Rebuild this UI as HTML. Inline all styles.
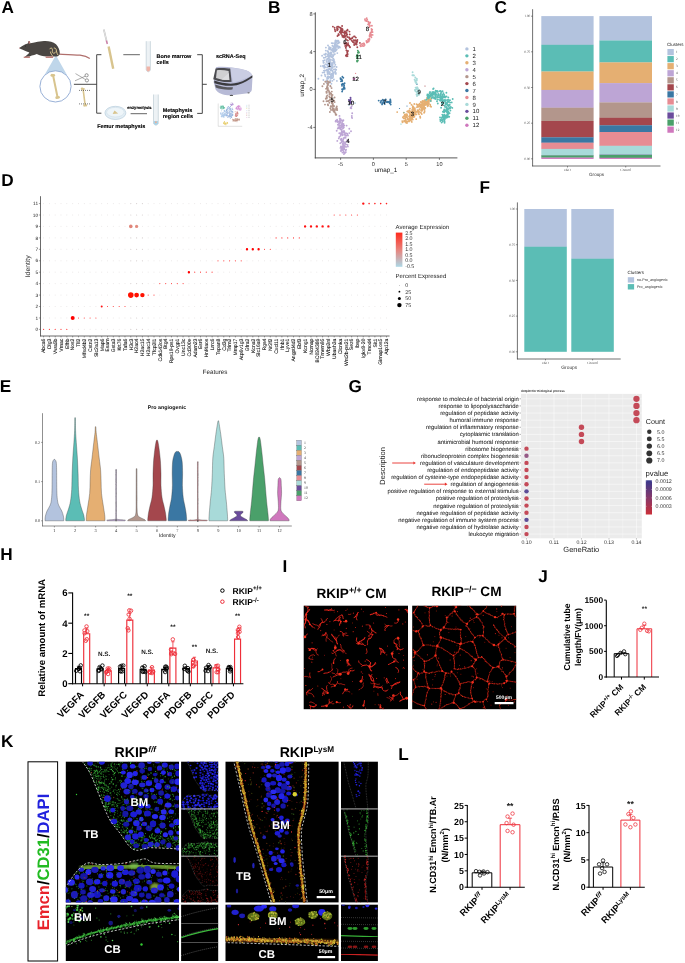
<!DOCTYPE html>
<html><head><meta charset="utf-8"><style>
html,body{margin:0;padding:0;background:#fff;}
svg{display:block;font-family:"Liberation Sans", sans-serif;will-change:transform;}
text{text-rendering:geometricPrecision;}
</style></head><body>
<svg width="685" height="963" viewBox="0 0 685 963">
<rect width="685" height="963" fill="#fff"/>
<text x="1.40" y="12.80" font-size="17.2" font-weight="bold">A</text>
<text x="268.00" y="12.80" font-size="17.2" font-weight="bold">B</text>
<text x="494.40" y="12.60" font-size="17.2" font-weight="bold">C</text>
<text x="1.30" y="186.10" font-size="17.2" font-weight="bold">D</text>
<text x="-0.30" y="391.70" font-size="17.2" font-weight="bold">E</text>
<text x="479.60" y="192.60" font-size="17.2" font-weight="bold">F</text>
<text x="348.40" y="392.20" font-size="17.2" font-weight="bold">G</text>
<text x="0.30" y="560.00" font-size="17.2" font-weight="bold">H</text>
<text x="282.40" y="572.00" font-size="17.2" font-weight="bold">I</text>
<text x="538.20" y="581.60" font-size="17.2" font-weight="bold">J</text>
<text x="0.90" y="747.20" font-size="17.2" font-weight="bold">K</text>
<text x="398.20" y="759.80" font-size="17.2" font-weight="bold">L</text>
<path d="M55.9,55.2 L44.5,75 L67,75 Z" fill="#BFD6EA" />
<circle cx="55.50" cy="86.40" r="15.60" fill="#fff" stroke="#7E9CCB" stroke-width="0.8" />
<line x1="53.00" y1="75.00" x2="57.60" y2="97.50" stroke="#D8C48E" stroke-width="2.0" stroke-linecap="round"/><circle cx="52.02" cy="75.20" r="1.50" fill="#D8C48E" /><circle cx="53.88" cy="75.32" r="1.20" fill="#D8C48E" /><circle cx="56.72" cy="97.68" r="1.40" fill="#D8C48E" /><circle cx="58.48" cy="97.32" r="1.40" fill="#D8C48E" />
<path d="M59.0,54.2 C66,54.4 74,54.5 80,55.2 C84,55.8 87.5,56.9 89.8,58.4" fill="none" stroke="#B06F6C" stroke-width="1.2" />
<path d="M19.3,48.1 C21.5,46.2 24.5,44.6 27.8,43.6 L28.4,41.2 L29.6,41.0 L30.3,43.2 C32.5,42.8 33.8,42.6 35.5,42.3 C38.5,41.6 41,41.1 44,41.0 C48.5,40.8 53,41.6 56,44.3 C58.4,46.6 59.8,50.2 59.8,53.2 C59.7,55.2 58.2,56.2 56.4,56.4 L53,56.6 L47,56.5 C43,56.1 39.5,55.2 36.8,53.9 C35,54.6 33.4,55.3 31.8,55.6 L29.6,56.6 L24.2,57.2 C26.5,55.6 28.2,54.2 29.4,52.6 C27.5,51.6 25.8,50.9 24.3,50.4 C22.3,49.8 20.4,49.1 19.3,48.1 Z" fill="#4A4643" />
<path d="M28.2,41.4 L29.7,41.0 L30.4,43.4 L28.9,44.0 Z" fill="#B77C78" />
<circle cx="19.50" cy="48.00" r="0.55" fill="#C98C8E" />
<path d="M23.6,56.8 L29.6,56.3 L30.0,57.9 L23.8,58.0 Z" fill="#C0827E" />
<path d="M45.4,56.4 L53.0,56.2 L53.2,57.9 L45.8,58.1 Z" fill="#C0827E" />
<circle cx="25.60" cy="46.00" r="0.45" fill="#111" />
<path d="M49.6,49.2 C50.5,47.6 52,47.6 52.4,49.2 C52.8,50.8 51.8,51.6 52.6,52.6 C53.6,53.8 55.0,53.2 55.8,51.6 M53.8,48.0 C55.4,47.8 56.6,49.2 56.4,51.0 C56.6,52.8 57.4,54.0 58.0,55.0 M50.4,51.6 C50.8,53.6 51.6,55.0 52.8,56.0" fill="none" stroke="#D8C48E" stroke-width="1.0" />
<circle cx="86.60" cy="75.30" r="1.60" fill="none" stroke="#555" stroke-width="0.6" />
<circle cx="86.90" cy="80.40" r="1.60" fill="none" stroke="#555" stroke-width="0.6" />
<line x1="85.20" y1="76.20" x2="75.00" y2="80.80" stroke="#777" stroke-width="0.6" />
<line x1="85.40" y1="79.50" x2="75.50" y2="73.60" stroke="#777" stroke-width="0.6" />
<line x1="73.90" y1="84.30" x2="96.70" y2="84.30" stroke="#333" stroke-width="0.9" />
<path d="M101.4,54.7 L96.7,54.7 L96.7,113.2 L101.4,113.2" fill="none" stroke="#333" stroke-width="0.9" />
<line x1="83.00" y1="88.50" x2="85.20" y2="105.50" stroke="#D8C48E" stroke-width="1.6" stroke-linecap="round"/><circle cx="82.01" cy="88.63" r="1.20" fill="#D8C48E" /><circle cx="83.89" cy="88.88" r="0.96" fill="#D8C48E" /><circle cx="84.31" cy="105.62" r="1.12" fill="#D8C48E" /><circle cx="86.09" cy="105.38" r="1.12" fill="#D8C48E" />
<line x1="79.00" y1="90.40" x2="90.00" y2="90.40" stroke="#222" stroke-width="0.6" stroke-dasharray="1,1"/>
<line x1="79.00" y1="103.90" x2="90.00" y2="103.90" stroke="#222" stroke-width="0.6" stroke-dasharray="1,1"/>
<line x1="103.80" y1="29.50" x2="107.20" y2="43.50" stroke="#bbb" stroke-width="1.6" />
<line x1="103.80" y1="29.50" x2="107.20" y2="43.50" stroke="#eee" stroke-width="0.8" />
<line x1="106.30" y1="40.50" x2="107.40" y2="44.00" stroke="#D07BA8" stroke-width="1.3" />
<line x1="108.60" y1="46.50" x2="113.20" y2="68.80" stroke="#D8C48E" stroke-width="2.4" />
<line x1="123.30" y1="54.70" x2="139.90" y2="54.70" stroke="#555" stroke-width="0.9" />
<path d="M146.2,41.2 L146.2,70 Q148.3,73.6 150.4,70 L150.4,41.2" fill="#EDF2F5" stroke="#B5C6CF" stroke-width="0.6" />
<path d="M146.5,66.5 L146.5,70 Q148.3,73.2 150.1,70 L150.1,66.5 Z" fill="#F0B4A8" />
<text x="156.60" y="58.30" font-size="5.45" font-weight="bold" stroke="#000" stroke-width="0.12">Bone marrow</text>
<text x="156.60" y="64.40" font-size="5.45" font-weight="bold" stroke="#000" stroke-width="0.12">cells</text>
<path d="M197.2,54.7 L202.3,54.7 L202.3,113.4 L197.2,113.4 M202.3,84.3 L206.8,84.3" fill="none" stroke="#333" stroke-width="0.9" />
<ellipse cx="115.4" cy="112.9" rx="10.5" ry="6.6" fill="#E3EEF5" stroke="#AFC6D6" stroke-width="0.6"/>
<ellipse cx="115.4" cy="112.2" rx="8.8" ry="4.8" fill="#EEF5F9" stroke="#C3D5E1" stroke-width="0.4"/>
<path d="M112.6,114 L114.5,110.6 L118.2,113.6 Z" fill="#D8C48E" />
<text x="127.30" y="109.10" font-size="4.1" font-weight="bold" stroke="#000" stroke-width="0.12">enzymolysis</text>
<line x1="130.60" y1="113.70" x2="147.00" y2="113.70" stroke="#555" stroke-width="0.9" />
<path d="M153.5,94.5 L153.5,123.5 Q155.9,127 158.3,123.5 L158.3,94.5" fill="#EDF2F5" stroke="#B5C6CF" stroke-width="0.6" />
<path d="M153.8,121 L153.8,123.5 Q155.9,126.5 158.0,123.5 L158.0,121 Z" fill="#A9D4EA" />
<circle cx="155.90" cy="122.30" r="1.00" fill="#E8B09A" />
<text x="162.70" y="111.70" font-size="5.45" font-weight="bold" stroke="#000" stroke-width="0.12">Metaphysis</text>
<text x="162.70" y="118.10" font-size="5.45" font-weight="bold" stroke="#000" stroke-width="0.12">region cells</text>
<text x="97.20" y="127.50" font-size="5.45" font-weight="bold" stroke="#000" stroke-width="0.12">Femur metaphysis</text>
<text x="215.90" y="58.10" font-size="5.45" font-weight="bold" stroke="#000" stroke-width="0.12">scRNA-Seq</text>
<path d="M216,67.2 C222,66.0 236,67.2 246,70.3 C251,72 252.6,75 252.4,79 L251.8,90 C251.4,92.5 249,93.2 246,93.4 L232,95.2 C224,95.6 218,93.2 215.6,89.4 L213.6,82 Z" fill="#B7BAD6" />
<path d="M230,67.6 C236,68.0 242,69.2 246.5,70.6 C250.5,72 252.2,74 252.3,75.6 C246,78.4 240,81.4 233,82.6 Z" fill="#CACDE3" />
<path d="M214.2,80.6 C222,83.2 231,84.8 238.5,82.6 C244,81 249,77.6 252.4,75.2 L252.4,77.4 C249,79.6 244.5,82.6 239,84.4 C231,87 222,85.6 214.4,83.2 Z" fill="#3A3A3E" />
<path d="M215.0,84.4 C222,86.6 228,87.6 233,87.2 L232.4,89.6 C226,90.4 220,89.2 215.8,87.6 Z" fill="#58585D" />
<path d="M215.6,68.4 C220,67.6 226,67.8 230.2,68.6 L231.6,81.8 C226,82.6 219,81.4 213.2,79.2 Z" fill="#4C4C50" />
<path d="M216.9,70.3 C220.5,69.9 225,70.2 228.6,71.0 L229.3,79.9 C225,80.4 220.4,79.6 216.0,78.0 Z" fill="#D0D0D2" />
<path d="M221.5,79.6 L228.9,73.0 L229.3,79.9 Z" fill="#DDDDE0" />
<ellipse cx="231.4" cy="95.4" rx="1.8" ry="0.7" fill="#555"/>
<ellipse cx="248.6" cy="92.8" rx="1.2" ry="0.6" fill="#666"/>
<line x1="218.20" y1="103.50" x2="218.20" y2="126.30" stroke="#999" stroke-width="0.3" />
<line x1="218.20" y1="126.30" x2="242.20" y2="126.30" stroke="#999" stroke-width="0.3" />
<path d="M222.1 108.0h0M222.2 107.0h0M221.1 107.2h0M224.3 107.9h0M224.3 107.7h0M223.3 107.6h0M220.5 108.1h0M223.5 108.0h0M220.8 106.1h0M221.2 106.9h0M223.2 107.3h0M223.5 106.6h0M223.2 107.9h0M221.8 108.9h0M223.4 108.6h0M221.6 106.6h0M222.0 107.3h0M223.7 107.7h0M221.9 106.3h0M221.8 108.7h0M221.2 107.7h0M223.2 106.0h0M222.7 108.8h0M220.2 107.1h0M222.4 106.4h0M223.5 107.3h0M220.6 108.2h0M223.7 108.4h0M224.7 107.8h0M222.8 106.0h0M223.6 106.7h0M221.9 106.1h0M221.1 106.8h0" stroke="#62BFA2" stroke-width="0.80" stroke-linecap="round" fill="none" />
<path d="M224.7 110.7h0M220.9 114.5h0M225.4 115.2h0M221.5 110.8h0M223.9 112.1h0M221.5 116.2h0M225.1 114.4h0M223.7 115.2h0M225.5 115.3h0M224.2 115.4h0M221.2 116.4h0M224.8 115.3h0M220.7 112.9h0M224.3 110.6h0M222.9 116.5h0M221.5 116.9h0M224.2 113.6h0M223.8 115.7h0M223.4 116.8h0M222.0 112.9h0M225.0 114.1h0M221.8 116.2h0M225.4 113.0h0M221.0 113.7h0M222.9 113.2h0M225.2 111.9h0M225.0 111.5h0M221.8 115.6h0M225.0 115.9h0M223.9 114.4h0M223.5 115.6h0M222.9 114.8h0M224.3 114.0h0M224.6 115.4h0M225.8 114.6h0M222.4 113.0h0M223.2 116.4h0M222.6 115.1h0M224.8 110.8h0M221.3 114.6h0M224.0 114.7h0M222.4 115.7h0M223.7 112.6h0M225.9 114.6h0M222.1 113.7h0M222.8 113.8h0M220.5 113.3h0M224.7 111.5h0M223.1 116.4h0M224.4 117.0h0M220.8 113.3h0M222.6 115.7h0M224.2 110.3h0M224.7 111.1h0M224.2 110.9h0M223.5 116.8h0M222.9 114.5h0M224.7 114.4h0M223.1 117.3h0M225.0 113.3h0" stroke="#A8C7EA" stroke-width="0.80" stroke-linecap="round" fill="none" />
<path d="M232.9 109.9h0M231.7 111.3h0M229.9 115.4h0M230.1 115.1h0M227.2 108.1h0M230.9 108.7h0M227.8 107.7h0M232.1 115.0h0M232.3 109.4h0M229.6 108.0h0M231.0 117.5h0M228.0 117.4h0M231.8 111.7h0M226.7 116.0h0M229.4 109.8h0M230.6 114.2h0M232.3 109.2h0M231.6 117.0h0M232.5 111.8h0M228.0 116.2h0M229.9 113.0h0M232.5 111.5h0M226.2 111.4h0M226.5 114.8h0M230.4 109.8h0M229.6 115.9h0M229.8 117.3h0M229.5 116.5h0M231.9 116.9h0M228.1 115.8h0M226.6 109.4h0M226.6 115.3h0M227.0 112.4h0M229.1 112.3h0M228.2 113.4h0M232.8 112.5h0M230.8 116.3h0M229.2 107.7h0M228.4 116.5h0M226.6 110.5h0M231.7 115.4h0M229.6 115.8h0M230.0 107.9h0M226.7 110.3h0M231.6 110.2h0M227.7 109.4h0M226.6 112.0h0M227.1 113.8h0M226.1 113.3h0M228.5 106.7h0M231.3 111.2h0M226.3 110.1h0M230.3 110.4h0M231.3 115.3h0M231.2 113.8h0M232.2 114.7h0M230.3 106.5h0M231.3 116.9h0M228.9 110.4h0M232.2 108.2h0M230.3 118.5h0M227.6 115.1h0M232.9 112.0h0M230.8 116.0h0M227.5 112.0h0M230.3 115.8h0M229.5 111.5h0M227.3 111.0h0M231.7 112.8h0M227.8 109.2h0M232.9 114.9h0M230.4 106.3h0M231.1 114.4h0M232.7 113.8h0M229.4 114.7h0M226.6 115.3h0M230.4 109.4h0M231.6 117.3h0M226.9 110.1h0M230.3 113.2h0M228.7 108.5h0M232.7 115.1h0M227.5 108.1h0M232.5 115.4h0M232.7 114.8h0M227.6 113.5h0M226.3 110.4h0M229.5 114.7h0M227.9 111.9h0M230.7 114.0h0M231.1 113.3h0M228.8 115.7h0M229.7 109.0h0M228.1 112.4h0M229.3 113.1h0M229.6 113.2h0M229.3 107.7h0M230.5 116.5h0M230.7 111.6h0M230.6 108.6h0M226.3 112.6h0M227.6 115.2h0M228.2 106.5h0M227.8 117.3h0" stroke="#90AEDC" stroke-width="0.80" stroke-linecap="round" fill="none" />
<path d="M231.2 102.9h0M230.7 104.5h0M232.2 104.2h0M233.0 104.5h0M231.6 104.6h0M233.0 104.7h0M232.6 103.2h0M231.4 104.7h0M231.3 104.9h0M232.3 104.8h0M231.5 105.4h0M232.9 103.8h0M231.7 105.4h0M231.2 104.8h0M232.7 104.0h0M230.3 104.2h0M232.0 104.9h0M232.5 104.0h0M232.6 104.5h0" stroke="#B79AD8" stroke-width="0.80" stroke-linecap="round" fill="none" />
<path d="M239.0 108.7h0M238.1 109.9h0M236.7 107.6h0M238.6 106.3h0M238.0 106.0h0M237.3 109.6h0M239.8 108.5h0M238.2 106.4h0M241.2 109.3h0M240.4 107.2h0M238.3 106.1h0M240.0 110.2h0M235.9 108.5h0M239.5 106.2h0M236.2 107.3h0M237.6 106.5h0M238.7 109.1h0M239.8 109.8h0M240.8 110.2h0M236.4 107.8h0M236.9 107.0h0M238.4 108.6h0M239.4 106.3h0M236.4 108.6h0M238.2 108.0h0M238.5 107.2h0M240.0 109.3h0M238.4 107.3h0M238.4 105.8h0M236.7 108.7h0M236.1 108.9h0M238.9 106.4h0M238.1 108.0h0M239.5 109.7h0M238.5 107.1h0M238.3 108.5h0M240.0 109.1h0M237.4 106.5h0M237.9 107.3h0M236.6 108.4h0M237.6 108.8h0M239.7 107.8h0M241.5 108.2h0M240.6 108.8h0M239.9 106.1h0M237.1 109.1h0" stroke="#D790D6" stroke-width="0.80" stroke-linecap="round" fill="none" />
<path d="M236.8 116.4h0M236.7 115.9h0M237.2 115.4h0M237.0 113.5h0M236.9 112.0h0M237.5 112.3h0M236.6 116.4h0M236.1 113.8h0M237.7 113.8h0M235.5 114.3h0M237.1 115.1h0M235.7 116.1h0M238.0 113.8h0M236.7 113.0h0M237.8 112.7h0M237.2 112.9h0M235.6 115.1h0M237.8 113.8h0M235.6 115.2h0M236.3 114.4h0M237.7 115.3h0M236.0 116.4h0M236.4 115.2h0M235.6 113.7h0M235.2 115.8h0M237.6 112.1h0M235.2 111.8h0" stroke="#D27A7A" stroke-width="0.80" stroke-linecap="round" fill="none" />
<path d="M238.8 119.5h0M235.8 119.6h0M235.7 118.8h0M236.1 118.6h0M235.8 120.4h0M237.3 119.7h0M233.7 120.2h0M235.0 121.5h0M238.0 119.9h0M234.8 119.2h0M233.6 119.6h0M236.8 120.6h0M237.0 121.7h0M234.1 120.0h0M239.3 119.0h0M234.6 120.2h0M236.4 120.5h0M235.3 120.5h0M236.1 120.9h0M232.6 119.3h0M236.0 118.8h0M233.5 120.7h0M234.3 120.7h0M237.9 120.4h0M237.4 119.9h0M232.8 120.0h0M237.2 119.4h0M235.7 120.9h0M233.8 120.7h0M239.5 119.5h0M236.4 119.8h0M239.3 120.3h0M238.2 119.2h0M236.0 120.0h0M233.0 121.1h0M237.7 118.5h0M238.0 119.8h0M237.2 120.4h0" stroke="#BF8F80" stroke-width="0.80" stroke-linecap="round" fill="none" />
<path d="M223.6 123.0h0M227.5 122.7h0M224.3 121.9h0M223.9 123.6h0M227.7 123.6h0M225.9 124.9h0M224.8 122.4h0M226.4 123.9h0M224.3 122.1h0M226.1 123.5h0M223.8 123.0h0M224.7 123.8h0M225.4 123.1h0M225.1 124.4h0M227.5 122.8h0M226.8 122.4h0M225.7 124.1h0M227.6 122.8h0M225.5 123.4h0M223.6 123.2h0M224.5 123.6h0M224.5 121.7h0M225.7 123.5h0M224.8 124.2h0" stroke="#E6CB66" stroke-width="0.80" stroke-linecap="round" fill="none" />
<circle cx="246.80" cy="105.20" r="0.40" fill="#9BC4E8" />
<line x1="247.80" y1="105.20" x2="250.00" y2="105.20" stroke="#bbb" stroke-width="0.4" />
<circle cx="246.80" cy="106.95" r="0.40" fill="#62BFA2" />
<line x1="247.80" y1="106.95" x2="250.00" y2="106.95" stroke="#bbb" stroke-width="0.4" />
<circle cx="246.80" cy="108.70" r="0.40" fill="#E6CB66" />
<line x1="247.80" y1="108.70" x2="250.00" y2="108.70" stroke="#bbb" stroke-width="0.4" />
<circle cx="246.80" cy="110.45" r="0.40" fill="#A8C7EA" />
<line x1="247.80" y1="110.45" x2="250.00" y2="110.45" stroke="#bbb" stroke-width="0.4" />
<circle cx="246.80" cy="112.20" r="0.40" fill="#B79AD8" />
<line x1="247.80" y1="112.20" x2="250.00" y2="112.20" stroke="#bbb" stroke-width="0.4" />
<circle cx="246.80" cy="113.95" r="0.40" fill="#D27A7A" />
<line x1="247.80" y1="113.95" x2="250.00" y2="113.95" stroke="#bbb" stroke-width="0.4" />
<circle cx="246.80" cy="115.70" r="0.40" fill="#BF8F80" />
<line x1="247.80" y1="115.70" x2="250.00" y2="115.70" stroke="#bbb" stroke-width="0.4" />
<circle cx="246.80" cy="117.45" r="0.40" fill="#D790D6" />
<line x1="247.80" y1="117.45" x2="250.00" y2="117.45" stroke="#bbb" stroke-width="0.4" />
<path d="M330.3 48.9h0M328.0 63.2h0M338.2 40.6h0M335.7 49.3h0M324.9 74.8h0M331.7 43.1h0M328.9 55.1h0M336.6 41.1h0M337.3 53.1h0M328.0 51.3h0M332.9 67.0h0M321.5 75.5h0M331.2 76.9h0M335.7 48.2h0M327.6 69.8h0M327.3 58.7h0M334.1 60.0h0M335.2 71.4h0M333.4 74.0h0M332.3 78.0h0M331.2 76.3h0M328.7 64.5h0M331.2 74.7h0M327.8 73.7h0M332.4 45.8h0M336.6 42.3h0M325.4 76.3h0M323.4 80.0h0M334.9 54.1h0M337.7 43.5h0M329.8 65.6h0M326.7 82.8h0M327.5 78.9h0M326.0 56.7h0M322.1 55.8h0M323.8 62.8h0M330.5 56.3h0M328.7 60.6h0M329.2 56.0h0M328.1 63.7h0M323.2 66.6h0M329.2 48.8h0M339.4 42.5h0M330.0 81.8h0M327.4 67.3h0M328.6 55.3h0M328.0 55.4h0M335.3 41.0h0M332.3 57.5h0M333.8 52.1h0M332.2 70.4h0M332.6 50.3h0M331.2 77.5h0M332.5 63.3h0M335.2 51.2h0M335.2 43.6h0M333.0 51.6h0M330.5 62.4h0M334.0 49.0h0M330.5 53.2h0M323.2 60.8h0M339.5 46.6h0M333.1 75.7h0M331.5 78.2h0M332.5 65.2h0M328.4 64.2h0M336.0 50.5h0M332.1 50.6h0M327.6 70.7h0M333.0 74.3h0M337.7 40.7h0M329.7 48.8h0M334.3 54.5h0M330.7 59.7h0M330.2 55.6h0M329.2 47.1h0M335.3 42.1h0M329.8 72.4h0M330.0 64.4h0M331.7 54.2h0M323.8 57.7h0M338.6 41.3h0M339.9 47.6h0M333.1 76.9h0M330.2 55.1h0M325.9 64.1h0M333.0 48.8h0M328.3 58.4h0M336.8 45.3h0M329.9 60.4h0M326.8 69.9h0M325.1 54.7h0M328.5 52.9h0M328.7 48.9h0M334.8 44.3h0M332.6 74.8h0M330.5 74.5h0M334.4 63.1h0M334.7 62.1h0M328.7 61.8h0M335.4 44.5h0M334.7 45.4h0M338.8 46.4h0M338.2 48.0h0M336.8 42.8h0M334.0 72.8h0M335.8 73.9h0M328.9 58.6h0M330.8 69.8h0M325.8 50.6h0M333.5 51.5h0M329.2 60.7h0M327.9 56.3h0M333.4 58.6h0M327.2 81.6h0M332.9 43.2h0M324.7 66.7h0M331.0 64.6h0M335.7 40.4h0M323.5 62.8h0M333.5 49.1h0M327.9 66.3h0M332.5 67.0h0M322.6 72.6h0M328.7 66.3h0M336.1 42.0h0M332.7 48.6h0M336.9 80.9h0M326.1 56.6h0M331.6 70.1h0M328.1 51.9h0M329.0 47.1h0M329.9 61.2h0M324.8 60.1h0M329.9 77.0h0M334.0 54.2h0M331.8 73.6h0M328.5 78.4h0M330.9 70.5h0M328.9 77.1h0M328.8 62.9h0M327.6 54.6h0M328.0 45.4h0M328.3 54.9h0M331.3 49.8h0M331.0 75.5h0M327.0 81.6h0M327.8 76.5h0M330.3 63.4h0M335.2 69.2h0M332.7 64.5h0M329.6 49.2h0M331.5 68.0h0M332.8 73.1h0M335.9 73.0h0M333.1 48.8h0M323.5 62.0h0M328.7 60.3h0M335.8 40.7h0M328.9 58.0h0M328.1 54.3h0M335.9 42.4h0M327.4 74.1h0M324.2 54.4h0M331.4 52.6h0M333.2 51.6h0M329.2 69.2h0M330.3 49.6h0M329.6 68.4h0M333.5 47.0h0M326.8 60.0h0M332.6 49.4h0M336.6 67.0h0M325.8 53.6h0M335.3 64.7h0M333.7 49.3h0M329.0 63.9h0M327.1 67.4h0M326.8 61.6h0M333.7 62.2h0M324.3 67.9h0M330.9 78.5h0M328.7 71.4h0M330.6 55.4h0M332.3 60.1h0M329.2 73.9h0M323.8 70.6h0M329.1 65.4h0M336.2 69.8h0M329.9 53.2h0M336.2 45.0h0M334.9 50.5h0M325.2 67.3h0M327.7 70.5h0M327.4 72.2h0M329.4 74.0h0M325.9 53.8h0M334.7 49.0h0M332.2 75.2h0M333.9 49.3h0M330.3 56.6h0M336.5 46.8h0M338.3 43.3h0M329.5 55.0h0M329.3 56.4h0M330.2 80.5h0M332.2 63.3h0M331.4 54.4h0M328.3 76.5h0M332.4 57.2h0M332.0 54.8h0M328.1 66.8h0M334.6 66.6h0M338.5 41.2h0M334.7 47.2h0M331.4 64.8h0M326.5 80.4h0M330.7 77.2h0M325.9 47.6h0M335.0 47.4h0M334.0 46.1h0M331.5 66.4h0M328.7 62.5h0M332.5 60.4h0M330.6 62.3h0M329.2 61.4h0M324.4 65.3h0M328.0 55.3h0M333.8 69.4h0M328.7 69.2h0M334.8 46.4h0M332.2 73.4h0M329.6 74.0h0M333.2 56.0h0M332.3 80.9h0M337.8 46.2h0M334.1 50.1h0M328.7 65.7h0M334.6 48.9h0M322.9 66.0h0M330.3 59.4h0M334.1 48.5h0M330.3 74.1h0M331.4 83.7h0M334.8 44.3h0M326.0 70.5h0M332.0 68.3h0M327.2 64.9h0M324.5 70.5h0M330.7 47.7h0M332.7 71.2h0M333.7 61.3h0M324.3 72.5h0M329.9 68.1h0M329.2 82.2h0M336.2 45.0h0M329.2 72.7h0M327.0 77.9h0M320.8 66.1h0M333.1 75.9h0M318.4 78.8h0M328.3 83.9h0M336.8 49.6h0M327.6 51.2h0M337.0 41.2h0M326.5 61.9h0M329.0 72.1h0M330.6 52.5h0M334.7 43.1h0M333.9 79.5h0M331.7 57.0h0M325.1 57.6h0" stroke="#B3C3DE" stroke-width="1.90" stroke-linecap="round" fill="none" />
<path d="M344.8 31.4h0M349.5 31.6h0M342.5 36.7h0M337.6 28.7h0M347.7 37.0h0M340.6 27.8h0M357.4 40.0h0M336.9 27.9h0M344.6 35.1h0M349.4 37.7h0M342.0 28.7h0M344.0 32.1h0M346.5 32.7h0M352.9 42.0h0M352.5 37.4h0M351.8 40.7h0M342.7 30.2h0M356.4 41.3h0M354.0 36.4h0M345.8 39.0h0M341.0 33.0h0M355.6 43.5h0M338.8 34.3h0M347.0 34.3h0M340.0 32.0h0M355.9 37.6h0M352.2 38.2h0M345.2 36.6h0M351.7 38.6h0M347.9 40.6h0M357.2 41.7h0M341.4 29.6h0M345.1 31.5h0M347.5 29.7h0M341.0 33.7h0M338.8 35.1h0M337.8 29.6h0M334.6 27.8h0M351.0 38.7h0M335.3 31.2h0M337.2 30.3h0M340.9 31.3h0M342.3 30.6h0M357.3 47.2h0M349.3 37.5h0M337.2 26.8h0M342.1 26.0h0M339.2 27.3h0M346.1 35.2h0M356.6 44.5h0M340.5 30.9h0M356.1 43.1h0M359.9 42.9h0M337.5 36.0h0M345.5 33.0h0M334.9 29.7h0M350.1 39.4h0M344.0 37.4h0M354.2 43.9h0M356.1 42.1h0M356.7 42.7h0M341.8 32.3h0M354.2 45.1h0M342.5 29.3h0M355.8 40.5h0M347.1 34.7h0M345.8 36.8h0M347.1 40.1h0M342.8 35.6h0M354.7 36.5h0M354.8 40.4h0M356.4 44.3h0M346.2 33.0h0M348.1 44.6h0M342.1 35.2h0M356.5 41.8h0M344.5 33.8h0M347.6 30.4h0M338.4 26.6h0M356.0 44.4h0M349.7 34.4h0M353.7 40.1h0M339.7 32.0h0M340.7 28.9h0M349.4 38.5h0M342.7 32.4h0M337.1 29.8h0M332.9 26.6h0M346.8 30.8h0M355.3 40.2h0M353.9 42.2h0M338.4 34.3h0M343.8 36.3h0" stroke="#A4474D" stroke-width="1.90" stroke-linecap="round" fill="none" />
<path d="M348.0 51.0h0M350.0 47.3h0M346.6 46.1h0M346.4 50.3h0M347.2 52.0h0M346.9 56.3h0M347.9 44.6h0M348.1 43.1h0M349.7 46.8h0M345.8 47.8h0M347.5 56.1h0M346.1 43.0h0M345.9 55.8h0M346.6 45.0h0M346.5 54.6h0M346.5 55.8h0M345.9 48.0h0M344.5 43.5h0M347.8 44.3h0M347.2 54.2h0M345.0 43.4h0M347.5 44.1h0M347.8 54.1h0M346.7 56.1h0M348.5 45.2h0M349.1 45.7h0M345.0 43.7h0M346.7 45.8h0M347.3 52.8h0M345.2 45.9h0M346.7 44.7h0" stroke="#A4474D" stroke-width="1.90" stroke-linecap="round" fill="none" />
<path d="M369.2 38.9h0M366.7 41.8h0M369.6 36.2h0M366.7 18.2h0M370.4 32.9h0M363.4 43.5h0M366.8 42.5h0M360.2 45.5h0M367.7 41.7h0M371.4 37.2h0M364.0 43.5h0M363.8 44.0h0M370.8 35.8h0M367.2 19.7h0M371.9 25.8h0M372.6 34.9h0M367.7 41.2h0M369.4 38.5h0M370.5 32.6h0M368.1 39.5h0M366.7 21.0h0M368.8 41.4h0M368.1 24.4h0M368.4 21.6h0M368.7 23.8h0M365.2 20.6h0M363.7 43.6h0M366.4 21.0h0M363.8 46.0h0M370.4 33.2h0M362.1 45.9h0M371.2 34.7h0M361.3 44.1h0M364.6 44.9h0M367.8 42.1h0M360.7 46.3h0M368.4 22.0h0M369.6 35.4h0M366.4 40.9h0M371.7 30.5h0M369.9 34.6h0M366.7 20.8h0M369.4 23.0h0M362.7 43.8h0M372.2 29.8h0M368.4 40.7h0M370.2 22.4h0M371.1 32.6h0M370.1 34.0h0M369.6 23.7h0M364.2 44.0h0M367.1 19.7h0M372.6 32.1h0M369.9 25.8h0M369.9 25.9h0M365.0 19.2h0M362.5 45.9h0M371.5 28.9h0M369.5 39.8h0M371.6 31.2h0M369.2 25.0h0M369.3 27.0h0" stroke="#E78C93" stroke-width="1.90" stroke-linecap="round" fill="none" />
<path d="M357.3 57.5h0M357.9 52.7h0M357.3 58.4h0M356.7 56.4h0M356.9 57.0h0M358.4 51.7h0M359.0 52.5h0M357.0 57.8h0M357.1 61.5h0M357.3 61.5h0M357.6 58.1h0M358.5 55.8h0M357.8 50.6h0M357.9 60.4h0M357.1 54.9h0M358.5 55.6h0M358.3 52.7h0M356.9 60.9h0" stroke="#4AA06A" stroke-width="1.90" stroke-linecap="round" fill="none" />
<path d="M354.0 79.0h0M354.5 78.8h0M353.5 79.0h0" stroke="#CF78BD" stroke-width="1.90" stroke-linecap="round" fill="none" />
<path d="M342.4 76.7h0M342.1 91.5h0M342.0 85.7h0M344.1 85.7h0M343.2 89.0h0M341.0 81.3h0M344.4 87.5h0M341.6 79.5h0M340.6 79.0h0M342.2 80.3h0M340.9 78.8h0M342.6 89.8h0M344.6 83.3h0M342.1 89.2h0M342.2 81.1h0M340.5 78.1h0M344.7 88.7h0M341.8 84.5h0M343.1 84.0h0M342.6 83.8h0M343.3 77.8h0M343.8 87.3h0M343.7 88.1h0M344.0 85.1h0" stroke="#3A77A3" stroke-width="1.90" stroke-linecap="round" fill="none" />
<path d="M390.6 100.9h0M382.2 103.5h0M384.0 102.6h0M390.2 102.1h0M389.9 103.1h0M390.6 102.5h0M389.8 102.7h0M390.7 104.6h0M383.3 102.0h0M384.5 100.6h0M384.7 104.0h0M390.3 99.5h0M380.8 101.9h0M384.6 100.4h0M389.5 101.6h0M388.0 102.2h0M382.1 104.4h0M383.3 100.4h0M389.8 103.3h0M383.1 102.9h0M386.6 102.0h0M389.4 101.7h0M384.5 102.2h0M380.6 102.5h0M383.9 102.1h0M385.7 99.4h0M387.8 101.7h0M382.8 99.7h0M381.2 100.7h0M383.2 102.1h0M378.7 100.6h0" stroke="#3A77A3" stroke-width="1.90" stroke-linecap="round" fill="none" />
<path d="M326.8 98.6h0M334.5 111.2h0M328.2 84.0h0M332.7 108.3h0M332.5 95.0h0M334.3 109.9h0M331.9 96.3h0M329.1 91.8h0M333.7 111.5h0M334.7 102.1h0M330.3 85.9h0M327.8 90.0h0M327.7 87.6h0M331.3 97.5h0M331.6 101.1h0M332.3 106.1h0M322.4 86.3h0M326.9 87.8h0M330.9 109.9h0M333.9 106.4h0M334.0 106.0h0M330.2 92.9h0M326.9 97.7h0M330.7 106.3h0M332.8 104.5h0M329.9 82.2h0M325.0 104.6h0M329.3 96.6h0M326.8 91.5h0M333.4 110.8h0M328.4 101.0h0M326.6 97.3h0M334.6 112.3h0M328.7 90.4h0M325.8 98.7h0M327.7 89.0h0M329.9 99.9h0M329.3 91.9h0M327.4 95.5h0M332.6 99.6h0M325.3 81.7h0M327.5 81.1h0M326.1 88.8h0M331.5 95.4h0M331.2 93.8h0M326.5 92.8h0M328.0 81.5h0M328.8 82.2h0M327.1 86.1h0M327.2 81.8h0M335.7 114.8h0M330.6 86.4h0M331.8 102.7h0M336.8 106.4h0M336.4 107.4h0M332.6 101.4h0M329.3 92.4h0M336.0 109.7h0M331.8 91.6h0M331.9 103.3h0M326.4 91.7h0M334.2 100.6h0M333.7 110.1h0M329.6 93.5h0M326.7 96.1h0M327.9 88.7h0M329.4 102.8h0M323.5 101.3h0M330.3 108.2h0M335.6 113.4h0M337.0 108.4h0M329.8 97.6h0M327.9 85.4h0M331.9 109.9h0M333.0 109.3h0M326.5 101.3h0M328.1 105.3h0M333.8 108.7h0M327.3 83.8h0M332.0 106.7h0M327.3 101.1h0M326.8 92.8h0M336.3 114.7h0M333.2 110.4h0M337.2 110.0h0M328.8 100.8h0M332.9 104.0h0M331.6 88.1h0M329.5 94.5h0M332.4 102.9h0M332.5 105.4h0M336.1 108.4h0M331.9 98.4h0M332.6 109.1h0M329.9 112.0h0M334.6 97.5h0M327.2 86.5h0M323.9 83.9h0M327.8 104.4h0" stroke="#B3968C" stroke-width="1.90" stroke-linecap="round" fill="none" />
<path d="M350.1 101.5h0M348.9 100.0h0M351.4 102.8h0M350.6 98.0h0M350.5 97.6h0M349.7 103.2h0M351.2 103.0h0M350.6 99.7h0M350.3 101.0h0" stroke="#6A4C9C" stroke-width="1.90" stroke-linecap="round" fill="none" />
<path d="M352.1 118.1h0M350.6 108.0h0M352.2 113.3h0M351.8 115.9h0M351.6 106.3h0M351.9 117.6h0M351.3 108.3h0M351.5 106.5h0" stroke="#BDA5D5" stroke-width="1.90" stroke-linecap="round" fill="none" />
<path d="M346.0 144.4h0M343.2 144.9h0M344.4 132.8h0M340.5 127.1h0M341.2 149.7h0M344.8 153.2h0M343.6 151.5h0M348.4 142.0h0M341.8 131.2h0M337.8 128.5h0M340.1 121.6h0M343.9 154.1h0M347.6 145.0h0M342.8 147.4h0M342.0 120.5h0M340.8 120.4h0M339.4 121.6h0M340.0 119.5h0M347.7 134.9h0M342.6 143.9h0M339.1 123.4h0M342.7 146.8h0M342.6 135.3h0M341.3 125.2h0M347.2 140.3h0M340.5 147.9h0M343.9 131.2h0M337.9 124.7h0M339.7 128.2h0M345.1 143.6h0M339.3 136.9h0M340.5 122.7h0M341.7 127.0h0M339.3 133.2h0M340.8 150.9h0M341.4 124.7h0M345.2 142.5h0M342.6 150.0h0M345.2 135.2h0M343.1 141.2h0M342.5 125.5h0M342.9 132.4h0M342.2 141.9h0M347.9 146.6h0M343.8 125.6h0M341.4 133.8h0M344.1 148.5h0M340.1 118.8h0M341.3 125.1h0M338.4 127.1h0M338.5 124.2h0M341.6 142.1h0M339.7 125.5h0M338.8 138.4h0M339.7 118.4h0M338.9 125.0h0M340.7 119.3h0M339.3 121.0h0M342.4 152.6h0M345.6 150.3h0M340.6 122.7h0M342.3 123.8h0M340.5 129.4h0M337.3 140.9h0M336.7 130.7h0M344.3 131.3h0M346.6 125.6h0M342.1 132.1h0M342.1 148.5h0M341.7 129.4h0M337.4 122.0h0M340.6 135.8h0M343.4 120.2h0M343.9 144.3h0M343.0 128.4h0M343.2 145.8h0M344.5 152.6h0M344.3 149.1h0M340.7 119.8h0M339.5 115.9h0M335.6 121.5h0M340.8 134.4h0M349.3 133.1h0M343.8 145.6h0M341.2 139.8h0M343.3 139.3h0M343.3 149.8h0M341.1 151.0h0M344.1 131.9h0M343.5 152.4h0M343.8 127.5h0M344.5 134.5h0M341.2 138.8h0M340.6 127.9h0M346.1 149.7h0M342.5 146.2h0M344.2 152.4h0M335.8 120.7h0M341.0 132.9h0M342.3 121.7h0M338.6 121.6h0M346.1 135.8h0M338.9 124.4h0M339.4 122.5h0M343.0 139.9h0M344.2 125.5h0M342.7 126.6h0M343.5 123.9h0M351.0 131.2h0M344.6 146.7h0M343.5 138.2h0M341.6 130.0h0M340.7 139.8h0M343.8 138.3h0M342.0 147.3h0M343.8 148.9h0M337.2 120.4h0M346.0 133.2h0M342.2 123.5h0M343.7 125.4h0M339.5 122.3h0M349.3 128.8h0M345.5 142.1h0M338.7 128.0h0M337.1 119.8h0M345.6 137.8h0M343.6 142.0h0M347.7 140.9h0M344.6 137.4h0M343.4 147.6h0M339.3 127.5h0M341.7 132.0h0M342.5 134.5h0M340.9 146.4h0M345.9 152.1h0M347.2 133.8h0M344.7 145.9h0M341.3 150.4h0M348.0 135.6h0M343.3 132.1h0M340.3 143.2h0M343.1 143.9h0M346.1 146.9h0M342.7 121.2h0M343.6 131.3h0M342.9 132.6h0M341.8 148.9h0M341.8 141.2h0" stroke="#BDA5D5" stroke-width="1.90" stroke-linecap="round" fill="none" />
<path d="M410.0 115.2h0M410.5 114.3h0M407.1 117.6h0M412.6 108.0h0M411.4 114.4h0M424.0 107.4h0M411.0 111.7h0M416.4 114.4h0M424.6 109.9h0M427.6 103.8h0M428.2 102.6h0M425.1 105.1h0M422.2 110.1h0M414.8 111.3h0M419.4 106.0h0M406.2 121.2h0M428.8 98.1h0M424.4 108.4h0M431.1 98.0h0M423.5 101.2h0M426.4 103.4h0M413.8 114.9h0M418.2 111.7h0M404.2 121.4h0M419.6 109.1h0M416.2 119.1h0M416.6 104.2h0M405.3 120.6h0M415.5 111.5h0M410.6 117.3h0M420.5 107.4h0M409.5 112.6h0M421.0 105.8h0M422.4 110.0h0M427.1 102.6h0M406.0 114.8h0M418.6 106.8h0M397.2 112.1h0M403.8 112.8h0M418.8 110.1h0M427.2 104.4h0M413.4 107.0h0M413.0 110.3h0M413.3 116.8h0M423.6 106.7h0M412.8 119.6h0M404.7 115.0h0M414.4 111.2h0M414.8 108.1h0M412.9 115.5h0M413.0 110.4h0M414.4 116.8h0M431.1 106.8h0M418.5 113.5h0M411.8 121.9h0M429.2 99.8h0M418.5 104.6h0M423.8 108.9h0M427.6 102.3h0M406.1 114.3h0M425.0 100.8h0M402.9 117.2h0M428.1 102.3h0M417.6 110.9h0M407.0 123.0h0M410.0 108.6h0M427.7 106.2h0M422.5 100.9h0M420.8 102.0h0M419.3 111.9h0M426.2 104.7h0M424.3 100.6h0M414.1 111.7h0M410.4 120.0h0M420.9 112.7h0M405.7 119.4h0M420.3 117.8h0M414.2 110.6h0M413.0 112.2h0M410.0 103.0h0M424.4 108.3h0M428.9 101.1h0M406.2 122.8h0M409.7 115.7h0M420.4 105.7h0M414.9 109.0h0M411.5 104.8h0M412.3 118.6h0M412.1 109.9h0M404.9 116.5h0M405.0 117.8h0M414.3 104.0h0M428.6 103.8h0M428.4 102.9h0M407.8 119.3h0M420.1 116.4h0M427.4 98.3h0M417.2 111.7h0M412.9 117.3h0M409.1 121.4h0M426.0 102.6h0M409.2 110.5h0M407.0 114.5h0M424.9 104.8h0M415.2 111.6h0M421.1 110.5h0M422.0 110.8h0M414.5 112.8h0M424.4 108.3h0M420.0 104.4h0M417.6 105.2h0M407.2 111.4h0M417.5 110.1h0M413.7 108.4h0M407.2 115.8h0M412.4 112.0h0M427.0 104.2h0M424.4 103.7h0M405.8 119.4h0M409.6 117.5h0M409.7 118.9h0M412.8 106.2h0M425.3 104.9h0M421.8 104.1h0M408.4 112.4h0M411.7 112.9h0M428.8 101.9h0M404.8 114.7h0M405.7 117.0h0M411.3 116.9h0M421.8 102.4h0M430.2 104.8h0M425.3 102.1h0M405.1 118.4h0M407.9 111.6h0M411.6 119.0h0M419.7 103.8h0M426.5 101.4h0M421.3 104.5h0M404.2 120.7h0M421.6 109.5h0M403.6 118.3h0M423.7 105.5h0M430.3 106.2h0M428.9 103.2h0M411.0 115.5h0M428.7 100.6h0M421.9 107.8h0M413.3 109.8h0M412.7 107.8h0M411.7 113.7h0M415.0 110.3h0M410.8 118.0h0M422.6 102.7h0M428.0 101.4h0M406.7 115.8h0M421.3 110.8h0M421.9 108.6h0M424.6 111.8h0M421.9 106.7h0M415.8 112.5h0M428.0 103.2h0M424.9 102.3h0M426.8 101.6h0M407.8 111.2h0M409.0 120.0h0M406.3 117.2h0M403.9 116.1h0M402.2 121.1h0M414.6 109.6h0M427.9 99.7h0M404.2 121.3h0M415.7 114.5h0M412.7 116.9h0M419.0 114.2h0M426.9 98.1h0M405.3 117.3h0M424.4 102.9h0M424.1 106.8h0M425.3 103.0h0M407.7 121.4h0M418.3 110.5h0M428.1 105.5h0M430.8 99.4h0M413.3 111.3h0M422.4 103.5h0M405.9 122.1h0M423.2 103.8h0M407.9 119.3h0M411.5 112.2h0M410.0 111.3h0M424.6 100.2h0M411.4 114.8h0M430.7 101.0h0M421.8 114.1h0M417.5 110.1h0M414.7 109.2h0M406.3 115.3h0M405.6 122.0h0M421.3 107.6h0M411.3 121.0h0M411.6 115.9h0M411.4 117.6h0M417.5 106.2h0M424.1 112.7h0M409.8 117.8h0M417.0 107.3h0M414.1 116.0h0M423.2 108.6h0M422.4 105.1h0M428.1 99.2h0M414.9 113.8h0M425.3 108.0h0M409.2 118.8h0M409.0 116.5h0M412.9 114.4h0M414.0 108.9h0M428.1 100.6h0M424.0 108.9h0M423.1 107.0h0M409.9 114.0h0M413.1 112.5h0M402.5 122.2h0" stroke="#E5AF72" stroke-width="1.90" stroke-linecap="round" fill="none" />
<path d="M429.4 96.8h0M447.8 115.5h0M429.5 96.3h0M429.5 93.3h0M446.1 111.6h0M439.9 97.5h0M427.3 95.5h0M439.4 91.1h0M448.5 99.9h0M442.5 98.5h0M444.3 119.9h0M443.2 117.0h0M439.9 95.1h0M447.6 117.2h0M435.8 92.1h0M446.8 109.7h0M446.6 104.0h0M429.1 97.9h0M440.4 121.0h0M447.5 113.2h0M443.3 115.9h0M449.6 113.2h0M442.2 101.1h0M435.9 96.4h0M433.6 88.5h0M444.7 105.7h0M443.0 102.3h0M442.7 120.0h0M450.1 108.5h0M448.1 102.1h0M430.5 94.6h0M435.1 98.8h0M442.3 99.7h0M446.5 102.9h0M445.8 100.3h0M449.3 107.7h0M442.7 121.6h0M440.3 119.8h0M437.0 101.2h0M448.8 106.6h0M446.0 104.2h0M444.1 118.6h0M443.7 100.5h0M448.2 113.4h0M436.1 95.2h0M442.9 97.5h0M443.8 117.6h0M452.3 107.9h0M446.8 103.7h0M445.1 97.6h0M434.9 97.7h0M442.6 97.4h0M429.5 96.0h0M431.8 98.3h0M445.6 116.2h0M442.1 119.8h0M444.6 122.7h0M431.2 95.8h0M443.0 103.7h0M432.2 92.2h0M441.7 118.0h0M435.3 93.0h0M432.3 97.2h0M437.1 97.3h0M440.1 97.4h0M447.2 109.1h0M449.7 104.8h0M443.0 96.6h0M447.3 114.6h0M445.4 103.2h0M445.8 110.5h0M440.6 90.9h0M441.7 97.2h0M447.1 112.6h0M445.0 115.9h0M442.9 111.7h0M447.7 111.5h0M444.1 95.0h0M448.3 111.7h0M431.9 93.4h0M450.0 100.3h0M444.8 116.4h0M441.6 122.6h0M440.1 100.4h0M447.5 100.0h0M433.7 94.1h0M446.3 117.7h0M444.0 110.5h0M445.5 115.7h0M444.3 111.4h0M438.0 95.2h0M442.7 120.1h0M436.2 96.9h0M444.8 119.3h0M443.9 97.0h0M430.0 96.7h0M437.4 97.4h0M429.0 95.5h0M444.6 117.0h0M447.3 103.1h0M432.8 96.9h0M430.5 95.4h0M430.3 95.2h0M445.2 118.1h0M447.8 110.0h0M445.6 96.7h0M443.6 100.3h0M446.3 109.5h0M448.8 101.6h0M451.7 102.4h0M446.5 96.5h0M435.9 99.0h0M440.5 100.8h0M430.7 100.9h0M438.2 95.3h0M437.9 96.2h0M444.6 118.8h0M437.7 91.9h0M446.5 103.0h0M446.7 107.0h0M441.0 99.6h0M441.4 97.4h0M442.3 101.1h0M444.6 121.2h0M447.7 109.3h0M446.5 116.1h0M432.6 92.3h0M427.6 97.1h0M448.5 105.8h0M447.5 112.2h0M442.1 96.1h0M436.2 91.3h0M440.3 99.3h0M447.9 102.2h0M444.8 100.0h0M446.9 110.0h0M444.2 114.7h0M447.8 112.3h0M444.2 109.5h0M441.8 97.4h0M447.1 108.1h0M430.2 93.1h0M448.2 113.9h0M440.7 93.8h0M447.1 114.8h0M444.6 96.4h0M435.0 95.0h0M440.8 96.3h0M442.3 94.8h0M443.5 111.8h0M443.9 118.7h0M441.2 98.3h0M435.3 95.3h0M450.1 102.6h0M438.7 97.1h0M448.3 97.5h0M449.7 105.1h0M441.1 107.7h0M434.0 98.3h0M440.1 96.4h0M442.8 101.6h0M441.6 98.8h0M446.1 104.3h0M444.9 117.7h0M446.9 103.5h0M447.1 102.2h0M444.7 100.2h0M446.9 110.0h0M448.8 112.4h0M430.0 92.0h0M441.1 99.4h0M437.8 103.5h0M438.3 94.0h0M445.4 110.6h0M446.5 102.9h0M445.6 104.5h0M445.1 106.9h0M435.8 94.3h0M440.0 117.5h0M437.9 99.4h0M443.6 116.7h0M442.7 103.7h0M443.5 118.2h0M442.1 117.3h0M447.9 101.7h0M433.7 93.7h0M443.9 97.0h0M448.7 108.7h0M433.0 94.8h0M437.2 91.0h0M452.7 99.0h0M441.1 92.0h0M435.8 93.9h0M450.8 106.9h0M446.4 107.8h0M431.1 95.7h0M450.4 110.6h0M446.4 92.8h0M428.1 94.6h0M428.1 95.7h0M434.0 97.3h0M448.1 104.9h0M426.2 99.8h0M435.7 90.7h0M445.6 115.6h0M443.4 93.1h0M449.2 116.8h0M444.1 94.8h0M441.5 97.1h0M445.1 117.3h0M447.3 105.1h0M433.1 89.0h0M445.6 115.4h0M439.8 100.1h0M442.9 116.1h0M445.0 101.8h0M443.8 119.5h0M447.9 110.1h0M430.3 95.0h0M441.8 120.0h0M432.2 94.4h0M432.8 95.3h0M436.3 94.2h0M433.9 92.0h0M446.5 111.2h0M428.0 98.5h0M438.5 94.7h0M430.1 95.5h0M427.4 94.4h0M442.6 91.2h0M441.8 103.8h0M444.1 112.2h0M441.1 93.1h0M445.2 116.9h0M442.3 114.6h0" stroke="#5BBDB5" stroke-width="1.90" stroke-linecap="round" fill="none" />
<path d="M417.4 89.1h0M416.8 92.2h0M415.3 77.5h0M415.3 81.7h0M416.5 94.5h0M412.6 72.3h0M416.5 92.1h0M416.8 83.5h0M418.4 91.0h0M416.2 83.2h0M419.0 94.8h0M419.0 90.3h0M417.1 87.2h0M417.8 91.0h0M416.3 83.5h0M417.5 93.6h0M417.0 79.0h0M418.6 92.0h0M416.8 80.5h0M415.3 81.5h0M417.9 88.9h0M417.3 92.6h0M417.8 91.5h0M417.0 96.0h0M418.1 90.1h0M419.0 93.1h0M416.2 82.6h0M413.2 75.3h0M417.9 88.1h0M416.0 89.5h0M415.4 91.0h0M414.0 75.5h0M415.3 80.5h0M415.6 87.6h0M417.1 92.0h0M418.9 93.1h0M416.7 88.4h0M417.8 94.9h0M417.1 91.8h0M417.8 94.4h0M412.4 75.3h0M419.6 91.3h0M414.9 89.9h0M414.6 79.7h0M415.7 81.2h0M416.6 78.8h0" stroke="#A8DAD9" stroke-width="1.90" stroke-linecap="round" fill="none" />
<circle cx="355.60" cy="73.40" r="0.60" fill="#E78C93" />
<circle cx="349.00" cy="105.00" r="0.60" fill="#3A77A3" />
<circle cx="355.00" cy="103.00" r="0.60" fill="#3A77A3" />
<circle cx="399.50" cy="108.50" r="0.60" fill="#3A77A3" />
<circle cx="407.00" cy="106.00" r="0.60" fill="#3A77A3" />
<circle cx="425.00" cy="86.00" r="0.60" fill="#A4474D" />
<circle cx="417.00" cy="84.50" r="0.60" fill="#3A77A3" />
<circle cx="404.00" cy="112.50" r="0.60" fill="#5BBDB5" />
<circle cx="401.00" cy="124.00" r="0.60" fill="#5BBDB5" />
<text x="329.50" y="66.70" font-size="6.0" text-anchor="middle" fill="#111" stroke="#111" stroke-width="0.15">1</text>
<text x="345.00" y="43.60" font-size="6.0" text-anchor="middle" fill="#111" stroke="#111" stroke-width="0.15">6</text>
<text x="367.40" y="30.70" font-size="6.0" text-anchor="middle" fill="#111" stroke="#111" stroke-width="0.15">8</text>
<text x="358.80" y="58.70" font-size="6.0" text-anchor="middle" fill="#111" stroke="#111" stroke-width="0.15">11</text>
<text x="355.60" y="81.40" font-size="6.0" text-anchor="middle" fill="#111" stroke="#111" stroke-width="0.15">12</text>
<text x="332.10" y="102.20" font-size="6.0" text-anchor="middle" fill="#111" stroke="#111" stroke-width="0.15">5</text>
<text x="350.80" y="105.20" font-size="6.0" text-anchor="middle" fill="#111" stroke="#111" stroke-width="0.15">10</text>
<text x="347.90" y="142.90" font-size="6.0" text-anchor="middle" fill="#111" stroke="#111" stroke-width="0.15">4</text>
<text x="385.00" y="103.70" font-size="6.0" text-anchor="middle" fill="#111" stroke="#111" stroke-width="0.15">7</text>
<text x="412.40" y="116.00" font-size="6.0" text-anchor="middle" fill="#111" stroke="#111" stroke-width="0.15">3</text>
<text x="442.50" y="106.20" font-size="6.0" text-anchor="middle" fill="#111" stroke="#111" stroke-width="0.15">2</text>
<text x="419.10" y="94.10" font-size="6.0" text-anchor="middle" fill="#111" stroke="#111" stroke-width="0.15">9</text>
<line x1="315.30" y1="12.30" x2="315.30" y2="158.40" stroke="#444" stroke-width="0.9" />
<line x1="314.80" y1="157.90" x2="457.40" y2="157.90" stroke="#444" stroke-width="0.9" />
<line x1="313.30" y1="13.90" x2="315.30" y2="13.90" stroke="#444" stroke-width="0.7" />
<text x="312.50" y="15.90" font-size="5.6" text-anchor="end" fill="#333">8</text>
<line x1="313.30" y1="51.60" x2="315.30" y2="51.60" stroke="#444" stroke-width="0.7" />
<text x="312.50" y="53.60" font-size="5.6" text-anchor="end" fill="#333">4</text>
<line x1="313.30" y1="89.40" x2="315.30" y2="89.40" stroke="#444" stroke-width="0.7" />
<text x="312.50" y="91.40" font-size="5.6" text-anchor="end" fill="#333">0</text>
<line x1="313.30" y1="127.40" x2="315.30" y2="127.40" stroke="#444" stroke-width="0.7" />
<text x="312.50" y="129.40" font-size="5.6" text-anchor="end" fill="#333">-4</text>
<line x1="340.60" y1="157.90" x2="340.60" y2="159.90" stroke="#444" stroke-width="0.7" />
<text x="340.60" y="165.50" font-size="5.6" text-anchor="middle" fill="#333">-5</text>
<line x1="373.40" y1="157.90" x2="373.40" y2="159.90" stroke="#444" stroke-width="0.7" />
<text x="373.40" y="165.50" font-size="5.6" text-anchor="middle" fill="#333">0</text>
<line x1="406.20" y1="157.90" x2="406.20" y2="159.90" stroke="#444" stroke-width="0.7" />
<text x="406.20" y="165.50" font-size="5.6" text-anchor="middle" fill="#333">5</text>
<line x1="439.40" y1="157.90" x2="439.40" y2="159.90" stroke="#444" stroke-width="0.7" />
<text x="439.40" y="165.50" font-size="5.6" text-anchor="middle" fill="#333">10</text>
<text x="386.00" y="172.40" font-size="6.3" text-anchor="middle" fill="#111">umap_1</text>
<text x="304.50" y="85.40" font-size="6.3" text-anchor="middle" fill="#111" transform="rotate(-90 304.50 85.40)">umap_2</text>
<circle cx="466.90" cy="48.90" r="1.70" fill="#B3C3DE" />
<text x="472.60" y="51.00" font-size="6.0" fill="#1a1a1a">1</text>
<circle cx="466.90" cy="55.84" r="1.70" fill="#5BBDB5" />
<text x="472.60" y="57.94" font-size="6.0" fill="#1a1a1a">2</text>
<circle cx="466.90" cy="62.78" r="1.70" fill="#E5AF72" />
<text x="472.60" y="64.88" font-size="6.0" fill="#1a1a1a">3</text>
<circle cx="466.90" cy="69.72" r="1.70" fill="#BDA5D5" />
<text x="472.60" y="71.82" font-size="6.0" fill="#1a1a1a">4</text>
<circle cx="466.90" cy="76.66" r="1.70" fill="#B3968C" />
<text x="472.60" y="78.76" font-size="6.0" fill="#1a1a1a">5</text>
<circle cx="466.90" cy="83.60" r="1.70" fill="#A4474D" />
<text x="472.60" y="85.70" font-size="6.0" fill="#1a1a1a">6</text>
<circle cx="466.90" cy="90.54" r="1.70" fill="#3A77A3" />
<text x="472.60" y="92.64" font-size="6.0" fill="#1a1a1a">7</text>
<circle cx="466.90" cy="97.48" r="1.70" fill="#E78C93" />
<text x="472.60" y="99.58" font-size="6.0" fill="#1a1a1a">8</text>
<circle cx="466.90" cy="104.42" r="1.70" fill="#A8DAD9" />
<text x="472.60" y="106.52" font-size="6.0" fill="#1a1a1a">9</text>
<circle cx="466.90" cy="111.36" r="1.70" fill="#6A4C9C" />
<text x="472.60" y="113.46" font-size="6.0" fill="#1a1a1a">10</text>
<circle cx="466.90" cy="118.30" r="1.70" fill="#4AA06A" />
<text x="472.60" y="120.40" font-size="6.0" fill="#1a1a1a">11</text>
<circle cx="466.90" cy="125.24" r="1.70" fill="#CF78BD" />
<text x="472.60" y="127.34" font-size="6.0" fill="#1a1a1a">12</text>
<rect x="541.30" y="16.10" width="52.30" height="28.85" fill="#B3C3DE" />
<rect x="541.30" y="44.80" width="52.30" height="26.85" fill="#5BBDB5" />
<rect x="541.30" y="71.50" width="52.30" height="18.55" fill="#E5AF72" />
<rect x="541.30" y="89.90" width="52.30" height="17.95" fill="#BDA5D5" />
<rect x="541.30" y="107.70" width="52.30" height="13.45" fill="#B3968C" />
<rect x="541.30" y="121.00" width="52.30" height="16.45" fill="#A4474D" />
<rect x="541.30" y="137.30" width="52.30" height="5.55" fill="#3A77A3" />
<rect x="541.30" y="142.70" width="52.30" height="6.35" fill="#E78C93" />
<rect x="541.30" y="148.90" width="52.30" height="6.45" fill="#A8DAD9" />
<rect x="541.30" y="155.20" width="52.30" height="0.35" fill="#6A4C9C" />
<rect x="541.30" y="155.40" width="52.30" height="2.35" fill="#4AA06A" />
<rect x="541.30" y="157.60" width="52.30" height="1.35" fill="#CF78BD" />
<rect x="599.40" y="16.10" width="52.60" height="24.55" fill="#B3C3DE" />
<rect x="599.40" y="40.50" width="52.60" height="22.05" fill="#5BBDB5" />
<rect x="599.40" y="62.40" width="52.60" height="20.85" fill="#E5AF72" />
<rect x="599.40" y="83.10" width="52.60" height="19.45" fill="#BDA5D5" />
<rect x="599.40" y="102.40" width="52.60" height="15.55" fill="#B3968C" />
<rect x="599.40" y="117.80" width="52.60" height="7.65" fill="#A4474D" />
<rect x="599.40" y="125.30" width="52.60" height="6.85" fill="#3A77A3" />
<rect x="599.40" y="132.00" width="52.60" height="13.95" fill="#E78C93" />
<rect x="599.40" y="145.80" width="52.60" height="9.05" fill="#A8DAD9" />
<rect x="599.40" y="154.70" width="52.60" height="0.35" fill="#6A4C9C" />
<rect x="599.40" y="154.90" width="52.60" height="3.05" fill="#4AA06A" />
<rect x="599.40" y="157.80" width="52.60" height="1.15" fill="#CF78BD" />
<line x1="532.60" y1="9.20" x2="532.60" y2="166.30" stroke="#333" stroke-width="0.7" />
<line x1="532.20" y1="166.00" x2="660.50" y2="166.00" stroke="#333" stroke-width="0.7" />
<line x1="531.00" y1="16.20" x2="532.60" y2="16.20" stroke="#333" stroke-width="0.5" />
<text x="530.30" y="17.30" font-size="3.4" text-anchor="end" fill="#444" font-family="Liberation Serif">1.00</text>
<line x1="531.00" y1="51.80" x2="532.60" y2="51.80" stroke="#333" stroke-width="0.5" />
<text x="530.30" y="52.90" font-size="3.4" text-anchor="end" fill="#444" font-family="Liberation Serif">0.75</text>
<line x1="531.00" y1="87.50" x2="532.60" y2="87.50" stroke="#333" stroke-width="0.5" />
<text x="530.30" y="88.60" font-size="3.4" text-anchor="end" fill="#444" font-family="Liberation Serif">0.50</text>
<line x1="531.00" y1="123.20" x2="532.60" y2="123.20" stroke="#333" stroke-width="0.5" />
<text x="530.30" y="124.30" font-size="3.4" text-anchor="end" fill="#444" font-family="Liberation Serif">0.25</text>
<line x1="531.00" y1="158.80" x2="532.60" y2="158.80" stroke="#333" stroke-width="0.5" />
<text x="530.30" y="159.90" font-size="3.4" text-anchor="end" fill="#444" font-family="Liberation Serif">0.00</text>
<line x1="567.50" y1="166.00" x2="567.50" y2="167.50" stroke="#333" stroke-width="0.5" />
<text x="567.50" y="171.00" font-size="3.5" text-anchor="middle" fill="#444" font-family="Liberation Serif">cKO</text>
<line x1="625.70" y1="166.00" x2="625.70" y2="167.50" stroke="#333" stroke-width="0.5" />
<text x="625.70" y="171.00" font-size="3.5" text-anchor="middle" fill="#444" font-family="Liberation Serif">Control</text>
<text x="596.60" y="175.80" font-size="4.6" text-anchor="middle" fill="#333">Groups</text>
<text x="667.00" y="46.20" font-size="4.5" fill="#222">Clusters</text>
<rect x="667.40" y="49.00" width="6.40" height="6.20" fill="#B3C3DE" />
<text x="676.00" y="53.20" font-size="3.3" fill="#333" font-family="Liberation Serif">1</text>
<rect x="667.40" y="56.05" width="6.40" height="6.20" fill="#5BBDB5" />
<text x="676.00" y="60.25" font-size="3.3" fill="#333" font-family="Liberation Serif">2</text>
<rect x="667.40" y="63.10" width="6.40" height="6.20" fill="#E5AF72" />
<text x="676.00" y="67.30" font-size="3.3" fill="#333" font-family="Liberation Serif">3</text>
<rect x="667.40" y="70.15" width="6.40" height="6.20" fill="#BDA5D5" />
<text x="676.00" y="74.35" font-size="3.3" fill="#333" font-family="Liberation Serif">4</text>
<rect x="667.40" y="77.20" width="6.40" height="6.20" fill="#B3968C" />
<text x="676.00" y="81.40" font-size="3.3" fill="#333" font-family="Liberation Serif">5</text>
<rect x="667.40" y="84.25" width="6.40" height="6.20" fill="#A4474D" />
<text x="676.00" y="88.45" font-size="3.3" fill="#333" font-family="Liberation Serif">6</text>
<rect x="667.40" y="91.30" width="6.40" height="6.20" fill="#3A77A3" />
<text x="676.00" y="95.50" font-size="3.3" fill="#333" font-family="Liberation Serif">7</text>
<rect x="667.40" y="98.35" width="6.40" height="6.20" fill="#E78C93" />
<text x="676.00" y="102.55" font-size="3.3" fill="#333" font-family="Liberation Serif">8</text>
<rect x="667.40" y="105.40" width="6.40" height="6.20" fill="#A8DAD9" />
<text x="676.00" y="109.60" font-size="3.3" fill="#333" font-family="Liberation Serif">9</text>
<rect x="667.40" y="112.45" width="6.40" height="6.20" fill="#6A4C9C" />
<text x="676.00" y="116.65" font-size="3.3" fill="#333" font-family="Liberation Serif">10</text>
<rect x="667.40" y="119.50" width="6.40" height="6.20" fill="#4AA06A" />
<text x="676.00" y="123.70" font-size="3.3" fill="#333" font-family="Liberation Serif">11</text>
<rect x="667.40" y="126.55" width="6.40" height="6.20" fill="#CF78BD" />
<text x="676.00" y="130.75" font-size="3.3" fill="#333" font-family="Liberation Serif">12</text>
<path d="M43.6 329.4h0M49.4 329.4h0M55.2 329.4h0M61.0 329.4h0M66.8 329.4h0M78.5 318.0h0M84.3 318.0h0M90.1 318.0h0M95.9 318.0h0M107.5 306.5h0M113.3 306.5h0M119.2 306.5h0M125.0 306.5h0M148.2 295.1h0M154.0 295.1h0M159.8 283.6h0M165.7 283.6h0M171.5 283.6h0M177.3 283.6h0M183.1 283.6h0M194.7 272.2h0M200.5 272.2h0M206.3 272.2h0M212.1 272.2h0M218.0 260.8h0M223.8 260.8h0M229.6 260.8h0M235.4 260.8h0M241.2 260.8h0M264.5 249.3h0M270.3 249.3h0" stroke="#F44" stroke-width="1.20" stroke-linecap="round" fill="none" /><path d="M72.7 329.4h0M78.5 329.4h0M84.3 329.4h0M90.1 329.4h0M95.9 329.4h0M101.7 329.4h0M107.5 329.4h0M113.3 329.4h0M119.2 329.4h0M125.0 329.4h0M148.2 329.4h0M154.0 329.4h0M159.8 329.4h0M165.7 329.4h0M171.5 329.4h0M177.3 329.4h0M183.1 329.4h0M188.9 329.4h0M194.7 329.4h0M200.5 329.4h0M206.3 329.4h0M212.1 329.4h0M218.0 329.4h0M223.8 329.4h0M229.6 329.4h0M235.4 329.4h0M241.2 329.4h0M247.0 329.4h0M252.8 329.4h0M258.6 329.4h0M264.5 329.4h0M270.3 329.4h0M276.1 329.4h0M281.9 329.4h0M287.7 329.4h0M293.5 329.4h0M299.3 329.4h0M305.1 329.4h0M311.0 329.4h0M316.8 329.4h0M322.6 329.4h0M328.4 329.4h0M334.2 329.4h0M340.0 329.4h0M345.8 329.4h0M351.6 329.4h0M357.4 329.4h0M363.3 329.4h0M369.1 329.4h0M374.9 329.4h0M380.7 329.4h0M386.5 329.4h0M43.6 318.0h0M49.4 318.0h0M55.2 318.0h0M61.0 318.0h0M66.8 318.0h0M101.7 318.0h0M107.5 318.0h0M113.3 318.0h0M119.2 318.0h0M125.0 318.0h0M148.2 318.0h0M154.0 318.0h0M159.8 318.0h0M165.7 318.0h0M171.5 318.0h0M177.3 318.0h0M183.1 318.0h0M188.9 318.0h0M194.7 318.0h0M200.5 318.0h0M206.3 318.0h0M212.1 318.0h0M218.0 318.0h0M223.8 318.0h0M229.6 318.0h0M235.4 318.0h0M241.2 318.0h0M247.0 318.0h0M252.8 318.0h0M258.6 318.0h0M264.5 318.0h0M270.3 318.0h0M276.1 318.0h0M281.9 318.0h0M287.7 318.0h0M293.5 318.0h0M299.3 318.0h0M305.1 318.0h0M311.0 318.0h0M316.8 318.0h0M322.6 318.0h0M328.4 318.0h0M334.2 318.0h0M340.0 318.0h0M345.8 318.0h0M351.6 318.0h0M357.4 318.0h0M363.3 318.0h0M369.1 318.0h0M374.9 318.0h0M380.7 318.0h0M386.5 318.0h0M43.6 306.5h0M49.4 306.5h0M55.2 306.5h0M61.0 306.5h0M66.8 306.5h0M72.7 306.5h0M78.5 306.5h0M84.3 306.5h0M90.1 306.5h0M95.9 306.5h0M148.2 306.5h0M154.0 306.5h0M159.8 306.5h0M165.7 306.5h0M171.5 306.5h0M177.3 306.5h0M183.1 306.5h0M188.9 306.5h0M194.7 306.5h0M200.5 306.5h0M206.3 306.5h0M212.1 306.5h0M218.0 306.5h0M223.8 306.5h0M229.6 306.5h0M235.4 306.5h0M241.2 306.5h0M247.0 306.5h0M252.8 306.5h0M258.6 306.5h0M264.5 306.5h0M270.3 306.5h0M276.1 306.5h0M281.9 306.5h0M287.7 306.5h0M293.5 306.5h0M299.3 306.5h0M305.1 306.5h0M311.0 306.5h0M316.8 306.5h0M322.6 306.5h0M328.4 306.5h0M334.2 306.5h0M340.0 306.5h0M345.8 306.5h0M351.6 306.5h0M357.4 306.5h0M363.3 306.5h0M369.1 306.5h0M374.9 306.5h0M380.7 306.5h0M386.5 306.5h0M43.6 295.1h0M49.4 295.1h0M55.2 295.1h0M61.0 295.1h0M66.8 295.1h0M72.7 295.1h0M78.5 295.1h0M84.3 295.1h0M90.1 295.1h0M95.9 295.1h0M101.7 295.1h0M107.5 295.1h0M113.3 295.1h0M119.2 295.1h0M125.0 295.1h0M159.8 295.1h0M165.7 295.1h0M171.5 295.1h0M177.3 295.1h0M183.1 295.1h0M188.9 295.1h0M194.7 295.1h0M200.5 295.1h0M206.3 295.1h0M212.1 295.1h0M218.0 295.1h0M223.8 295.1h0M229.6 295.1h0M235.4 295.1h0M241.2 295.1h0M247.0 295.1h0M252.8 295.1h0M258.6 295.1h0M264.5 295.1h0M270.3 295.1h0M276.1 295.1h0M281.9 295.1h0M287.7 295.1h0M293.5 295.1h0M299.3 295.1h0M305.1 295.1h0M311.0 295.1h0M316.8 295.1h0M322.6 295.1h0M328.4 295.1h0M334.2 295.1h0M340.0 295.1h0M345.8 295.1h0M351.6 295.1h0M357.4 295.1h0M363.3 295.1h0M369.1 295.1h0M374.9 295.1h0M380.7 295.1h0M386.5 295.1h0M43.6 283.6h0M49.4 283.6h0M55.2 283.6h0M61.0 283.6h0M66.8 283.6h0M72.7 283.6h0M78.5 283.6h0M84.3 283.6h0M90.1 283.6h0M95.9 283.6h0M101.7 283.6h0M107.5 283.6h0M113.3 283.6h0M119.2 283.6h0M125.0 283.6h0M148.2 283.6h0M154.0 283.6h0M188.9 283.6h0M194.7 283.6h0M200.5 283.6h0M206.3 283.6h0M212.1 283.6h0M218.0 283.6h0M223.8 283.6h0M229.6 283.6h0M235.4 283.6h0M241.2 283.6h0M247.0 283.6h0M252.8 283.6h0M258.6 283.6h0M264.5 283.6h0M270.3 283.6h0M276.1 283.6h0M281.9 283.6h0M287.7 283.6h0M293.5 283.6h0M299.3 283.6h0M305.1 283.6h0M311.0 283.6h0M316.8 283.6h0M322.6 283.6h0M328.4 283.6h0M334.2 283.6h0M340.0 283.6h0M345.8 283.6h0M351.6 283.6h0M357.4 283.6h0M363.3 283.6h0M369.1 283.6h0M374.9 283.6h0M380.7 283.6h0M386.5 283.6h0M43.6 272.2h0M49.4 272.2h0M55.2 272.2h0M61.0 272.2h0M66.8 272.2h0M72.7 272.2h0M78.5 272.2h0M84.3 272.2h0M90.1 272.2h0M95.9 272.2h0M101.7 272.2h0M107.5 272.2h0M113.3 272.2h0M119.2 272.2h0M125.0 272.2h0M130.8 272.2h0M136.6 272.2h0M142.4 272.2h0M148.2 272.2h0M154.0 272.2h0M159.8 272.2h0M165.7 272.2h0M171.5 272.2h0M177.3 272.2h0M183.1 272.2h0M218.0 272.2h0M223.8 272.2h0M229.6 272.2h0M235.4 272.2h0M241.2 272.2h0M247.0 272.2h0M252.8 272.2h0M258.6 272.2h0M264.5 272.2h0M270.3 272.2h0M276.1 272.2h0M281.9 272.2h0M287.7 272.2h0M293.5 272.2h0M299.3 272.2h0M305.1 272.2h0M311.0 272.2h0M316.8 272.2h0M322.6 272.2h0M328.4 272.2h0M334.2 272.2h0M340.0 272.2h0M345.8 272.2h0M351.6 272.2h0M357.4 272.2h0M363.3 272.2h0M369.1 272.2h0M374.9 272.2h0M380.7 272.2h0M386.5 272.2h0M43.6 260.8h0M49.4 260.8h0M55.2 260.8h0M61.0 260.8h0M66.8 260.8h0M72.7 260.8h0M78.5 260.8h0M84.3 260.8h0M90.1 260.8h0M95.9 260.8h0M101.7 260.8h0M107.5 260.8h0M113.3 260.8h0M119.2 260.8h0M125.0 260.8h0M148.2 260.8h0M154.0 260.8h0M159.8 260.8h0M165.7 260.8h0M171.5 260.8h0M177.3 260.8h0M183.1 260.8h0M188.9 260.8h0M194.7 260.8h0M200.5 260.8h0M206.3 260.8h0M212.1 260.8h0M247.0 260.8h0M252.8 260.8h0M258.6 260.8h0M264.5 260.8h0M270.3 260.8h0M276.1 260.8h0M281.9 260.8h0M287.7 260.8h0M293.5 260.8h0M299.3 260.8h0M305.1 260.8h0M311.0 260.8h0M316.8 260.8h0M322.6 260.8h0M328.4 260.8h0M334.2 260.8h0M340.0 260.8h0M345.8 260.8h0M351.6 260.8h0M357.4 260.8h0M363.3 260.8h0M369.1 260.8h0M374.9 260.8h0M380.7 260.8h0M386.5 260.8h0M43.6 249.3h0M49.4 249.3h0M55.2 249.3h0M61.0 249.3h0M66.8 249.3h0M72.7 249.3h0M78.5 249.3h0M84.3 249.3h0M90.1 249.3h0M95.9 249.3h0M101.7 249.3h0M107.5 249.3h0M113.3 249.3h0M119.2 249.3h0M125.0 249.3h0M148.2 249.3h0M154.0 249.3h0M159.8 249.3h0M165.7 249.3h0M171.5 249.3h0M177.3 249.3h0M183.1 249.3h0M188.9 249.3h0M194.7 249.3h0M200.5 249.3h0M206.3 249.3h0M212.1 249.3h0M218.0 249.3h0M223.8 249.3h0M229.6 249.3h0M235.4 249.3h0M241.2 249.3h0M276.1 249.3h0M281.9 249.3h0M287.7 249.3h0M293.5 249.3h0M299.3 249.3h0M305.1 249.3h0M311.0 249.3h0M316.8 249.3h0M322.6 249.3h0M328.4 249.3h0M334.2 249.3h0M340.0 249.3h0M345.8 249.3h0M351.6 249.3h0M357.4 249.3h0M363.3 249.3h0M369.1 249.3h0M374.9 249.3h0M380.7 249.3h0M386.5 249.3h0M43.6 237.9h0M49.4 237.9h0M55.2 237.9h0M61.0 237.9h0M66.8 237.9h0M72.7 237.9h0M78.5 237.9h0M84.3 237.9h0M90.1 237.9h0M95.9 237.9h0M101.7 237.9h0M107.5 237.9h0M113.3 237.9h0M119.2 237.9h0M125.0 237.9h0M148.2 237.9h0M154.0 237.9h0M159.8 237.9h0M165.7 237.9h0M171.5 237.9h0M177.3 237.9h0M183.1 237.9h0M188.9 237.9h0M194.7 237.9h0M200.5 237.9h0M206.3 237.9h0M212.1 237.9h0M218.0 237.9h0M223.8 237.9h0M229.6 237.9h0M235.4 237.9h0M241.2 237.9h0M247.0 237.9h0M252.8 237.9h0M258.6 237.9h0M264.5 237.9h0M270.3 237.9h0M305.1 237.9h0M311.0 237.9h0M316.8 237.9h0M322.6 237.9h0M328.4 237.9h0M334.2 237.9h0M340.0 237.9h0M345.8 237.9h0M351.6 237.9h0M357.4 237.9h0M363.3 237.9h0M369.1 237.9h0M374.9 237.9h0M380.7 237.9h0M386.5 237.9h0M43.6 226.4h0M49.4 226.4h0M55.2 226.4h0M61.0 226.4h0M66.8 226.4h0M72.7 226.4h0M78.5 226.4h0M84.3 226.4h0M90.1 226.4h0M95.9 226.4h0M101.7 226.4h0M107.5 226.4h0M113.3 226.4h0M119.2 226.4h0M125.0 226.4h0M142.4 226.4h0M148.2 226.4h0M154.0 226.4h0M159.8 226.4h0M165.7 226.4h0M171.5 226.4h0M177.3 226.4h0M183.1 226.4h0M188.9 226.4h0M194.7 226.4h0M200.5 226.4h0M206.3 226.4h0M212.1 226.4h0M218.0 226.4h0M223.8 226.4h0M229.6 226.4h0M235.4 226.4h0M241.2 226.4h0M247.0 226.4h0M252.8 226.4h0M258.6 226.4h0M264.5 226.4h0M270.3 226.4h0M276.1 226.4h0M281.9 226.4h0M287.7 226.4h0M293.5 226.4h0M299.3 226.4h0M334.2 226.4h0M340.0 226.4h0M345.8 226.4h0M351.6 226.4h0M357.4 226.4h0M363.3 226.4h0M369.1 226.4h0M374.9 226.4h0M380.7 226.4h0M386.5 226.4h0M43.6 215.0h0M49.4 215.0h0M55.2 215.0h0M61.0 215.0h0M66.8 215.0h0M72.7 215.0h0M78.5 215.0h0M84.3 215.0h0M90.1 215.0h0M95.9 215.0h0M101.7 215.0h0M107.5 215.0h0M113.3 215.0h0M119.2 215.0h0M125.0 215.0h0M148.2 215.0h0M154.0 215.0h0M159.8 215.0h0M165.7 215.0h0M171.5 215.0h0M177.3 215.0h0M183.1 215.0h0M188.9 215.0h0M194.7 215.0h0M200.5 215.0h0M206.3 215.0h0M212.1 215.0h0M218.0 215.0h0M223.8 215.0h0M229.6 215.0h0M235.4 215.0h0M241.2 215.0h0M247.0 215.0h0M252.8 215.0h0M258.6 215.0h0M264.5 215.0h0M270.3 215.0h0M276.1 215.0h0M281.9 215.0h0M287.7 215.0h0M293.5 215.0h0M299.3 215.0h0M305.1 215.0h0M311.0 215.0h0M316.8 215.0h0M322.6 215.0h0M328.4 215.0h0M363.3 215.0h0M369.1 215.0h0M374.9 215.0h0M380.7 215.0h0M386.5 215.0h0M43.6 203.6h0M49.4 203.6h0M55.2 203.6h0M61.0 203.6h0M66.8 203.6h0M72.7 203.6h0M78.5 203.6h0M84.3 203.6h0M90.1 203.6h0M95.9 203.6h0M101.7 203.6h0M107.5 203.6h0M113.3 203.6h0M119.2 203.6h0M125.0 203.6h0M148.2 203.6h0M154.0 203.6h0M159.8 203.6h0M165.7 203.6h0M171.5 203.6h0M177.3 203.6h0M183.1 203.6h0M188.9 203.6h0M194.7 203.6h0M200.5 203.6h0M206.3 203.6h0M212.1 203.6h0M218.0 203.6h0M223.8 203.6h0M229.6 203.6h0M235.4 203.6h0M241.2 203.6h0M247.0 203.6h0M252.8 203.6h0M258.6 203.6h0M264.5 203.6h0M270.3 203.6h0M276.1 203.6h0M281.9 203.6h0M287.7 203.6h0M293.5 203.6h0M299.3 203.6h0M305.1 203.6h0M311.0 203.6h0M316.8 203.6h0M322.6 203.6h0M328.4 203.6h0M334.2 203.6h0M340.0 203.6h0M345.8 203.6h0M351.6 203.6h0M357.4 203.6h0" stroke="#e2dede" stroke-width="0.80" stroke-linecap="round" fill="none" /><path d="M130.8 329.4h0M136.6 329.4h0M142.4 329.4h0M130.8 318.0h0M136.6 318.0h0M142.4 318.0h0M130.8 306.5h0M136.6 306.5h0M142.4 306.5h0M130.8 283.6h0M136.6 283.6h0M142.4 283.6h0M130.8 260.8h0M136.6 260.8h0M142.4 260.8h0M130.8 249.3h0M136.6 249.3h0M142.4 249.3h0M130.8 237.9h0M136.6 237.9h0M142.4 237.9h0M130.8 215.0h0M136.6 215.0h0M142.4 215.0h0M130.8 203.6h0M136.6 203.6h0M142.4 203.6h0" stroke="#d6cfcf" stroke-width="1.20" stroke-linecap="round" fill="none" /><path d="M72.7 318.0h0" stroke="#F00" stroke-width="4.00" stroke-linecap="round" fill="none" /><path d="M101.7 306.5h0" stroke="#F11" stroke-width="2.00" stroke-linecap="round" fill="none" /><path d="M130.8 295.1h0" stroke="#F10" stroke-width="5.60" stroke-linecap="round" fill="none" /><path d="M136.6 295.1h0" stroke="#F10" stroke-width="4.80" stroke-linecap="round" fill="none" /><path d="M142.4 295.1h0" stroke="#F10" stroke-width="4.40" stroke-linecap="round" fill="none" /><path d="M188.9 272.2h0M247.0 249.3h0M252.8 249.3h0M258.6 249.3h0" stroke="#F00" stroke-width="2.40" stroke-linecap="round" fill="none" /><path d="M276.1 237.9h0M281.9 237.9h0M287.7 237.9h0M293.5 237.9h0M299.3 237.9h0M334.2 215.0h0M340.0 215.0h0M345.8 215.0h0M351.6 215.0h0M357.4 215.0h0" stroke="#F33" stroke-width="1.20" stroke-linecap="round" fill="none" /><path d="M130.8 226.4h0" stroke="#E0857A" stroke-width="3.60" stroke-linecap="round" fill="none" /><path d="M136.6 226.4h0" stroke="#E28E80" stroke-width="3.20" stroke-linecap="round" fill="none" /><path d="M305.1 226.4h0M311.0 226.4h0M316.8 226.4h0M322.6 226.4h0M328.4 226.4h0M363.3 203.6h0" stroke="#F11" stroke-width="2.40" stroke-linecap="round" fill="none" /><path d="M369.1 203.6h0M374.9 203.6h0M380.7 203.6h0M386.5 203.6h0" stroke="#F22" stroke-width="1.60" stroke-linecap="round" fill="none" />
<line x1="40.50" y1="196.20" x2="40.50" y2="336.40" stroke="#444" stroke-width="0.8" />
<line x1="40.10" y1="336.00" x2="389.60" y2="336.00" stroke="#444" stroke-width="0.8" />
<line x1="38.90" y1="329.40" x2="40.50" y2="329.40" stroke="#444" stroke-width="0.5" />
<text x="38.10" y="331.10" font-size="4.8" text-anchor="end" fill="#222">0</text>
<line x1="38.90" y1="317.96" x2="40.50" y2="317.96" stroke="#444" stroke-width="0.5" />
<text x="38.10" y="319.66" font-size="4.8" text-anchor="end" fill="#222">1</text>
<line x1="38.90" y1="306.52" x2="40.50" y2="306.52" stroke="#444" stroke-width="0.5" />
<text x="38.10" y="308.22" font-size="4.8" text-anchor="end" fill="#222">2</text>
<line x1="38.90" y1="295.08" x2="40.50" y2="295.08" stroke="#444" stroke-width="0.5" />
<text x="38.10" y="296.78" font-size="4.8" text-anchor="end" fill="#222">3</text>
<line x1="38.90" y1="283.64" x2="40.50" y2="283.64" stroke="#444" stroke-width="0.5" />
<text x="38.10" y="285.34" font-size="4.8" text-anchor="end" fill="#222">4</text>
<line x1="38.90" y1="272.20" x2="40.50" y2="272.20" stroke="#444" stroke-width="0.5" />
<text x="38.10" y="273.90" font-size="4.8" text-anchor="end" fill="#222">5</text>
<line x1="38.90" y1="260.76" x2="40.50" y2="260.76" stroke="#444" stroke-width="0.5" />
<text x="38.10" y="262.46" font-size="4.8" text-anchor="end" fill="#222">6</text>
<line x1="38.90" y1="249.32" x2="40.50" y2="249.32" stroke="#444" stroke-width="0.5" />
<text x="38.10" y="251.02" font-size="4.8" text-anchor="end" fill="#222">7</text>
<line x1="38.90" y1="237.88" x2="40.50" y2="237.88" stroke="#444" stroke-width="0.5" />
<text x="38.10" y="239.58" font-size="4.8" text-anchor="end" fill="#222">8</text>
<line x1="38.90" y1="226.44" x2="40.50" y2="226.44" stroke="#444" stroke-width="0.5" />
<text x="38.10" y="228.14" font-size="4.8" text-anchor="end" fill="#222">9</text>
<line x1="38.90" y1="215.00" x2="40.50" y2="215.00" stroke="#444" stroke-width="0.5" />
<text x="38.10" y="216.70" font-size="4.8" text-anchor="end" fill="#222">10</text>
<line x1="38.90" y1="203.56" x2="40.50" y2="203.56" stroke="#444" stroke-width="0.5" />
<text x="38.10" y="205.26" font-size="4.8" text-anchor="end" fill="#222">11</text>
<line x1="43.60" y1="336.00" x2="43.60" y2="337.40" stroke="#444" stroke-width="0.5" />
<text x="45.40" y="338.60" font-size="5.1" text-anchor="end" fill="#111" transform="rotate(-90 45.40 338.60)" stroke="#111" stroke-width="0.08">Abca6</text>
<line x1="49.41" y1="336.00" x2="49.41" y2="337.40" stroke="#444" stroke-width="0.5" />
<text x="51.21" y="338.60" font-size="5.1" text-anchor="end" fill="#111" transform="rotate(-90 51.21 338.60)" stroke="#111" stroke-width="0.08">Dlg3</text>
<line x1="55.22" y1="336.00" x2="55.22" y2="337.40" stroke="#444" stroke-width="0.5" />
<text x="57.02" y="338.60" font-size="5.1" text-anchor="end" fill="#111" transform="rotate(-90 57.02 338.60)" stroke="#111" stroke-width="0.08">Vwa5b</text>
<line x1="61.04" y1="336.00" x2="61.04" y2="337.40" stroke="#444" stroke-width="0.5" />
<text x="62.84" y="338.60" font-size="5.1" text-anchor="end" fill="#111" transform="rotate(-90 62.84 338.60)" stroke="#111" stroke-width="0.08">Vmac</text>
<line x1="66.85" y1="336.00" x2="66.85" y2="337.40" stroke="#444" stroke-width="0.5" />
<text x="68.65" y="338.60" font-size="5.1" text-anchor="end" fill="#111" transform="rotate(-90 68.65 338.60)" stroke="#111" stroke-width="0.08">Efhb</text>
<line x1="72.66" y1="336.00" x2="72.66" y2="337.40" stroke="#444" stroke-width="0.5" />
<text x="74.46" y="338.60" font-size="5.1" text-anchor="end" fill="#111" transform="rotate(-90 74.46 338.60)" stroke="#111" stroke-width="0.08">Nos2</text>
<line x1="78.47" y1="336.00" x2="78.47" y2="337.40" stroke="#444" stroke-width="0.5" />
<text x="80.27" y="338.60" font-size="5.1" text-anchor="end" fill="#111" transform="rotate(-90 80.27 338.60)" stroke="#111" stroke-width="0.08">Tll2</text>
<line x1="84.28" y1="336.00" x2="84.28" y2="337.40" stroke="#444" stroke-width="0.5" />
<text x="86.08" y="338.60" font-size="5.1" text-anchor="end" fill="#111" transform="rotate(-90 86.08 338.60)" stroke="#111" stroke-width="0.08">Mfsd4b2</text>
<line x1="90.10" y1="336.00" x2="90.10" y2="337.40" stroke="#444" stroke-width="0.5" />
<text x="91.90" y="338.60" font-size="5.1" text-anchor="end" fill="#111" transform="rotate(-90 91.90 338.60)" stroke="#111" stroke-width="0.08">Cstn2</text>
<line x1="95.91" y1="336.00" x2="95.91" y2="337.40" stroke="#444" stroke-width="0.5" />
<text x="97.71" y="338.60" font-size="5.1" text-anchor="end" fill="#111" transform="rotate(-90 97.71 338.60)" stroke="#111" stroke-width="0.08">Slc2a13</text>
<line x1="101.72" y1="336.00" x2="101.72" y2="337.40" stroke="#444" stroke-width="0.5" />
<text x="103.52" y="338.60" font-size="5.1" text-anchor="end" fill="#111" transform="rotate(-90 103.52 338.60)" stroke="#111" stroke-width="0.08">Map6</text>
<line x1="107.53" y1="336.00" x2="107.53" y2="337.40" stroke="#444" stroke-width="0.5" />
<text x="109.33" y="338.60" font-size="5.1" text-anchor="end" fill="#111" transform="rotate(-90 109.33 338.60)" stroke="#111" stroke-width="0.08">Esam</text>
<line x1="113.34" y1="336.00" x2="113.34" y2="337.40" stroke="#444" stroke-width="0.5" />
<text x="115.14" y="338.60" font-size="5.1" text-anchor="end" fill="#111" transform="rotate(-90 115.14 338.60)" stroke="#111" stroke-width="0.08">Gsta3</text>
<line x1="119.16" y1="336.00" x2="119.16" y2="337.40" stroke="#444" stroke-width="0.5" />
<text x="120.96" y="338.60" font-size="5.1" text-anchor="end" fill="#111" transform="rotate(-90 120.96 338.60)" stroke="#111" stroke-width="0.08">Krt76</text>
<line x1="124.97" y1="336.00" x2="124.97" y2="337.40" stroke="#444" stroke-width="0.5" />
<text x="126.77" y="338.60" font-size="5.1" text-anchor="end" fill="#111" transform="rotate(-90 126.77 338.60)" stroke="#111" stroke-width="0.08">Tafa6</text>
<line x1="130.78" y1="336.00" x2="130.78" y2="337.40" stroke="#444" stroke-width="0.5" />
<text x="132.58" y="338.60" font-size="5.1" text-anchor="end" fill="#111" transform="rotate(-90 132.58 338.60)" stroke="#111" stroke-width="0.08">H3c3</text>
<line x1="136.59" y1="336.00" x2="136.59" y2="337.40" stroke="#444" stroke-width="0.5" />
<text x="138.39" y="338.60" font-size="5.1" text-anchor="end" fill="#111" transform="rotate(-90 138.39 338.60)" stroke="#111" stroke-width="0.08">H2ac4</text>
<line x1="142.40" y1="336.00" x2="142.40" y2="337.40" stroke="#444" stroke-width="0.5" />
<text x="144.20" y="338.60" font-size="5.1" text-anchor="end" fill="#111" transform="rotate(-90 144.20 338.60)" stroke="#111" stroke-width="0.08">H2ac15</text>
<line x1="148.22" y1="336.00" x2="148.22" y2="337.40" stroke="#444" stroke-width="0.5" />
<text x="150.02" y="338.60" font-size="5.1" text-anchor="end" fill="#111" transform="rotate(-90 150.02 338.60)" stroke="#111" stroke-width="0.08">H2ac14</text>
<line x1="154.03" y1="336.00" x2="154.03" y2="337.40" stroke="#444" stroke-width="0.5" />
<text x="155.83" y="338.60" font-size="5.1" text-anchor="end" fill="#111" transform="rotate(-90 155.83 338.60)" stroke="#111" stroke-width="0.08">Tfcp2l1</text>
<line x1="159.84" y1="336.00" x2="159.84" y2="337.40" stroke="#444" stroke-width="0.5" />
<text x="161.64" y="338.60" font-size="5.1" text-anchor="end" fill="#111" transform="rotate(-90 161.64 338.60)" stroke="#111" stroke-width="0.08">Cdk142os</text>
<line x1="165.65" y1="336.00" x2="165.65" y2="337.40" stroke="#444" stroke-width="0.5" />
<text x="167.45" y="338.60" font-size="5.1" text-anchor="end" fill="#111" transform="rotate(-90 167.45 338.60)" stroke="#111" stroke-width="0.08">Btg4</text>
<line x1="171.46" y1="336.00" x2="171.46" y2="337.40" stroke="#444" stroke-width="0.5" />
<text x="173.26" y="338.60" font-size="5.1" text-anchor="end" fill="#111" transform="rotate(-90 173.26 338.60)" stroke="#111" stroke-width="0.08">Rps19-ps1</text>
<line x1="177.28" y1="336.00" x2="177.28" y2="337.40" stroke="#444" stroke-width="0.5" />
<text x="179.08" y="338.60" font-size="5.1" text-anchor="end" fill="#111" transform="rotate(-90 179.08 338.60)" stroke="#111" stroke-width="0.08">Ovgp1</text>
<line x1="183.09" y1="336.00" x2="183.09" y2="337.40" stroke="#444" stroke-width="0.5" />
<text x="184.89" y="338.60" font-size="5.1" text-anchor="end" fill="#111" transform="rotate(-90 184.89 338.60)" stroke="#111" stroke-width="0.08">Unc13c</text>
<line x1="188.90" y1="336.00" x2="188.90" y2="337.40" stroke="#444" stroke-width="0.5" />
<text x="190.70" y="338.60" font-size="5.1" text-anchor="end" fill="#111" transform="rotate(-90 190.70 338.60)" stroke="#111" stroke-width="0.08">Cd300e</text>
<line x1="194.71" y1="336.00" x2="194.71" y2="337.40" stroke="#444" stroke-width="0.5" />
<text x="196.51" y="338.60" font-size="5.1" text-anchor="end" fill="#111" transform="rotate(-90 196.51 338.60)" stroke="#111" stroke-width="0.08">Adam23</text>
<line x1="200.52" y1="336.00" x2="200.52" y2="337.40" stroke="#444" stroke-width="0.5" />
<text x="202.32" y="338.60" font-size="5.1" text-anchor="end" fill="#111" transform="rotate(-90 202.32 338.60)" stroke="#111" stroke-width="0.08">Esr6</text>
<line x1="206.34" y1="336.00" x2="206.34" y2="337.40" stroke="#444" stroke-width="0.5" />
<text x="208.14" y="338.60" font-size="5.1" text-anchor="end" fill="#111" transform="rotate(-90 208.14 338.60)" stroke="#111" stroke-width="0.08">Hnf4aos</text>
<line x1="212.15" y1="336.00" x2="212.15" y2="337.40" stroke="#444" stroke-width="0.5" />
<text x="213.95" y="338.60" font-size="5.1" text-anchor="end" fill="#111" transform="rotate(-90 213.95 338.60)" stroke="#111" stroke-width="0.08">Lrrc6</text>
<line x1="217.96" y1="336.00" x2="217.96" y2="337.40" stroke="#444" stroke-width="0.5" />
<text x="219.76" y="338.60" font-size="5.1" text-anchor="end" fill="#111" transform="rotate(-90 219.76 338.60)" stroke="#111" stroke-width="0.08">Tspan8</text>
<line x1="223.77" y1="336.00" x2="223.77" y2="337.40" stroke="#444" stroke-width="0.5" />
<text x="225.57" y="338.60" font-size="5.1" text-anchor="end" fill="#111" transform="rotate(-90 225.57 338.60)" stroke="#111" stroke-width="0.08">Cd3g</text>
<line x1="229.58" y1="336.00" x2="229.58" y2="337.40" stroke="#444" stroke-width="0.5" />
<text x="231.38" y="338.60" font-size="5.1" text-anchor="end" fill="#111" transform="rotate(-90 231.38 338.60)" stroke="#111" stroke-width="0.08">Trim2</text>
<line x1="235.40" y1="336.00" x2="235.40" y2="337.40" stroke="#444" stroke-width="0.5" />
<text x="237.20" y="338.60" font-size="5.1" text-anchor="end" fill="#111" transform="rotate(-90 237.20 338.60)" stroke="#111" stroke-width="0.08">Mmp17</text>
<line x1="241.21" y1="336.00" x2="241.21" y2="337.40" stroke="#444" stroke-width="0.5" />
<text x="243.01" y="338.60" font-size="5.1" text-anchor="end" fill="#111" transform="rotate(-90 243.01 338.60)" stroke="#111" stroke-width="0.08">Atp6v1g3</text>
<line x1="247.02" y1="336.00" x2="247.02" y2="337.40" stroke="#444" stroke-width="0.5" />
<text x="248.82" y="338.60" font-size="5.1" text-anchor="end" fill="#111" transform="rotate(-90 248.82 338.60)" stroke="#111" stroke-width="0.08">Gfra2</text>
<line x1="252.83" y1="336.00" x2="252.83" y2="337.40" stroke="#444" stroke-width="0.5" />
<text x="254.63" y="338.60" font-size="5.1" text-anchor="end" fill="#111" transform="rotate(-90 254.63 338.60)" stroke="#111" stroke-width="0.08">Kcna2</text>
<line x1="258.64" y1="336.00" x2="258.64" y2="337.40" stroke="#444" stroke-width="0.5" />
<text x="260.44" y="338.60" font-size="5.1" text-anchor="end" fill="#111" transform="rotate(-90 260.44 338.60)" stroke="#111" stroke-width="0.08">Slc16a9</text>
<line x1="264.46" y1="336.00" x2="264.46" y2="337.40" stroke="#444" stroke-width="0.5" />
<text x="266.26" y="338.60" font-size="5.1" text-anchor="end" fill="#111" transform="rotate(-90 266.26 338.60)" stroke="#111" stroke-width="0.08">Rgs4</text>
<line x1="270.27" y1="336.00" x2="270.27" y2="337.40" stroke="#444" stroke-width="0.5" />
<text x="272.07" y="338.60" font-size="5.1" text-anchor="end" fill="#111" transform="rotate(-90 272.07 338.60)" stroke="#111" stroke-width="0.08">Nr2f2</text>
<line x1="276.08" y1="336.00" x2="276.08" y2="337.40" stroke="#444" stroke-width="0.5" />
<text x="277.88" y="338.60" font-size="5.1" text-anchor="end" fill="#111" transform="rotate(-90 277.88 338.60)" stroke="#111" stroke-width="0.08">Cxcl11</text>
<line x1="281.89" y1="336.00" x2="281.89" y2="337.40" stroke="#444" stroke-width="0.5" />
<text x="283.69" y="338.60" font-size="5.1" text-anchor="end" fill="#111" transform="rotate(-90 283.69 338.60)" stroke="#111" stroke-width="0.08">Ifnb1</text>
<line x1="287.70" y1="336.00" x2="287.70" y2="337.40" stroke="#444" stroke-width="0.5" />
<text x="289.50" y="338.60" font-size="5.1" text-anchor="end" fill="#111" transform="rotate(-90 289.50 338.60)" stroke="#111" stroke-width="0.08">Lyve1</text>
<line x1="293.52" y1="336.00" x2="293.52" y2="337.40" stroke="#444" stroke-width="0.5" />
<text x="295.32" y="338.60" font-size="5.1" text-anchor="end" fill="#111" transform="rotate(-90 295.32 338.60)" stroke="#111" stroke-width="0.08">Angptl4d2</text>
<line x1="299.33" y1="336.00" x2="299.33" y2="337.40" stroke="#444" stroke-width="0.5" />
<text x="301.13" y="338.60" font-size="5.1" text-anchor="end" fill="#111" transform="rotate(-90 301.13 338.60)" stroke="#111" stroke-width="0.08">Ebf3</text>
<line x1="305.14" y1="336.00" x2="305.14" y2="337.40" stroke="#444" stroke-width="0.5" />
<text x="306.94" y="338.60" font-size="5.1" text-anchor="end" fill="#111" transform="rotate(-90 306.94 338.60)" stroke="#111" stroke-width="0.08">Kcng1</text>
<line x1="310.95" y1="336.00" x2="310.95" y2="337.40" stroke="#444" stroke-width="0.5" />
<text x="312.75" y="338.60" font-size="5.1" text-anchor="end" fill="#111" transform="rotate(-90 312.75 338.60)" stroke="#111" stroke-width="0.08">Ncmap</text>
<line x1="316.76" y1="336.00" x2="316.76" y2="337.40" stroke="#444" stroke-width="0.5" />
<text x="318.56" y="338.60" font-size="5.1" text-anchor="end" fill="#111" transform="rotate(-90 318.56 338.60)" stroke="#111" stroke-width="0.08">BC024386</text>
<line x1="322.58" y1="336.00" x2="322.58" y2="337.40" stroke="#444" stroke-width="0.5" />
<text x="324.38" y="338.60" font-size="5.1" text-anchor="end" fill="#111" transform="rotate(-90 324.38 338.60)" stroke="#111" stroke-width="0.08">Tmem95</text>
<line x1="328.39" y1="336.00" x2="328.39" y2="337.40" stroke="#444" stroke-width="0.5" />
<text x="330.19" y="338.60" font-size="5.1" text-anchor="end" fill="#111" transform="rotate(-90 330.19 338.60)" stroke="#111" stroke-width="0.08">Wbp2nl</text>
<line x1="334.20" y1="336.00" x2="334.20" y2="337.40" stroke="#444" stroke-width="0.5" />
<text x="336.00" y="338.60" font-size="5.1" text-anchor="end" fill="#111" transform="rotate(-90 336.00 338.60)" stroke="#111" stroke-width="0.08">Ubash3a</text>
<line x1="340.01" y1="336.00" x2="340.01" y2="337.40" stroke="#444" stroke-width="0.5" />
<text x="341.81" y="338.60" font-size="5.1" text-anchor="end" fill="#111" transform="rotate(-90 341.81 338.60)" stroke="#111" stroke-width="0.08">Clcnka</text>
<line x1="345.82" y1="336.00" x2="345.82" y2="337.40" stroke="#444" stroke-width="0.5" />
<text x="347.62" y="338.60" font-size="5.1" text-anchor="end" fill="#111" transform="rotate(-90 347.62 338.60)" stroke="#111" stroke-width="0.08">Wnt2b-ps21</text>
<line x1="351.64" y1="336.00" x2="351.64" y2="337.40" stroke="#444" stroke-width="0.5" />
<text x="353.44" y="338.60" font-size="5.1" text-anchor="end" fill="#111" transform="rotate(-90 353.44 338.60)" stroke="#111" stroke-width="0.08">Sez6</text>
<line x1="357.45" y1="336.00" x2="357.45" y2="337.40" stroke="#444" stroke-width="0.5" />
<text x="359.25" y="338.60" font-size="5.1" text-anchor="end" fill="#111" transform="rotate(-90 359.25 338.60)" stroke="#111" stroke-width="0.08">Ibsp</text>
<line x1="363.26" y1="336.00" x2="363.26" y2="337.40" stroke="#444" stroke-width="0.5" />
<text x="365.06" y="338.60" font-size="5.1" text-anchor="end" fill="#111" transform="rotate(-90 365.06 338.60)" stroke="#111" stroke-width="0.08">Igkv8-20</text>
<line x1="369.07" y1="336.00" x2="369.07" y2="337.40" stroke="#444" stroke-width="0.5" />
<text x="370.87" y="338.60" font-size="5.1" text-anchor="end" fill="#111" transform="rotate(-90 370.87 338.60)" stroke="#111" stroke-width="0.08">Tmod4</text>
<line x1="374.88" y1="336.00" x2="374.88" y2="337.40" stroke="#444" stroke-width="0.5" />
<text x="376.68" y="338.60" font-size="5.1" text-anchor="end" fill="#111" transform="rotate(-90 376.68 338.60)" stroke="#111" stroke-width="0.08">Sit1</text>
<line x1="380.70" y1="336.00" x2="380.70" y2="337.40" stroke="#444" stroke-width="0.5" />
<text x="382.50" y="338.60" font-size="5.1" text-anchor="end" fill="#111" transform="rotate(-90 382.50 338.60)" stroke="#111" stroke-width="0.08">Gimap1os5</text>
<line x1="386.51" y1="336.00" x2="386.51" y2="337.40" stroke="#444" stroke-width="0.5" />
<text x="388.31" y="338.60" font-size="5.1" text-anchor="end" fill="#111" transform="rotate(-90 388.31 338.60)" stroke="#111" stroke-width="0.08">Atp12a</text>
<text x="215.00" y="374.20" font-size="6.3" text-anchor="middle" fill="#222">Features</text>
<text x="29.70" y="266.30" font-size="6.8" text-anchor="middle" fill="#222" transform="rotate(-90 29.70 266.30)">Identity</text>
<text x="395.60" y="229.40" font-size="6.0" fill="#222">Average Expression</text>
<defs><linearGradient id="gD" x1="0" y1="0" x2="0" y2="1"><stop offset="0" stop-color="#FF2A1C"/><stop offset="0.5" stop-color="#E8837C"/><stop offset="1" stop-color="#ADD8E6"/></linearGradient></defs>
<rect x="395.80" y="232.60" width="6.60" height="34.20" fill="url(#gD)" />
<text x="405.20" y="234.90" font-size="5.3" fill="#333">2.5</text>
<text x="405.20" y="240.40" font-size="5.3" fill="#333">2.0</text>
<text x="405.20" y="245.90" font-size="5.3" fill="#333">1.5</text>
<text x="405.20" y="251.40" font-size="5.3" fill="#333">1.0</text>
<text x="405.20" y="256.90" font-size="5.3" fill="#333">0.5</text>
<text x="405.20" y="262.40" font-size="5.3" fill="#333">0.0</text>
<text x="405.20" y="267.90" font-size="5.3" fill="#333">-0.5</text>
<text x="395.60" y="277.60" font-size="6.0" fill="#222">Percent Expressed</text>
<circle cx="399.40" cy="285.30" r="0.30" fill="#000" />
<text x="405.20" y="287.20" font-size="5.3" fill="#333">0</text>
<circle cx="399.40" cy="291.70" r="0.90" fill="#000" />
<text x="405.20" y="293.60" font-size="5.3" fill="#333">25</text>
<circle cx="399.40" cy="298.40" r="1.50" fill="#000" />
<text x="405.20" y="300.30" font-size="5.3" fill="#333">50</text>
<circle cx="399.40" cy="305.10" r="2.20" fill="#000" />
<text x="405.20" y="307.00" font-size="5.3" fill="#333">75</text>
<path d="M63.70,520.80 C63.71,520.54 63.80,520.02 63.75,519.23 C63.70,518.45 63.73,517.47 63.40,516.10 C63.07,514.72 62.53,512.70 61.80,511.00 C61.07,509.30 59.70,507.54 59.00,505.90 C58.30,504.27 57.95,503.29 57.60,501.20 C57.25,499.11 57.05,496.63 56.90,493.36 C56.75,490.09 56.75,485.52 56.70,481.60 C56.65,477.68 56.68,473.11 56.60,469.84 C56.52,466.57 56.53,463.76 56.20,462.00 C55.87,460.24 54.87,459.71 54.60,459.26 L54.20,459.26 C53.93,459.71 52.93,460.24 52.60,462.00 C52.27,463.76 52.28,466.57 52.20,469.84 C52.12,473.11 52.15,477.68 52.10,481.60 C52.05,485.52 52.05,490.09 51.90,493.36 C51.75,496.63 51.55,499.11 51.20,501.20 C50.85,503.29 50.50,504.27 49.80,505.90 C49.10,507.54 47.73,509.30 47.00,511.00 C46.27,512.70 45.73,514.72 45.40,516.10 C45.07,517.47 45.10,518.45 45.05,519.23 C45.00,520.02 45.09,520.54 45.10,520.80 Z" fill="#B3C3DE" stroke="#333" stroke-width="0.35" />
<path d="M84.40,520.80 C84.41,520.54 84.57,520.21 84.45,519.23 C84.33,518.25 84.16,516.62 83.70,514.92 C83.24,513.22 82.37,511.33 81.70,509.04 C81.03,506.75 80.23,504.47 79.70,501.20 C79.17,497.93 78.77,494.01 78.50,489.44 C78.23,484.87 78.28,478.99 78.10,473.76 C77.92,468.53 77.70,463.31 77.40,458.08 C77.10,452.85 76.60,446.97 76.30,442.40 C76.00,437.83 75.75,434.76 75.60,430.64 C75.45,426.52 75.43,419.86 75.40,417.70 L74.80,417.70 C74.77,419.86 74.75,426.52 74.60,430.64 C74.45,434.76 74.20,437.83 73.90,442.40 C73.60,446.97 73.10,452.85 72.80,458.08 C72.50,463.31 72.28,468.53 72.10,473.76 C71.92,478.99 71.97,484.87 71.70,489.44 C71.43,494.01 71.03,497.93 70.50,501.20 C69.97,504.47 69.17,506.75 68.50,509.04 C67.83,511.33 66.96,513.22 66.50,514.92 C66.04,516.62 65.87,518.25 65.75,519.23 C65.63,520.21 65.79,520.54 65.80,520.80 Z" fill="#5BBDB5" stroke="#333" stroke-width="0.35" />
<path d="M104.90,520.80 C104.91,520.54 104.98,520.21 104.95,519.23 C104.92,518.25 104.99,517.27 104.70,514.92 C104.41,512.57 103.73,508.71 103.20,505.12 C102.67,501.53 101.85,497.28 101.50,493.36 C101.15,489.44 101.25,485.52 101.10,481.60 C100.95,477.68 100.92,473.76 100.60,469.84 C100.28,465.92 99.73,462.65 99.20,458.08 C98.67,453.51 97.90,446.65 97.40,442.40 C96.90,438.15 96.45,435.21 96.20,432.60 C95.95,429.99 95.95,427.70 95.90,426.72 L95.30,426.72 C95.25,427.70 95.25,429.99 95.00,432.60 C94.75,435.21 94.30,438.15 93.80,442.40 C93.30,446.65 92.53,453.51 92.00,458.08 C91.47,462.65 90.92,465.92 90.60,469.84 C90.28,473.76 90.25,477.68 90.10,481.60 C89.95,485.52 90.05,489.44 89.70,493.36 C89.35,497.28 88.53,501.53 88.00,505.12 C87.47,508.71 86.79,512.57 86.50,514.92 C86.21,517.27 86.28,518.25 86.25,519.23 C86.22,520.21 86.29,520.54 86.30,520.80 Z" fill="#E5AF72" stroke="#333" stroke-width="0.35" />
<path d="M124.90,520.80 C124.90,520.67 126.20,520.28 124.90,520.02 C123.60,519.75 118.51,519.75 117.10,519.23 C115.69,518.71 116.56,525.18 116.45,516.88 C116.34,508.58 116.45,477.35 116.45,469.45 L115.75,469.45 C115.75,477.35 115.86,508.58 115.75,516.88 C115.64,525.18 116.51,518.71 115.10,519.23 C113.69,519.75 108.60,519.75 107.30,520.02 C106.00,520.28 107.30,520.67 107.30,520.80 Z" fill="#BDA5D5" stroke="#333" stroke-width="0.35" />
<path d="M145.60,520.80 C145.43,520.60 145.43,520.15 144.60,519.62 C143.77,519.10 141.73,518.38 140.60,517.66 C139.47,516.95 138.38,516.75 137.80,515.31 C137.22,513.87 137.22,512.05 137.10,509.04 C136.97,506.03 137.07,504.01 137.05,497.28 C137.02,490.55 136.97,473.43 136.95,468.66 L136.25,468.66 C136.23,473.43 136.18,490.55 136.15,497.28 C136.12,504.01 136.22,506.03 136.10,509.04 C135.97,512.05 135.98,513.87 135.40,515.31 C134.82,516.75 133.73,516.95 132.60,517.66 C131.47,518.38 129.43,519.10 128.60,519.62 C127.77,520.15 127.77,520.60 127.60,520.80 Z" fill="#B3968C" stroke="#333" stroke-width="0.35" />
<path d="M166.20,520.80 C166.21,520.54 166.37,520.54 166.25,519.23 C166.13,517.93 165.91,515.31 165.50,512.96 C165.09,510.61 164.38,507.73 163.80,505.12 C163.22,502.51 162.47,500.55 162.00,497.28 C161.53,494.01 161.17,489.44 161.00,485.52 C160.83,481.60 161.08,477.68 161.00,473.76 C160.92,469.84 160.78,465.92 160.50,462.00 C160.22,458.08 159.70,453.51 159.30,450.24 C158.90,446.97 158.43,444.10 158.10,442.40 C157.77,440.70 157.43,440.44 157.30,440.05 L156.70,440.05 C156.57,440.44 156.23,440.70 155.90,442.40 C155.57,444.10 155.10,446.97 154.70,450.24 C154.30,453.51 153.78,458.08 153.50,462.00 C153.22,465.92 153.08,469.84 153.00,473.76 C152.92,477.68 153.17,481.60 153.00,485.52 C152.83,489.44 152.47,494.01 152.00,497.28 C151.53,500.55 150.78,502.51 150.20,505.12 C149.62,507.73 148.91,510.61 148.50,512.96 C148.09,515.31 147.87,517.93 147.75,519.23 C147.63,520.54 147.79,520.54 147.80,520.80 Z" fill="#A4474D" stroke="#333" stroke-width="0.35" />
<path d="M186.60,520.80 C186.61,520.54 186.73,520.54 186.65,519.23 C186.57,517.93 186.42,515.31 186.10,512.96 C185.78,510.61 185.18,507.73 184.70,505.12 C184.22,502.51 183.58,500.55 183.20,497.28 C182.82,494.01 182.50,489.44 182.40,485.52 C182.30,481.60 182.63,477.68 182.60,473.76 C182.57,469.84 182.52,465.14 182.20,462.00 C181.88,458.86 181.23,456.64 180.70,454.94 C180.17,453.25 179.52,452.40 179.00,451.81 C178.48,451.22 177.83,451.48 177.60,451.42 L177.20,451.42 C176.97,451.48 176.32,451.22 175.80,451.81 C175.28,452.40 174.63,453.25 174.10,454.94 C173.57,456.64 172.92,458.86 172.60,462.00 C172.28,465.14 172.23,469.84 172.20,473.76 C172.17,477.68 172.50,481.60 172.40,485.52 C172.30,489.44 171.98,494.01 171.60,497.28 C171.22,500.55 170.58,502.51 170.10,505.12 C169.62,507.73 169.03,510.61 168.70,512.96 C168.38,515.31 168.23,517.93 168.15,519.23 C168.07,520.54 168.19,520.54 168.20,520.80 Z" fill="#3A77A3" stroke="#333" stroke-width="0.35" />
<path d="M206.80,520.80 C206.80,520.70 208.13,520.41 206.80,520.21 C205.47,520.02 200.24,520.18 198.80,519.62 C197.36,519.07 198.26,526.52 198.15,516.88 C198.04,507.24 198.15,470.98 198.15,461.80 L197.45,461.80 C197.45,470.98 197.56,507.24 197.45,516.88 C197.34,526.52 198.24,519.07 196.80,519.62 C195.36,520.18 190.13,520.02 188.80,520.21 C187.47,520.41 188.80,520.70 188.80,520.80 Z" fill="#E78C93" stroke="#333" stroke-width="0.35" />
<path d="M227.60,520.80 C227.61,520.54 227.70,520.54 227.65,519.23 C227.60,517.93 227.53,515.97 227.30,512.96 C227.08,509.95 226.67,505.12 226.30,501.20 C225.93,497.28 225.43,494.01 225.10,489.44 C224.77,484.87 224.52,478.99 224.30,473.76 C224.08,468.53 224.13,462.65 223.80,458.08 C223.47,453.51 222.80,450.24 222.30,446.32 C221.80,442.40 221.30,438.15 220.80,434.56 C220.30,430.97 219.67,427.05 219.30,424.76 C218.93,422.47 218.72,421.49 218.60,420.84 L218.00,420.84 C217.88,421.49 217.67,422.47 217.30,424.76 C216.93,427.05 216.30,430.97 215.80,434.56 C215.30,438.15 214.80,442.40 214.30,446.32 C213.80,450.24 213.13,453.51 212.80,458.08 C212.47,462.65 212.52,468.53 212.30,473.76 C212.08,478.99 211.83,484.87 211.50,489.44 C211.17,494.01 210.67,497.28 210.30,501.20 C209.93,505.12 209.53,509.95 209.30,512.96 C209.08,515.97 209.00,517.93 208.95,519.23 C208.90,520.54 208.99,520.54 209.00,520.80 Z" fill="#A8DAD9" stroke="#333" stroke-width="0.35" />
<path d="M247.70,520.80 C247.53,520.60 247.45,520.15 246.70,519.62 C245.95,519.10 244.20,518.25 243.20,517.66 C242.20,517.08 241.12,516.62 240.70,516.10 C240.28,515.57 240.40,515.05 240.70,514.53 C241.00,514.01 242.13,513.48 242.50,512.96 C242.87,512.44 243.45,511.69 242.90,511.39 C242.35,511.10 239.82,511.23 239.20,511.20 L238.20,511.20 C237.58,511.23 235.05,511.10 234.50,511.39 C233.95,511.69 234.53,512.44 234.90,512.96 C235.27,513.48 236.40,514.01 236.70,514.53 C237.00,515.05 237.12,515.57 236.70,516.10 C236.28,516.62 235.20,517.08 234.20,517.66 C233.20,518.25 231.45,519.10 230.70,519.62 C229.95,520.15 229.87,520.60 229.70,520.80 Z" fill="#6A4C9C" stroke="#333" stroke-width="0.35" />
<path d="M268.40,520.80 C268.41,520.54 268.53,520.54 268.45,519.23 C268.37,517.93 268.21,515.97 267.90,512.96 C267.59,509.95 266.98,505.12 266.60,501.20 C266.22,497.28 265.93,493.36 265.60,489.44 C265.27,485.52 264.98,481.60 264.60,477.68 C264.22,473.76 263.72,469.84 263.30,465.92 C262.88,462.00 262.53,458.08 262.10,454.16 C261.67,450.24 261.05,445.01 260.70,442.40 C260.35,439.79 260.22,439.36 260.00,438.48 C259.78,437.60 259.50,437.34 259.40,437.11 L258.80,437.11 C258.70,437.34 258.42,437.60 258.20,438.48 C257.98,439.36 257.85,439.79 257.50,442.40 C257.15,445.01 256.53,450.24 256.10,454.16 C255.67,458.08 255.32,462.00 254.90,465.92 C254.48,469.84 253.98,473.76 253.60,477.68 C253.22,481.60 252.93,485.52 252.60,489.44 C252.27,493.36 251.98,497.28 251.60,501.20 C251.22,505.12 250.61,509.95 250.30,512.96 C249.99,515.97 249.83,517.93 249.75,519.23 C249.67,520.54 249.79,520.54 249.80,520.80 Z" fill="#4AA06A" stroke="#333" stroke-width="0.35" />
<path d="M289.10,520.80 C289.08,520.60 289.25,520.15 289.00,519.62 C288.75,519.10 288.33,518.45 287.60,517.66 C286.87,516.88 285.53,515.83 284.60,514.92 C283.67,514.01 282.63,513.16 282.00,512.18 C281.37,511.20 280.97,510.87 280.80,509.04 C280.63,507.21 280.87,503.81 281.00,501.20 C281.13,498.59 281.55,495.97 281.60,493.36 C281.65,490.75 281.40,487.81 281.30,485.52 C281.20,483.23 281.23,480.95 281.00,479.64 C280.77,478.33 280.08,478.01 279.90,477.68 L279.30,477.68 C279.12,478.01 278.43,478.33 278.20,479.64 C277.97,480.95 278.00,483.23 277.90,485.52 C277.80,487.81 277.55,490.75 277.60,493.36 C277.65,495.97 278.07,498.59 278.20,501.20 C278.33,503.81 278.57,507.21 278.40,509.04 C278.23,510.87 277.83,511.20 277.20,512.18 C276.57,513.16 275.53,514.01 274.60,514.92 C273.67,515.83 272.33,516.88 271.60,517.66 C270.87,518.45 270.45,519.10 270.20,519.62 C269.95,520.15 270.12,520.60 270.10,520.80 Z" fill="#CF78BD" stroke="#333" stroke-width="0.35" />
<circle cx="116.25" cy="488.81" r="0.30" fill="#888" />
<circle cx="116.37" cy="479.97" r="0.30" fill="#888" />
<circle cx="116.35" cy="482.80" r="0.30" fill="#888" />
<circle cx="116.08" cy="519.31" r="0.30" fill="#888" />
<circle cx="116.19" cy="472.36" r="0.30" fill="#888" />
<circle cx="115.87" cy="474.54" r="0.30" fill="#888" />
<circle cx="115.95" cy="496.71" r="0.30" fill="#888" />
<circle cx="116.14" cy="492.88" r="0.30" fill="#888" />
<circle cx="115.93" cy="520.13" r="0.30" fill="#888" />
<circle cx="116.35" cy="506.45" r="0.30" fill="#888" />
<circle cx="115.90" cy="481.48" r="0.30" fill="#888" />
<circle cx="115.88" cy="479.86" r="0.30" fill="#888" />
<circle cx="115.88" cy="489.09" r="0.30" fill="#888" />
<circle cx="116.32" cy="520.71" r="0.30" fill="#888" />
<circle cx="115.93" cy="510.04" r="0.30" fill="#888" />
<circle cx="116.32" cy="470.35" r="0.30" fill="#888" />
<circle cx="116.38" cy="505.94" r="0.30" fill="#888" />
<circle cx="116.21" cy="493.11" r="0.30" fill="#888" />
<circle cx="116.36" cy="510.28" r="0.30" fill="#888" />
<circle cx="116.38" cy="485.33" r="0.30" fill="#888" />
<circle cx="115.98" cy="474.90" r="0.30" fill="#888" />
<circle cx="115.90" cy="502.25" r="0.30" fill="#888" />
<circle cx="115.84" cy="513.32" r="0.30" fill="#888" />
<circle cx="116.16" cy="505.32" r="0.30" fill="#888" />
<circle cx="116.21" cy="520.63" r="0.30" fill="#888" />
<circle cx="115.99" cy="503.45" r="0.30" fill="#888" />
<circle cx="116.09" cy="478.77" r="0.30" fill="#888" />
<circle cx="116.09" cy="504.58" r="0.30" fill="#888" />
<circle cx="115.83" cy="484.61" r="0.30" fill="#888" />
<circle cx="115.81" cy="470.73" r="0.30" fill="#888" />
<circle cx="116.31" cy="482.30" r="0.30" fill="#888" />
<circle cx="116.27" cy="519.87" r="0.30" fill="#888" />
<circle cx="116.15" cy="502.00" r="0.30" fill="#888" />
<circle cx="115.83" cy="520.33" r="0.30" fill="#888" />
<circle cx="116.37" cy="511.51" r="0.30" fill="#888" />
<circle cx="116.25" cy="510.71" r="0.30" fill="#888" />
<circle cx="116.37" cy="473.06" r="0.30" fill="#888" />
<circle cx="116.01" cy="503.12" r="0.30" fill="#888" />
<circle cx="116.27" cy="493.86" r="0.30" fill="#888" />
<circle cx="116.25" cy="515.25" r="0.30" fill="#888" />
<circle cx="198.02" cy="473.77" r="0.30" fill="#888" />
<circle cx="198.07" cy="518.64" r="0.30" fill="#888" />
<circle cx="197.70" cy="515.42" r="0.30" fill="#888" />
<circle cx="198.05" cy="484.76" r="0.30" fill="#888" />
<circle cx="198.05" cy="500.74" r="0.30" fill="#888" />
<circle cx="197.69" cy="488.64" r="0.30" fill="#888" />
<circle cx="197.61" cy="502.11" r="0.30" fill="#888" />
<circle cx="197.59" cy="516.19" r="0.30" fill="#888" />
<circle cx="198.10" cy="480.14" r="0.30" fill="#888" />
<circle cx="197.53" cy="511.27" r="0.30" fill="#888" />
<circle cx="197.82" cy="462.59" r="0.30" fill="#888" />
<circle cx="197.64" cy="496.85" r="0.30" fill="#888" />
<circle cx="198.00" cy="485.76" r="0.30" fill="#888" />
<circle cx="197.75" cy="493.92" r="0.30" fill="#888" />
<circle cx="198.05" cy="517.51" r="0.30" fill="#888" />
<circle cx="197.80" cy="518.87" r="0.30" fill="#888" />
<circle cx="197.58" cy="471.34" r="0.30" fill="#888" />
<circle cx="198.07" cy="477.63" r="0.30" fill="#888" />
<circle cx="197.97" cy="483.61" r="0.30" fill="#888" />
<circle cx="197.76" cy="514.51" r="0.30" fill="#888" />
<circle cx="198.01" cy="512.00" r="0.30" fill="#888" />
<circle cx="197.77" cy="503.41" r="0.30" fill="#888" />
<circle cx="198.01" cy="461.85" r="0.30" fill="#888" />
<circle cx="197.77" cy="463.22" r="0.30" fill="#888" />
<circle cx="197.94" cy="492.00" r="0.30" fill="#888" />
<circle cx="197.67" cy="492.54" r="0.30" fill="#888" />
<circle cx="197.59" cy="496.98" r="0.30" fill="#888" />
<circle cx="198.09" cy="498.56" r="0.30" fill="#888" />
<circle cx="197.88" cy="464.17" r="0.30" fill="#888" />
<circle cx="197.70" cy="491.34" r="0.30" fill="#888" />
<circle cx="197.66" cy="515.54" r="0.30" fill="#888" />
<circle cx="198.02" cy="474.66" r="0.30" fill="#888" />
<circle cx="197.97" cy="499.48" r="0.30" fill="#888" />
<circle cx="197.92" cy="475.08" r="0.30" fill="#888" />
<circle cx="197.96" cy="481.63" r="0.30" fill="#888" />
<circle cx="197.92" cy="499.36" r="0.30" fill="#888" />
<circle cx="197.79" cy="504.23" r="0.30" fill="#888" />
<circle cx="197.91" cy="475.39" r="0.30" fill="#888" />
<circle cx="198.07" cy="503.46" r="0.30" fill="#888" />
<circle cx="197.85" cy="482.47" r="0.30" fill="#888" />
<line x1="42.50" y1="413.20" x2="42.50" y2="526.30" stroke="#444" stroke-width="0.6" />
<line x1="42.20" y1="526.00" x2="291.80" y2="526.00" stroke="#444" stroke-width="0.6" />
<line x1="41.10" y1="442.40" x2="42.50" y2="442.40" stroke="#444" stroke-width="0.5" />
<text x="40.20" y="443.80" font-size="4.2" text-anchor="end" fill="#333" font-family="Liberation Serif">0.2</text>
<line x1="41.10" y1="481.60" x2="42.50" y2="481.60" stroke="#444" stroke-width="0.5" />
<text x="40.20" y="483.00" font-size="4.2" text-anchor="end" fill="#333" font-family="Liberation Serif">0.1</text>
<line x1="41.10" y1="520.80" x2="42.50" y2="520.80" stroke="#444" stroke-width="0.5" />
<text x="40.20" y="522.20" font-size="4.2" text-anchor="end" fill="#333" font-family="Liberation Serif">0.0</text>
<line x1="54.40" y1="526.00" x2="54.40" y2="527.40" stroke="#444" stroke-width="0.5" />
<text x="54.40" y="531.60" font-size="4.4" text-anchor="middle" fill="#333" font-family="Liberation Serif">1</text>
<line x1="75.10" y1="526.00" x2="75.10" y2="527.40" stroke="#444" stroke-width="0.5" />
<text x="75.10" y="531.60" font-size="4.4" text-anchor="middle" fill="#333" font-family="Liberation Serif">2</text>
<line x1="95.60" y1="526.00" x2="95.60" y2="527.40" stroke="#444" stroke-width="0.5" />
<text x="95.60" y="531.60" font-size="4.4" text-anchor="middle" fill="#333" font-family="Liberation Serif">3</text>
<line x1="116.10" y1="526.00" x2="116.10" y2="527.40" stroke="#444" stroke-width="0.5" />
<text x="116.10" y="531.60" font-size="4.4" text-anchor="middle" fill="#333" font-family="Liberation Serif">4</text>
<line x1="136.60" y1="526.00" x2="136.60" y2="527.40" stroke="#444" stroke-width="0.5" />
<text x="136.60" y="531.60" font-size="4.4" text-anchor="middle" fill="#333" font-family="Liberation Serif">5</text>
<line x1="157.00" y1="526.00" x2="157.00" y2="527.40" stroke="#444" stroke-width="0.5" />
<text x="157.00" y="531.60" font-size="4.4" text-anchor="middle" fill="#333" font-family="Liberation Serif">6</text>
<line x1="177.40" y1="526.00" x2="177.40" y2="527.40" stroke="#444" stroke-width="0.5" />
<text x="177.40" y="531.60" font-size="4.4" text-anchor="middle" fill="#333" font-family="Liberation Serif">7</text>
<line x1="197.80" y1="526.00" x2="197.80" y2="527.40" stroke="#444" stroke-width="0.5" />
<text x="197.80" y="531.60" font-size="4.4" text-anchor="middle" fill="#333" font-family="Liberation Serif">8</text>
<line x1="218.30" y1="526.00" x2="218.30" y2="527.40" stroke="#444" stroke-width="0.5" />
<text x="218.30" y="531.60" font-size="4.4" text-anchor="middle" fill="#333" font-family="Liberation Serif">9</text>
<line x1="238.70" y1="526.00" x2="238.70" y2="527.40" stroke="#444" stroke-width="0.5" />
<text x="238.70" y="531.60" font-size="4.4" text-anchor="middle" fill="#333" font-family="Liberation Serif">10</text>
<line x1="259.10" y1="526.00" x2="259.10" y2="527.40" stroke="#444" stroke-width="0.5" />
<text x="259.10" y="531.60" font-size="4.4" text-anchor="middle" fill="#333" font-family="Liberation Serif">11</text>
<line x1="279.60" y1="526.00" x2="279.60" y2="527.40" stroke="#444" stroke-width="0.5" />
<text x="279.60" y="531.60" font-size="4.4" text-anchor="middle" fill="#333" font-family="Liberation Serif">12</text>
<text x="167.20" y="537.00" font-size="5.2" text-anchor="middle" fill="#222">Identity</text>
<text x="147.70" y="409.30" font-size="5.35" font-weight="bold" fill="#111">Pro angiogenic</text>
<rect x="296.70" y="440.20" width="4.80" height="5.05" fill="#B3C3DE" stroke="#555" stroke-width="0.25" />
<text x="304.00" y="443.90" font-size="3.8" fill="#333" font-family="Liberation Serif">1</text>
<rect x="296.70" y="445.25" width="4.80" height="5.05" fill="#5BBDB5" stroke="#555" stroke-width="0.25" />
<text x="304.00" y="448.95" font-size="3.8" fill="#333" font-family="Liberation Serif">2</text>
<rect x="296.70" y="450.30" width="4.80" height="5.05" fill="#E5AF72" stroke="#555" stroke-width="0.25" />
<text x="304.00" y="454.00" font-size="3.8" fill="#333" font-family="Liberation Serif">3</text>
<rect x="296.70" y="455.35" width="4.80" height="5.05" fill="#BDA5D5" stroke="#555" stroke-width="0.25" />
<text x="304.00" y="459.05" font-size="3.8" fill="#333" font-family="Liberation Serif">4</text>
<rect x="296.70" y="460.40" width="4.80" height="5.05" fill="#B3968C" stroke="#555" stroke-width="0.25" />
<text x="304.00" y="464.10" font-size="3.8" fill="#333" font-family="Liberation Serif">5</text>
<rect x="296.70" y="465.45" width="4.80" height="5.05" fill="#A4474D" stroke="#555" stroke-width="0.25" />
<text x="304.00" y="469.15" font-size="3.8" fill="#333" font-family="Liberation Serif">6</text>
<rect x="296.70" y="470.50" width="4.80" height="5.05" fill="#3A77A3" stroke="#555" stroke-width="0.25" />
<text x="304.00" y="474.20" font-size="3.8" fill="#333" font-family="Liberation Serif">7</text>
<rect x="296.70" y="475.55" width="4.80" height="5.05" fill="#E78C93" stroke="#555" stroke-width="0.25" />
<text x="304.00" y="479.25" font-size="3.8" fill="#333" font-family="Liberation Serif">8</text>
<rect x="296.70" y="480.60" width="4.80" height="5.05" fill="#A8DAD9" stroke="#555" stroke-width="0.25" />
<text x="304.00" y="484.30" font-size="3.8" fill="#333" font-family="Liberation Serif">9</text>
<rect x="296.70" y="485.65" width="4.80" height="5.05" fill="#6A4C9C" stroke="#555" stroke-width="0.25" />
<text x="304.00" y="489.35" font-size="3.8" fill="#333" font-family="Liberation Serif">10</text>
<rect x="296.70" y="490.70" width="4.80" height="5.05" fill="#4AA06A" stroke="#555" stroke-width="0.25" />
<text x="304.00" y="494.40" font-size="3.8" fill="#333" font-family="Liberation Serif">11</text>
<rect x="296.70" y="495.75" width="4.80" height="5.05" fill="#CF78BD" stroke="#555" stroke-width="0.25" />
<text x="304.00" y="499.45" font-size="3.8" fill="#333" font-family="Liberation Serif">12</text>
<rect x="524.30" y="209.00" width="42.50" height="37.90" fill="#B3C3DE" />
<rect x="524.30" y="246.70" width="42.50" height="105.10" fill="#5BBDB5" />
<rect x="571.30" y="209.00" width="42.50" height="49.90" fill="#B3C3DE" />
<rect x="571.30" y="258.70" width="42.50" height="93.10" fill="#5BBDB5" />
<line x1="517.40" y1="202.40" x2="517.40" y2="359.30" stroke="#333" stroke-width="0.7" />
<line x1="517.00" y1="359.00" x2="620.70" y2="359.00" stroke="#333" stroke-width="0.7" />
<line x1="515.90" y1="209.00" x2="517.40" y2="209.00" stroke="#333" stroke-width="0.5" />
<text x="515.20" y="210.10" font-size="3.4" text-anchor="end" fill="#444" font-family="Liberation Serif">1.00</text>
<line x1="515.90" y1="244.70" x2="517.40" y2="244.70" stroke="#333" stroke-width="0.5" />
<text x="515.20" y="245.80" font-size="3.4" text-anchor="end" fill="#444" font-family="Liberation Serif">0.75</text>
<line x1="515.90" y1="280.40" x2="517.40" y2="280.40" stroke="#333" stroke-width="0.5" />
<text x="515.20" y="281.50" font-size="3.4" text-anchor="end" fill="#444" font-family="Liberation Serif">0.50</text>
<line x1="515.90" y1="316.10" x2="517.40" y2="316.10" stroke="#333" stroke-width="0.5" />
<text x="515.20" y="317.20" font-size="3.4" text-anchor="end" fill="#444" font-family="Liberation Serif">0.25</text>
<line x1="515.90" y1="351.80" x2="517.40" y2="351.80" stroke="#333" stroke-width="0.5" />
<text x="515.20" y="352.90" font-size="3.4" text-anchor="end" fill="#444" font-family="Liberation Serif">0.00</text>
<line x1="545.50" y1="359.00" x2="545.50" y2="360.40" stroke="#333" stroke-width="0.5" />
<text x="545.50" y="363.60" font-size="3.5" text-anchor="middle" fill="#444" font-family="Liberation Serif">cKO</text>
<line x1="592.60" y1="359.00" x2="592.60" y2="360.40" stroke="#333" stroke-width="0.5" />
<text x="592.60" y="363.60" font-size="3.5" text-anchor="middle" fill="#444" font-family="Liberation Serif">Control</text>
<text x="569.30" y="368.80" font-size="4.85" text-anchor="middle" fill="#333">Groups</text>
<text x="627.60" y="273.80" font-size="4.5" fill="#222">Clusters</text>
<rect x="627.80" y="277.20" width="6.30" height="5.40" fill="#B3C3DE" />
<rect x="627.80" y="284.10" width="6.30" height="5.40" fill="#5BBDB5" />
<text x="636.90" y="281.20" font-size="3.7" fill="#333">no-Pro_angiogenic</text>
<text x="636.90" y="288.10" font-size="3.7" fill="#333">Pro_angiogenic</text>
<rect x="521.00" y="393.90" width="120.80" height="144.40" fill="#EBEBEB" />
<line x1="526.50" y1="393.90" x2="526.50" y2="538.30" stroke="#fff" stroke-width="0.5" />
<line x1="540.25" y1="393.90" x2="540.25" y2="538.30" stroke="#fff" stroke-width="0.25" />
<line x1="553.99" y1="393.90" x2="553.99" y2="538.30" stroke="#fff" stroke-width="0.5" />
<line x1="567.74" y1="393.90" x2="567.74" y2="538.30" stroke="#fff" stroke-width="0.25" />
<line x1="581.48" y1="393.90" x2="581.48" y2="538.30" stroke="#fff" stroke-width="0.5" />
<line x1="595.23" y1="393.90" x2="595.23" y2="538.30" stroke="#fff" stroke-width="0.25" />
<line x1="608.97" y1="393.90" x2="608.97" y2="538.30" stroke="#fff" stroke-width="0.5" />
<line x1="622.72" y1="393.90" x2="622.72" y2="538.30" stroke="#fff" stroke-width="0.25" />
<line x1="636.46" y1="393.90" x2="636.46" y2="538.30" stroke="#fff" stroke-width="0.5" />
<line x1="521.00" y1="398.80" x2="641.80" y2="398.80" stroke="#fff" stroke-width="0.5" />
<line x1="521.00" y1="405.92" x2="641.80" y2="405.92" stroke="#fff" stroke-width="0.5" />
<line x1="521.00" y1="413.04" x2="641.80" y2="413.04" stroke="#fff" stroke-width="0.5" />
<line x1="521.00" y1="420.16" x2="641.80" y2="420.16" stroke="#fff" stroke-width="0.5" />
<line x1="521.00" y1="427.28" x2="641.80" y2="427.28" stroke="#fff" stroke-width="0.5" />
<line x1="521.00" y1="434.40" x2="641.80" y2="434.40" stroke="#fff" stroke-width="0.5" />
<line x1="521.00" y1="441.52" x2="641.80" y2="441.52" stroke="#fff" stroke-width="0.5" />
<line x1="521.00" y1="448.64" x2="641.80" y2="448.64" stroke="#fff" stroke-width="0.5" />
<line x1="521.00" y1="455.76" x2="641.80" y2="455.76" stroke="#fff" stroke-width="0.5" />
<line x1="521.00" y1="462.88" x2="641.80" y2="462.88" stroke="#fff" stroke-width="0.5" />
<line x1="521.00" y1="470.00" x2="641.80" y2="470.00" stroke="#fff" stroke-width="0.5" />
<line x1="521.00" y1="477.12" x2="641.80" y2="477.12" stroke="#fff" stroke-width="0.5" />
<line x1="521.00" y1="484.24" x2="641.80" y2="484.24" stroke="#fff" stroke-width="0.5" />
<line x1="521.00" y1="491.36" x2="641.80" y2="491.36" stroke="#fff" stroke-width="0.5" />
<line x1="521.00" y1="498.48" x2="641.80" y2="498.48" stroke="#fff" stroke-width="0.5" />
<line x1="521.00" y1="505.60" x2="641.80" y2="505.60" stroke="#fff" stroke-width="0.5" />
<line x1="521.00" y1="512.72" x2="641.80" y2="512.72" stroke="#fff" stroke-width="0.5" />
<line x1="521.00" y1="519.84" x2="641.80" y2="519.84" stroke="#fff" stroke-width="0.5" />
<line x1="521.00" y1="526.96" x2="641.80" y2="526.96" stroke="#fff" stroke-width="0.5" />
<line x1="521.00" y1="534.08" x2="641.80" y2="534.08" stroke="#fff" stroke-width="0.5" />
<line x1="519.60" y1="398.80" x2="521.00" y2="398.80" stroke="#444" stroke-width="0.4" />
<text x="518.80" y="400.80" font-size="5.85" text-anchor="end" fill="#1e1e1e" stroke="#1e1e1e" stroke-width="0.05">response to molecule of bacterial origin</text>
<line x1="519.60" y1="405.92" x2="521.00" y2="405.92" stroke="#444" stroke-width="0.4" />
<text x="518.80" y="407.92" font-size="5.85" text-anchor="end" fill="#1e1e1e" stroke="#1e1e1e" stroke-width="0.05">response to lipopolysaccharide</text>
<line x1="519.60" y1="413.04" x2="521.00" y2="413.04" stroke="#444" stroke-width="0.4" />
<text x="518.80" y="415.04" font-size="5.85" text-anchor="end" fill="#1e1e1e" stroke="#1e1e1e" stroke-width="0.05">regulation of peptidase activity</text>
<line x1="519.60" y1="420.16" x2="521.00" y2="420.16" stroke="#444" stroke-width="0.4" />
<text x="518.80" y="422.16" font-size="5.85" text-anchor="end" fill="#1e1e1e" stroke="#1e1e1e" stroke-width="0.05">humoral immune response</text>
<line x1="519.60" y1="427.28" x2="521.00" y2="427.28" stroke="#444" stroke-width="0.4" />
<text x="518.80" y="429.28" font-size="5.85" text-anchor="end" fill="#1e1e1e" stroke="#1e1e1e" stroke-width="0.05">regulation of inflammatory response</text>
<line x1="519.60" y1="434.40" x2="521.00" y2="434.40" stroke="#444" stroke-width="0.4" />
<text x="518.80" y="436.40" font-size="5.85" text-anchor="end" fill="#1e1e1e" stroke="#1e1e1e" stroke-width="0.05">cytoplasmic translation</text>
<line x1="519.60" y1="441.52" x2="521.00" y2="441.52" stroke="#444" stroke-width="0.4" />
<text x="518.80" y="443.52" font-size="5.85" text-anchor="end" fill="#1e1e1e" stroke="#1e1e1e" stroke-width="0.05">antimicrobial humoral response</text>
<line x1="519.60" y1="448.64" x2="521.00" y2="448.64" stroke="#444" stroke-width="0.4" />
<text x="518.80" y="450.64" font-size="5.85" text-anchor="end" fill="#1e1e1e" stroke="#1e1e1e" stroke-width="0.05">ribosome biogenesis</text>
<line x1="519.60" y1="455.76" x2="521.00" y2="455.76" stroke="#444" stroke-width="0.4" />
<text x="518.80" y="457.76" font-size="5.85" text-anchor="end" fill="#1e1e1e" stroke="#1e1e1e" stroke-width="0.05">ribonucleoprotein complex biogenesis</text>
<line x1="519.60" y1="462.88" x2="521.00" y2="462.88" stroke="#444" stroke-width="0.4" />
<text x="518.80" y="464.88" font-size="5.85" text-anchor="end" fill="#1e1e1e" stroke="#1e1e1e" stroke-width="0.05">regulation of vasculature development</text>
<line x1="519.60" y1="470.00" x2="521.00" y2="470.00" stroke="#444" stroke-width="0.4" />
<text x="518.80" y="472.00" font-size="5.85" text-anchor="end" fill="#1e1e1e" stroke="#1e1e1e" stroke-width="0.05">regulation of endopeptidase activity</text>
<line x1="519.60" y1="477.12" x2="521.00" y2="477.12" stroke="#444" stroke-width="0.4" />
<text x="518.80" y="479.12" font-size="5.85" text-anchor="end" fill="#1e1e1e" stroke="#1e1e1e" stroke-width="0.05">regulation of cysteine-type endopeptidase activity</text>
<line x1="519.60" y1="484.24" x2="521.00" y2="484.24" stroke="#444" stroke-width="0.4" />
<text x="518.80" y="486.24" font-size="5.85" text-anchor="end" fill="#1e1e1e" stroke="#1e1e1e" stroke-width="0.05">regulation of angiogenesis</text>
<line x1="519.60" y1="491.36" x2="521.00" y2="491.36" stroke="#444" stroke-width="0.4" />
<text x="518.80" y="493.36" font-size="5.85" text-anchor="end" fill="#1e1e1e" stroke="#1e1e1e" stroke-width="0.05">positive regulation of response to external stimulus</text>
<line x1="519.60" y1="498.48" x2="521.00" y2="498.48" stroke="#444" stroke-width="0.4" />
<text x="518.80" y="500.48" font-size="5.85" text-anchor="end" fill="#1e1e1e" stroke="#1e1e1e" stroke-width="0.05">positive regulation of proteolysis</text>
<line x1="519.60" y1="505.60" x2="521.00" y2="505.60" stroke="#444" stroke-width="0.4" />
<text x="518.80" y="507.60" font-size="5.85" text-anchor="end" fill="#1e1e1e" stroke="#1e1e1e" stroke-width="0.05">negative regulation of proteolysis</text>
<line x1="519.60" y1="512.72" x2="521.00" y2="512.72" stroke="#444" stroke-width="0.4" />
<text x="518.80" y="514.72" font-size="5.85" text-anchor="end" fill="#1e1e1e" stroke="#1e1e1e" stroke-width="0.05">negative regulation of peptidase activity</text>
<line x1="519.60" y1="519.84" x2="521.00" y2="519.84" stroke="#444" stroke-width="0.4" />
<text x="518.80" y="521.84" font-size="5.85" text-anchor="end" fill="#1e1e1e" stroke="#1e1e1e" stroke-width="0.05">negative regulation of immune system process</text>
<line x1="519.60" y1="526.96" x2="521.00" y2="526.96" stroke="#444" stroke-width="0.4" />
<text x="518.80" y="528.96" font-size="5.85" text-anchor="end" fill="#1e1e1e" stroke="#1e1e1e" stroke-width="0.05">negative regulation of hydrolase activity</text>
<line x1="519.60" y1="534.08" x2="521.00" y2="534.08" stroke="#444" stroke-width="0.4" />
<text x="518.80" y="536.08" font-size="5.85" text-anchor="end" fill="#1e1e1e" stroke="#1e1e1e" stroke-width="0.05">leukocyte migration</text>
<circle cx="636.46" cy="398.80" r="3.15" fill="#C44A58" />
<circle cx="636.46" cy="405.92" r="3.15" fill="#C44A58" />
<circle cx="636.46" cy="413.04" r="3.15" fill="#C44A58" />
<circle cx="636.46" cy="420.16" r="3.15" fill="#C44A58" />
<circle cx="581.48" cy="427.28" r="2.70" fill="#C44A58" />
<circle cx="581.48" cy="434.40" r="2.70" fill="#C44A58" />
<circle cx="581.48" cy="441.52" r="2.70" fill="#C44A58" />
<circle cx="526.50" cy="448.64" r="2.20" fill="#C44A58" />
<circle cx="526.50" cy="455.76" r="2.20" fill="#955A86" />
<circle cx="526.50" cy="462.88" r="2.20" fill="#C44A58" />
<circle cx="526.50" cy="470.00" r="2.20" fill="#C44A58" />
<circle cx="526.50" cy="477.12" r="2.20" fill="#C44A58" />
<circle cx="526.50" cy="484.24" r="2.20" fill="#C44A58" />
<circle cx="526.50" cy="491.36" r="2.20" fill="#5E4E98" />
<circle cx="526.50" cy="498.48" r="2.20" fill="#C44A58" />
<circle cx="526.50" cy="505.60" r="2.20" fill="#C44A58" />
<circle cx="526.50" cy="512.72" r="2.20" fill="#C44A58" />
<circle cx="526.50" cy="519.84" r="2.20" fill="#5E4E98" />
<circle cx="526.50" cy="526.96" r="2.20" fill="#C44A58" />
<circle cx="526.50" cy="534.08" r="2.20" fill="#C44A58" />
<line x1="526.50" y1="538.30" x2="526.50" y2="539.50" stroke="#444" stroke-width="0.4" />
<text x="526.50" y="543.60" font-size="5.2" text-anchor="middle" fill="#333">0.10</text>
<line x1="553.99" y1="538.30" x2="553.99" y2="539.50" stroke="#444" stroke-width="0.4" />
<text x="553.99" y="543.60" font-size="5.2" text-anchor="middle" fill="#333">0.11</text>
<line x1="581.48" y1="538.30" x2="581.48" y2="539.50" stroke="#444" stroke-width="0.4" />
<text x="581.48" y="543.60" font-size="5.2" text-anchor="middle" fill="#333">0.12</text>
<line x1="608.97" y1="538.30" x2="608.97" y2="539.50" stroke="#444" stroke-width="0.4" />
<text x="608.97" y="543.60" font-size="5.2" text-anchor="middle" fill="#333">0.13</text>
<line x1="636.46" y1="538.30" x2="636.46" y2="539.50" stroke="#444" stroke-width="0.4" />
<text x="636.46" y="543.60" font-size="5.2" text-anchor="middle" fill="#333">0.14</text>
<text x="581.30" y="551.60" font-size="7.5" text-anchor="middle" fill="#222">GeneRatio</text>
<text x="384.60" y="465.90" font-size="7.5" text-anchor="middle" fill="#222" transform="rotate(-90 384.60 465.90)">Description</text>
<text x="521.00" y="392.20" font-size="3.1" font-weight="bold" fill="#333">dotplot for Biological process</text>
<line x1="392.20" y1="463.00" x2="413.50" y2="463.00" stroke="#E8302A" stroke-width="0.9" />
<path d="M413.3,461.4 L415.9,463.0 L413.3,464.6 Z" fill="#E8302A" />
<line x1="424.20" y1="484.20" x2="445.10" y2="484.20" stroke="#E8302A" stroke-width="0.9" />
<path d="M444.90000000000003,482.59999999999997 L447.5,484.2 L444.90000000000003,485.8 Z" fill="#E8302A" />
<text x="645.80" y="423.90" font-size="7.2" fill="#222">Count</text>
<circle cx="649.30" cy="431.70" r="2.20" fill="#333" />
<text x="657.00" y="433.60" font-size="5.3" fill="#333">5.0</text>
<circle cx="649.30" cy="438.90" r="2.45" fill="#333" />
<text x="657.00" y="440.80" font-size="5.3" fill="#333">5.5</text>
<circle cx="649.30" cy="446.10" r="2.70" fill="#333" />
<text x="657.00" y="448.00" font-size="5.3" fill="#333">6.0</text>
<circle cx="649.30" cy="453.30" r="2.90" fill="#333" />
<text x="657.00" y="455.20" font-size="5.3" fill="#333">6.5</text>
<circle cx="649.30" cy="460.50" r="3.10" fill="#333" />
<text x="657.00" y="462.40" font-size="5.3" fill="#333">7.0</text>
<text x="645.60" y="475.60" font-size="7.7" fill="#222">pvalue</text>
<defs><linearGradient id="gG" x1="0" y1="0" x2="0" y2="1"><stop offset="0" stop-color="#37398E"/><stop offset="0.5" stop-color="#85386A"/><stop offset="1" stop-color="#CB2F38"/></linearGradient></defs>
<rect x="645.80" y="480.30" width="6.20" height="34.20" fill="url(#gG)" />
<line x1="645.80" y1="481.00" x2="646.80" y2="481.00" stroke="#fff" stroke-width="0.3" />
<line x1="651.00" y1="481.00" x2="652.00" y2="481.00" stroke="#fff" stroke-width="0.3" />
<text x="655.60" y="482.90" font-size="5.3" fill="#333">0.0012</text>
<line x1="645.80" y1="489.45" x2="646.80" y2="489.45" stroke="#fff" stroke-width="0.3" />
<line x1="651.00" y1="489.45" x2="652.00" y2="489.45" stroke="#fff" stroke-width="0.3" />
<text x="655.60" y="491.35" font-size="5.3" fill="#333">0.0009</text>
<line x1="645.80" y1="497.90" x2="646.80" y2="497.90" stroke="#fff" stroke-width="0.3" />
<line x1="651.00" y1="497.90" x2="652.00" y2="497.90" stroke="#fff" stroke-width="0.3" />
<text x="655.60" y="499.80" font-size="5.3" fill="#333">0.0006</text>
<line x1="645.80" y1="506.35" x2="646.80" y2="506.35" stroke="#fff" stroke-width="0.3" />
<line x1="651.00" y1="506.35" x2="652.00" y2="506.35" stroke="#fff" stroke-width="0.3" />
<text x="655.60" y="508.25" font-size="5.3" fill="#333">0.0003</text>
<path d="M75.50,683.70 L75.50,668.57 L81.50,668.57 L81.50,683.70" fill="#fff" stroke="#000" stroke-width="1.15" />
<path d="M83.70,683.70 L83.70,633.77 L89.70,633.77 L89.70,683.70" fill="#fff" stroke="#EE2F3A" stroke-width="1.15" />
<line x1="78.50" y1="668.57" x2="78.50" y2="666.30" stroke="#000" stroke-width="0.8" /><line x1="76.90" y1="666.30" x2="80.10" y2="666.30" stroke="#000" stroke-width="0.8" />
<line x1="86.70" y1="633.77" x2="86.70" y2="628.02" stroke="#EE2F3A" stroke-width="0.8" /><line x1="85.10" y1="628.02" x2="88.30" y2="628.02" stroke="#EE2F3A" stroke-width="0.8" />
<circle cx="78.79" cy="668.89" r="1.75" fill="none" stroke="#000" stroke-width="0.85" />
<circle cx="86.54" cy="626.45" r="1.75" fill="none" stroke="#EE2F3A" stroke-width="0.85" />
<circle cx="78.92" cy="668.52" r="1.75" fill="none" stroke="#000" stroke-width="0.85" />
<circle cx="86.76" cy="639.21" r="1.75" fill="none" stroke="#EE2F3A" stroke-width="0.85" />
<circle cx="79.91" cy="667.71" r="1.75" fill="none" stroke="#000" stroke-width="0.85" />
<circle cx="85.76" cy="640.77" r="1.75" fill="none" stroke="#EE2F3A" stroke-width="0.85" />
<circle cx="79.99" cy="671.29" r="1.75" fill="none" stroke="#000" stroke-width="0.85" />
<circle cx="84.50" cy="630.43" r="1.75" fill="none" stroke="#EE2F3A" stroke-width="0.85" />
<circle cx="80.73" cy="665.36" r="1.75" fill="none" stroke="#000" stroke-width="0.85" />
<circle cx="87.25" cy="631.12" r="1.75" fill="none" stroke="#EE2F3A" stroke-width="0.85" />
<circle cx="76.17" cy="670.85" r="1.75" fill="none" stroke="#000" stroke-width="0.85" />
<circle cx="84.59" cy="633.28" r="1.75" fill="none" stroke="#EE2F3A" stroke-width="0.85" />
<line x1="82.60" y1="683.70" x2="82.60" y2="686.30" stroke="#000" stroke-width="1.0" />
<text x="86.70" y="617.90" font-size="6.7" font-weight="bold" text-anchor="middle" fill="#222">**</text>
<text x="84.50" y="695.30" font-size="9.7" font-weight="bold" text-anchor="end" transform="rotate(-45 84.50 695.30)">VEGFA</text>
<path d="M97.05,683.70 L97.05,668.87 L103.05,668.87 L103.05,683.70" fill="#fff" stroke="#000" stroke-width="1.15" />
<path d="M105.25,683.70 L105.25,670.84 L111.25,670.84 L111.25,683.70" fill="#fff" stroke="#EE2F3A" stroke-width="1.15" />
<line x1="100.05" y1="668.87" x2="100.05" y2="666.60" stroke="#000" stroke-width="0.8" /><line x1="98.45" y1="666.60" x2="101.65" y2="666.60" stroke="#000" stroke-width="0.8" />
<line x1="108.25" y1="670.84" x2="108.25" y2="668.57" stroke="#EE2F3A" stroke-width="0.8" /><line x1="106.65" y1="668.57" x2="109.85" y2="668.57" stroke="#EE2F3A" stroke-width="0.8" />
<circle cx="98.81" cy="670.93" r="1.75" fill="none" stroke="#000" stroke-width="0.85" />
<circle cx="108.08" cy="674.04" r="1.75" fill="none" stroke="#EE2F3A" stroke-width="0.85" />
<circle cx="101.69" cy="669.27" r="1.75" fill="none" stroke="#000" stroke-width="0.85" />
<circle cx="108.92" cy="670.71" r="1.75" fill="none" stroke="#EE2F3A" stroke-width="0.85" />
<circle cx="100.83" cy="668.87" r="1.75" fill="none" stroke="#000" stroke-width="0.85" />
<circle cx="107.19" cy="671.13" r="1.75" fill="none" stroke="#EE2F3A" stroke-width="0.85" />
<circle cx="102.43" cy="665.56" r="1.75" fill="none" stroke="#000" stroke-width="0.85" />
<circle cx="109.25" cy="668.52" r="1.75" fill="none" stroke="#EE2F3A" stroke-width="0.85" />
<circle cx="98.75" cy="670.10" r="1.75" fill="none" stroke="#000" stroke-width="0.85" />
<circle cx="106.19" cy="672.28" r="1.75" fill="none" stroke="#EE2F3A" stroke-width="0.85" />
<circle cx="99.57" cy="667.10" r="1.75" fill="none" stroke="#000" stroke-width="0.85" />
<circle cx="107.71" cy="668.48" r="1.75" fill="none" stroke="#EE2F3A" stroke-width="0.85" />
<line x1="104.15" y1="683.70" x2="104.15" y2="686.30" stroke="#000" stroke-width="1.0" />
<text x="104.15" y="656.10" font-size="6.3" font-weight="bold" text-anchor="middle" fill="#222">N.S.</text>
<text x="106.05" y="695.30" font-size="9.7" font-weight="bold" text-anchor="end" transform="rotate(-45 106.05 695.30)">VEGFB</text>
<path d="M118.60,683.70 L118.60,668.57 L124.60,668.57 L124.60,683.70" fill="#fff" stroke="#000" stroke-width="1.15" />
<path d="M126.80,683.70 L126.80,620.15 L132.80,620.15 L132.80,683.70" fill="#fff" stroke="#EE2F3A" stroke-width="1.15" />
<line x1="121.60" y1="668.57" x2="121.60" y2="665.85" stroke="#000" stroke-width="0.8" /><line x1="120.00" y1="665.85" x2="123.20" y2="665.85" stroke="#000" stroke-width="0.8" />
<line x1="129.80" y1="620.15" x2="129.80" y2="613.35" stroke="#EE2F3A" stroke-width="0.8" /><line x1="128.20" y1="613.35" x2="131.40" y2="613.35" stroke="#EE2F3A" stroke-width="0.8" />
<circle cx="123.27" cy="665.52" r="1.75" fill="none" stroke="#000" stroke-width="0.85" />
<circle cx="128.41" cy="630.36" r="1.75" fill="none" stroke="#EE2F3A" stroke-width="0.85" />
<circle cx="121.46" cy="665.84" r="1.75" fill="none" stroke="#000" stroke-width="0.85" />
<circle cx="129.31" cy="610.34" r="1.75" fill="none" stroke="#EE2F3A" stroke-width="0.85" />
<circle cx="122.22" cy="671.41" r="1.75" fill="none" stroke="#000" stroke-width="0.85" />
<circle cx="128.69" cy="614.47" r="1.75" fill="none" stroke="#EE2F3A" stroke-width="0.85" />
<circle cx="120.80" cy="671.32" r="1.75" fill="none" stroke="#000" stroke-width="0.85" />
<circle cx="131.04" cy="610.68" r="1.75" fill="none" stroke="#EE2F3A" stroke-width="0.85" />
<circle cx="120.38" cy="671.11" r="1.75" fill="none" stroke="#000" stroke-width="0.85" />
<circle cx="127.69" cy="628.30" r="1.75" fill="none" stroke="#EE2F3A" stroke-width="0.85" />
<circle cx="120.05" cy="666.59" r="1.75" fill="none" stroke="#000" stroke-width="0.85" />
<circle cx="129.55" cy="618.94" r="1.75" fill="none" stroke="#EE2F3A" stroke-width="0.85" />
<line x1="125.70" y1="683.70" x2="125.70" y2="686.30" stroke="#000" stroke-width="1.0" />
<text x="129.80" y="598.40" font-size="6.7" font-weight="bold" text-anchor="middle" fill="#222">**</text>
<text x="127.60" y="695.30" font-size="9.7" font-weight="bold" text-anchor="end" transform="rotate(-45 127.60 695.30)">VEGFC</text>
<path d="M140.15,683.70 L140.15,669.33 L146.15,669.33 L146.15,683.70" fill="#fff" stroke="#000" stroke-width="1.15" />
<path d="M148.35,683.70 L148.35,670.08 L154.35,670.08 L154.35,683.70" fill="#fff" stroke="#EE2F3A" stroke-width="1.15" />
<line x1="143.15" y1="669.33" x2="143.15" y2="666.60" stroke="#000" stroke-width="0.8" /><line x1="141.55" y1="666.60" x2="144.75" y2="666.60" stroke="#000" stroke-width="0.8" />
<line x1="151.35" y1="670.08" x2="151.35" y2="667.36" stroke="#EE2F3A" stroke-width="0.8" /><line x1="149.75" y1="667.36" x2="152.95" y2="667.36" stroke="#EE2F3A" stroke-width="0.8" />
<circle cx="144.26" cy="671.39" r="1.75" fill="none" stroke="#000" stroke-width="0.85" />
<circle cx="152.04" cy="673.10" r="1.75" fill="none" stroke="#EE2F3A" stroke-width="0.85" />
<circle cx="142.77" cy="671.88" r="1.75" fill="none" stroke="#000" stroke-width="0.85" />
<circle cx="150.25" cy="672.43" r="1.75" fill="none" stroke="#EE2F3A" stroke-width="0.85" />
<circle cx="144.61" cy="666.19" r="1.75" fill="none" stroke="#000" stroke-width="0.85" />
<circle cx="153.20" cy="671.68" r="1.75" fill="none" stroke="#EE2F3A" stroke-width="0.85" />
<circle cx="142.64" cy="671.25" r="1.75" fill="none" stroke="#000" stroke-width="0.85" />
<circle cx="152.03" cy="667.19" r="1.75" fill="none" stroke="#EE2F3A" stroke-width="0.85" />
<circle cx="145.50" cy="671.99" r="1.75" fill="none" stroke="#000" stroke-width="0.85" />
<circle cx="150.19" cy="672.43" r="1.75" fill="none" stroke="#EE2F3A" stroke-width="0.85" />
<circle cx="142.33" cy="667.51" r="1.75" fill="none" stroke="#000" stroke-width="0.85" />
<circle cx="149.30" cy="671.75" r="1.75" fill="none" stroke="#EE2F3A" stroke-width="0.85" />
<line x1="147.25" y1="683.70" x2="147.25" y2="686.30" stroke="#000" stroke-width="1.0" />
<text x="147.25" y="653.80" font-size="6.3" font-weight="bold" text-anchor="middle" fill="#222">N.S.</text>
<text x="149.15" y="695.30" font-size="9.7" font-weight="bold" text-anchor="end" transform="rotate(-45 149.15 695.30)">VEGFD</text>
<path d="M161.70,683.70 L161.70,669.33 L167.70,669.33 L167.70,683.70" fill="#fff" stroke="#000" stroke-width="1.15" />
<path d="M169.90,683.70 L169.90,648.14 L175.90,648.14 L175.90,683.70" fill="#fff" stroke="#EE2F3A" stroke-width="1.15" />
<line x1="164.70" y1="669.33" x2="164.70" y2="667.51" stroke="#000" stroke-width="0.8" /><line x1="163.10" y1="667.51" x2="166.30" y2="667.51" stroke="#000" stroke-width="0.8" />
<line x1="172.90" y1="648.14" x2="172.90" y2="641.79" stroke="#EE2F3A" stroke-width="0.8" /><line x1="171.30" y1="641.79" x2="174.50" y2="641.79" stroke="#EE2F3A" stroke-width="0.8" />
<circle cx="165.10" cy="672.06" r="1.75" fill="none" stroke="#000" stroke-width="0.85" />
<circle cx="173.39" cy="653.04" r="1.75" fill="none" stroke="#EE2F3A" stroke-width="0.85" />
<circle cx="164.48" cy="670.18" r="1.75" fill="none" stroke="#000" stroke-width="0.85" />
<circle cx="172.82" cy="639.39" r="1.75" fill="none" stroke="#EE2F3A" stroke-width="0.85" />
<circle cx="166.46" cy="668.83" r="1.75" fill="none" stroke="#000" stroke-width="0.85" />
<circle cx="171.24" cy="654.19" r="1.75" fill="none" stroke="#EE2F3A" stroke-width="0.85" />
<circle cx="166.23" cy="666.61" r="1.75" fill="none" stroke="#000" stroke-width="0.85" />
<circle cx="171.41" cy="652.92" r="1.75" fill="none" stroke="#EE2F3A" stroke-width="0.85" />
<circle cx="166.81" cy="667.73" r="1.75" fill="none" stroke="#000" stroke-width="0.85" />
<circle cx="175.06" cy="653.93" r="1.75" fill="none" stroke="#EE2F3A" stroke-width="0.85" />
<circle cx="165.20" cy="666.78" r="1.75" fill="none" stroke="#000" stroke-width="0.85" />
<circle cx="171.00" cy="649.64" r="1.75" fill="none" stroke="#EE2F3A" stroke-width="0.85" />
<line x1="168.80" y1="683.70" x2="168.80" y2="686.30" stroke="#000" stroke-width="1.0" />
<text x="172.90" y="628.90" font-size="6.7" font-weight="bold" text-anchor="middle" fill="#222">**</text>
<text x="170.70" y="695.30" font-size="9.7" font-weight="bold" text-anchor="end" transform="rotate(-45 170.70 695.30)">PDGFA</text>
<path d="M183.25,683.70 L183.25,668.57 L189.25,668.57 L189.25,683.70" fill="#fff" stroke="#000" stroke-width="1.15" />
<path d="M191.45,683.70 L191.45,661.00 L197.45,661.00 L197.45,683.70" fill="#fff" stroke="#EE2F3A" stroke-width="1.15" />
<line x1="186.25" y1="668.57" x2="186.25" y2="666.75" stroke="#000" stroke-width="0.8" /><line x1="184.65" y1="666.75" x2="187.85" y2="666.75" stroke="#000" stroke-width="0.8" />
<line x1="194.45" y1="661.00" x2="194.45" y2="657.22" stroke="#EE2F3A" stroke-width="0.8" /><line x1="192.85" y1="657.22" x2="196.05" y2="657.22" stroke="#EE2F3A" stroke-width="0.8" />
<circle cx="188.47" cy="671.64" r="1.75" fill="none" stroke="#000" stroke-width="0.85" />
<circle cx="195.43" cy="663.97" r="1.75" fill="none" stroke="#EE2F3A" stroke-width="0.85" />
<circle cx="187.80" cy="670.19" r="1.75" fill="none" stroke="#000" stroke-width="0.85" />
<circle cx="193.46" cy="659.91" r="1.75" fill="none" stroke="#EE2F3A" stroke-width="0.85" />
<circle cx="187.31" cy="670.73" r="1.75" fill="none" stroke="#000" stroke-width="0.85" />
<circle cx="193.15" cy="665.90" r="1.75" fill="none" stroke="#EE2F3A" stroke-width="0.85" />
<circle cx="187.94" cy="668.17" r="1.75" fill="none" stroke="#000" stroke-width="0.85" />
<circle cx="193.40" cy="659.71" r="1.75" fill="none" stroke="#EE2F3A" stroke-width="0.85" />
<circle cx="184.83" cy="665.79" r="1.75" fill="none" stroke="#000" stroke-width="0.85" />
<circle cx="193.34" cy="666.49" r="1.75" fill="none" stroke="#EE2F3A" stroke-width="0.85" />
<circle cx="184.14" cy="668.93" r="1.75" fill="none" stroke="#000" stroke-width="0.85" />
<circle cx="193.82" cy="664.68" r="1.75" fill="none" stroke="#EE2F3A" stroke-width="0.85" />
<line x1="190.35" y1="683.70" x2="190.35" y2="686.30" stroke="#000" stroke-width="1.0" />
<text x="194.45" y="649.40" font-size="6.7" font-weight="bold" text-anchor="middle" fill="#222">**</text>
<text x="192.25" y="695.30" font-size="9.7" font-weight="bold" text-anchor="end" transform="rotate(-45 192.25 695.30)">PDGFB</text>
<path d="M204.80,683.70 L204.80,668.27 L210.80,668.27 L210.80,683.70" fill="#fff" stroke="#000" stroke-width="1.15" />
<path d="M213.00,683.70 L213.00,667.81 L219.00,667.81 L219.00,683.70" fill="#fff" stroke="#EE2F3A" stroke-width="1.15" />
<line x1="207.80" y1="668.27" x2="207.80" y2="665.54" stroke="#000" stroke-width="0.8" /><line x1="206.20" y1="665.54" x2="209.40" y2="665.54" stroke="#000" stroke-width="0.8" />
<line x1="216.00" y1="667.81" x2="216.00" y2="664.79" stroke="#EE2F3A" stroke-width="0.8" /><line x1="214.40" y1="664.79" x2="217.60" y2="664.79" stroke="#EE2F3A" stroke-width="0.8" />
<circle cx="206.03" cy="667.79" r="1.75" fill="none" stroke="#000" stroke-width="0.85" />
<circle cx="217.88" cy="669.06" r="1.75" fill="none" stroke="#EE2F3A" stroke-width="0.85" />
<circle cx="208.55" cy="665.07" r="1.75" fill="none" stroke="#000" stroke-width="0.85" />
<circle cx="216.41" cy="666.08" r="1.75" fill="none" stroke="#EE2F3A" stroke-width="0.85" />
<circle cx="205.57" cy="670.66" r="1.75" fill="none" stroke="#000" stroke-width="0.85" />
<circle cx="217.97" cy="672.19" r="1.75" fill="none" stroke="#EE2F3A" stroke-width="0.85" />
<circle cx="210.02" cy="666.93" r="1.75" fill="none" stroke="#000" stroke-width="0.85" />
<circle cx="216.65" cy="672.16" r="1.75" fill="none" stroke="#EE2F3A" stroke-width="0.85" />
<circle cx="208.91" cy="668.39" r="1.75" fill="none" stroke="#000" stroke-width="0.85" />
<circle cx="218.40" cy="669.46" r="1.75" fill="none" stroke="#EE2F3A" stroke-width="0.85" />
<circle cx="208.02" cy="671.09" r="1.75" fill="none" stroke="#000" stroke-width="0.85" />
<circle cx="217.92" cy="665.66" r="1.75" fill="none" stroke="#EE2F3A" stroke-width="0.85" />
<line x1="211.90" y1="683.70" x2="211.90" y2="686.30" stroke="#000" stroke-width="1.0" />
<text x="211.90" y="652.80" font-size="6.3" font-weight="bold" text-anchor="middle" fill="#222">N.S.</text>
<text x="213.80" y="695.30" font-size="9.7" font-weight="bold" text-anchor="end" transform="rotate(-45 213.80 695.30)">PDGFC</text>
<path d="M226.35,683.70 L226.35,668.57 L232.35,668.57 L232.35,683.70" fill="#fff" stroke="#000" stroke-width="1.15" />
<path d="M234.55,683.70 L234.55,639.07 L240.55,639.07 L240.55,683.70" fill="#fff" stroke="#EE2F3A" stroke-width="1.15" />
<line x1="229.35" y1="668.57" x2="229.35" y2="666.30" stroke="#000" stroke-width="0.8" /><line x1="227.75" y1="666.30" x2="230.95" y2="666.30" stroke="#000" stroke-width="0.8" />
<line x1="237.55" y1="639.07" x2="237.55" y2="630.75" stroke="#EE2F3A" stroke-width="0.8" /><line x1="235.95" y1="630.75" x2="239.15" y2="630.75" stroke="#EE2F3A" stroke-width="0.8" />
<circle cx="230.33" cy="666.99" r="1.75" fill="none" stroke="#000" stroke-width="0.85" />
<circle cx="239.54" cy="631.75" r="1.75" fill="none" stroke="#EE2F3A" stroke-width="0.85" />
<circle cx="230.24" cy="669.56" r="1.75" fill="none" stroke="#000" stroke-width="0.85" />
<circle cx="239.33" cy="629.06" r="1.75" fill="none" stroke="#EE2F3A" stroke-width="0.85" />
<circle cx="230.74" cy="669.12" r="1.75" fill="none" stroke="#000" stroke-width="0.85" />
<circle cx="237.90" cy="629.99" r="1.75" fill="none" stroke="#EE2F3A" stroke-width="0.85" />
<circle cx="228.79" cy="667.74" r="1.75" fill="none" stroke="#000" stroke-width="0.85" />
<circle cx="238.07" cy="637.00" r="1.75" fill="none" stroke="#EE2F3A" stroke-width="0.85" />
<circle cx="230.02" cy="671.36" r="1.75" fill="none" stroke="#000" stroke-width="0.85" />
<circle cx="239.37" cy="626.75" r="1.75" fill="none" stroke="#EE2F3A" stroke-width="0.85" />
<circle cx="228.81" cy="667.05" r="1.75" fill="none" stroke="#000" stroke-width="0.85" />
<circle cx="237.94" cy="633.20" r="1.75" fill="none" stroke="#EE2F3A" stroke-width="0.85" />
<line x1="233.45" y1="683.70" x2="233.45" y2="686.30" stroke="#000" stroke-width="1.0" />
<text x="237.55" y="618.20" font-size="6.7" font-weight="bold" text-anchor="middle" fill="#222">**</text>
<text x="235.35" y="695.30" font-size="9.7" font-weight="bold" text-anchor="end" transform="rotate(-45 235.35 695.30)">PDGFD</text>
<line x1="72.60" y1="592.40" x2="72.60" y2="684.20" stroke="#000" stroke-width="1.1" />
<line x1="72.10" y1="683.70" x2="243.40" y2="683.70" stroke="#000" stroke-width="1.1" />
<line x1="68.30" y1="592.92" x2="72.60" y2="592.92" stroke="#000" stroke-width="1.1" />
<text x="67.60" y="596.32" font-size="9.6" font-weight="bold" text-anchor="end">6</text>
<line x1="68.30" y1="623.18" x2="72.60" y2="623.18" stroke="#000" stroke-width="1.1" />
<text x="67.60" y="626.58" font-size="9.6" font-weight="bold" text-anchor="end">4</text>
<line x1="68.30" y1="653.44" x2="72.60" y2="653.44" stroke="#000" stroke-width="1.1" />
<text x="67.60" y="656.84" font-size="9.6" font-weight="bold" text-anchor="end">2</text>
<line x1="68.30" y1="683.70" x2="72.60" y2="683.70" stroke="#000" stroke-width="1.1" />
<text x="67.60" y="687.10" font-size="9.6" font-weight="bold" text-anchor="end">0</text>
<text x="44.60" y="637.90" font-size="9.6" font-weight="bold" text-anchor="middle" transform="rotate(-90 44.60 637.90)">Relative amount of mRNA</text>
<circle cx="222.40" cy="590.60" r="1.75" fill="none" stroke="#000" stroke-width="1.0" />
<circle cx="222.40" cy="601.70" r="1.75" fill="none" stroke="#EE2F3A" stroke-width="1.0" />
<text x="232.60" y="593.60" font-size="8.5" font-weight="bold">RKIP<tspan font-size="6.3" dy="-3.4">+/+</tspan></text>
<text x="232.60" y="604.90" font-size="8.5" font-weight="bold">RKIP<tspan font-size="6.3" dy="-3.4">-/-</tspan></text>
<rect x="303.70" y="605.70" width="104.30" height="103.50" fill="#000" />
<rect x="412.20" y="605.70" width="104.00" height="103.50" fill="#000" />
<defs><filter id="glw" x="-20%" y="-20%" width="140%" height="140%"><feGaussianBlur stdDeviation="0.35"/></filter><clipPath id="ci1"><rect x="303.7" y="605.7" width="104.3" height="103.5"/></clipPath><clipPath id="ci2"><rect x="412.2" y="605.7" width="104.0" height="103.5"/></clipPath></defs>
<g clip-path="url(#ci1)" filter="url(#glw)"><path d="M306.3,618.2 L305.5,619.3 L305.3,620.5 L305.8,621.7 L305.4,623.0 L304.7,624.0" stroke="#E8261C" stroke-width="0.89" fill="none" stroke-linecap="round"/><path d="M305.5,621.8 L305.2,623.1 L304.4,624.1 L304.4,625.4 L305.0,626.6 L305.2,627.9" stroke="#E8261C" stroke-width="0.89" fill="none" stroke-linecap="round"/><path d="M306.3,614.4 L306.1,615.7 L306.4,616.9 L306.3,618.2 L305.5,619.2 L305.5,620.5 L305.5,621.8" stroke="#E8261C" stroke-width="1.05" fill="none" stroke-linecap="round"/><path d="M306.3,614.4 L305.3,615.2 L304.9,616.4 L304.2,617.5" stroke="#E8261C" stroke-width="0.90" fill="none" stroke-linecap="round"/><path d="M306.4,613.1 L307.6,612.5 L308.4,611.5 L309.2,610.5 L309.7,609.3" stroke="#E8261C" stroke-width="0.85" fill="none" stroke-linecap="round"/><path d="M308.2,607.2 L306.9,606.9 L305.8,606.3 L304.6,605.6 L303.6,604.8 L302.4,604.5" stroke="#E8261C" stroke-width="0.85" fill="none" stroke-linecap="round"/><path d="M306.3,614.4 L306.4,613.1 L307.3,612.1 L307.9,611.0 L308.1,609.7 L307.7,608.5 L308.2,607.2" stroke="#E8261C" stroke-width="1.00" fill="none" stroke-linecap="round"/><circle cx="306.29" cy="614.38" r="1.04" fill="#F2301E" /><path d="M328.3,610.4 L329.6,610.6 L330.9,610.6 L331.9,609.9" stroke="#E8261C" stroke-width="0.68" fill="none" stroke-linecap="round"/><path d="M328.3,610.4 L327.1,609.7 L325.9,609.9 L324.6,610.1" stroke="#E8261C" stroke-width="1.01" fill="none" stroke-linecap="round"/><path d="M330.7,609.6 L331.9,610.1 L333.1,610.5 L334.4,610.2" stroke="#E8261C" stroke-width="0.72" fill="none" stroke-linecap="round"/><path d="M328.3,610.4 L329.4,609.8 L330.7,609.6 L331.7,608.7" stroke="#E8261C" stroke-width="0.85" fill="none" stroke-linecap="round"/><path d="M342.0,615.0 L342.8,616.0 L342.9,617.3 L343.2,618.6" stroke="#E8261C" stroke-width="0.89" fill="none" stroke-linecap="round"/><path d="M342.0,615.0 L340.7,615.4 L339.8,616.3 L339.4,617.5 L339.2,618.8 L338.7,620.0 L338.4,621.3" stroke="#E8261C" stroke-width="0.82" fill="none" stroke-linecap="round"/><path d="M348.4,614.3 L349.7,614.5 L350.9,614.1" stroke="#E8261C" stroke-width="0.64" fill="none" stroke-linecap="round"/><path d="M358.0,612.6 L357.4,613.8 L357.3,615.1 L356.8,616.3 L356.3,617.4 L356.5,618.7 L357.0,619.9" stroke="#E8261C" stroke-width="0.88" fill="none" stroke-linecap="round"/><path d="M358.0,612.6 L357.3,613.7 L356.5,614.7 L356.0,615.9 L355.2,617.0 L354.1,617.5" stroke="#E8261C" stroke-width="0.98" fill="none" stroke-linecap="round"/><path d="M376.3,612.7 L375.0,613.0 L373.7,613.2 L372.8,614.1 L371.5,614.3 L370.3,614.8" stroke="#E8261C" stroke-width="1.04" fill="none" stroke-linecap="round"/><circle cx="376.26" cy="612.70" r="0.85" fill="#F2301E" /><path d="M379.7,615.3 L378.7,614.5 L377.6,613.8 L376.5,613.2" stroke="#E8261C" stroke-width="0.77" fill="none" stroke-linecap="round"/><path d="M383.4,615.8 L382.2,615.4 L381.0,615.0 L379.7,615.3 L378.4,615.1 L377.1,615.2 L376.0,614.6" stroke="#E8261C" stroke-width="0.91" fill="none" stroke-linecap="round"/><path d="M383.4,615.8 L384.6,616.3 L385.9,616.7 L387.0,617.3" stroke="#E8261C" stroke-width="0.77" fill="none" stroke-linecap="round"/><path d="M407.6,610.1 L407.2,611.3 L407.5,612.6 L408.4,613.5 L409.2,614.5 L409.9,615.7" stroke="#E8261C" stroke-width="0.75" fill="none" stroke-linecap="round"/><path d="M405.2,609.4 L406.5,609.3 L407.6,610.1 L408.8,610.6 L409.3,611.8" stroke="#E8261C" stroke-width="0.88" fill="none" stroke-linecap="round"/><path d="M407.3,610.9 L408.5,610.7 L409.6,610.0 L410.8,609.5" stroke="#E8261C" stroke-width="0.77" fill="none" stroke-linecap="round"/><path d="M405.2,609.4 L406.1,610.4 L407.3,610.9 L408.6,610.9 L409.8,610.6" stroke="#E8261C" stroke-width="0.91" fill="none" stroke-linecap="round"/><path d="M309.4,623.2 L308.7,622.1 L308.3,620.8 L307.2,620.1 L306.2,619.3 L304.9,619.4" stroke="#E8261C" stroke-width="0.77" fill="none" stroke-linecap="round"/><path d="M308.4,620.8 L307.1,620.7 L306.0,620.0 L304.9,619.4" stroke="#E8261C" stroke-width="0.77" fill="none" stroke-linecap="round"/><path d="M309.8,624.4 L309.4,623.2 L309.1,621.9 L308.4,620.8 L307.3,620.2 L306.5,619.1" stroke="#E8261C" stroke-width="0.90" fill="none" stroke-linecap="round"/><path d="M309.8,624.4 L311.0,624.9 L311.9,625.8 L312.2,627.1" stroke="#E8261C" stroke-width="0.78" fill="none" stroke-linecap="round"/><path d="M309.8,624.4 L310.8,625.2 L311.5,626.3 L312.7,626.8 L313.8,627.5 L314.9,628.2" stroke="#E8261C" stroke-width="0.64" fill="none" stroke-linecap="round"/><circle cx="309.83" cy="624.37" r="0.99" fill="#F2301E" /><path d="M322.7,622.3 L322.3,621.1 L321.9,619.8 L321.2,618.7" stroke="#E8261C" stroke-width="0.77" fill="none" stroke-linecap="round"/><path d="M321.5,622.8 L322.7,622.3 L324.0,622.3 L325.1,621.5 L326.0,620.6 L326.4,619.3 L327.4,618.6" stroke="#E8261C" stroke-width="0.90" fill="none" stroke-linecap="round"/><path d="M321.5,622.8 L320.6,623.7 L319.5,624.4 L319.1,625.6" stroke="#E8261C" stroke-width="0.83" fill="none" stroke-linecap="round"/><path d="M319.4,627.4 L318.4,626.6 L317.7,625.4 L316.5,625.0 L315.2,624.8 L314.0,624.3 L312.8,623.7" stroke="#E8261C" stroke-width="0.68" fill="none" stroke-linecap="round"/><path d="M321.5,622.8 L320.6,623.7 L320.5,625.0 L320.0,626.2 L319.4,627.4 L318.4,628.2 L317.9,629.4" stroke="#E8261C" stroke-width="0.80" fill="none" stroke-linecap="round"/><path d="M334.9,620.4 L335.5,619.3 L336.4,618.3 L337.5,617.8 L338.4,616.8 L339.3,615.8" stroke="#E8261C" stroke-width="0.79" fill="none" stroke-linecap="round"/><path d="M340.8,621.7 L339.9,620.7 L338.7,620.3 L337.4,620.5 L336.2,620.1 L334.9,620.4 L333.7,621.0" stroke="#E8261C" stroke-width="0.93" fill="none" stroke-linecap="round"/><path d="M340.8,621.7 L340.2,622.9 L339.7,624.0 L339.6,625.3" stroke="#E8261C" stroke-width="0.90" fill="none" stroke-linecap="round"/><path d="M340.8,621.7 L340.6,620.4 L339.9,619.3 L338.9,618.4" stroke="#E8261C" stroke-width="0.81" fill="none" stroke-linecap="round"/><circle cx="340.77" cy="621.69" r="0.90" fill="#F2301E" /><path d="M346.0,621.1 L344.9,621.8 L343.6,621.6" stroke="#E8261C" stroke-width="0.90" fill="none" stroke-linecap="round"/><circle cx="346.03" cy="621.13" r="1.31" fill="#F2301E" /><path d="M369.9,625.3 L370.1,626.6 L369.8,627.8 L369.1,628.9" stroke="#E8261C" stroke-width="0.56" fill="none" stroke-linecap="round"/><path d="M366.0,624.9 L367.3,624.8 L368.6,624.9 L369.9,625.3 L370.6,626.3 L370.8,627.6 L371.7,628.6" stroke="#E8261C" stroke-width="0.66" fill="none" stroke-linecap="round"/><path d="M371.3,629.0 L372.3,629.8 L372.9,630.9 L374.1,631.4 L374.8,632.5 L376.1,632.9" stroke="#E8261C" stroke-width="0.89" fill="none" stroke-linecap="round"/><path d="M371.3,629.0 L371.8,630.2 L372.1,631.4 L371.6,632.6" stroke="#E8261C" stroke-width="0.97" fill="none" stroke-linecap="round"/><path d="M388.3,625.5 L387.6,626.6 L386.5,627.4 L385.5,628.2 L384.9,629.3 L385.1,630.6" stroke="#E8261C" stroke-width="0.89" fill="none" stroke-linecap="round"/><path d="M387.0,625.8 L385.8,625.2 L384.9,624.4" stroke="#E8261C" stroke-width="0.73" fill="none" stroke-linecap="round"/><path d="M388.3,625.5 L387.0,625.8 L385.8,626.3 L384.7,627.0" stroke="#E8261C" stroke-width="0.86" fill="none" stroke-linecap="round"/><path d="M388.3,625.5 L389.6,625.7 L390.8,626.1 L392.1,625.9" stroke="#E8261C" stroke-width="0.67" fill="none" stroke-linecap="round"/><path d="M398.1,619.5 L398.4,620.7 L398.0,622.0 L397.1,622.9 L395.9,623.2 L394.6,623.0" stroke="#E8261C" stroke-width="0.71" fill="none" stroke-linecap="round"/><circle cx="398.06" cy="619.49" r="1.20" fill="#F2301E" /><path d="M304.9,636.9 L303.6,636.6 L302.4,636.3" stroke="#E8261C" stroke-width="0.89" fill="none" stroke-linecap="round"/><path d="M304.9,636.9 L305.5,635.8 L306.6,635.1 L307.2,634.0" stroke="#E8261C" stroke-width="0.77" fill="none" stroke-linecap="round"/><path d="M304.9,636.9 L303.6,636.6 L302.3,636.5 L301.1,636.1 L299.9,636.5 L298.6,636.3 L297.4,636.8" stroke="#E8261C" stroke-width="0.66" fill="none" stroke-linecap="round"/><circle cx="304.90" cy="636.93" r="1.42" fill="#F2301E" /><path d="M324.2,634.7 L325.4,635.3 L326.3,636.2 L326.6,637.5 L326.1,638.7 L326.0,640.0 L326.2,641.3" stroke="#E8261C" stroke-width="0.58" fill="none" stroke-linecap="round"/><path d="M325.9,632.8 L324.9,633.6 L324.2,634.7 L323.2,635.4 L321.9,635.8" stroke="#E8261C" stroke-width="0.68" fill="none" stroke-linecap="round"/><path d="M326.9,637.6 L327.9,638.3 L329.1,638.9 L329.7,640.0 L330.7,640.8 L331.9,641.4 L332.9,642.2" stroke="#E8261C" stroke-width="0.56" fill="none" stroke-linecap="round"/><path d="M325.9,632.8 L326.7,633.8 L327.2,635.0 L327.2,636.3 L326.9,637.6" stroke="#E8261C" stroke-width="0.66" fill="none" stroke-linecap="round"/><path d="M325.9,632.8 L325.5,634.0 L324.7,635.0 L323.4,635.4" stroke="#E8261C" stroke-width="0.96" fill="none" stroke-linecap="round"/><path d="M336.3,640.4 L336.8,641.6 L336.8,642.9 L337.6,643.9" stroke="#E8261C" stroke-width="1.01" fill="none" stroke-linecap="round"/><path d="M336.3,639.1 L337.0,638.0 L337.6,636.9 L338.6,636.0 L339.4,635.0" stroke="#E8261C" stroke-width="0.55" fill="none" stroke-linecap="round"/><path d="M336.3,640.4 L336.3,639.1 L336.1,637.8 L335.2,636.8" stroke="#E8261C" stroke-width="0.65" fill="none" stroke-linecap="round"/><path d="M336.3,640.4 L335.5,639.4 L334.5,638.5 L334.0,637.4 L333.2,636.3 L332.2,635.5 L331.7,634.3" stroke="#E8261C" stroke-width="1.04" fill="none" stroke-linecap="round"/><path d="M343.0,635.0 L344.3,634.7 L345.5,635.0 L346.7,635.6 L348.0,635.6" stroke="#E8261C" stroke-width="0.70" fill="none" stroke-linecap="round"/><path d="M343.0,633.7 L344.3,633.5 L345.5,633.1 L346.8,633.2" stroke="#E8261C" stroke-width="0.70" fill="none" stroke-linecap="round"/><path d="M343.5,636.2 L343.0,635.0 L343.0,633.7 L342.6,632.5 L341.5,631.7 L340.2,631.4" stroke="#E8261C" stroke-width="0.83" fill="none" stroke-linecap="round"/><path d="M363.3,644.3 L362.1,644.7 L360.8,644.3 L359.6,643.8 L358.4,644.1 L357.1,644.0 L356.2,643.1" stroke="#E8261C" stroke-width="0.69" fill="none" stroke-linecap="round"/><path d="M358.7,643.4 L360.0,643.4 L361.2,642.9 L362.5,643.3 L363.3,644.3 L364.1,645.3 L365.4,645.5" stroke="#E8261C" stroke-width="0.81" fill="none" stroke-linecap="round"/><path d="M358.7,643.4 L359.0,642.1 L360.0,641.2 L361.2,640.9 L362.3,640.1 L363.4,639.5 L364.4,638.7 L364.9,637.5" stroke="#E8261C" stroke-width="1.03" fill="none" stroke-linecap="round"/><path d="M358.7,643.4 L357.8,642.4 L356.8,641.6 L356.3,640.4 L356.6,639.1 L356.7,637.9" stroke="#E8261C" stroke-width="0.95" fill="none" stroke-linecap="round"/><circle cx="358.72" cy="643.35" r="1.19" fill="#F2301E" /><path d="M368.7,638.7 L368.1,639.9 L367.5,641.0 L367.4,642.3 L367.6,643.6 L367.3,644.8" stroke="#E8261C" stroke-width="0.80" fill="none" stroke-linecap="round"/><path d="M372.8,634.5 L372.2,635.7 L371.5,636.7 L371.1,637.9 L370.0,638.7 L368.7,638.7" stroke="#E8261C" stroke-width="0.94" fill="none" stroke-linecap="round"/><path d="M372.8,634.5 L371.8,633.7 L370.5,633.5 L369.3,632.9 L368.2,632.2 L367.4,631.2" stroke="#E8261C" stroke-width="0.65" fill="none" stroke-linecap="round"/><path d="M372.8,634.5 L371.5,634.7 L370.2,634.6 L369.2,635.4 L368.2,636.3" stroke="#E8261C" stroke-width="0.91" fill="none" stroke-linecap="round"/><path d="M394.2,643.1 L394.0,641.8 L394.0,640.5 L394.8,639.5 L395.6,638.5" stroke="#E8261C" stroke-width="0.73" fill="none" stroke-linecap="round"/><path d="M397.4,648.4 L398.7,648.8 L399.8,649.4 L401.1,649.5 L402.4,649.3" stroke="#E8261C" stroke-width="0.84" fill="none" stroke-linecap="round"/><path d="M394.2,643.1 L395.4,643.6 L396.1,644.7 L396.6,645.9 L397.1,647.1 L397.4,648.4 L397.2,649.7" stroke="#E8261C" stroke-width="0.99" fill="none" stroke-linecap="round"/><path d="M394.2,643.1 L395.4,643.6 L396.7,644.0 L397.4,645.0" stroke="#E8261C" stroke-width="0.68" fill="none" stroke-linecap="round"/><path d="M398.0,638.2 L398.4,639.5 L399.0,640.6 L399.3,641.9 L399.0,643.1 L399.5,644.3 L399.2,645.6 L399.6,646.8" stroke="#E8261C" stroke-width="0.62" fill="none" stroke-linecap="round"/><circle cx="398.01" cy="638.21" r="1.39" fill="#F2301E" /><path d="M311.8,648.4 L312.9,649.1 L313.9,649.9 L315.2,650.3" stroke="#E8261C" stroke-width="0.85" fill="none" stroke-linecap="round"/><path d="M309.7,650.0 L310.7,649.1 L311.8,648.4 L313.1,648.5 L314.4,648.5 L315.5,649.2 L316.2,650.3" stroke="#E8261C" stroke-width="1.00" fill="none" stroke-linecap="round"/><path d="M310.7,649.1 L309.4,648.7 L308.2,648.4" stroke="#E8261C" stroke-width="0.83" fill="none" stroke-linecap="round"/><path d="M309.7,650.0 L310.7,649.1 L311.8,648.4 L313.1,648.4" stroke="#E8261C" stroke-width="0.97" fill="none" stroke-linecap="round"/><circle cx="309.71" cy="649.95" r="1.17" fill="#F2301E" /><path d="M318.3,655.0 L317.1,654.5 L316.6,653.3 L316.0,652.1 L315.9,650.8 L316.3,649.6 L317.3,648.9" stroke="#E8261C" stroke-width="0.69" fill="none" stroke-linecap="round"/><path d="M335.3,647.8 L335.3,646.5 L335.1,645.2" stroke="#E8261C" stroke-width="0.89" fill="none" stroke-linecap="round"/><path d="M333.1,650.7 L333.8,651.8 L335.0,652.3 L335.6,653.4 L335.8,654.7 L336.3,655.9" stroke="#E8261C" stroke-width="0.66" fill="none" stroke-linecap="round"/><path d="M335.3,647.8 L335.1,649.1 L334.3,650.1 L333.1,650.7" stroke="#E8261C" stroke-width="0.78" fill="none" stroke-linecap="round"/><circle cx="335.31" cy="647.80" r="1.43" fill="#F2301E" /><path d="M342.6,651.2 L341.7,650.3 L340.6,649.7 L339.3,649.6 L338.2,650.3 L336.9,650.2" stroke="#E8261C" stroke-width="0.69" fill="none" stroke-linecap="round"/><path d="M337.8,650.2 L336.9,651.1 L335.7,651.6 L334.6,652.4 L333.6,653.2 L332.3,653.5" stroke="#E8261C" stroke-width="0.69" fill="none" stroke-linecap="round"/><path d="M343.9,650.8 L342.6,651.2 L341.4,651.0 L340.3,650.2 L339.1,649.9 L337.8,650.2 L336.7,650.9" stroke="#E8261C" stroke-width="0.81" fill="none" stroke-linecap="round"/><path d="M343.9,650.8 L343.2,649.7 L342.1,648.9 L341.2,648.0 L341.0,646.7 L340.9,645.4 L340.4,644.3" stroke="#E8261C" stroke-width="0.71" fill="none" stroke-linecap="round"/><path d="M343.9,650.8 L344.4,652.0 L345.4,652.8 L346.2,653.8" stroke="#E8261C" stroke-width="0.62" fill="none" stroke-linecap="round"/><path d="M366.5,648.8 L366.7,650.1 L367.0,651.4 L366.8,652.6 L366.0,653.7" stroke="#E8261C" stroke-width="0.79" fill="none" stroke-linecap="round"/><path d="M381.2,651.9 L382.5,652.1 L383.8,652.2 L385.1,652.3" stroke="#E8261C" stroke-width="0.83" fill="none" stroke-linecap="round"/><path d="M379.8,648.3 L380.3,649.5 L380.9,650.6 L381.2,651.9 L380.9,653.1 L380.7,654.4" stroke="#E8261C" stroke-width="0.98" fill="none" stroke-linecap="round"/><path d="M379.8,648.3 L381.1,648.6 L381.9,649.7 L382.8,650.6 L383.0,651.9 L383.9,652.8 L384.9,653.6" stroke="#E8261C" stroke-width="0.83" fill="none" stroke-linecap="round"/><path d="M379.8,648.3 L381.1,648.5 L382.2,649.1 L383.2,650.1 L383.6,651.3" stroke="#E8261C" stroke-width="0.93" fill="none" stroke-linecap="round"/><path d="M392.1,653.6 L392.7,652.4 L393.2,651.2" stroke="#E8261C" stroke-width="0.68" fill="none" stroke-linecap="round"/><path d="M392.1,653.6 L392.0,654.9 L392.4,656.1 L392.6,657.4 L393.5,658.3 L394.7,658.9 L395.9,659.3" stroke="#E8261C" stroke-width="0.99" fill="none" stroke-linecap="round"/><circle cx="392.12" cy="653.56" r="1.33" fill="#F2301E" /><path d="M400.2,650.4 L399.3,649.4 L398.3,648.6 L397.5,647.5 L396.4,646.9 L395.4,646.1" stroke="#E8261C" stroke-width="0.61" fill="none" stroke-linecap="round"/><path d="M309.1,658.5 L309.1,657.2 L309.9,656.2 L310.9,655.4 L312.2,655.0 L313.5,654.8 L314.6,655.5" stroke="#E8261C" stroke-width="0.69" fill="none" stroke-linecap="round"/><path d="M309.1,658.5 L310.3,659.1 L311.6,659.2 L312.9,659.3" stroke="#E8261C" stroke-width="0.76" fill="none" stroke-linecap="round"/><path d="M322.5,669.5 L321.5,670.4 L320.3,670.9 L319.3,671.7 L318.0,671.7" stroke="#E8261C" stroke-width="0.91" fill="none" stroke-linecap="round"/><circle cx="322.48" cy="669.50" r="0.96" fill="#F2301E" /><path d="M333.5,663.0 L333.7,661.8 L333.8,660.5 L334.3,659.3 L335.3,658.4" stroke="#E8261C" stroke-width="0.98" fill="none" stroke-linecap="round"/><circle cx="333.52" cy="663.04" r="0.87" fill="#F2301E" /><path d="M348.9,663.9 L348.3,665.0 L347.5,666.0" stroke="#E8261C" stroke-width="0.75" fill="none" stroke-linecap="round"/><path d="M347.6,660.4 L347.6,661.7 L348.0,663.0 L348.9,663.9 L349.2,665.1" stroke="#E8261C" stroke-width="0.89" fill="none" stroke-linecap="round"/><path d="M347.6,660.4 L347.1,661.6 L347.0,662.9 L347.5,664.1" stroke="#E8261C" stroke-width="0.83" fill="none" stroke-linecap="round"/><path d="M347.6,660.4 L347.7,661.7 L348.3,662.9 L349.0,664.0 L350.1,664.6 L350.8,665.7" stroke="#E8261C" stroke-width="0.61" fill="none" stroke-linecap="round"/><circle cx="347.58" cy="660.42" r="1.36" fill="#F2301E" /><path d="M362.7,665.6 L361.9,664.6 L360.7,664.0 L359.7,663.2 L358.8,662.2 L358.7,660.9" stroke="#E8261C" stroke-width="0.82" fill="none" stroke-linecap="round"/><path d="M361.8,666.5 L362.7,665.6 L364.0,665.3 L365.3,665.2 L366.6,665.0 L367.7,665.7 L368.9,666.1" stroke="#E8261C" stroke-width="0.96" fill="none" stroke-linecap="round"/><path d="M369.6,666.5 L370.8,666.9 L372.0,666.5 L373.0,665.7 L374.0,664.8 L374.9,663.9 L375.3,662.6" stroke="#E8261C" stroke-width="1.01" fill="none" stroke-linecap="round"/><path d="M370.7,662.8 L369.8,661.8 L368.9,660.9 L367.8,660.2 L366.6,659.7" stroke="#E8261C" stroke-width="0.88" fill="none" stroke-linecap="round"/><path d="M369.6,666.5 L369.9,665.3 L370.3,664.0 L370.7,662.8" stroke="#E8261C" stroke-width="1.03" fill="none" stroke-linecap="round"/><path d="M369.6,666.5 L369.6,667.8 L370.2,669.0 L370.6,670.2 L371.7,670.9" stroke="#E8261C" stroke-width="1.03" fill="none" stroke-linecap="round"/><circle cx="369.58" cy="666.53" r="1.26" fill="#F2301E" /><path d="M394.1,661.5 L393.1,662.3 L391.9,662.7 L390.8,663.4 L389.6,664.0 L388.4,664.5" stroke="#E8261C" stroke-width="0.93" fill="none" stroke-linecap="round"/><path d="M394.1,661.5 L395.2,660.7 L396.5,660.8 L397.5,661.6 L398.3,662.7" stroke="#E8261C" stroke-width="0.77" fill="none" stroke-linecap="round"/><circle cx="394.08" cy="661.47" r="0.97" fill="#F2301E" /><path d="M395.7,667.5 L397.0,668.0 L397.7,669.1 L398.5,670.0 L398.6,671.3 L398.1,672.5" stroke="#E8261C" stroke-width="0.81" fill="none" stroke-linecap="round"/><path d="M310.0,676.8 L308.7,677.1 L307.5,676.6 L306.2,676.6 L304.9,676.6 L303.6,676.6" stroke="#E8261C" stroke-width="0.60" fill="none" stroke-linecap="round"/><path d="M310.6,677.9 L310.0,676.8 L309.8,675.5 L309.7,674.2 L309.9,672.9" stroke="#E8261C" stroke-width="0.71" fill="none" stroke-linecap="round"/><path d="M332.1,670.3 L332.2,669.0 L331.8,667.7 L331.9,666.4 L331.9,665.1 L331.5,663.9" stroke="#E8261C" stroke-width="0.54" fill="none" stroke-linecap="round"/><path d="M328.9,672.2 L330.2,672.0 L331.0,670.9 L332.1,670.3 L332.7,669.1" stroke="#E8261C" stroke-width="0.64" fill="none" stroke-linecap="round"/><path d="M328.9,672.2 L327.8,672.8 L326.5,673.0 L325.2,673.1 L323.9,673.4" stroke="#E8261C" stroke-width="0.92" fill="none" stroke-linecap="round"/><path d="M336.5,675.4 L335.5,674.5 L334.6,673.6 L333.3,673.3 L332.1,672.9" stroke="#E8261C" stroke-width="0.72" fill="none" stroke-linecap="round"/><path d="M340.2,674.2 L339.0,674.8 L337.7,674.9 L336.5,675.4 L335.3,676.0 L334.1,676.4 L333.0,677.0" stroke="#E8261C" stroke-width="0.85" fill="none" stroke-linecap="round"/><path d="M337.7,673.4 L337.5,672.1 L337.9,670.9 L337.8,669.6 L336.9,668.6" stroke="#E8261C" stroke-width="0.58" fill="none" stroke-linecap="round"/><path d="M340.2,674.2 L339.0,673.7 L337.7,673.4 L336.4,673.8" stroke="#E8261C" stroke-width="0.68" fill="none" stroke-linecap="round"/><circle cx="340.16" cy="674.17" r="1.49" fill="#F2301E" /><path d="M348.9,672.6 L347.7,672.0 L346.4,671.9 L345.2,672.2 L343.9,672.1 L342.6,672.3 L341.5,673.1" stroke="#E8261C" stroke-width="0.82" fill="none" stroke-linecap="round"/><path d="M350.5,670.6 L351.7,670.8 L353.0,670.9 L354.2,670.3" stroke="#E8261C" stroke-width="0.82" fill="none" stroke-linecap="round"/><path d="M348.1,673.6 L348.9,672.6 L349.9,671.8 L350.5,670.6" stroke="#E8261C" stroke-width="0.96" fill="none" stroke-linecap="round"/><path d="M348.1,673.6 L348.2,672.3 L348.8,671.1 L348.8,669.8 L349.7,668.8 L350.9,668.3 L352.1,668.1" stroke="#E8261C" stroke-width="0.66" fill="none" stroke-linecap="round"/><circle cx="348.13" cy="673.61" r="1.37" fill="#F2301E" /><path d="M360.9,681.4 L362.1,680.7 L362.9,679.7" stroke="#E8261C" stroke-width="0.83" fill="none" stroke-linecap="round"/><path d="M360.9,681.4 L361.4,680.1 L362.1,679.1 L362.4,677.8 L362.4,676.5" stroke="#E8261C" stroke-width="0.94" fill="none" stroke-linecap="round"/><circle cx="360.95" cy="681.36" r="1.38" fill="#F2301E" /><path d="M370.2,676.5 L370.8,675.3 L372.0,674.7" stroke="#E8261C" stroke-width="0.89" fill="none" stroke-linecap="round"/><path d="M371.0,678.9 L370.8,677.6 L370.2,676.5 L369.3,675.6 L369.0,674.3" stroke="#E8261C" stroke-width="1.04" fill="none" stroke-linecap="round"/><path d="M373.8,681.1 L373.5,679.9 L373.4,678.6 L372.5,677.6 L371.9,676.5 L370.8,675.8" stroke="#E8261C" stroke-width="0.88" fill="none" stroke-linecap="round"/><path d="M371.0,678.9 L371.5,680.1 L372.5,680.9 L373.8,681.1" stroke="#E8261C" stroke-width="1.03" fill="none" stroke-linecap="round"/><path d="M386.6,678.3 L386.0,679.5 L386.1,680.8 L386.8,681.9 L387.1,683.2" stroke="#E8261C" stroke-width="0.98" fill="none" stroke-linecap="round"/><path d="M386.6,678.3 L387.2,679.5 L387.6,680.7 L388.0,682.0 L389.0,682.8" stroke="#E8261C" stroke-width="0.95" fill="none" stroke-linecap="round"/><path d="M394.9,683.6 L394.4,684.9 L393.3,685.5 L392.1,685.9 L390.8,685.6" stroke="#E8261C" stroke-width="0.82" fill="none" stroke-linecap="round"/><path d="M392.8,685.2 L392.0,686.2 L391.8,687.5 L391.3,688.7" stroke="#E8261C" stroke-width="0.82" fill="none" stroke-linecap="round"/><path d="M399.8,682.1 L398.5,682.4 L397.2,682.6 L396.1,683.2 L394.9,683.6 L393.9,684.6 L392.8,685.2" stroke="#E8261C" stroke-width="0.97" fill="none" stroke-linecap="round"/><path d="M399.8,682.1 L398.7,682.9 L397.5,683.2 L396.5,684.0 L395.2,684.2" stroke="#E8261C" stroke-width="0.99" fill="none" stroke-linecap="round"/><path d="M307.5,691.4 L308.7,691.3 L309.7,690.4 L311.0,690.1 L311.8,689.2 L312.8,688.3" stroke="#E8261C" stroke-width="0.68" fill="none" stroke-linecap="round"/><path d="M306.7,692.5 L307.5,691.4 L308.3,690.4 L309.4,689.7" stroke="#E8261C" stroke-width="0.80" fill="none" stroke-linecap="round"/><path d="M306.7,692.5 L307.9,692.9 L309.2,693.1 L310.5,693.3 L311.7,693.8 L312.7,694.6 L313.4,695.7 L313.9,696.9" stroke="#E8261C" stroke-width="0.72" fill="none" stroke-linecap="round"/><path d="M306.7,692.5 L306.5,693.8 L307.0,695.0" stroke="#E8261C" stroke-width="0.82" fill="none" stroke-linecap="round"/><path d="M327.7,693.0 L326.4,693.0 L325.1,692.8 L323.9,693.2 L322.6,693.3" stroke="#E8261C" stroke-width="0.75" fill="none" stroke-linecap="round"/><path d="M324.5,690.8 L323.6,691.8 L323.1,692.9 L323.0,694.2 L322.6,695.5" stroke="#E8261C" stroke-width="0.81" fill="none" stroke-linecap="round"/><path d="M327.7,693.0 L326.7,692.1 L325.8,691.2 L324.5,690.8 L323.8,689.8 L322.6,689.2 L321.8,688.2" stroke="#E8261C" stroke-width="0.96" fill="none" stroke-linecap="round"/><path d="M327.7,693.0 L327.1,691.8 L327.2,690.5 L326.7,689.3 L326.7,688.0 L326.5,686.7 L327.1,685.6" stroke="#E8261C" stroke-width="0.82" fill="none" stroke-linecap="round"/><circle cx="327.69" cy="692.96" r="1.14" fill="#F2301E" /><path d="M329.3,683.4 L330.1,682.4 L330.5,681.2 L331.3,680.2 L331.7,678.9 L331.2,677.7 L330.6,676.6" stroke="#E8261C" stroke-width="0.55" fill="none" stroke-linecap="round"/><path d="M334.8,685.6 L334.1,684.6 L332.9,684.1 L331.6,684.4 L330.3,684.2 L329.3,683.4 L328.6,682.3" stroke="#E8261C" stroke-width="0.65" fill="none" stroke-linecap="round"/><path d="M334.8,685.6 L333.7,686.2 L332.4,686.6 L331.2,687.0" stroke="#E8261C" stroke-width="0.68" fill="none" stroke-linecap="round"/><path d="M337.4,682.8 L338.5,683.5 L339.7,683.9 L341.0,683.7 L342.2,684.2 L343.5,684.5 L344.8,684.8" stroke="#E8261C" stroke-width="0.65" fill="none" stroke-linecap="round"/><path d="M334.8,685.6 L336.0,685.0 L336.7,683.9 L337.4,682.8 L337.4,681.5" stroke="#E8261C" stroke-width="0.76" fill="none" stroke-linecap="round"/><circle cx="334.85" cy="685.63" r="1.04" fill="#F2301E" /><path d="M345.2,689.5 L346.5,689.7 L347.7,689.2" stroke="#E8261C" stroke-width="1.04" fill="none" stroke-linecap="round"/><path d="M344.9,690.7 L346.2,691.0 L347.5,690.9 L348.6,691.6 L349.8,692.0" stroke="#E8261C" stroke-width="0.68" fill="none" stroke-linecap="round"/><path d="M345.2,689.5 L344.9,690.7 L344.1,691.8 L343.1,692.6 L342.7,693.8" stroke="#E8261C" stroke-width="0.80" fill="none" stroke-linecap="round"/><circle cx="345.22" cy="689.47" r="1.14" fill="#F2301E" /><path d="M358.9,689.8 L360.1,689.3 L361.0,688.4 L362.2,687.9 L362.9,686.8 L363.3,685.5 L363.0,684.3 L363.4,683.0" stroke="#E8261C" stroke-width="0.62" fill="none" stroke-linecap="round"/><path d="M374.5,683.7 L375.8,683.6 L376.9,684.3 L378.2,684.3 L379.5,684.1" stroke="#E8261C" stroke-width="0.62" fill="none" stroke-linecap="round"/><path d="M373.8,687.2 L374.7,686.2 L374.9,684.9 L374.5,683.7 L373.8,682.6" stroke="#E8261C" stroke-width="0.73" fill="none" stroke-linecap="round"/><path d="M376.3,687.0 L377.5,686.6 L378.7,687.0 L380.0,687.4 L381.2,686.9 L382.2,686.1" stroke="#E8261C" stroke-width="0.82" fill="none" stroke-linecap="round"/><path d="M382.4,688.0 L382.4,689.3 L383.2,690.3 L384.4,690.9 L385.7,690.8 L387.0,690.6 L388.0,689.8" stroke="#E8261C" stroke-width="0.82" fill="none" stroke-linecap="round"/><path d="M373.8,687.2 L375.0,686.7 L376.3,687.0 L377.4,687.7 L378.6,687.9 L379.8,687.4 L381.1,687.6 L382.4,688.0" stroke="#E8261C" stroke-width="0.96" fill="none" stroke-linecap="round"/><path d="M374.3,683.3 L373.0,683.6 L371.7,683.7 L370.6,683.0" stroke="#E8261C" stroke-width="0.53" fill="none" stroke-linecap="round"/><path d="M373.8,687.2 L373.7,685.9 L374.1,684.6 L374.3,683.3" stroke="#E8261C" stroke-width="0.62" fill="none" stroke-linecap="round"/><path d="M391.6,698.9 L392.8,699.5 L393.8,700.2" stroke="#E8261C" stroke-width="0.52" fill="none" stroke-linecap="round"/><path d="M393.4,695.5 L393.0,696.8 L392.1,697.7 L391.6,698.9" stroke="#E8261C" stroke-width="0.61" fill="none" stroke-linecap="round"/><circle cx="393.40" cy="695.54" r="1.29" fill="#F2301E" /><path d="M400.5,694.5 L401.3,695.5 L402.1,696.6 L402.6,697.8 L403.3,698.9" stroke="#E8261C" stroke-width="0.99" fill="none" stroke-linecap="round"/><path d="M400.5,694.5 L400.6,693.2 L400.3,692.0" stroke="#E8261C" stroke-width="0.86" fill="none" stroke-linecap="round"/><path d="M313.1,706.7 L314.4,706.8 L315.5,706.1" stroke="#E8261C" stroke-width="0.99" fill="none" stroke-linecap="round"/><path d="M316.6,705.1 L315.4,704.5 L314.5,703.6 L313.4,702.9 L312.2,702.4 L311.0,701.9 L309.7,702.3" stroke="#E8261C" stroke-width="0.71" fill="none" stroke-linecap="round"/><path d="M313.1,706.7 L314.3,706.4 L315.4,705.7 L316.6,705.1" stroke="#E8261C" stroke-width="0.83" fill="none" stroke-linecap="round"/><path d="M310.6,706.0 L310.3,707.2 L310.5,708.5 L311.1,709.7" stroke="#E8261C" stroke-width="0.84" fill="none" stroke-linecap="round"/><path d="M313.1,706.7 L311.8,706.4 L310.6,706.0 L309.5,705.3" stroke="#E8261C" stroke-width="0.99" fill="none" stroke-linecap="round"/><path d="M329.2,703.0 L330.5,702.9 L331.6,702.2 L332.4,701.2" stroke="#E8261C" stroke-width="0.66" fill="none" stroke-linecap="round"/><path d="M329.3,701.7 L330.4,702.3 L331.5,703.0 L332.6,703.8 L333.9,703.7" stroke="#E8261C" stroke-width="0.66" fill="none" stroke-linecap="round"/><path d="M326.5,705.8 L327.5,704.9 L328.6,704.2 L329.2,703.0 L329.3,701.7 L329.1,700.4 L329.2,699.2" stroke="#E8261C" stroke-width="0.78" fill="none" stroke-linecap="round"/><path d="M326.5,705.8 L325.3,705.5 L324.1,706.1 L322.8,706.2 L321.5,706.3" stroke="#E8261C" stroke-width="0.97" fill="none" stroke-linecap="round"/><circle cx="326.55" cy="705.81" r="1.33" fill="#F2301E" /><path d="M336.7,702.2 L338.0,702.6 L339.3,702.8 L340.5,702.6" stroke="#E8261C" stroke-width="0.72" fill="none" stroke-linecap="round"/><circle cx="336.74" cy="702.22" r="1.11" fill="#F2301E" /><path d="M350.2,708.0 L349.7,706.8 L350.0,705.5 L350.3,704.3" stroke="#E8261C" stroke-width="0.77" fill="none" stroke-linecap="round"/><path d="M352.8,705.8 L352.5,707.0 L351.5,707.9 L350.2,708.0 L349.0,707.5 L348.3,706.4 L347.6,705.3" stroke="#E8261C" stroke-width="0.91" fill="none" stroke-linecap="round"/><path d="M363.4,705.6 L363.8,704.3 L364.2,703.1 L364.3,701.8 L364.4,700.5" stroke="#E8261C" stroke-width="1.01" fill="none" stroke-linecap="round"/><circle cx="363.44" cy="705.59" r="1.15" fill="#F2301E" /><path d="M380.3,707.0 L381.5,707.5 L382.1,708.7 L383.3,709.2 L384.3,710.1 L385.6,710.4 L386.9,710.4" stroke="#E8261C" stroke-width="0.70" fill="none" stroke-linecap="round"/><path d="M380.8,705.8 L379.6,705.2 L378.3,704.8" stroke="#E8261C" stroke-width="0.71" fill="none" stroke-linecap="round"/><path d="M380.3,707.0 L380.8,705.8 L380.4,704.5" stroke="#E8261C" stroke-width="0.84" fill="none" stroke-linecap="round"/><path d="M380.3,707.0 L380.3,708.3 L379.7,709.4 L378.7,710.2" stroke="#E8261C" stroke-width="0.69" fill="none" stroke-linecap="round"/><circle cx="380.32" cy="706.98" r="0.94" fill="#F2301E" /><path d="M391.1,700.4 L390.4,699.3 L389.4,698.5 L388.2,697.9 L387.0,697.6" stroke="#E8261C" stroke-width="0.58" fill="none" stroke-linecap="round"/><path d="M392.9,698.5 L392.3,699.7 L391.1,700.4 L390.2,701.2" stroke="#E8261C" stroke-width="0.69" fill="none" stroke-linecap="round"/><path d="M392.9,698.5 L391.8,697.8 L390.6,697.4 L389.5,696.7" stroke="#E8261C" stroke-width="0.83" fill="none" stroke-linecap="round"/><path d="M392.9,698.5 L393.3,697.3 L394.0,696.2 L395.2,695.7 L396.4,695.3 L397.6,694.7 L398.6,693.8 L399.5,692.9" stroke="#E8261C" stroke-width="0.74" fill="none" stroke-linecap="round"/><path d="M406.6,698.3 L405.3,698.4 L404.3,699.2 L403.0,699.4 L401.9,700.1 L400.7,700.5 L399.7,701.3" stroke="#E8261C" stroke-width="1.01" fill="none" stroke-linecap="round"/><circle cx="406.60" cy="698.29" r="1.48" fill="#F2301E" /><path d="M340.4 617.7h0M324.4 694.6h0M386.8 654.8h0M343.5 707.2h0M403.6 667.5h0M317.8 686.0h0M378.0 695.1h0M376.6 678.4h0M403.5 660.1h0M305.7 685.5h0M311.8 662.2h0M402.8 623.9h0M375.7 663.7h0M405.3 622.0h0M369.8 636.9h0M385.9 691.5h0M384.2 677.8h0M320.7 630.6h0M346.3 628.3h0M369.9 626.7h0M365.6 708.1h0M343.1 652.7h0M386.5 613.5h0M403.1 648.5h0M387.5 646.1h0M394.1 696.0h0M353.4 613.2h0M398.9 609.9h0M340.8 623.5h0M365.2 661.2h0M337.6 611.6h0M362.4 626.2h0M373.6 623.0h0M361.3 671.9h0M395.5 678.6h0M312.1 642.8h0M345.9 610.5h0M377.8 693.8h0M329.9 621.6h0M361.4 609.1h0M355.5 627.5h0M353.2 631.7h0M385.5 607.5h0M396.0 661.7h0M399.0 653.5h0M326.9 624.4h0" stroke="#B81A12" stroke-width="1.20" stroke-linecap="round" fill="none" /><path d="M340.4 660.5h0M312.6 657.2h0M397.7 637.3h0M334.2 612.1h0M403.0 668.3h0M363.3 611.7h0M305.9 676.2h0M304.5 668.5h0M351.9 693.9h0M334.1 630.0h0M340.9 678.7h0M352.4 623.0h0M375.1 704.7h0M324.6 655.3h0M306.0 685.5h0M352.4 681.5h0M403.7 655.5h0M404.6 668.4h0M373.9 691.2h0M347.2 609.2h0M331.8 652.9h0M362.7 673.4h0M322.4 634.3h0M383.4 708.2h0" stroke="#B81A12" stroke-width="0.80" stroke-linecap="round" fill="none" /></g>
<g clip-path="url(#ci2)" filter="url(#glw)"><path d="M504.1,683.3 C503.4,681.9 507.6,683.9 506.7,680.8" stroke="#8A1810" stroke-width="0.45" fill="none"/><path d="M506.0,699.5 C508.9,700.8 514.7,700.2 518.2,698.3" stroke="#8A1810" stroke-width="0.45" fill="none"/><path d="M506.7,680.8 C512.3,681.1 513.7,682.0 518.2,682.8" stroke="#8A1810" stroke-width="0.45" fill="none"/><path d="M502.8,702.9 C503.1,703.1 507.1,700.9 506.0,699.5" stroke="#8A1810" stroke-width="0.45" fill="none"/><path d="M424.4,705.5 C419.5,704.8 414.8,702.9 410.2,699.1" stroke="#8A1810" stroke-width="0.45" fill="none"/><path d="M424.4,705.5 C424.6,707.7 427.5,710.7 428.7,711.2" stroke="#8A1810" stroke-width="0.45" fill="none"/><path d="M410.2,697.6 C413.0,695.3 412.6,689.8 415.6,687.2" stroke="#8A1810" stroke-width="0.45" fill="none"/><path d="M410.2,679.2 C412.9,679.1 413.5,680.7 413.4,679.7" stroke="#8A1810" stroke-width="0.45" fill="none"/><path d="M413.4,679.7 C414.3,680.4 415.0,686.1 415.6,687.2" stroke="#8A1810" stroke-width="0.45" fill="none"/><path d="M422.6,626.6 C421.2,619.8 416.3,619.4 413.8,612.4" stroke="#8A1810" stroke-width="0.45" fill="none"/><path d="M422.6,626.6 C419.6,630.2 418.4,631.5 418.2,631.0" stroke="#8A1810" stroke-width="0.45" fill="none"/><path d="M418.2,631.0 C416.6,629.9 416.3,631.0 416.2,631.3" stroke="#8A1810" stroke-width="0.45" fill="none"/><path d="M416.2,631.3 C415.4,632.5 412.5,629.4 410.2,627.7" stroke="#8A1810" stroke-width="0.45" fill="none"/><path d="M410.2,613.7 C410.2,613.9 412.8,613.6 413.8,612.4" stroke="#8A1810" stroke-width="0.45" fill="none"/><path d="M415.0,652.3 C419.0,651.6 419.7,647.4 423.4,645.3" stroke="#8A1810" stroke-width="0.45" fill="none"/><path d="M415.0,652.3 C415.6,650.4 413.2,650.1 410.2,647.5" stroke="#8A1810" stroke-width="0.45" fill="none"/><path d="M423.4,645.3 C421.3,639.8 420.4,638.2 418.2,631.0" stroke="#8A1810" stroke-width="0.45" fill="none"/><path d="M419.2,603.7 C416.8,607.5 415.3,609.5 413.8,612.4" stroke="#8A1810" stroke-width="0.45" fill="none"/><path d="M518.2,629.6 C519.5,628.8 517.1,630.0 517.6,629.5" stroke="#8A1810" stroke-width="0.45" fill="none"/><path d="M460.8,629.5 C459.3,636.4 462.6,638.7 460.8,643.5" stroke="#8A1810" stroke-width="0.45" fill="none"/><path d="M460.8,643.5 C462.2,645.1 467.7,640.3 472.5,641.7" stroke="#8A1810" stroke-width="0.45" fill="none"/><path d="M466.2,625.9 C468.8,627.8 470.4,632.7 474.9,637.4" stroke="#8A1810" stroke-width="0.45" fill="none"/><path d="M472.5,641.7 C472.3,641.0 475.2,636.9 474.9,637.4" stroke="#8A1810" stroke-width="0.45" fill="none"/><path d="M494.0,645.0 C489.9,643.1 484.8,638.5 482.7,635.6" stroke="#8A1810" stroke-width="0.45" fill="none"/><path d="M482.7,635.6 C480.7,634.8 478.2,635.3 474.9,637.4" stroke="#8A1810" stroke-width="0.45" fill="none"/><path d="M472.5,641.7 C476.5,645.7 474.8,649.9 478.7,657.6" stroke="#8A1810" stroke-width="0.45" fill="none"/><path d="M478.7,657.6 C480.0,656.7 480.2,658.6 481.8,657.0" stroke="#8A1810" stroke-width="0.45" fill="none"/><path d="M502.8,702.9 C499.7,702.0 501.6,704.7 500.5,703.7" stroke="#8A1810" stroke-width="0.45" fill="none"/><path d="M499.3,711.2 C501.9,710.8 498.1,705.1 500.5,703.7" stroke="#8A1810" stroke-width="0.45" fill="none"/><path d="M413.4,679.7 C417.1,679.1 417.7,673.0 418.4,672.9" stroke="#8A1810" stroke-width="0.45" fill="none"/><path d="M418.4,672.9 C415.5,672.5 410.8,665.7 410.2,665.0" stroke="#8A1810" stroke-width="0.45" fill="none"/><path d="M415.0,652.3 C416.1,653.6 412.8,652.3 415.0,652.6" stroke="#8A1810" stroke-width="0.45" fill="none"/><path d="M410.2,658.5 C413.4,658.0 415.3,656.5 415.0,652.6" stroke="#8A1810" stroke-width="0.45" fill="none"/><path d="M424.4,705.5 C426.0,699.5 426.7,692.0 429.3,688.4" stroke="#8A1810" stroke-width="0.45" fill="none"/><path d="M437.8,711.2 C437.1,709.1 436.7,709.9 438.9,709.7" stroke="#8A1810" stroke-width="0.45" fill="none"/><path d="M438.9,709.7 C441.2,702.2 440.9,695.2 441.4,688.8" stroke="#8A1810" stroke-width="0.45" fill="none"/><path d="M441.4,688.8 C439.4,689.0 440.2,688.6 440.9,687.9" stroke="#8A1810" stroke-width="0.45" fill="none"/><path d="M440.9,687.9 C438.7,688.7 434.0,688.4 429.3,688.4" stroke="#8A1810" stroke-width="0.45" fill="none"/><path d="M415.6,687.2 C419.7,686.4 423.7,685.8 428.0,687.4" stroke="#8A1810" stroke-width="0.45" fill="none"/><path d="M429.3,688.4 C427.1,686.7 429.4,688.8 428.0,687.4" stroke="#8A1810" stroke-width="0.45" fill="none"/><path d="M422.2,603.7 C426.4,606.5 425.4,607.4 429.6,607.9" stroke="#8A1810" stroke-width="0.45" fill="none"/><path d="M422.6,626.6 C423.0,624.1 428.2,627.4 430.5,625.3" stroke="#8A1810" stroke-width="0.45" fill="none"/><path d="M429.6,607.9 C429.6,611.4 428.0,618.6 430.5,625.3" stroke="#8A1810" stroke-width="0.45" fill="none"/><path d="M437.4,645.7 C438.4,644.1 441.5,640.1 440.8,637.4" stroke="#8A1810" stroke-width="0.45" fill="none"/><path d="M437.4,645.7 C434.9,647.7 430.5,643.8 423.4,645.3" stroke="#8A1810" stroke-width="0.45" fill="none"/><path d="M440.8,637.4 C438.4,634.9 440.1,631.6 440.8,630.0" stroke="#8A1810" stroke-width="0.45" fill="none"/><path d="M430.5,625.3 C433.6,627.6 439.1,629.3 440.8,630.0" stroke="#8A1810" stroke-width="0.45" fill="none"/><path d="M440.8,637.4 C446.6,639.1 455.7,643.1 460.3,644.1" stroke="#8A1810" stroke-width="0.45" fill="none"/><path d="M460.8,629.5 C457.4,628.6 448.2,630.2 443.7,627.5" stroke="#8A1810" stroke-width="0.45" fill="none"/><path d="M460.3,644.1 C459.9,642.5 462.8,642.5 460.8,643.5" stroke="#8A1810" stroke-width="0.45" fill="none"/><path d="M440.8,630.0 C441.7,628.0 443.9,630.0 443.7,627.5" stroke="#8A1810" stroke-width="0.45" fill="none"/><path d="M501.4,605.8 C502.0,604.7 501.7,605.0 505.3,603.7" stroke="#8A1810" stroke-width="0.45" fill="none"/><path d="M518.2,618.1 C514.5,616.1 513.5,614.0 514.3,613.6" stroke="#8A1810" stroke-width="0.45" fill="none"/><path d="M516.9,603.7 C513.7,607.8 514.4,610.9 514.3,613.6" stroke="#8A1810" stroke-width="0.45" fill="none"/><path d="M517.6,629.5 C516.1,633.0 512.8,633.0 508.3,634.5" stroke="#8A1810" stroke-width="0.45" fill="none"/><path d="M514.3,613.6 C509.5,615.4 508.5,612.6 504.1,614.9" stroke="#8A1810" stroke-width="0.45" fill="none"/><path d="M508.3,634.5 C504.9,627.5 503.2,620.0 504.1,614.9" stroke="#8A1810" stroke-width="0.45" fill="none"/><path d="M502.4,613.8 C504.0,612.5 502.8,614.7 504.1,614.9" stroke="#8A1810" stroke-width="0.45" fill="none"/><path d="M505.3,638.1 C499.5,634.1 496.0,628.1 493.8,625.2" stroke="#8A1810" stroke-width="0.45" fill="none"/><path d="M505.3,638.1 C507.3,634.6 505.3,635.8 508.3,634.5" stroke="#8A1810" stroke-width="0.45" fill="none"/><path d="M502.4,613.8 C499.8,616.4 497.7,617.8 495.1,617.2" stroke="#8A1810" stroke-width="0.45" fill="none"/><path d="M486.8,603.7 C487.8,608.0 484.8,608.7 483.3,610.9" stroke="#8A1810" stroke-width="0.45" fill="none"/><path d="M495.1,617.2 C489.5,614.0 486.1,614.2 483.3,610.9" stroke="#8A1810" stroke-width="0.45" fill="none"/><path d="M504.1,683.3 C499.0,685.2 492.5,682.6 489.1,683.5" stroke="#8A1810" stroke-width="0.45" fill="none"/><path d="M489.1,683.5 C487.5,690.4 488.5,695.9 486.5,699.5" stroke="#8A1810" stroke-width="0.45" fill="none"/><path d="M506.7,680.8 C508.3,677.8 504.5,676.9 506.5,676.4" stroke="#8A1810" stroke-width="0.45" fill="none"/><path d="M493.1,667.6 C490.7,670.3 488.0,676.5 487.7,681.5" stroke="#8A1810" stroke-width="0.45" fill="none"/><path d="M493.1,667.6 C496.1,668.5 497.0,665.9 498.4,666.6" stroke="#8A1810" stroke-width="0.45" fill="none"/><path d="M498.4,666.6 C502.5,671.1 505.0,674.6 506.5,676.4" stroke="#8A1810" stroke-width="0.45" fill="none"/><path d="M489.1,683.5 C491.0,681.0 490.1,680.0 487.7,681.5" stroke="#8A1810" stroke-width="0.45" fill="none"/><path d="M485.0,711.2 C485.9,707.6 483.5,707.2 483.1,701.5" stroke="#8A1810" stroke-width="0.45" fill="none"/><path d="M475.2,701.8 C479.5,700.8 479.4,702.8 483.1,701.5" stroke="#8A1810" stroke-width="0.45" fill="none"/><path d="M483.1,701.5 C483.6,699.2 487.7,699.2 486.5,699.5" stroke="#8A1810" stroke-width="0.45" fill="none"/><path d="M458.9,693.1 C457.8,695.3 457.6,692.2 455.8,694.9" stroke="#8A1810" stroke-width="0.45" fill="none"/><path d="M458.9,693.1 C462.0,697.0 467.1,697.9 472.2,698.4" stroke="#8A1810" stroke-width="0.45" fill="none"/><path d="M455.8,694.9 C454.7,699.1 452.9,700.1 453.7,702.7" stroke="#8A1810" stroke-width="0.45" fill="none"/><path d="M453.7,702.7 C458.0,704.5 457.3,706.3 459.9,708.6" stroke="#8A1810" stroke-width="0.45" fill="none"/><path d="M459.9,708.6 C465.7,708.5 470.2,701.5 474.5,701.4" stroke="#8A1810" stroke-width="0.45" fill="none"/><path d="M472.2,698.4 C473.1,701.3 471.5,699.2 474.5,701.4" stroke="#8A1810" stroke-width="0.45" fill="none"/><path d="M441.4,688.8 C445.1,692.2 450.0,693.8 455.8,694.9" stroke="#8A1810" stroke-width="0.45" fill="none"/><path d="M440.9,687.9 C444.9,682.2 444.1,675.8 445.9,673.1" stroke="#8A1810" stroke-width="0.45" fill="none"/><path d="M445.9,673.1 C448.1,673.0 450.9,674.4 451.5,671.6" stroke="#8A1810" stroke-width="0.45" fill="none"/><path d="M451.5,671.6 C454.9,675.1 457.8,679.7 460.0,683.9" stroke="#8A1810" stroke-width="0.45" fill="none"/><path d="M460.0,683.9 C461.7,689.0 457.7,689.6 458.9,693.1" stroke="#8A1810" stroke-width="0.45" fill="none"/><path d="M472.6,682.3 C467.1,681.1 463.5,683.3 460.0,683.9" stroke="#8A1810" stroke-width="0.45" fill="none"/><path d="M472.6,682.3 C470.5,688.5 469.9,692.0 472.2,698.4" stroke="#8A1810" stroke-width="0.45" fill="none"/><path d="M438.9,709.7 C443.1,706.5 449.7,703.3 453.7,702.7" stroke="#8A1810" stroke-width="0.45" fill="none"/><path d="M475.2,701.8 C476.7,701.5 476.3,703.9 474.5,701.4" stroke="#8A1810" stroke-width="0.45" fill="none"/><path d="M487.7,681.5 C482.9,680.8 482.8,678.0 476.7,677.6" stroke="#8A1810" stroke-width="0.45" fill="none"/><path d="M472.6,682.3 C473.0,678.5 477.0,680.9 476.7,677.6" stroke="#8A1810" stroke-width="0.45" fill="none"/><path d="M503.0,659.8 C508.1,660.4 512.9,660.9 516.2,663.2" stroke="#8A1810" stroke-width="0.45" fill="none"/><path d="M503.0,659.8 C501.3,654.5 498.7,647.9 498.4,644.4" stroke="#8A1810" stroke-width="0.45" fill="none"/><path d="M505.1,638.9 C503.1,640.0 499.0,643.8 498.4,644.4" stroke="#8A1810" stroke-width="0.45" fill="none"/><path d="M505.1,638.9 C509.1,643.2 514.4,644.2 518.2,649.6" stroke="#8A1810" stroke-width="0.45" fill="none"/><path d="M518.2,662.6 C519.9,660.4 518.8,665.1 516.2,663.2" stroke="#8A1810" stroke-width="0.45" fill="none"/><path d="M498.4,666.6 C499.9,662.9 499.6,659.9 503.0,659.8" stroke="#8A1810" stroke-width="0.45" fill="none"/><path d="M506.5,676.4 C511.0,671.9 514.9,668.7 516.2,663.2" stroke="#8A1810" stroke-width="0.45" fill="none"/><path d="M494.0,645.0 C497.0,646.3 498.9,644.3 498.4,644.4" stroke="#8A1810" stroke-width="0.45" fill="none"/><path d="M493.1,667.6 C487.9,663.8 485.8,660.9 481.8,657.0" stroke="#8A1810" stroke-width="0.45" fill="none"/><path d="M482.7,635.6 C484.5,631.8 482.8,630.8 483.8,626.9" stroke="#8A1810" stroke-width="0.45" fill="none"/><path d="M505.3,638.1 C506.5,636.6 503.2,637.3 505.1,638.9" stroke="#8A1810" stroke-width="0.45" fill="none"/><path d="M424.2,671.5 C424.4,665.7 425.2,665.1 424.3,661.2" stroke="#8A1810" stroke-width="0.45" fill="none"/><path d="M424.2,671.5 C423.7,673.1 427.2,672.2 426.1,672.4" stroke="#8A1810" stroke-width="0.45" fill="none"/><path d="M426.1,672.4 C430.6,674.4 436.2,670.8 442.2,671.0" stroke="#8A1810" stroke-width="0.45" fill="none"/><path d="M424.3,661.2 C427.5,661.6 431.6,658.3 435.6,655.5" stroke="#8A1810" stroke-width="0.45" fill="none"/><path d="M435.6,655.5 C436.5,659.2 440.3,665.8 442.2,671.0" stroke="#8A1810" stroke-width="0.45" fill="none"/><path d="M418.4,672.9 C421.2,674.3 424.1,672.4 424.2,671.5" stroke="#8A1810" stroke-width="0.45" fill="none"/><path d="M415.0,652.6 C416.1,654.0 423.2,659.0 424.3,661.2" stroke="#8A1810" stroke-width="0.45" fill="none"/><path d="M428.0,687.4 C427.2,683.1 424.8,675.4 426.1,672.4" stroke="#8A1810" stroke-width="0.45" fill="none"/><path d="M445.9,673.1 C443.2,671.7 442.1,671.0 442.2,671.0" stroke="#8A1810" stroke-width="0.45" fill="none"/><path d="M437.5,646.3 C435.5,648.3 436.6,650.1 435.6,655.5" stroke="#8A1810" stroke-width="0.45" fill="none"/><path d="M429.6,607.9 C432.0,607.8 434.1,604.9 436.9,606.4" stroke="#8A1810" stroke-width="0.45" fill="none"/><path d="M438.8,603.7 C438.2,606.6 437.4,606.5 436.9,606.4" stroke="#8A1810" stroke-width="0.45" fill="none"/><path d="M443.7,627.5 C447.0,624.1 446.6,619.3 446.8,617.6" stroke="#8A1810" stroke-width="0.45" fill="none"/><path d="M467.0,623.9 C469.5,619.8 473.0,619.4 476.7,616.9" stroke="#8A1810" stroke-width="0.45" fill="none"/><path d="M467.0,623.9 C461.6,621.9 458.6,616.8 454.8,611.3" stroke="#8A1810" stroke-width="0.45" fill="none"/><path d="M467.5,603.7 C470.4,607.9 472.9,609.1 477.4,614.4" stroke="#8A1810" stroke-width="0.45" fill="none"/><path d="M463.7,603.7 C460.3,606.2 458.5,603.8 456.1,607.2" stroke="#8A1810" stroke-width="0.45" fill="none"/><path d="M476.7,616.9 C475.6,613.9 476.2,614.6 477.4,614.4" stroke="#8A1810" stroke-width="0.45" fill="none"/><path d="M456.1,607.2 C454.4,606.8 453.3,611.3 454.8,611.3" stroke="#8A1810" stroke-width="0.45" fill="none"/><path d="M483.8,626.9 C481.1,621.7 480.2,619.3 476.7,616.9" stroke="#8A1810" stroke-width="0.45" fill="none"/><path d="M446.8,617.6 C449.6,616.2 451.0,611.4 454.8,611.3" stroke="#8A1810" stroke-width="0.45" fill="none"/><path d="M483.3,610.9 C481.7,612.2 481.0,615.3 477.4,614.4" stroke="#8A1810" stroke-width="0.45" fill="none"/><path d="M452.9,603.7 C452.2,603.8 454.3,607.3 456.1,607.2" stroke="#8A1810" stroke-width="0.45" fill="none"/><path d="M475.8,659.8 C475.7,662.7 473.7,662.4 472.1,666.3" stroke="#8A1810" stroke-width="0.45" fill="none"/><path d="M475.8,659.8 C472.9,658.0 467.6,651.2 459.9,648.6" stroke="#8A1810" stroke-width="0.45" fill="none"/><path d="M472.1,666.3 C464.7,668.3 457.9,670.2 454.2,668.7" stroke="#8A1810" stroke-width="0.45" fill="none"/><path d="M454.2,668.7 C454.9,662.7 454.1,660.9 453.5,655.6" stroke="#8A1810" stroke-width="0.45" fill="none"/><path d="M459.9,648.6 C458.4,652.0 456.7,653.5 453.5,655.6" stroke="#8A1810" stroke-width="0.45" fill="none"/><path d="M478.7,657.6 C479.0,657.6 474.9,659.7 475.8,659.8" stroke="#8A1810" stroke-width="0.45" fill="none"/><path d="M476.7,677.6 C475.7,672.4 475.7,668.5 472.1,666.3" stroke="#8A1810" stroke-width="0.45" fill="none"/><path d="M460.3,644.1 C461.7,643.8 458.0,649.0 459.9,648.6" stroke="#8A1810" stroke-width="0.45" fill="none"/><path d="M437.5,646.3 C443.0,647.9 449.1,653.5 453.5,655.6" stroke="#8A1810" stroke-width="0.45" fill="none"/><path d="M504.1 683.2h0M504.6 682.7h0M506.4 682.6h0M505.9 699.6h0M512.2 700.4h0M510.4 681.3h0M514.9 682.0h0M416.9 703.4h0M412.5 701.1h0M424.6 706.3h0M413.6 689.9h0M410.5 679.5h0M416.7 617.0h0M415.7 616.3h0M419.0 630.2h0M418.5 630.8h0M415.7 631.4h0M416.9 651.3h0M419.2 634.3h0M418.3 604.7h0M414.4 611.6h0M460.9 643.7h0M467.2 626.3h0M473.5 635.6h0M474.7 637.3h0M472.8 641.8h0M482.3 635.8h0M482.8 635.6h0M474.2 644.1h0M500.7 703.4h0M500.1 704.1h0M500.6 703.5h0M413.7 679.4h0M415.8 671.2h0M412.0 666.5h0M415.0 652.7h0M425.0 703.8h0M425.6 700.2h0M426.5 695.5h0M427.3 693.0h0M437.5 709.7h0M438.8 709.0h0M440.2 702.0h0M440.8 701.0h0M441.2 696.7h0M441.2 690.5h0M441.1 689.1h0M432.0 688.2h0M416.2 687.1h0M423.5 686.8h0M427.5 626.2h0M428.3 626.3h0M429.6 615.5h0M429.4 622.4h0M439.5 642.0h0M440.7 639.1h0M432.4 646.0h0M439.8 633.6h0M436.4 628.7h0M438.3 629.2h0M451.3 640.7h0M460.0 644.4h0M449.9 628.9h0M448.1 628.8h0M505.2 603.9h0M514.1 613.8h0M512.6 633.2h0M508.4 634.1h0M504.3 625.0h0M504.9 623.6h0M504.1 615.7h0M501.7 615.0h0M486.6 603.9h0M503.1 683.3h0M496.4 683.8h0M487.7 689.7h0M492.6 668.0h0M492.3 668.8h0M490.8 671.5h0M489.6 672.7h0M487.2 680.7h0M501.9 669.6h0M485.5 709.8h0M485.3 708.9h0M484.9 708.0h0M480.7 702.1h0M483.3 701.4h0M484.3 700.1h0M457.5 694.2h0M455.6 694.8h0M455.7 704.0h0M456.6 704.4h0M469.0 704.7h0M469.4 703.5h0M442.0 689.5h0M443.6 690.9h0M451.5 693.9h0M444.1 678.6h0M444.9 677.7h0M448.5 673.3h0M459.9 684.1h0M459.8 687.7h0M459.8 689.1h0M458.5 693.1h0M472.2 682.2h0M472.5 683.4h0M471.1 686.0h0M471.1 687.4h0M447.6 704.5h0M476.1 702.3h0M487.6 681.6h0M481.3 678.6h0M480.0 678.3h0M478.2 677.9h0M473.5 680.3h0M477.0 677.5h0M502.9 660.1h0M501.9 657.4h0M501.2 656.0h0M499.5 650.3h0M499.8 648.8h0M498.5 647.1h0M503.0 640.2h0M506.1 639.5h0M508.8 642.0h0M516.5 647.7h0M518.7 662.7h0M499.9 661.9h0M512.6 670.2h0M516.3 663.1h0M493.1 645.2h0M489.0 664.0h0M505.4 637.8h0M424.0 671.2h0M425.3 672.4h0M432.9 671.9h0M441.2 671.0h0M429.1 660.5h0M436.0 655.4h0M438.9 663.1h0M441.2 668.6h0M441.4 669.4h0M442.1 671.2h0M419.8 673.3h0M421.6 672.9h0M422.6 673.0h0M415.8 653.5h0M416.2 654.2h0M425.8 677.2h0M426.0 672.6h0M474.8 618.0h0M462.0 621.0h0M458.0 616.2h0M456.3 613.6h0M470.8 607.8h0M473.6 610.2h0M474.1 610.6h0M460.6 605.4h0M476.0 614.4h0M453.9 609.8h0M483.9 627.1h0M483.1 625.5h0M481.0 613.9h0M472.3 665.9h0M464.1 650.3h0M462.8 650.0h0M458.7 669.2h0M454.2 661.4h0M456.9 652.7h0M454.0 654.9h0M477.9 657.8h0M475.5 670.0h0M438.5 646.8h0M450.1 653.6h0" stroke="#D02018" stroke-width="0.80" stroke-linecap="round" fill="none" /><path d="M505.3 682.7h0M513.5 699.5h0M509.1 681.2h0M514.1 681.4h0M415.7 702.6h0M424.5 705.5h0M425.2 707.4h0M426.3 708.8h0M429.0 711.1h0M412.0 694.0h0M415.5 687.2h0M412.6 679.4h0M422.6 625.6h0M421.4 622.8h0M418.3 619.4h0M416.0 631.1h0M415.2 631.4h0M411.4 629.1h0M412.8 613.5h0M416.2 652.0h0M420.2 648.0h0M414.8 652.0h0M422.6 643.3h0M422.3 642.0h0M417.2 607.3h0M460.9 630.4h0M460.4 632.9h0M460.7 635.5h0M460.9 639.5h0M461.0 641.2h0M461.5 643.8h0M464.1 643.4h0M470.7 632.1h0M475.1 637.5h0M488.2 640.9h0M483.9 636.8h0M477.3 635.9h0M472.0 641.8h0M476.4 649.9h0M476.1 650.3h0M502.7 702.9h0M417.6 675.7h0M418.3 672.8h0M414.5 670.3h0M413.7 669.7h0M410.0 658.4h0M414.5 654.5h0M415.2 652.4h0M427.4 692.0h0M439.5 708.0h0M440.0 705.9h0M441.3 695.4h0M441.4 691.8h0M441.5 688.1h0M439.7 688.2h0M439.4 688.6h0M436.2 688.6h0M416.9 687.1h0M418.6 686.3h0M425.5 686.7h0M429.2 688.7h0M425.6 606.5h0M426.7 606.8h0M429.3 614.2h0M429.0 617.6h0M436.2 646.3h0M433.0 646.2h0M427.1 644.9h0M423.6 645.4h0M439.8 635.0h0M440.4 631.6h0M440.7 629.9h0M445.4 639.1h0M457.4 643.4h0M459.6 644.0h0M459.9 629.4h0M455.4 629.7h0M454.0 629.4h0M448.8 629.2h0M459.7 643.8h0M442.9 628.8h0M514.2 608.3h0M514.7 609.1h0M514.7 610.6h0M514.6 611.8h0M515.2 632.3h0M509.4 634.3h0M511.3 614.2h0M510.6 614.1h0M505.7 613.8h0M508.3 634.8h0M504.6 624.6h0M504.5 621.8h0M504.2 618.3h0M503.9 617.3h0M504.1 636.6h0M501.7 635.0h0M499.8 633.5h0M495.8 628.7h0M494.5 627.2h0M507.0 635.3h0M500.3 615.5h0M486.6 606.8h0M484.4 609.6h0M488.7 614.3h0M487.0 613.5h0M484.4 611.8h0M483.1 610.9h0M494.7 683.3h0M506.5 680.9h0M506.1 677.2h0M489.2 675.0h0M488.4 677.8h0M503.6 672.5h0M504.4 673.8h0M505.5 675.2h0M485.0 711.6h0M484.4 707.5h0M480.5 701.8h0M471.4 698.4h0M455.1 697.2h0M457.4 705.7h0M458.1 706.5h0M459.8 708.7h0M462.9 707.9h0M464.0 707.5h0M467.5 705.1h0M472.1 698.1h0M442.1 690.1h0M444.7 691.7h0M448.6 693.5h0M455.1 694.5h0M442.5 684.4h0M444.0 680.1h0M445.1 674.8h0M447.2 673.0h0M448.8 673.1h0M457.3 679.6h0M472.7 682.5h0M470.9 694.0h0M439.9 708.3h0M442.2 707.9h0M448.6 704.2h0M475.0 679.6h0M505.1 660.3h0M515.0 661.9h0M498.8 643.7h0M511.1 643.6h0M512.9 644.0h0M514.5 645.7h0M514.1 667.4h0M492.7 667.1h0M486.3 661.6h0M484.7 660.0h0M482.4 635.4h0M425.0 663.4h0M424.4 663.0h0M426.2 672.3h0M435.6 672.0h0M424.1 660.8h0M435.7 655.1h0M436.8 659.0h0M425.8 678.0h0M426.1 673.2h0M444.2 672.3h0M437.9 646.2h0M437.0 647.3h0M436.3 648.6h0M433.1 606.5h0M446.6 621.6h0M446.8 620.4h0M467.5 622.8h0M471.5 619.5h0M464.9 622.8h0M463.1 622.4h0M459.8 617.8h0M468.6 604.6h0M470.7 608.0h0M474.5 611.1h0M481.1 621.8h0M448.1 616.8h0M482.5 611.3h0M475.2 661.4h0M474.1 658.4h0M472.7 657.6h0M469.0 653.8h0M471.9 666.6h0M470.0 666.9h0M465.0 667.9h0M462.6 668.7h0M459.9 669.1h0M454.1 668.6h0M455.0 654.6h0M475.7 672.7h0M475.6 671.5h0M475.0 671.0h0M473.8 667.3h0M471.7 666.5h0M460.1 644.0h0M443.5 649.0h0M443.6 649.7h0M445.6 650.4h0M446.0 650.8h0" stroke="#B01A12" stroke-width="0.80" stroke-linecap="round" fill="none" /><path d="M506.1 680.5h0M511.8 681.5h0M515.3 682.0h0M420.9 705.1h0M419.8 704.5h0M418.9 704.1h0M412.0 694.5h0M413.1 680.0h0M413.7 679.6h0M415.4 685.6h0M420.2 621.3h0M419.5 620.1h0M414.9 614.5h0M422.7 626.5h0M418.4 630.7h0M418.1 630.9h0M416.7 630.5h0M411.3 628.1h0M423.4 645.3h0M423.0 644.1h0M422.0 641.2h0M420.0 636.9h0M417.3 606.4h0M518.4 629.2h0M460.7 629.5h0M460.4 637.0h0M460.3 643.5h0M468.2 641.7h0M470.6 641.2h0M468.0 627.8h0M468.5 628.4h0M475.1 637.5h0M492.1 644.0h0M488.8 641.9h0M486.9 639.5h0M483.4 636.7h0M480.9 635.8h0M480.4 635.8h0M479.8 635.5h0M475.5 637.6h0M475.0 645.3h0M475.4 648.4h0M476.7 651.5h0M477.8 655.6h0M480.5 657.7h0M481.6 656.5h0M500.5 703.5h0M499.6 705.3h0M414.6 678.9h0M417.6 673.6h0M416.9 671.9h0M412.3 667.9h0M411.1 664.9h0M409.8 664.7h0M414.4 653.1h0M414.4 656.2h0M424.5 705.5h0M426.2 699.2h0M426.2 696.3h0M427.1 692.5h0M438.6 709.5h0M440.6 701.0h0M440.8 699.7h0M440.5 687.9h0M434.8 688.4h0M427.7 687.9h0M428.1 687.7h0M426.4 606.6h0M430.1 607.8h0M429.3 616.2h0M430.2 625.7h0M437.5 644.9h0M441.4 638.5h0M441.0 637.3h0M432.6 626.9h0M438.8 629.2h0M440.5 629.8h0M440.6 629.8h0M441.5 637.4h0M444.2 638.7h0M451.9 641.2h0M455.1 642.3h0M446.0 628.3h0M460.8 643.5h0M502.9 604.9h0M517.8 618.1h0M516.3 617.0h0M514.5 613.5h0M506.1 629.9h0M504.3 615.0h0M497.0 629.6h0M493.5 624.9h0M496.6 617.5h0M495.4 617.6h0M488.1 613.7h0M497.5 684.2h0M494.8 683.9h0M493.9 683.9h0M489.9 683.5h0M489.2 684.1h0M488.8 685.3h0M488.4 687.6h0M488.3 691.6h0M488.0 696.0h0M487.6 696.7h0M506.7 678.4h0M488.7 676.1h0M488.1 678.4h0M487.8 679.5h0M496.6 667.2h0M497.0 666.3h0M497.9 666.4h0M500.6 669.0h0M484.3 706.3h0M483.1 701.5h0M476.3 701.1h0M486.4 699.7h0M458.7 692.9h0M456.9 693.9h0M464.0 696.6h0M455.4 694.7h0M454.0 700.5h0M454.0 703.0h0M453.3 702.5h0M458.9 707.7h0M461.6 708.3h0M471.8 702.4h0M474.7 701.7h0M445.7 691.4h0M446.1 691.9h0M450.1 694.0h0M455.7 694.8h0M444.9 677.0h0M450.2 673.9h0M451.1 672.6h0M451.5 672.0h0M451.8 671.4h0M456.2 676.8h0M459.2 681.5h0M460.0 684.2h0M460.2 685.5h0M458.5 692.6h0M467.3 681.8h0M466.5 682.4h0M460.0 684.0h0M471.8 684.0h0M471.0 688.9h0M444.2 706.5h0M444.8 705.7h0M474.4 701.1h0M486.6 681.4h0M482.8 679.6h0M476.7 677.7h0M475.3 679.2h0M512.5 661.3h0M515.5 662.5h0M516.5 663.5h0M502.9 658.4h0M501.7 654.4h0M498.8 647.5h0M505.3 638.9h0M498.1 644.6h0M518.2 649.4h0M517.7 662.8h0M501.7 660.1h0M503.3 659.7h0M513.7 668.7h0M514.9 666.0h0M496.0 645.6h0M498.5 644.9h0M491.1 666.3h0M484.8 659.3h0M483.4 658.5h0M482.5 657.6h0M481.8 657.0h0M483.6 632.3h0M424.7 666.2h0M424.7 664.9h0M427.0 660.9h0M429.6 659.5h0M434.5 656.1h0M435.3 656.1h0M437.4 660.6h0M438.1 661.6h0M421.0 658.4h0M422.3 659.0h0M428.1 687.2h0M427.1 685.0h0M425.7 675.1h0M443.4 671.7h0M442.3 671.5h0M429.7 607.8h0M430.4 607.6h0M432.5 606.7h0M434.4 606.0h0M436.8 606.1h0M436.9 606.2h0M446.1 623.6h0M446.7 621.1h0M469.5 620.6h0M476.3 616.9h0M467.4 623.6h0M461.8 620.1h0M467.2 604.2h0M469.8 606.7h0M471.7 608.6h0M482.3 622.8h0M480.2 620.7h0M480.1 619.8h0M448.0 617.2h0M449.9 615.0h0M450.6 613.8h0M451.7 613.3h0M473.3 663.9h0M475.9 659.7h0M474.9 659.5h0M473.9 658.2h0M471.1 656.1h0M470.1 655.2h0M462.1 649.4h0M464.2 668.6h0M457.4 669.6h0M459.1 649.5h0M456.3 653.2h0M479.0 657.3h0M476.4 659.9h0M475.8 674.2h0M460.3 644.5h0M439.0 647.2h0M441.1 647.9h0M441.9 647.9h0M444.3 649.9h0" stroke="#E8281C" stroke-width="0.80" stroke-linecap="round" fill="none" /><path d="M507.0 699.3h0M509.3 700.0h0M513.2 699.5h0M516.3 699.0h0M508.2 680.9h0M517.0 682.6h0M504.4 702.5h0M414.7 702.4h0M413.6 679.5h0M414.1 681.8h0M414.9 683.3h0M415.0 684.7h0M422.7 626.6h0M419.6 629.9h0M418.9 650.1h0M460.6 632.4h0M465.9 642.2h0M493.0 644.9h0M489.8 642.6h0M474.7 644.5h0M475.1 645.7h0M479.0 657.4h0M418.4 673.3h0M414.9 652.4h0M425.1 701.9h0M428.5 690.3h0M428.4 689.7h0M441.0 695.1h0M440.8 688.2h0M433.3 688.3h0M429.5 688.5h0M423.5 625.5h0M429.9 623.3h0M438.6 643.2h0M437.2 645.9h0M434.2 626.8h0M434.3 627.3h0M440.8 637.7h0M459.4 644.1h0M440.9 630.6h0M501.8 605.2h0M515.9 604.8h0M514.8 607.5h0M515.4 632.1h0M514.0 632.9h0M508.8 613.9h0M504.0 620.7h0M504.7 614.8h0M503.4 613.8h0M502.2 635.4h0M494.0 625.2h0M506.2 636.6h0M506.5 635.7h0M506.6 635.3h0M500.9 615.6h0M498.7 616.6h0M486.4 607.9h0M490.9 615.6h0M501.5 684.1h0M500.1 683.6h0M498.5 684.1h0M488.6 686.7h0M488.0 696.1h0M486.7 699.5h0M506.2 675.8h0M485.0 710.5h0M483.3 704.2h0M483.2 701.9h0M469.7 698.7h0M470.4 698.5h0M457.4 705.5h0M472.7 701.9h0M472.5 699.7h0M446.7 692.4h0M445.0 673.2h0M453.3 673.7h0M464.6 682.6h0M461.8 683.2h0M471.2 688.3h0M470.8 689.9h0M441.3 707.9h0M452.6 702.8h0M484.4 680.1h0M508.7 660.7h0M509.5 642.3h0M516.7 648.3h0M517.9 648.5h0M500.7 660.7h0M506.0 676.6h0M510.5 672.5h0M511.6 671.0h0M515.8 664.6h0M483.0 628.6h0M424.2 668.7h0M427.3 672.8h0M430.6 659.0h0M436.6 657.3h0M418.6 672.9h0M423.9 672.2h0M424.4 671.7h0M414.9 653.0h0M419.8 656.8h0M422.6 659.6h0M424.0 660.6h0M425.7 673.0h0M445.1 625.6h0M447.2 619.0h0M463.7 622.1h0M462.4 621.1h0M455.4 612.6h0M471.9 608.8h0M475.8 612.9h0M456.7 606.1h0M477.1 614.3h0M454.5 611.0h0M446.6 617.7h0M449.8 614.0h0M467.3 667.4h0M454.2 666.5h0M474.3 668.5h0M459.8 648.4h0" stroke="#F03A20" stroke-width="0.40" stroke-linecap="round" fill="none" /><path d="M507.6 700.1h0M424.0 705.7h0M420.8 704.6h0M411.3 696.7h0M414.6 688.8h0M413.5 612.4h0M413.4 630.5h0M410.3 628.2h0M421.8 646.6h0M422.6 645.8h0M409.9 647.7h0M422.0 640.6h0M418.3 630.9h0M415.6 609.2h0M464.6 643.0h0M467.0 626.1h0M467.6 627.0h0M487.4 640.1h0M477.3 654.4h0M500.2 707.8h0M499.8 706.9h0M417.8 673.0h0M411.2 666.6h0M412.2 657.8h0M425.2 702.6h0M437.6 711.2h0M415.4 687.3h0M425.6 625.2h0M430.7 625.4h0M438.3 644.3h0M438.9 642.8h0M440.1 640.3h0M433.8 645.8h0M429.1 645.1h0M445.1 628.5h0M501.2 605.7h0M501.9 604.8h0M517.8 629.3h0M502.6 613.8h0M502.9 636.1h0M485.6 612.8h0M492.3 683.5h0M487.0 698.2h0M491.1 670.7h0M492.8 667.6h0M499.8 668.7h0M506.3 676.3h0M489.8 681.1h0M478.1 701.4h0M479.4 701.8h0M454.7 698.4h0M453.7 701.9h0M458.6 707.4h0M459.9 709.0h0M465.4 706.0h0M466.6 705.6h0M447.9 692.8h0M454.5 674.9h0M458.7 690.0h0M471.8 681.7h0M469.8 681.7h0M442.5 707.1h0M472.6 681.9h0M498.6 646.0h0M507.0 640.7h0M512.2 644.4h0M513.3 644.8h0M497.9 666.6h0M508.5 673.9h0M511.0 671.5h0M484.0 658.8h0M425.8 661.3h0M433.9 656.9h0M440.3 666.7h0M419.0 656.1h0M423.7 660.0h0M436.5 649.1h0M443.6 627.9h0M445.7 624.6h0M446.4 617.6h0M473.1 618.7h0M458.7 617.2h0M482.3 625.5h0M477.1 617.3h0M481.5 612.9h0M479.5 614.0h0M455.1 607.1h0M460.0 647.9h0M453.9 655.3h0M453.6 655.6h0M476.1 675.6h0M459.8 648.2h0M449.7 652.9h0M453.7 655.7h0" stroke="#E8281C" stroke-width="0.40" stroke-linecap="round" fill="none" /><path d="M508.3 700.1h0M511.2 681.7h0M502.8 703.1h0M503.2 702.9h0M506.0 700.7h0M411.3 699.7h0M414.0 689.6h0M413.7 680.2h0M414.3 683.1h0M421.5 623.0h0M420.2 628.6h0M415.1 652.6h0M421.4 647.0h0M423.4 645.5h0M411.5 648.5h0M421.4 640.0h0M419.4 603.5h0M461.3 634.1h0M469.2 629.6h0M473.6 639.8h0M490.9 643.4h0M484.7 637.6h0M482.1 635.5h0M475.7 636.8h0M473.8 643.8h0M480.1 657.6h0M416.1 677.8h0M425.5 701.0h0M426.0 697.9h0M427.8 691.0h0M429.2 688.7h0M439.9 706.8h0M430.6 688.7h0M423.3 604.4h0M429.8 607.5h0M429.4 609.7h0M429.6 610.5h0M429.0 613.4h0M426.0 644.8h0M440.3 630.8h0M440.1 629.6h0M452.4 628.6h0M447.2 628.8h0M443.4 629.0h0M507.7 633.3h0M505.4 627.1h0M504.3 622.7h0M504.1 619.9h0M495.7 627.7h0M495.9 617.4h0M486.6 606.2h0M485.8 608.3h0M488.0 693.4h0M493.0 667.4h0M489.8 672.2h0M495.5 667.7h0M498.7 666.6h0M503.8 672.8h0M489.3 683.8h0M458.6 693.6h0M459.5 693.5h0M466.9 697.4h0M454.0 699.5h0M470.2 702.8h0M470.8 703.0h0M440.9 687.9h0M446.2 672.9h0M452.1 672.5h0M456.2 677.5h0M460.3 686.2h0M463.8 682.7h0M470.9 694.7h0M471.7 697.4h0M450.8 703.5h0M501.4 653.5h0M499.9 651.3h0M499.0 645.8h0M508.2 675.5h0M498.3 644.4h0M492.4 667.2h0M485.4 660.2h0M483.7 629.4h0M424.3 668.0h0M424.3 662.6h0M434.5 672.4h0M438.3 670.4h0M436.8 659.8h0M442.1 670.3h0M420.8 673.3h0M420.8 657.2h0M436.1 651.6h0M446.7 618.1h0M468.4 622.2h0M470.9 620.1h0M465.2 623.2h0M459.1 617.8h0M456.0 612.9h0M469.1 605.4h0M482.3 624.0h0M480.8 621.4h0M476.7 616.7h0M483.1 611.2h0M463.1 668.3h0M452.9 656.6h0M476.9 677.1h0M475.6 673.2h0M448.1 651.7h0M452.3 655.3h0" stroke="#B01A12" stroke-width="0.40" stroke-linecap="round" fill="none" /><path d="M509.8 700.2h0M513.7 681.9h0M505.8 699.9h0M416.1 703.2h0M410.5 697.0h0M415.1 687.8h0M422.2 624.9h0M419.4 620.6h0M414.7 615.7h0M412.7 630.3h0M419.4 649.6h0M420.0 648.5h0M419.7 636.3h0M416.4 608.6h0M461.4 640.6h0M461.2 643.0h0M463.2 643.5h0M474.1 636.6h0M492.6 644.4h0M439.0 709.7h0M440.9 703.4h0M432.8 688.6h0M420.2 686.6h0M420.8 686.5h0M428.5 607.3h0M423.4 625.9h0M429.7 608.2h0M429.1 612.0h0M437.2 645.4h0M435.0 645.9h0M431.1 646.0h0M428.4 644.8h0M437.3 628.8h0M457.0 643.4h0M460.5 629.6h0M441.4 628.6h0M443.7 627.9h0M515.8 605.6h0M514.1 613.2h0M517.3 630.2h0M511.6 633.6h0M508.4 613.9h0M499.0 632.7h0M498.5 616.5h0M483.6 610.4h0M491.2 682.9h0M489.3 683.3h0M488.1 688.3h0M488.0 690.3h0M505.8 677.0h0M491.4 670.2h0M489.4 674.5h0M498.5 666.7h0M483.7 705.2h0M460.2 694.4h0M467.7 698.0h0M473.1 700.2h0M451.9 694.3h0M458.2 680.2h0M466.0 682.4h0M471.7 684.9h0M439.1 709.4h0M449.2 704.1h0M479.3 677.6h0M507.4 660.1h0M509.7 660.8h0M513.2 661.8h0M513.8 662.0h0M514.6 646.5h0M488.3 663.4h0M483.3 634.5h0M483.6 633.2h0M483.7 631.0h0M505.6 637.6h0M427.1 672.5h0M439.2 671.2h0M442.0 670.8h0M431.4 658.7h0M433.1 657.6h0M439.3 664.3h0M426.4 679.8h0M438.4 605.7h0M473.9 618.5h0M463.9 603.8h0M462.7 604.6h0M455.0 608.4h0M448.2 615.5h0M452.9 612.0h0M475.8 660.2h0M475.9 660.4h0M469.3 654.6h0M468.5 653.6h0M464.3 650.6h0M461.4 669.4h0M455.9 669.2h0M454.7 668.6h0M454.8 663.0h0M476.7 659.1h0M476.5 676.5h0" stroke="#D02018" stroke-width="0.40" stroke-linecap="round" fill="none" /><path d="M511.3 700.1h0M516.7 699.1h0M414.0 701.6h0M426.9 709.5h0M427.7 710.1h0M412.5 693.0h0M413.3 690.6h0M417.6 618.8h0M417.6 630.9h0M416.4 631.2h0M410.7 613.8h0M415.2 652.3h0M416.6 607.8h0M413.7 612.3h0M461.3 642.1h0M462.4 643.9h0M469.1 641.8h0M465.6 625.3h0M473.1 641.3h0M489.6 642.1h0M485.7 639.2h0M473.8 643.4h0M475.3 646.8h0M475.6 649.0h0M478.5 657.7h0M500.2 710.3h0M500.4 708.5h0M415.9 679.0h0M440.3 699.0h0M441.1 697.7h0M441.5 688.9h0M426.1 686.6h0M440.6 640.3h0M431.5 626.0h0M445.1 638.6h0M447.4 639.5h0M449.8 640.6h0M456.1 643.2h0M459.3 629.3h0M444.7 627.9h0M514.2 613.6h0M514.2 611.4h0M516.2 631.4h0M510.3 634.4h0M507.6 614.0h0M505.7 638.1h0M500.9 634.1h0M494.7 626.1h0M505.4 638.2h0M502.4 613.5h0M487.1 604.8h0M494.9 617.6h0M492.9 616.4h0M486.3 613.0h0M483.9 611.7h0M487.4 697.6h0M486.6 698.7h0M507.1 679.8h0M505.5 674.7h0M453.5 701.1h0M456.6 705.0h0M442.1 684.8h0M452.5 673.2h0M459.8 683.2h0M470.9 691.6h0M443.6 707.0h0M445.8 705.6h0M450.2 703.6h0M485.0 680.9h0M499.4 649.8h0M502.8 640.6h0M505.4 639.0h0M499.5 664.1h0M499.6 663.5h0M515.1 667.2h0M516.1 663.8h0M487.2 663.1h0M483.5 626.8h0M434.8 672.4h0M436.7 671.7h0M439.7 671.2h0M435.9 657.0h0M436.6 658.0h0M424.4 671.8h0M417.2 654.2h0M427.7 686.6h0M428.2 685.7h0M426.7 681.0h0M426.1 679.1h0M426.0 674.6h0M442.0 671.5h0M436.2 650.0h0M435.7 651.1h0M446.4 623.1h0M467.3 624.1h0M470.4 620.4h0M472.7 619.4h0M479.6 619.7h0M454.4 611.5h0M482.1 612.4h0M477.3 614.6h0M452.8 604.0h0M474.5 662.8h0M475.0 659.1h0M470.6 666.0h0M454.1 669.0h0M454.5 664.9h0M459.1 650.2h0M455.8 654.2h0M475.2 669.6h0M439.5 647.3h0M442.3 648.5h0M448.7 652.5h0" stroke="#E02A1A" stroke-width="0.40" stroke-linecap="round" fill="none" /><path d="M514.5 699.7h0M515.4 699.5h0M518.2 698.5h0M506.5 681.0h0M516.3 682.9h0M423.5 705.7h0M422.1 705.3h0M412.0 700.3h0M415.5 687.9h0M417.4 617.5h0M414.0 613.2h0M414.2 631.0h0M410.1 613.4h0M411.6 613.1h0M417.4 651.6h0M418.3 650.5h0M414.1 650.6h0M413.4 650.1h0M421.3 638.8h0M421.0 638.7h0M420.9 637.8h0M419.2 635.0h0M419.3 633.6h0M418.6 632.4h0M418.2 605.4h0M415.0 610.7h0M518.1 629.5h0M518.0 629.5h0M461.0 638.1h0M461.4 638.7h0M461.4 644.0h0M468.9 629.4h0M470.7 631.6h0M471.3 633.1h0M472.1 634.0h0M482.8 635.4h0M477.9 635.6h0M473.4 642.3h0M475.4 647.5h0M476.9 653.4h0M499.7 711.4h0M499.9 710.7h0M417.3 674.6h0M417.9 673.0h0M413.2 668.8h0M411.0 658.4h0M413.1 657.5h0M414.1 657.0h0M415.1 654.2h0M424.4 705.1h0M429.5 688.4h0M440.7 696.8h0M440.8 694.0h0M441.5 692.9h0M441.6 690.1h0M438.3 688.4h0M437.2 688.4h0M419.3 686.9h0M421.8 686.5h0M424.0 605.8h0M425.0 606.0h0M423.7 625.7h0M429.6 626.2h0M429.2 612.7h0M429.4 619.3h0M429.6 621.0h0M430.1 624.7h0M436.3 646.6h0M430.4 645.1h0M424.2 645.3h0M439.7 634.4h0M439.5 632.3h0M442.9 637.8h0M443.4 638.1h0M446.3 639.3h0M452.6 641.7h0M454.0 641.5h0M454.6 642.3h0M458.6 643.4h0M454.0 629.4h0M461.0 642.8h0M503.7 604.6h0M514.1 614.5h0M513.6 613.9h0M515.0 606.5h0M514.3 610.2h0M516.8 630.9h0M512.9 633.0h0M513.4 613.7h0M512.2 614.1h0M507.4 614.2h0M504.8 614.5h0M507.0 631.9h0M506.5 630.9h0M505.7 629.5h0M504.9 626.3h0M503.5 619.5h0M503.8 617.0h0M504.3 615.7h0M504.6 637.6h0M498.3 632.1h0M498.8 631.4h0M497.5 630.6h0M496.4 629.7h0M508.1 634.7h0M497.6 617.7h0M485.2 608.7h0M483.6 610.9h0M494.1 617.1h0M492.0 615.5h0M490.3 614.8h0M489.4 614.1h0M492.2 683.5h0M488.4 684.5h0M499.1 667.8h0M501.9 671.4h0M503.2 671.6h0M505.1 674.4h0M487.5 681.2h0M483.1 702.7h0M486.4 699.7h0M461.0 695.2h0M461.7 695.6h0M462.6 696.3h0M462.7 696.5h0M455.4 695.9h0M454.3 699.1h0M454.8 703.3h0M464.8 706.9h0M473.6 701.4h0M474.5 701.8h0M441.6 689.0h0M444.3 690.9h0M449.3 693.8h0M452.7 694.8h0M453.9 694.9h0M441.9 685.6h0M443.1 682.7h0M443.8 680.8h0M444.6 675.9h0M445.1 675.2h0M445.1 674.3h0M454.1 674.1h0M455.7 676.3h0M457.3 678.5h0M458.2 680.8h0M459.1 682.5h0M460.1 688.2h0M460.9 683.8h0M471.5 686.7h0M470.7 690.6h0M470.9 693.0h0M471.4 695.4h0M438.4 709.5h0M446.3 704.5h0M453.2 702.9h0M480.5 678.7h0M505.9 660.1h0M510.9 661.3h0M511.5 661.7h0M502.9 659.8h0M500.2 652.0h0M498.7 644.9h0M497.9 645.0h0M503.9 639.4h0M502.2 641.1h0M501.5 641.8h0M500.2 642.9h0M507.7 641.3h0M510.5 643.6h0M515.5 646.7h0M499.7 665.2h0M499.7 662.9h0M501.5 660.5h0M507.1 675.8h0M509.6 674.0h0M509.7 672.4h0M497.0 646.0h0M483.3 632.8h0M483.4 631.4h0M424.2 670.5h0M424.6 667.2h0M424.5 665.7h0M424.5 661.5h0M424.4 671.9h0M429.3 673.2h0M429.3 673.3h0M430.9 672.5h0M431.9 672.2h0M437.0 671.3h0M432.1 658.3h0M438.5 662.0h0M439.6 665.1h0M439.8 665.6h0M440.8 667.5h0M414.8 652.4h0M418.1 655.6h0M427.4 683.8h0M426.9 681.9h0M425.9 676.3h0M445.9 673.2h0M437.3 647.1h0M435.8 653.8h0M435.9 606.1h0M444.4 626.3h0M446.8 619.6h0M466.0 623.5h0M460.4 619.9h0M460.0 618.9h0M457.7 615.4h0M456.8 614.7h0M455.2 611.5h0M470.6 607.3h0M474.9 612.0h0M476.3 613.3h0M459.8 605.1h0M458.3 605.6h0M476.4 616.9h0M476.1 614.4h0M478.6 617.9h0M452.5 612.1h0M452.8 603.9h0M454.0 605.6h0M473.9 663.7h0M474.8 658.9h0M472.3 656.4h0M465.7 651.8h0M460.9 648.8h0M460.5 668.9h0M458.4 668.8h0M454.6 663.5h0M454.1 660.0h0M453.7 658.6h0M454.1 657.4h0M458.5 651.2h0M475.9 659.3h0M459.6 646.8h0" stroke="#F03A20" stroke-width="0.80" stroke-linecap="round" fill="none" /><path d="M512.4 681.7h0M518.0 682.8h0M505.3 701.5h0M422.5 705.5h0M417.8 704.0h0M412.8 701.8h0M409.9 699.1h0M425.6 708.0h0M428.4 710.4h0M410.2 697.5h0M411.9 695.5h0M413.4 692.2h0M413.9 680.5h0M415.2 686.8h0M422.2 623.7h0M420.6 621.1h0M416.3 616.6h0M421.8 627.8h0M413.9 612.3h0M415.1 651.1h0M413.0 649.4h0M422.5 643.2h0M415.4 609.6h0M414.4 611.2h0M460.3 635.2h0M460.6 637.4h0M467.2 642.4h0M471.6 641.5h0M472.4 641.8h0M469.6 630.1h0M473.0 634.7h0M474.5 638.3h0M494.6 645.5h0M485.6 638.1h0M479.2 635.3h0M476.5 652.3h0M478.0 656.3h0M416.9 676.8h0M415.6 671.5h0M410.2 665.5h0M426.4 696.1h0M426.6 694.2h0M439.9 705.2h0M440.1 703.8h0M441.2 691.4h0M439.9 688.8h0M435.5 688.6h0M422.5 686.6h0M424.6 686.2h0M427.0 687.3h0M428.0 687.2h0M422.1 603.8h0M427.6 607.3h0M422.8 626.6h0M426.5 625.7h0M429.4 608.6h0M428.9 611.5h0M429.2 618.3h0M429.4 620.4h0M436.6 645.8h0M434.2 645.9h0M441.2 637.7h0M440.3 636.4h0M430.3 625.1h0M432.3 626.4h0M435.9 628.4h0M448.7 639.9h0M449.4 640.1h0M459.1 629.8h0M458.4 629.1h0M457.4 628.9h0M456.3 629.3h0M451.8 629.3h0M450.8 629.0h0M443.8 627.5h0M515.1 616.2h0M514.4 615.1h0M517.0 603.8h0M510.0 614.1h0M504.0 614.3h0M507.3 633.0h0M505.9 628.3h0M494.8 627.1h0M485.2 612.3h0M504.1 683.2h0M501.9 684.1h0M499.6 683.7h0M489.9 683.5h0M487.9 692.7h0M487.6 693.9h0M488.1 694.9h0M506.4 676.4h0M491.7 669.2h0M488.5 677.0h0M487.4 681.5h0M494.6 667.5h0M484.7 706.9h0M475.2 702.3h0M477.3 701.9h0M479.9 702.1h0M482.3 701.8h0M485.6 699.2h0M458.2 693.9h0M464.8 697.2h0M465.7 697.4h0M468.6 698.0h0M472.3 698.7h0M460.4 708.9h0M463.0 707.5h0M468.6 703.9h0M472.6 702.1h0M472.3 699.9h0M441.2 687.1h0M443.3 681.9h0M444.4 679.4h0M446.0 673.0h0M455.2 675.8h0M459.1 689.7h0M459.0 691.1h0M470.2 682.3h0M468.8 681.6h0M465.2 682.7h0M463.3 683.0h0M462.0 683.3h0M470.5 692.4h0M471.5 696.7h0M472.6 698.3h0M451.7 702.9h0M454.1 702.7h0M475.2 701.9h0M485.1 681.0h0M483.5 679.7h0M482.3 678.9h0M473.2 681.1h0M475.7 679.8h0M476.4 678.7h0M504.1 659.6h0M508.0 660.6h0M502.3 658.5h0M501.5 654.9h0M499.7 643.2h0M499.4 643.8h0M506.5 639.8h0M508.9 641.8h0M516.5 663.2h0M513.1 669.9h0M513.6 668.9h0M515.4 665.5h0M498.6 644.1h0M490.6 665.7h0M490.1 665.3h0M489.3 664.9h0M486.9 662.5h0M485.9 661.1h0M483.2 627.9h0M505.0 638.8h0M424.0 663.9h0M425.6 672.4h0M428.2 673.3h0M431.7 672.8h0M425.3 661.2h0M426.5 661.2h0M428.2 660.4h0M424.2 661.5h0M427.1 683.2h0M436.2 648.2h0M435.7 652.7h0M435.7 655.5h0M431.5 607.3h0M434.4 606.1h0M439.2 603.6h0M437.9 606.0h0M469.2 621.2h0M476.0 617.7h0M468.1 604.8h0M472.5 609.1h0M477.2 614.5h0M461.8 604.7h0M459.5 605.4h0M457.6 605.6h0M456.1 606.9h0M456.2 606.9h0M455.3 608.0h0M454.6 611.3h0M479.3 618.8h0M478.0 618.1h0M453.7 611.3h0M478.4 614.7h0M452.8 605.5h0M456.1 607.3h0M474.7 661.7h0M472.9 665.1h0M471.7 656.4h0M467.7 652.7h0M466.3 652.4h0M469.1 666.9h0M468.4 667.7h0M465.8 668.3h0M457.2 669.4h0M455.4 669.0h0M454.4 667.1h0M454.3 665.2h0M454.4 662.4h0M454.4 661.0h0M453.9 658.9h0M459.9 648.5h0M458.1 652.5h0M457.0 652.1h0M473.4 667.7h0M472.8 666.9h0M460.1 645.9h0M437.5 646.3h0M447.3 651.5h0M450.2 654.0h0M451.4 654.5h0M453.0 655.1h0" stroke="#E02A1A" stroke-width="0.80" stroke-linecap="round" fill="none" /><circle cx="437.52" cy="646.27" r="0.58" fill="#EE2E1E" /><circle cx="437.35" cy="645.72" r="1.20" fill="#EE2E1E" /><circle cx="424.43" cy="705.54" r="0.80" fill="#EE2E1E" /><circle cx="504.13" cy="683.27" r="0.91" fill="#EE2E1E" /><circle cx="502.78" cy="702.87" r="0.61" fill="#EE2E1E" /><circle cx="505.98" cy="699.47" r="1.20" fill="#EE2E1E" /><circle cx="506.73" cy="680.83" r="1.19" fill="#EE2E1E" /><circle cx="414.99" cy="652.30" r="1.17" fill="#EE2E1E" /><circle cx="423.41" cy="645.26" r="1.11" fill="#EE2E1E" /><circle cx="413.43" cy="679.69" r="0.60" fill="#EE2E1E" /><circle cx="415.59" cy="687.24" r="0.62" fill="#EE2E1E" /><circle cx="422.58" cy="626.59" r="0.94" fill="#EE2E1E" /><circle cx="418.16" cy="631.05" r="0.58" fill="#EE2E1E" /><circle cx="416.20" cy="631.32" r="1.17" fill="#EE2E1E" /><circle cx="413.83" cy="612.40" r="0.75" fill="#EE2E1E" /><circle cx="440.78" cy="637.39" r="1.18" fill="#EE2E1E" /><circle cx="460.84" cy="629.52" r="0.78" fill="#EE2E1E" /><circle cx="460.28" cy="644.09" r="1.11" fill="#EE2E1E" /><circle cx="460.76" cy="643.53" r="0.98" fill="#EE2E1E" /><circle cx="466.18" cy="625.94" r="0.66" fill="#EE2E1E" /><circle cx="494.00" cy="645.04" r="1.18" fill="#EE2E1E" /><circle cx="482.68" cy="635.60" r="0.90" fill="#EE2E1E" /><circle cx="472.48" cy="641.71" r="0.95" fill="#EE2E1E" /><circle cx="474.93" cy="637.43" r="0.71" fill="#EE2E1E" /><circle cx="493.07" cy="667.60" r="0.93" fill="#EE2E1E" /><circle cx="478.67" cy="657.61" r="0.51" fill="#EE2E1E" /><circle cx="481.75" cy="656.99" r="0.78" fill="#EE2E1E" /><circle cx="500.55" cy="703.69" r="0.69" fill="#EE2E1E" /><circle cx="441.37" cy="688.82" r="0.98" fill="#EE2E1E" /><circle cx="498.41" cy="666.61" r="1.19" fill="#EE2E1E" /><circle cx="506.47" cy="676.41" r="1.01" fill="#EE2E1E" /><circle cx="418.39" cy="672.89" r="0.58" fill="#EE2E1E" /><circle cx="414.97" cy="652.58" r="0.97" fill="#EE2E1E" /><circle cx="440.89" cy="687.88" r="0.87" fill="#EE2E1E" /><circle cx="429.28" cy="688.42" r="0.82" fill="#EE2E1E" /><circle cx="428.01" cy="687.36" r="0.76" fill="#EE2E1E" /><circle cx="445.89" cy="673.07" r="0.84" fill="#EE2E1E" /><circle cx="429.60" cy="607.87" r="0.71" fill="#EE2E1E" /><circle cx="430.47" cy="625.27" r="0.66" fill="#EE2E1E" /><circle cx="440.78" cy="629.96" r="1.13" fill="#EE2E1E" /><circle cx="443.74" cy="627.47" r="1.14" fill="#EE2E1E" /><circle cx="501.44" cy="605.84" r="0.80" fill="#EE2E1E" /><circle cx="514.31" cy="613.59" r="0.57" fill="#EE2E1E" /><circle cx="505.33" cy="638.13" r="0.51" fill="#EE2E1E" /><circle cx="508.30" cy="634.53" r="0.81" fill="#EE2E1E" /><circle cx="502.44" cy="613.80" r="1.07" fill="#EE2E1E" /><circle cx="504.10" cy="614.86" r="0.54" fill="#EE2E1E" /><circle cx="483.76" cy="626.87" r="0.67" fill="#EE2E1E" /><circle cx="493.77" cy="625.21" r="0.55" fill="#EE2E1E" /><circle cx="495.05" cy="617.19" r="1.11" fill="#EE2E1E" /><circle cx="483.26" cy="610.94" r="0.72" fill="#EE2E1E" /><circle cx="489.10" cy="683.49" r="0.87" fill="#EE2E1E" /><circle cx="487.65" cy="681.49" r="0.98" fill="#EE2E1E" /><circle cx="475.18" cy="701.79" r="0.75" fill="#EE2E1E" /><circle cx="483.10" cy="701.52" r="0.69" fill="#EE2E1E" /><circle cx="486.49" cy="699.51" r="0.72" fill="#EE2E1E" /><circle cx="472.63" cy="682.27" r="1.20" fill="#EE2E1E" /><circle cx="476.70" cy="677.57" r="1.01" fill="#EE2E1E" /><circle cx="451.50" cy="671.58" r="1.00" fill="#EE2E1E" /><circle cx="459.96" cy="683.92" r="0.51" fill="#EE2E1E" /><circle cx="458.85" cy="693.08" r="0.85" fill="#EE2E1E" /><circle cx="455.75" cy="694.95" r="0.63" fill="#EE2E1E" /><circle cx="453.66" cy="702.71" r="1.10" fill="#EE2E1E" /><circle cx="459.86" cy="708.62" r="0.81" fill="#EE2E1E" /><circle cx="472.16" cy="698.44" r="0.77" fill="#EE2E1E" /><circle cx="474.50" cy="701.43" r="0.90" fill="#EE2E1E" /><circle cx="503.05" cy="659.79" r="0.64" fill="#EE2E1E" /><circle cx="505.11" cy="638.87" r="0.71" fill="#EE2E1E" /><circle cx="498.41" cy="644.36" r="0.84" fill="#EE2E1E" /><circle cx="424.20" cy="671.46" r="0.98" fill="#EE2E1E" /><circle cx="426.08" cy="672.45" r="0.69" fill="#EE2E1E" /><circle cx="424.27" cy="661.21" r="0.77" fill="#EE2E1E" /><circle cx="435.56" cy="655.52" r="1.15" fill="#EE2E1E" /><circle cx="442.17" cy="671.04" r="0.95" fill="#EE2E1E" /><circle cx="436.92" cy="606.36" r="1.03" fill="#EE2E1E" /><circle cx="446.77" cy="617.58" r="1.09" fill="#EE2E1E" /><circle cx="467.04" cy="623.88" r="1.03" fill="#EE2E1E" /><circle cx="476.65" cy="616.92" r="0.81" fill="#EE2E1E" /><circle cx="477.42" cy="614.40" r="1.15" fill="#EE2E1E" /><circle cx="456.13" cy="607.22" r="1.10" fill="#EE2E1E" /><circle cx="454.79" cy="611.34" r="1.06" fill="#EE2E1E" /><circle cx="475.82" cy="659.77" r="1.19" fill="#EE2E1E" /><circle cx="472.10" cy="666.27" r="1.08" fill="#EE2E1E" /><circle cx="454.24" cy="668.69" r="0.55" fill="#EE2E1E" /><circle cx="459.86" cy="648.59" r="0.63" fill="#EE2E1E" /><circle cx="453.46" cy="655.55" r="0.81" fill="#EE2E1E" /><path d="M487.7 701.6h0M432.6 685.0h0M491.0 705.2h0M413.6 665.9h0M473.6 687.7h0M434.9 636.6h0M506.1 648.3h0M456.0 627.0h0M493.1 691.8h0M484.8 642.3h0M470.9 692.0h0M477.8 673.3h0M510.2 688.2h0M473.4 620.8h0M510.6 702.2h0M467.8 606.1h0M455.2 628.5h0M499.0 635.3h0M452.7 613.7h0M457.3 672.8h0M448.9 632.6h0M425.7 677.8h0M456.9 645.7h0M465.8 636.6h0M492.2 681.6h0M501.5 685.9h0M432.9 679.6h0M510.1 657.7h0M496.9 611.6h0M448.8 622.7h0M437.3 664.1h0M456.1 614.3h0M434.9 676.4h0M508.5 637.8h0M447.0 676.1h0M433.4 701.9h0M508.3 705.4h0M507.1 695.6h0M476.7 668.8h0M425.0 612.9h0M454.9 656.3h0M459.4 665.4h0M413.6 627.0h0M479.9 679.3h0M486.3 688.9h0M423.0 669.6h0M479.7 637.0h0M469.9 628.7h0M460.9 674.3h0M417.2 679.3h0M433.3 641.8h0M414.1 660.6h0M500.0 641.9h0M515.0 652.6h0M445.2 615.6h0M474.1 622.5h0M437.1 665.8h0M502.4 687.6h0M506.6 696.6h0M450.4 676.1h0M511.6 626.7h0M436.3 611.0h0" stroke="#B81A12" stroke-width="0.80" stroke-linecap="round" fill="none" /><path d="M427.4 654.8h0M450.1 660.0h0M438.7 658.1h0M457.4 611.6h0M485.3 661.4h0M452.1 616.0h0M435.3 674.6h0M447.4 622.2h0M419.3 674.6h0M483.3 707.7h0M470.3 618.2h0M502.0 637.8h0M460.3 655.0h0M514.2 701.9h0M471.2 660.7h0M464.6 666.8h0M454.7 652.2h0M496.7 608.9h0M431.8 704.1h0M483.2 615.3h0M502.4 667.8h0M474.4 645.5h0M436.1 702.3h0M514.5 646.9h0M472.1 676.2h0M473.5 676.8h0M495.4 633.6h0M445.2 694.5h0" stroke="#B81A12" stroke-width="1.20" stroke-linecap="round" fill="none" /></g>
<rect x="494.70" y="702.00" width="18.80" height="2.20" fill="#fff" />
<text x="504.00" y="698.90" font-size="5.0" font-weight="bold" text-anchor="middle" fill="#fff">500μm</text>
<text x="316.40" y="597.70" font-size="13.6" font-weight="bold">RKIP<tspan font-size="8.8" dy="-4.6">+/+</tspan><tspan dy="4.6"> CM</tspan></text>
<text x="431.40" y="596.10" font-size="13.6" font-weight="bold">RKIP<tspan font-size="8.8" dy="-4.6">−/−</tspan><tspan dy="4.6"> CM</tspan></text>
<path d="M614.20,677.00 L614.20,653.67 L628.90,653.67 L628.90,677.00" fill="#fff" stroke="#000" stroke-width="1.0" />
<path d="M637.00,677.00 L637.00,628.81 L651.70,628.81 L651.70,677.00" fill="#fff" stroke="#EE2F3A" stroke-width="1.0" />
<line x1="621.50" y1="653.67" x2="621.50" y2="652.14" stroke="#000" stroke-width="0.8" /><line x1="619.50" y1="652.14" x2="623.50" y2="652.14" stroke="#000" stroke-width="0.8" />
<line x1="644.30" y1="628.81" x2="644.30" y2="625.22" stroke="#EE2F3A" stroke-width="0.8" /><line x1="642.30" y1="625.22" x2="646.30" y2="625.22" stroke="#EE2F3A" stroke-width="0.8" />
<circle cx="618.00" cy="654.96" r="1.70" fill="none" stroke="#000" stroke-width="0.8" />
<circle cx="620.50" cy="652.90" r="1.70" fill="none" stroke="#000" stroke-width="0.8" />
<circle cx="624.00" cy="651.37" r="1.70" fill="none" stroke="#000" stroke-width="0.8" />
<circle cx="625.30" cy="654.19" r="1.70" fill="none" stroke="#000" stroke-width="0.8" />
<circle cx="617.00" cy="655.98" r="1.70" fill="none" stroke="#000" stroke-width="0.8" />
<circle cx="644.30" cy="623.68" r="1.70" fill="none" stroke="#EE2F3A" stroke-width="0.75" />
<circle cx="641.80" cy="627.78" r="1.70" fill="none" stroke="#EE2F3A" stroke-width="0.75" />
<circle cx="640.30" cy="629.83" r="1.70" fill="none" stroke="#EE2F3A" stroke-width="0.75" />
<circle cx="647.10" cy="630.86" r="1.70" fill="none" stroke="#EE2F3A" stroke-width="0.75" />
<circle cx="648.80" cy="631.37" r="1.70" fill="none" stroke="#EE2F3A" stroke-width="0.75" />
<text x="644.40" y="610.80" font-size="6.8" font-weight="bold" text-anchor="middle" fill="#222">**</text>
<line x1="606.30" y1="600.20" x2="606.30" y2="677.50" stroke="#000" stroke-width="1.1" />
<line x1="605.80" y1="677.00" x2="659.00" y2="677.00" stroke="#000" stroke-width="1.1" />
<line x1="604.10" y1="600.10" x2="606.30" y2="600.10" stroke="#000" stroke-width="1.0" />
<text x="603.10" y="603.10" font-size="8.4" font-weight="bold" text-anchor="end">1500</text>
<line x1="604.10" y1="625.73" x2="606.30" y2="625.73" stroke="#000" stroke-width="1.0" />
<text x="603.10" y="628.73" font-size="8.4" font-weight="bold" text-anchor="end">1000</text>
<line x1="604.10" y1="651.37" x2="606.30" y2="651.37" stroke="#000" stroke-width="1.0" />
<text x="603.10" y="654.37" font-size="8.4" font-weight="bold" text-anchor="end">500</text>
<line x1="604.10" y1="677.00" x2="606.30" y2="677.00" stroke="#000" stroke-width="1.0" />
<text x="603.10" y="680.00" font-size="8.4" font-weight="bold" text-anchor="end">0</text>
<line x1="621.50" y1="677.00" x2="621.50" y2="679.60" stroke="#000" stroke-width="1.0" />
<line x1="644.30" y1="677.00" x2="644.30" y2="679.60" stroke="#000" stroke-width="1.0" />
<text x="570.30" y="637.00" font-size="8.6" font-weight="bold" text-anchor="middle" transform="rotate(-90 570.30 637.00)">Cumulative tube</text>
<text x="580.50" y="637.00" font-size="8.6" font-weight="bold" text-anchor="middle" transform="rotate(-90 580.50 637.00)">length/FV(μm)</text>
<text x="624.00" y="687.50" font-size="8.4" font-weight="bold" text-anchor="end" transform="rotate(-45 624.00 687.50)">RKIP<tspan font-size="5.6" dy="-3.2">+/+</tspan><tspan dy="3.2"> CM</tspan></text>
<text x="646.80" y="687.50" font-size="8.4" font-weight="bold" text-anchor="end" transform="rotate(-45 646.80 687.50)">RKIP<tspan font-size="5.6" dy="-3.2">-/-</tspan><tspan dy="3.2"> CM</tspan></text>
<rect x="28.00" y="761.80" width="29.60" height="199.20" fill="#fff" stroke="#000" stroke-width="1.0" />
<text x="48.60" y="862.00" font-size="16.6" font-weight="bold" text-anchor="middle" transform="rotate(-90 48.60 862.00)"><tspan fill="#E8222A">Emcn</tspan>/<tspan fill="#22BB22">CD31</tspan>/<tspan fill="#2222DD">DAPI</tspan></text>
<text x="114.60" y="756.60" font-size="14.1" font-weight="bold">RKIP<tspan font-size="8.2" dy="-4.7" font-style="italic">f/f</tspan></text>
<text x="279.70" y="756.50" font-size="14.1" font-weight="bold">RKIP<tspan font-size="8.2" dy="-4.4">LysM</tspan></text>
<rect x="65.80" y="761.70" width="113.20" height="140.70" fill="#000" />
<rect x="65.80" y="904.70" width="113.20" height="56.30" fill="#000" />
<rect x="181.10" y="761.70" width="37.10" height="140.70" fill="#000" />
<rect x="181.10" y="904.70" width="37.10" height="56.30" fill="#000" />
<rect x="225.50" y="761.70" width="113.10" height="140.70" fill="#000" />
<rect x="225.50" y="904.70" width="113.10" height="56.30" fill="#000" />
<rect x="341.00" y="761.70" width="36.90" height="140.70" fill="#000" />
<rect x="341.00" y="904.70" width="36.90" height="56.30" fill="#000" />
<defs><filter id="kb" x="-10%" y="-10%" width="120%" height="120%"><feGaussianBlur stdDeviation="0.45"/></filter><filter id="kb2" x="-10%" y="-10%" width="120%" height="120%"><feGaussianBlur stdDeviation="1.2"/></filter><clipPath id="cm1"><rect x="65.8" y="761.7" width="113.2" height="140.69999999999993"/></clipPath><clipPath id="cm1b"><rect x="65.8" y="904.7" width="113.2" height="56.299999999999955"/></clipPath><clipPath id="cm2"><rect x="225.5" y="761.7" width="113.10000000000002" height="140.69999999999993"/></clipPath><clipPath id="cm2b"><rect x="225.5" y="904.7" width="113.10000000000002" height="56.299999999999955"/></clipPath><clipPath id="cs1"><rect x="181.1" y="761.7" width="37.099999999999994" height="140.69999999999993"/></clipPath><clipPath id="cs1b"><rect x="181.1" y="904.7" width="37.099999999999994" height="56.299999999999955"/></clipPath><clipPath id="cs2"><rect x="341.0" y="761.7" width="36.89999999999998" height="140.69999999999993"/></clipPath><clipPath id="cs2b"><rect x="341.0" y="904.7" width="36.89999999999998" height="56.299999999999955"/></clipPath></defs>
<g clip-path="url(#cm1)"><g filter="url(#kb)"><path d="M117.5 771.2h0M107.3 810.3h0M115.0 766.0h0M123.1 804.6h0M172.9 765.7h0M144.5 781.5h0M104.5 784.8h0M176.1 831.3h0M101.4 774.0h0M148.2 775.2h0M126.8 821.6h0M126.1 827.6h0M109.8 811.2h0M92.8 774.6h0M177.8 771.5h0M144.8 836.5h0M126.7 830.1h0M113.0 820.3h0M105.7 776.1h0M143.7 843.2h0M115.6 820.5h0M162.1 845.0h0M175.2 840.5h0M115.2 812.7h0M170.6 769.6h0M133.7 836.1h0M167.2 793.3h0M178.9 837.9h0M115.9 786.8h0M142.8 839.1h0M144.0 836.9h0M166.1 814.9h0M135.4 842.9h0M152.3 837.0h0M168.5 843.4h0M163.0 842.7h0M150.6 824.1h0M173.0 838.6h0M119.4 791.7h0M132.3 791.0h0M112.1 762.9h0M115.2 779.1h0M109.8 812.1h0M105.4 806.5h0M132.2 815.7h0M103.8 797.4h0M141.9 840.7h0M120.9 762.5h0M121.1 832.8h0M142.3 767.3h0M95.9 775.3h0M155.1 821.7h0M152.8 798.4h0M141.5 779.0h0M97.0 787.9h0M123.7 829.1h0M109.3 798.3h0M134.7 849.1h0" stroke="#1E6A1E" stroke-width="1.20" stroke-linecap="round" fill="none" /><path d="M90.7 766.2h0M135.8 797.6h0M100.2 789.7h0M176.1 841.2h0M137.6 782.1h0M169.8 775.3h0M119.4 815.5h0M170.6 795.1h0M154.9 779.3h0M130.1 762.2h0M117.7 790.4h0M107.3 809.1h0M140.6 798.4h0" stroke="#3CB43C" stroke-width="0.40" stroke-linecap="round" fill="none" /><path d="M140.1 809.6h0M115.2 821.8h0M99.5 771.4h0M140.1 836.4h0M122.8 769.5h0M167.6 818.2h0M122.5 824.3h0M122.6 786.6h0M105.8 804.2h0M114.6 763.9h0M108.9 767.3h0M95.1 775.5h0M114.2 773.2h0M127.2 833.2h0M101.7 772.9h0M113.1 783.9h0M135.5 816.6h0M130.2 830.1h0M107.3 808.3h0M141.7 781.3h0M129.5 840.3h0M152.6 837.9h0M104.9 787.8h0M148.0 793.4h0M100.4 767.2h0M115.5 777.8h0M119.9 800.6h0M157.2 842.4h0M178.2 836.5h0M125.0 831.3h0M126.8 839.2h0M117.8 826.4h0M177.3 839.9h0M103.9 782.7h0M160.8 773.5h0M120.2 815.1h0M110.0 803.6h0M94.1 765.4h0M118.0 803.3h0M141.7 825.5h0M86.5 767.4h0M135.4 845.5h0M130.5 806.3h0M94.6 782.5h0M141.9 792.4h0M113.2 791.4h0M135.8 801.9h0M115.3 810.4h0M135.6 847.9h0M91.3 765.0h0" stroke="#2A8A2A" stroke-width="1.20" stroke-linecap="round" fill="none" /><path d="M149.5 846.5h0M97.6 776.4h0M113.0 804.6h0M159.1 763.9h0M155.7 845.8h0M95.0 777.7h0M113.3 779.4h0M175.4 830.6h0M151.8 834.7h0M114.0 804.0h0M154.3 839.5h0M124.6 780.7h0M111.0 797.9h0M144.2 839.5h0M164.3 808.3h0M132.7 761.7h0M143.7 847.2h0M136.4 831.4h0M126.3 820.4h0M166.0 847.2h0M165.0 844.8h0M155.9 781.6h0M89.8 769.9h0M172.5 846.3h0M84.0 763.4h0M129.5 817.1h0M167.2 838.3h0M171.4 791.5h0M132.7 774.0h0M140.1 767.2h0M107.2 793.8h0M121.6 817.6h0M94.2 772.2h0M108.3 765.1h0M101.7 764.0h0M115.5 768.9h0M97.0 774.7h0M153.1 791.1h0M131.8 781.9h0M163.5 812.0h0M87.4 763.3h0M178.3 773.9h0M124.4 812.3h0M154.5 826.0h0M139.9 843.6h0M170.4 837.2h0M95.3 773.1h0M104.6 780.0h0M85.1 763.3h0M110.6 815.6h0M124.9 788.3h0M113.9 797.3h0M98.4 766.9h0M154.2 810.1h0M151.3 837.5h0M99.2 788.2h0M178.0 839.4h0M119.5 794.6h0M134.0 835.7h0M103.5 795.4h0M106.1 796.6h0M173.1 780.9h0M116.4 769.5h0M172.8 843.3h0M97.7 789.7h0M152.5 845.0h0M126.7 832.0h0M133.2 830.6h0M106.1 790.3h0M113.9 774.7h0M114.7 806.4h0M89.9 768.4h0M87.7 769.2h0M124.1 765.4h0M176.1 765.0h0M116.4 804.4h0M148.2 845.6h0M173.7 810.7h0M144.0 842.3h0M131.1 789.8h0M118.3 793.3h0M105.9 790.2h0M104.7 800.3h0M91.0 768.8h0M93.7 777.6h0M106.0 788.3h0M179.0 841.5h0M142.8 785.2h0" stroke="#2A8A2A" stroke-width="0.80" stroke-linecap="round" fill="none" /><path d="M110.6 793.0h0M121.3 820.2h0M134.2 848.9h0M111.4 769.4h0M131.3 843.9h0M168.3 845.3h0M98.7 787.4h0M157.7 843.8h0M149.2 783.5h0M121.4 781.1h0M98.8 781.8h0M112.4 779.7h0M151.7 835.8h0M101.8 769.3h0M127.3 832.3h0M173.6 796.0h0M96.6 781.0h0M151.9 843.1h0M115.2 802.6h0M173.5 837.0h0M161.3 810.7h0M102.1 787.1h0M106.2 802.8h0M148.4 839.9h0M122.8 772.7h0M92.2 764.4h0M141.6 824.5h0M104.5 806.3h0M152.6 841.9h0M108.3 787.5h0M100.6 767.8h0M112.4 770.7h0M127.2 836.5h0M109.8 783.7h0M172.5 769.5h0M128.9 821.3h0M113.8 817.8h0M164.1 839.8h0M163.4 835.5h0M107.7 789.8h0M134.8 831.8h0M160.7 797.3h0M120.4 772.6h0M121.9 776.1h0M141.9 837.6h0M119.2 827.3h0M134.2 848.6h0M141.6 769.0h0M116.8 794.3h0M96.3 782.8h0M103.4 776.8h0M174.4 776.1h0M129.9 834.7h0M165.3 805.7h0M124.5 799.8h0M139.6 829.3h0M110.1 798.6h0M113.3 771.7h0M132.6 797.6h0M113.4 784.0h0M157.8 843.6h0M158.4 844.5h0" stroke="#48C048" stroke-width="1.20" stroke-linecap="round" fill="none" /><path d="M101.8 782.9h0M89.4 768.7h0M113.7 820.2h0M118.0 807.8h0M118.7 773.1h0M144.4 803.9h0M111.0 763.9h0M96.0 766.0h0M93.5 775.9h0M109.8 769.1h0M146.9 797.1h0M148.1 825.7h0M173.1 769.0h0M106.9 806.6h0M153.6 764.8h0M123.4 771.3h0M160.6 775.9h0M144.1 791.9h0M135.6 836.2h0M100.4 777.0h0M163.9 772.5h0M137.9 766.3h0M108.2 797.2h0M93.9 764.9h0M143.9 838.1h0M140.0 848.8h0M117.4 792.7h0M114.2 767.8h0M124.3 830.4h0M99.1 786.1h0M173.7 827.7h0M111.8 781.2h0M114.5 814.9h0M172.4 777.0h0M98.2 786.9h0M89.4 761.4h0M174.2 847.7h0M164.3 798.3h0M114.4 812.3h0M113.4 790.2h0M151.2 834.8h0M153.3 815.4h0M175.7 808.3h0M149.3 804.9h0M130.6 839.4h0M90.8 763.2h0M154.6 846.7h0M144.0 800.6h0M117.7 795.7h0M105.0 770.7h0M178.0 848.8h0M165.4 787.4h0M105.7 806.3h0M138.2 824.4h0M108.9 798.7h0M86.8 765.2h0M171.1 775.6h0M165.5 840.0h0M147.3 841.5h0M162.7 838.2h0M128.6 836.5h0M131.5 832.6h0M163.8 839.0h0M97.7 789.8h0M124.8 813.3h0M157.5 839.6h0M141.2 835.2h0M111.7 805.0h0M141.9 768.4h0M122.6 765.5h0M114.2 764.4h0M105.0 770.6h0M161.2 762.7h0M164.8 840.8h0M155.0 801.7h0M155.7 837.6h0M112.9 766.8h0M110.3 769.5h0M167.1 769.1h0M110.5 811.9h0M119.9 803.3h0M149.9 768.1h0" stroke="#2F9F2F" stroke-width="0.80" stroke-linecap="round" fill="none" /><path d="M113.8 776.3h0M150.1 816.0h0M117.5 813.6h0M114.5 775.4h0M98.0 770.1h0M111.9 782.4h0M116.4 790.6h0M101.8 794.9h0M111.0 798.6h0M177.9 774.5h0M125.0 776.7h0M117.5 829.7h0M155.9 846.3h0M101.9 774.6h0M95.1 763.8h0M139.5 784.9h0M109.7 796.2h0M134.7 837.7h0M102.1 782.6h0M144.6 835.4h0M116.1 798.6h0M94.4 770.4h0M141.0 777.1h0M138.4 824.8h0M100.0 784.7h0M140.6 840.9h0M101.0 783.4h0M138.6 839.2h0M121.1 802.3h0M166.6 841.3h0M105.9 803.7h0M113.0 822.5h0M109.3 808.7h0M172.8 840.4h0M155.8 829.3h0M170.4 795.0h0M161.4 822.4h0M155.0 790.6h0M93.1 778.4h0M174.3 844.1h0M158.3 836.2h0M155.2 795.2h0M131.3 833.2h0M105.9 767.8h0M136.9 841.7h0M179.0 813.6h0M141.3 836.4h0M102.2 782.8h0M123.9 836.9h0M111.8 815.7h0M90.2 772.5h0M106.0 808.6h0M124.3 830.6h0M173.6 789.8h0M141.9 782.3h0M111.8 819.5h0M117.2 761.5h0M178.5 823.4h0M125.7 808.4h0M108.0 796.9h0M97.2 787.1h0M175.0 815.8h0M100.3 769.1h0M114.4 810.3h0" stroke="#1A5A1A" stroke-width="0.80" stroke-linecap="round" fill="none" /><path d="M129.2 803.6h0M109.0 810.2h0M94.0 780.3h0M173.0 838.3h0M153.7 843.7h0M112.9 761.9h0M117.3 816.3h0M119.0 825.2h0M128.5 830.0h0M163.7 778.1h0M171.2 778.5h0M162.1 844.7h0M113.9 811.4h0M139.7 812.2h0M111.0 792.7h0" stroke="#3AAA3A" stroke-width="0.40" stroke-linecap="round" fill="none" /><path d="M135.8 834.5h0M110.5 790.1h0M117.3 818.2h0M103.8 784.0h0M94.5 766.1h0M167.7 836.1h0M116.9 784.3h0M116.8 792.7h0M124.1 809.6h0M110.0 812.2h0M147.0 842.4h0M101.2 773.1h0M133.9 762.4h0M169.6 841.5h0M178.4 785.5h0M114.8 818.0h0M137.7 836.8h0M113.1 803.0h0M142.8 848.9h0M165.6 790.5h0" stroke="#1E6A1E" stroke-width="0.40" stroke-linecap="round" fill="none" /><path d="M140.7 836.8h0M142.2 764.5h0M150.2 844.2h0M155.5 840.2h0M144.4 845.6h0M133.4 836.4h0M148.0 843.2h0M112.9 823.3h0M154.4 794.9h0M127.2 821.2h0M152.4 833.9h0M173.2 806.2h0M97.5 771.1h0M138.5 810.8h0M164.1 764.2h0M118.6 764.4h0M156.6 842.2h0M121.2 830.1h0M134.8 842.2h0M111.1 781.8h0M155.6 771.5h0M126.1 830.6h0M171.0 775.7h0M135.8 766.3h0M114.6 773.4h0M104.2 792.2h0M102.3 801.1h0M175.3 845.0h0M124.1 832.5h0M157.9 807.6h0M111.4 766.3h0M115.8 826.2h0M167.9 843.8h0M134.4 775.4h0M101.6 795.0h0M96.3 770.6h0M141.0 808.5h0M164.9 766.2h0M127.7 822.5h0M106.8 790.8h0M156.5 802.0h0M101.8 782.1h0M160.3 842.6h0M103.6 789.7h0M106.0 798.8h0M126.7 815.2h0M154.7 838.4h0M158.3 845.9h0M171.1 839.0h0M169.7 821.6h0M162.8 843.2h0M108.4 806.5h0M108.2 791.5h0M160.5 833.4h0M178.5 845.7h0M117.6 824.4h0M170.6 798.9h0M109.0 801.8h0M132.0 797.1h0M170.8 826.1h0M155.0 796.1h0M94.0 773.3h0M137.1 846.2h0M165.2 776.7h0M122.4 821.0h0M173.6 828.1h0M105.8 800.6h0M132.4 839.9h0" stroke="#3CB43C" stroke-width="1.20" stroke-linecap="round" fill="none" /><path d="M106.8 798.8h0M106.2 769.6h0M119.0 764.1h0M116.9 806.2h0M124.3 817.6h0M137.0 818.7h0M98.1 775.3h0M117.3 822.1h0M96.8 766.9h0M143.0 835.7h0M130.5 763.4h0M126.8 805.1h0M124.0 811.6h0M134.2 845.4h0M132.4 827.2h0M163.8 815.5h0M99.1 763.0h0M170.2 836.0h0M95.9 770.8h0M116.2 821.4h0M123.7 820.0h0M124.7 825.0h0M148.8 845.4h0M178.2 842.4h0M135.2 767.2h0M124.0 821.0h0M138.4 808.6h0M114.8 822.5h0M177.9 847.7h0M164.9 782.5h0M161.9 841.6h0M171.5 790.8h0M134.4 835.4h0M128.0 800.2h0M151.8 793.9h0M98.3 790.4h0M149.3 846.4h0M150.5 824.4h0M89.0 768.3h0M132.6 795.5h0M97.7 773.4h0M173.7 780.2h0M122.8 807.0h0M113.0 801.7h0M127.4 828.4h0M170.4 836.3h0M172.8 794.4h0M151.1 773.1h0M106.0 779.1h0M142.9 844.9h0M165.8 828.7h0M111.0 765.2h0M130.5 837.8h0M163.7 834.8h0M105.0 784.9h0M98.8 776.3h0M142.5 807.0h0M148.7 844.7h0M94.1 770.6h0M108.2 771.3h0M174.7 842.3h0M178.7 840.9h0M95.3 771.6h0M154.8 775.3h0M137.1 811.3h0" stroke="#2F9F2F" stroke-width="1.20" stroke-linecap="round" fill="none" /><path d="M104.6 806.4h0M145.9 789.0h0M138.8 836.6h0M134.2 840.6h0M142.2 788.3h0M105.9 807.6h0M145.4 833.5h0M133.3 779.3h0M136.5 842.8h0M108.7 786.8h0M138.4 781.1h0M153.9 838.4h0M96.2 776.7h0M136.9 812.2h0M105.1 805.2h0M105.0 807.3h0M96.9 776.5h0M96.3 769.9h0M96.0 766.3h0M89.5 763.5h0M151.2 780.8h0M111.4 777.5h0M113.0 802.5h0M89.8 762.3h0M107.5 810.7h0M154.7 845.9h0M127.1 777.5h0M168.1 845.1h0M110.7 809.0h0M122.7 788.4h0M112.3 804.4h0M91.3 772.9h0M100.5 770.7h0M149.3 837.1h0M164.8 841.0h0M175.5 826.9h0M148.4 842.7h0M106.9 770.7h0M141.2 840.8h0M107.9 786.3h0M120.2 772.8h0M154.9 845.9h0M169.1 847.4h0M131.9 832.6h0M120.7 782.7h0M124.5 772.8h0M117.3 805.4h0M101.7 783.2h0M155.7 815.6h0M121.7 820.8h0M110.3 810.1h0M109.1 788.9h0M89.4 768.3h0M174.7 804.1h0M116.9 764.4h0M128.7 840.8h0M108.1 789.1h0M130.9 846.4h0M122.3 832.0h0M146.1 785.3h0M139.8 814.1h0M104.7 783.3h0M134.4 843.6h0M97.3 789.8h0M156.9 830.7h0M110.4 819.4h0M178.2 772.7h0M161.0 773.3h0M121.8 797.7h0M136.4 797.2h0M161.3 804.6h0M109.9 819.4h0" stroke="#48C048" stroke-width="0.80" stroke-linecap="round" fill="none" /><path d="M171.1 831.8h0M137.1 844.9h0M169.7 799.3h0M172.7 800.3h0M99.7 763.5h0M144.9 839.0h0M95.8 771.6h0M115.9 824.3h0M167.6 771.5h0M122.9 810.7h0M117.6 798.8h0M111.2 764.8h0M100.8 764.2h0M156.4 843.4h0M176.8 841.0h0M170.4 809.6h0M91.7 768.6h0M103.9 772.1h0M144.7 842.2h0M120.8 812.8h0M162.9 793.2h0M99.9 783.5h0M165.5 846.7h0M156.8 836.0h0M172.1 777.5h0M122.4 762.3h0M160.4 838.3h0M161.9 803.0h0M149.1 774.5h0M171.6 838.3h0M176.0 841.2h0M112.3 767.9h0M142.3 773.1h0M151.3 809.3h0M158.5 846.4h0M124.0 804.4h0M138.3 839.8h0M103.5 774.9h0M98.8 772.4h0M169.7 766.7h0M166.4 836.3h0M105.2 802.6h0M118.0 821.5h0M139.0 844.0h0M112.1 819.3h0M135.0 801.7h0M100.6 791.5h0M102.8 803.4h0M100.0 780.1h0M97.8 762.7h0M152.1 847.0h0M161.8 832.0h0M96.8 778.5h0M98.9 782.9h0M107.2 804.4h0M113.9 805.0h0M154.6 845.4h0M106.3 797.6h0M168.5 846.6h0M127.3 770.7h0M149.6 836.6h0M105.1 800.1h0M122.8 816.1h0M130.1 839.9h0M154.2 794.5h0M135.0 835.0h0M124.9 807.4h0M174.3 769.2h0M102.1 799.9h0M142.4 767.7h0M139.5 837.2h0M174.3 799.4h0M107.5 768.0h0M161.9 837.0h0M119.2 822.8h0M150.9 772.9h0M122.8 810.0h0M170.5 765.8h0M97.3 772.3h0M155.8 846.4h0M144.7 768.5h0M103.1 771.5h0M91.1 770.4h0M162.9 843.6h0M132.3 834.3h0M155.7 817.1h0M173.6 842.9h0M96.7 788.5h0M106.0 805.8h0M115.0 789.8h0M117.8 805.8h0" stroke="#3CB43C" stroke-width="0.80" stroke-linecap="round" fill="none" /><path d="M132.8 845.3h0M170.0 813.1h0M100.5 773.6h0M118.5 789.5h0M156.5 798.2h0M147.2 847.5h0M149.5 836.0h0M112.1 779.0h0M116.3 826.7h0M124.4 767.3h0M105.3 790.1h0M98.7 788.9h0M173.1 837.0h0M131.5 839.8h0M151.5 841.8h0M165.0 782.0h0M153.1 838.6h0M94.6 772.6h0M144.0 846.8h0M104.2 769.7h0M145.5 823.8h0M133.1 797.2h0M162.9 842.6h0M104.7 781.2h0M168.8 838.4h0M105.3 803.9h0M101.9 762.9h0M156.6 840.4h0M113.6 816.9h0M121.7 796.4h0M115.0 822.7h0M114.3 814.2h0M142.2 837.7h0M107.0 796.5h0M154.4 835.2h0M123.1 836.8h0M126.8 764.2h0M120.4 823.4h0M167.9 808.7h0M101.1 778.7h0M173.9 825.6h0M100.1 778.9h0M143.0 834.0h0M101.1 776.5h0M96.0 776.5h0M98.4 766.9h0M168.4 840.3h0M146.0 845.4h0M99.4 782.3h0M128.9 836.0h0M109.7 810.9h0M89.6 772.1h0M124.3 773.0h0M155.3 846.6h0M138.1 825.9h0M133.8 818.0h0M127.2 834.9h0M162.9 775.5h0M132.1 828.7h0M121.7 797.0h0M156.9 840.1h0M129.9 782.8h0M117.7 828.9h0M140.2 799.4h0M104.1 800.5h0M166.1 791.7h0M117.3 811.0h0M113.1 774.6h0M105.9 771.9h0M175.3 813.9h0M124.9 816.6h0" stroke="#3AAA3A" stroke-width="0.80" stroke-linecap="round" fill="none" /><path d="M156.0 836.7h0M127.1 776.6h0M126.5 821.9h0M174.5 840.2h0M109.1 774.6h0M164.0 794.4h0M114.0 769.1h0M113.3 809.3h0M150.6 838.5h0M107.1 786.4h0M122.8 801.9h0M118.0 782.2h0M142.8 788.7h0M127.0 824.2h0M155.7 841.3h0M133.7 776.4h0M171.3 824.9h0M100.1 772.7h0M116.9 806.3h0M167.0 812.3h0M168.3 778.9h0M103.4 794.7h0M113.3 810.8h0M142.8 766.7h0M129.2 836.5h0M115.1 819.0h0M117.0 770.5h0M96.0 785.2h0M89.9 772.0h0M126.1 826.0h0M117.3 820.2h0M104.0 787.9h0M110.8 767.2h0M129.7 819.6h0M140.3 834.0h0M155.0 786.4h0M104.8 777.5h0M154.2 795.5h0M154.0 837.8h0M108.9 790.3h0M109.5 793.1h0M160.5 766.3h0M121.3 830.3h0M137.9 848.2h0M99.4 775.7h0M160.7 833.9h0M108.6 787.6h0M127.1 827.6h0M171.9 837.0h0M106.2 809.4h0M110.8 801.5h0M121.9 787.6h0M98.7 777.2h0M115.6 803.0h0M130.6 835.4h0M99.5 772.0h0M98.7 778.9h0M103.5 787.7h0M153.4 799.5h0M163.2 842.8h0M170.5 842.8h0M152.8 778.2h0M97.9 771.9h0M122.3 826.5h0M123.7 800.8h0M169.4 842.0h0M115.8 810.5h0M138.0 810.3h0M111.0 802.3h0M161.0 791.5h0M124.0 787.0h0M106.3 786.8h0M117.3 827.4h0M95.4 775.7h0M152.5 796.9h0M120.1 820.7h0M136.6 785.6h0M174.9 848.7h0M162.1 810.8h0M125.2 824.0h0M110.8 792.7h0M171.6 806.0h0M145.1 768.4h0M156.9 846.8h0M138.0 839.1h0M129.5 844.9h0" stroke="#1E6A1E" stroke-width="0.80" stroke-linecap="round" fill="none" /><path d="M111.3 763.5h0M119.6 790.2h0M157.5 799.5h0M124.9 822.7h0M140.8 836.1h0M127.5 770.9h0M94.5 770.2h0M110.3 812.9h0M109.7 761.6h0M160.2 842.5h0M158.2 809.2h0M108.4 784.3h0M157.4 835.5h0M175.3 838.3h0M110.4 803.8h0M123.3 826.9h0M139.8 844.5h0M140.7 840.2h0" stroke="#2A8A2A" stroke-width="0.40" stroke-linecap="round" fill="none" /><path d="M171.6 838.2h0M111.3 806.0h0M162.2 820.2h0M87.4 763.8h0M137.2 806.5h0M167.1 767.9h0M108.4 779.6h0M161.3 769.1h0M94.7 778.9h0M108.6 806.6h0M163.2 842.3h0M124.7 833.4h0M122.0 775.5h0M156.0 796.8h0M118.0 798.8h0M155.0 844.5h0M129.6 837.7h0M122.6 816.0h0M153.6 785.9h0M138.8 848.0h0M109.6 771.4h0M147.6 848.0h0M162.8 845.1h0M159.2 841.7h0" stroke="#2F9F2F" stroke-width="0.40" stroke-linecap="round" fill="none" /><path d="M166.8 770.3h0M146.3 843.0h0M116.6 819.5h0M142.1 798.7h0M154.6 837.4h0M133.7 841.0h0M95.4 782.5h0M131.4 834.8h0M114.6 812.5h0M102.4 776.3h0M139.5 792.9h0M119.4 824.5h0M171.9 819.6h0M112.8 806.1h0M92.2 762.4h0M126.3 808.0h0M100.8 774.8h0M144.5 839.1h0M121.9 827.2h0M173.0 842.2h0M147.1 842.5h0M105.9 808.7h0M172.1 794.6h0M173.9 762.3h0M146.6 844.6h0M136.6 842.7h0M115.4 780.2h0M117.9 812.2h0M116.7 824.8h0M104.6 769.9h0M174.2 775.0h0M156.0 840.4h0M107.0 761.4h0M108.9 778.2h0M159.5 838.4h0M128.8 767.9h0M151.0 847.5h0M151.9 788.9h0M146.2 804.1h0" stroke="#1A5A1A" stroke-width="0.40" stroke-linecap="round" fill="none" /><path d="M95.8 774.2h0M154.8 778.1h0M115.6 821.7h0M127.1 816.3h0M104.5 795.3h0M111.7 787.2h0M102.8 791.5h0M110.1 788.7h0M114.6 792.9h0M102.7 797.1h0M175.7 830.1h0M107.5 807.1h0M155.9 809.0h0M148.1 773.9h0M122.5 827.2h0M164.8 846.0h0M159.6 844.3h0M169.7 846.8h0M159.9 835.7h0M102.3 797.3h0M131.9 829.3h0M111.1 795.1h0M142.1 845.0h0M159.8 845.7h0M145.3 804.4h0M161.3 779.7h0M86.2 761.5h0M113.6 791.0h0M167.4 838.9h0M165.2 836.2h0M149.2 807.5h0M109.2 803.2h0M102.0 771.7h0M177.8 818.4h0M172.7 840.2h0M138.1 803.4h0M102.7 797.5h0M128.7 831.9h0M172.4 837.2h0M130.1 841.6h0M89.3 768.5h0M158.9 766.1h0M126.5 829.5h0M106.7 776.5h0M128.7 761.8h0M141.6 781.8h0" stroke="#1A5A1A" stroke-width="1.20" stroke-linecap="round" fill="none" /><path d="M97.5 784.3h0M178.2 844.4h0M159.2 838.2h0M145.6 815.8h0M106.7 806.6h0M100.5 782.7h0M175.2 770.7h0M99.4 782.1h0M146.4 845.8h0M178.6 838.0h0M125.1 808.6h0M128.9 841.9h0M112.1 822.0h0M142.1 845.0h0M99.9 795.8h0M116.2 819.1h0M108.7 804.2h0M108.7 803.1h0M160.7 836.7h0M98.6 789.1h0M137.7 843.9h0M117.3 768.0h0M178.9 827.7h0M178.6 826.6h0M101.1 787.7h0M150.0 809.1h0M114.7 824.5h0M126.7 841.6h0M115.2 772.3h0M88.5 763.8h0M123.3 766.9h0M159.4 840.7h0M114.8 822.4h0M119.0 772.5h0M170.3 847.9h0M106.2 785.2h0M172.8 836.1h0M123.5 832.0h0M102.9 788.5h0M156.7 831.9h0M115.0 808.5h0M127.4 840.6h0M118.8 800.0h0M150.7 837.8h0M169.4 765.6h0M93.5 780.2h0M145.8 842.4h0M123.3 807.7h0M130.8 762.3h0M116.1 785.3h0M142.7 847.5h0M103.4 783.5h0" stroke="#3AAA3A" stroke-width="1.20" stroke-linecap="round" fill="none" /><path d="M97.4 779.2h0M132.6 810.2h0M112.3 805.6h0M173.7 817.7h0M111.6 782.8h0M173.9 838.6h0M104.9 771.6h0M140.4 823.0h0M152.5 843.3h0M118.4 816.9h0M106.4 779.3h0M106.0 809.7h0M122.6 774.8h0M99.1 787.1h0M165.7 816.8h0M119.0 789.4h0" stroke="#48C048" stroke-width="0.40" stroke-linecap="round" fill="none" /><path d="M81.7 901.2h0M154.5 882.9h0M162.0 868.5h0M86.6 897.4h0M132.0 878.6h0M77.0 879.7h0M178.6 866.3h0M161.1 897.3h0M141.2 877.1h0M133.2 866.4h0M134.6 885.3h0M146.7 862.3h0M135.4 878.6h0M146.3 893.7h0M148.5 901.9h0M163.8 884.6h0M109.9 876.6h0M144.0 875.1h0M68.5 888.3h0M92.6 894.6h0M143.8 892.6h0M178.1 868.9h0M139.3 875.4h0M98.7 877.8h0M150.6 889.4h0M120.3 898.0h0" stroke="#1E6A1E" stroke-width="0.80" stroke-linecap="round" fill="none" /><path d="M164.9 895.3h0M137.7 902.5h0M131.8 868.8h0M108.0 896.4h0M162.6 890.1h0M90.9 884.9h0M75.6 884.1h0M167.5 896.9h0M134.9 866.1h0M114.3 888.2h0M111.1 889.4h0M165.2 881.2h0M86.9 886.0h0M98.9 887.0h0M167.9 869.3h0M167.9 885.4h0M146.2 891.7h0M174.6 900.4h0M164.8 864.5h0M80.5 877.1h0M151.4 877.6h0M149.9 872.0h0M100.9 895.4h0M100.1 894.4h0M154.0 896.2h0M80.4 898.1h0M99.1 889.4h0M95.1 884.6h0M165.3 879.4h0M176.8 889.3h0M106.5 871.0h0M116.7 874.5h0M112.3 878.3h0" stroke="#3AAA3A" stroke-width="0.80" stroke-linecap="round" fill="none" /><path d="M173.4 899.9h0M117.6 895.0h0M145.1 901.0h0M158.7 888.8h0M124.1 886.0h0M157.0 893.1h0M143.4 899.4h0M137.8 863.8h0M104.8 867.8h0M134.8 868.2h0M167.4 875.2h0M76.5 884.7h0M139.0 871.1h0M120.0 868.1h0M133.9 894.8h0M99.8 880.2h0M116.7 872.5h0M76.6 886.7h0M88.5 899.3h0M111.4 870.8h0M72.0 888.7h0M168.1 898.6h0M147.9 864.7h0M91.6 881.7h0M94.5 870.8h0M82.0 880.5h0M173.0 867.1h0M103.5 897.1h0M112.2 878.0h0M112.2 874.0h0" stroke="#1A5A1A" stroke-width="0.80" stroke-linecap="round" fill="none" /><path d="M78.6 888.4h0M123.1 896.8h0M167.3 888.1h0M135.6 885.8h0M131.6 890.2h0M124.1 873.5h0M105.4 883.6h0M105.4 888.7h0M79.8 897.8h0M134.1 889.0h0M120.7 886.8h0M79.2 873.4h0M120.1 873.0h0M105.1 881.9h0M130.5 900.4h0M110.4 884.1h0M162.2 886.3h0M106.3 886.2h0M177.5 875.5h0M101.4 883.2h0M91.5 897.0h0M168.8 873.0h0M77.9 899.5h0M125.1 887.4h0M100.5 889.8h0M124.7 900.2h0M84.1 902.8h0M140.0 861.8h0M144.9 870.4h0M87.1 895.3h0M95.2 881.4h0M76.7 893.5h0M89.6 898.0h0M89.3 894.6h0M76.2 876.2h0" stroke="#2F9F2F" stroke-width="0.80" stroke-linecap="round" fill="none" /><path d="M83.4 872.3h0M163.2 874.3h0M113.1 881.9h0M76.3 891.6h0M136.7 888.9h0M149.8 883.8h0M83.7 881.3h0M162.3 887.2h0M134.1 880.2h0M134.8 884.1h0M73.5 878.6h0" stroke="#1E6A1E" stroke-width="1.20" stroke-linecap="round" fill="none" /><path d="M108.7 873.7h0M101.6 873.8h0M88.6 863.9h0M104.8 901.1h0M139.6 881.8h0M80.9 902.9h0M161.1 875.5h0M88.3 872.0h0M85.7 872.3h0M140.8 901.2h0M74.5 898.4h0M122.1 872.6h0M70.6 880.3h0M106.8 868.8h0M116.8 864.5h0M119.9 891.8h0M84.5 869.4h0M118.8 896.0h0M140.8 895.8h0M137.0 863.9h0M169.6 885.2h0M101.8 865.3h0M155.7 899.8h0" stroke="#2F9F2F" stroke-width="1.20" stroke-linecap="round" fill="none" /><path d="M91.8 898.9h0M84.7 900.5h0M95.9 897.1h0M103.4 868.5h0M164.8 896.1h0M144.5 881.0h0M140.9 874.1h0M140.1 860.0h0M177.2 869.4h0M170.1 894.5h0M167.5 866.0h0M125.8 901.0h0M135.1 865.6h0M111.7 892.1h0" stroke="#2A8A2A" stroke-width="1.20" stroke-linecap="round" fill="none" /><path d="M85.8 877.7h0M174.3 875.3h0M164.8 864.3h0M134.2 871.4h0M78.1 871.6h0M126.2 862.8h0M158.2 870.7h0M105.5 883.3h0M76.8 872.2h0M76.9 886.7h0M135.3 861.1h0M91.4 903.0h0M131.6 868.7h0M164.1 897.5h0" stroke="#1A5A1A" stroke-width="1.20" stroke-linecap="round" fill="none" /><path d="M174.5 867.2h0M141.7 872.7h0M160.2 900.6h0M93.8 883.1h0M134.6 881.7h0M133.3 880.5h0M142.3 864.1h0M135.0 894.3h0M115.1 866.3h0M127.0 900.2h0M172.3 875.3h0M113.8 895.2h0M115.6 880.6h0" stroke="#6A9A30" stroke-width="1.20" stroke-linecap="round" fill="none" /><path d="M158.3 880.2h0M65.1 891.8h0M94.0 868.4h0M103.9 865.7h0M82.7 882.0h0M143.9 878.7h0M90.1 868.4h0M152.0 891.0h0M129.2 897.2h0M146.4 887.1h0M152.5 875.8h0M111.4 899.3h0M106.1 870.7h0M126.8 901.4h0M172.4 890.3h0M96.7 864.4h0M167.5 869.4h0M174.4 869.5h0M68.6 899.3h0M89.9 871.7h0M129.5 880.3h0M116.2 889.6h0M79.3 872.8h0M120.6 881.4h0M118.3 892.3h0M129.3 887.7h0M74.3 874.9h0M97.5 873.9h0M153.1 902.0h0M174.1 871.1h0" stroke="#6A9A30" stroke-width="0.80" stroke-linecap="round" fill="none" /><path d="M116.5 884.8h0M147.7 872.8h0M96.8 892.8h0M78.3 886.7h0M112.3 884.7h0" stroke="#2F9F2F" stroke-width="0.40" stroke-linecap="round" fill="none" /><path d="M113.9 885.2h0M124.9 893.1h0M168.9 865.1h0M120.6 897.9h0M151.1 891.0h0M106.4 895.8h0M92.8 881.2h0M100.4 883.7h0M132.3 884.7h0M157.2 879.0h0M108.1 893.4h0M76.2 873.4h0M71.9 888.9h0M69.9 892.8h0M167.4 871.2h0M151.5 868.0h0M164.7 902.3h0M84.9 890.0h0M110.2 892.5h0M161.0 875.1h0M158.7 887.9h0M153.9 895.6h0M131.2 867.1h0M94.6 889.9h0M68.2 893.4h0" stroke="#2A8A2A" stroke-width="0.80" stroke-linecap="round" fill="none" /><path d="M161.4 888.9h0M171.0 881.6h0M166.7 883.5h0M83.9 870.7h0M66.0 886.7h0M110.3 865.8h0M65.3 892.3h0" stroke="#2A8A2A" stroke-width="0.40" stroke-linecap="round" fill="none" /><path d="M103.2 877.1h0M121.1 865.5h0M100.5 895.9h0M92.3 886.9h0" stroke="#3AAA3A" stroke-width="0.40" stroke-linecap="round" fill="none" /><path d="M142.2 878.9h0M134.6 865.8h0M125.4 900.7h0M76.4 875.4h0M66.2 900.7h0M93.3 888.4h0M131.4 863.6h0M129.7 898.1h0M141.1 886.2h0M176.9 866.7h0M116.4 877.2h0M82.0 879.6h0M155.0 869.5h0" stroke="#1A5A1A" stroke-width="0.40" stroke-linecap="round" fill="none" /><path d="M93.0 899.3h0M129.5 868.5h0M155.3 892.5h0M91.8 863.7h0" stroke="#1E6A1E" stroke-width="0.40" stroke-linecap="round" fill="none" /><path d="M68.5 884.8h0M82.9 887.4h0M120.1 885.4h0M81.2 889.5h0M145.7 869.0h0M127.0 870.2h0M165.9 866.3h0M88.7 880.2h0" stroke="#3AAA3A" stroke-width="1.20" stroke-linecap="round" fill="none" /><path d="M174.6 878.9h0M78.3 893.5h0M117.0 892.2h0M161.5 876.5h0M175.8 893.4h0" stroke="#6A9A30" stroke-width="0.40" stroke-linecap="round" fill="none" /></g><path d="M80.0,868.5 C82.5,868.2 90.0,867.1 95.0,867.0 C100.0,866.9 104.2,868.2 110.0,868.0 C115.8,867.8 123.3,866.4 130.0,866.0 C136.7,865.6 141.8,865.2 150.0,865.6 C158.2,866.0 174.2,868.0 179.0,868.5" stroke="#8CC83C" stroke-width="5.0" fill="none" opacity="0.75" filter="url(#kb2)"/><ellipse cx="155" cy="887" rx="5" ry="4" fill="#9AC040" opacity="0.8" filter="url(#kb2)"/><ellipse cx="134" cy="866" rx="5" ry="3" fill="#7ABF50" opacity="0.8" filter="url(#kb2)"/><g filter="url(#kb)"><ellipse cx="149.0" cy="828.2" rx="3.4" ry="2.8" fill="#1212A4"/><ellipse cx="146.0" cy="796.4" rx="2.6" ry="2.4" fill="#1212A4"/><ellipse cx="161.8" cy="781.2" rx="2.4" ry="2.3" fill="#1C1CD6"/><ellipse cx="142.3" cy="784.9" rx="3.1" ry="2.4" fill="#2020D0"/><ellipse cx="167.3" cy="796.1" rx="3.0" ry="2.6" fill="#1C1CD6"/><ellipse cx="147.9" cy="806.2" rx="2.8" ry="2.2" fill="#2424EC"/><ellipse cx="177.3" cy="798.0" rx="2.5" ry="2.4" fill="#1212A4"/><ellipse cx="146.2" cy="840.1" rx="2.5" ry="2.0" fill="#1818C0"/><ellipse cx="139.1" cy="828.0" rx="2.6" ry="2.6" fill="#1E1EB8"/><ellipse cx="144.3" cy="777.4" rx="2.8" ry="2.4" fill="#2020D0"/><ellipse cx="177.9" cy="781.7" rx="3.4" ry="3.3" fill="#2A2AEE"/><ellipse cx="161.1" cy="793.0" rx="2.9" ry="2.7" fill="#1212A4"/><ellipse cx="173.8" cy="789.1" rx="3.3" ry="2.8" fill="#1818C0"/><ellipse cx="107.4" cy="798.6" rx="3.4" ry="3.4" fill="#1C1CD6"/><ellipse cx="169.6" cy="774.0" rx="2.6" ry="2.3" fill="#1818C0"/><ellipse cx="176.7" cy="822.1" rx="3.5" ry="3.2" fill="#2424EC"/><ellipse cx="135.2" cy="773.6" rx="2.7" ry="2.6" fill="#2424EC"/><ellipse cx="176.7" cy="806.0" rx="2.6" ry="2.0" fill="#1212A4"/><ellipse cx="101.8" cy="762.3" rx="3.0" ry="2.4" fill="#1C1CD6"/><ellipse cx="155.1" cy="774.6" rx="2.4" ry="1.8" fill="#1212A4"/><ellipse cx="126.2" cy="824.2" rx="3.2" ry="2.5" fill="#1212A4"/><ellipse cx="175.8" cy="838.3" rx="2.4" ry="2.1" fill="#1E1EB8"/><ellipse cx="177.0" cy="766.4" rx="2.7" ry="2.8" fill="#1818C0"/><ellipse cx="156.8" cy="809.2" rx="2.4" ry="2.4" fill="#1212A4"/><ellipse cx="132.1" cy="841.8" rx="2.4" ry="2.2" fill="#1818C0"/><ellipse cx="163.4" cy="772.6" rx="2.5" ry="2.3" fill="#2424EC"/><ellipse cx="168.2" cy="805.1" rx="3.4" ry="2.6" fill="#2A2AEE"/><ellipse cx="130.9" cy="786.4" rx="2.8" ry="2.7" fill="#1212A4"/><ellipse cx="172.3" cy="781.6" rx="3.0" ry="2.6" fill="#1212A4"/><ellipse cx="125.4" cy="813.9" rx="3.1" ry="3.1" fill="#1212A4"/><ellipse cx="141.6" cy="765.5" rx="3.3" ry="3.3" fill="#1E1EB8"/><ellipse cx="129.8" cy="808.2" rx="3.5" ry="2.8" fill="#1212A4"/><ellipse cx="126.5" cy="801.7" rx="2.5" ry="2.6" fill="#1E1EB8"/><ellipse cx="157.5" cy="830.8" rx="2.9" ry="2.7" fill="#2424EC"/><ellipse cx="130.9" cy="831.7" rx="2.4" ry="2.0" fill="#2A2AEE"/><ellipse cx="168.8" cy="845.3" rx="2.6" ry="2.7" fill="#1E1EB8"/><ellipse cx="165.4" cy="834.8" rx="2.6" ry="2.5" fill="#2A2AEE"/><ellipse cx="162.9" cy="841.9" rx="2.6" ry="2.5" fill="#1212A4"/><ellipse cx="129.9" cy="819.6" rx="2.5" ry="2.2" fill="#2020D0"/><ellipse cx="158.4" cy="786.2" rx="3.3" ry="3.4" fill="#2424EC"/><ellipse cx="157.1" cy="844.6" rx="2.7" ry="2.4" fill="#2020D0"/><ellipse cx="141.2" cy="805.8" rx="3.0" ry="2.5" fill="#2424EC"/><ellipse cx="178.3" cy="847.9" rx="2.8" ry="2.8" fill="#1E1EB8"/><ellipse cx="127.9" cy="837.3" rx="3.1" ry="2.9" fill="#2020D0"/><ellipse cx="135.5" cy="836.4" rx="3.3" ry="3.1" fill="#1C1CD6"/><ellipse cx="147.5" cy="813.5" rx="3.5" ry="3.0" fill="#1818C0"/><ellipse cx="126.9" cy="791.6" rx="3.5" ry="2.8" fill="#2020D0"/><ellipse cx="155.0" cy="816.5" rx="3.1" ry="2.5" fill="#2A2AEE"/><ellipse cx="142.2" cy="771.1" rx="2.8" ry="2.4" fill="#1212A4"/><ellipse cx="152.0" cy="790.1" rx="2.5" ry="2.4" fill="#2424EC"/><ellipse cx="141.3" cy="819.2" rx="2.3" ry="2.4" fill="#2A2AEE"/><ellipse cx="132.6" cy="766.2" rx="2.7" ry="2.3" fill="#2424EC"/><ellipse cx="149.9" cy="769.0" rx="2.3" ry="2.2" fill="#1212A4"/><ellipse cx="153.8" cy="797.0" rx="2.7" ry="2.5" fill="#1212A4"/><ellipse cx="170.7" cy="832.7" rx="2.7" ry="2.8" fill="#2020D0"/><ellipse cx="150.8" cy="844.3" rx="3.0" ry="2.6" fill="#2020D0"/><ellipse cx="136.2" cy="845.7" rx="3.0" ry="2.3" fill="#1212A4"/><ellipse cx="171.2" cy="811.8" rx="2.8" ry="2.3" fill="#2424EC"/><ellipse cx="149.3" cy="761.8" rx="2.4" ry="2.3" fill="#2A2AEE"/><ellipse cx="153.0" cy="823.8" rx="3.2" ry="3.4" fill="#1818C0"/><ellipse cx="138.8" cy="811.9" rx="3.2" ry="2.6" fill="#2020D0"/><ellipse cx="140.9" cy="834.3" rx="2.9" ry="2.8" fill="#1C1CD6"/><ellipse cx="145.0" cy="846.7" rx="3.3" ry="2.6" fill="#1212A4"/><ellipse cx="132.3" cy="797.0" rx="2.4" ry="2.1" fill="#1818C0"/><ellipse cx="156.2" cy="780.7" rx="2.4" ry="2.4" fill="#1E1EB8"/><ellipse cx="140.5" cy="793.7" rx="2.4" ry="2.1" fill="#2020D0"/><ellipse cx="157.3" cy="761.1" rx="3.0" ry="2.4" fill="#1E1EB8"/><ellipse cx="122.7" cy="808.5" rx="2.4" ry="2.4" fill="#1212A4"/><ellipse cx="164.8" cy="765.1" rx="3.1" ry="2.6" fill="#1C1CD6"/><ellipse cx="123.3" cy="772.5" rx="2.5" ry="2.0" fill="#2424EC"/><ellipse cx="146.2" cy="790.4" rx="2.4" ry="2.0" fill="#1E1EB8"/><ellipse cx="178.3" cy="773.5" rx="3.0" ry="2.9" fill="#1818C0"/><ellipse cx="163.8" cy="811.9" rx="2.8" ry="2.6" fill="#2A2AEE"/><ellipse cx="179.9" cy="790.7" rx="2.6" ry="2.3" fill="#1E1EB8"/><ellipse cx="171.8" cy="825.3" rx="2.7" ry="2.1" fill="#1818C0"/><ellipse cx="134.9" cy="791.3" rx="2.8" ry="2.5" fill="#1212A4"/><ellipse cx="135.2" cy="782.3" rx="3.5" ry="2.8" fill="#2A2AEE"/><ellipse cx="133.6" cy="814.4" rx="3.4" ry="2.8" fill="#1C1CD6"/><ellipse cx="127.7" cy="781.1" rx="3.3" ry="3.0" fill="#2424EC"/><ellipse cx="167.4" cy="786.9" rx="2.9" ry="2.6" fill="#1E1EB8"/><ellipse cx="144.4" cy="824.0" rx="2.8" ry="2.2" fill="#1C1CD6"/><ellipse cx="171.3" cy="767.0" rx="2.6" ry="2.6" fill="#1E1EB8"/><ellipse cx="90.1" cy="763.0" rx="2.8" ry="2.8" fill="#1818C0"/><ellipse cx="159.5" cy="768.0" rx="2.6" ry="2.6" fill="#1C1CD6"/><ellipse cx="148.9" cy="783.1" rx="3.3" ry="2.9" fill="#2424EC"/><ellipse cx="178.6" cy="832.7" rx="2.4" ry="2.0" fill="#2A2AEE"/><ellipse cx="112.8" cy="810.2" rx="2.4" ry="2.4" fill="#1C1CD6"/><ellipse cx="136.4" cy="823.1" rx="3.3" ry="3.2" fill="#2424EC"/><ellipse cx="123.9" cy="785.3" rx="3.5" ry="3.1" fill="#2020D0"/><ellipse cx="124.6" cy="766.4" rx="3.0" ry="3.0" fill="#1818C0"/><ellipse cx="162.6" cy="825.4" rx="3.1" ry="3.0" fill="#1E1EB8"/><ellipse cx="160.1" cy="801.5" rx="2.9" ry="2.9" fill="#1818C0"/><ellipse cx="129.7" cy="774.9" rx="3.1" ry="3.2" fill="#2A2AEE"/><ellipse cx="162.5" cy="817.4" rx="3.3" ry="2.6" fill="#2A2AEE"/><ellipse cx="113.8" cy="821.5" rx="3.3" ry="2.7" fill="#1C1CD6"/><ellipse cx="174.8" cy="874.1" rx="3.6" ry="3.8" fill="#1C1CD6"/><ellipse cx="164.9" cy="873.1" rx="2.6" ry="2.5" fill="#2A2AEE"/><ellipse cx="131.7" cy="873.0" rx="3.6" ry="2.8" fill="#1E1EB8"/><ellipse cx="103.2" cy="868.4" rx="2.6" ry="2.2" fill="#2A2AEE"/><ellipse cx="158.8" cy="874.2" rx="2.9" ry="2.7" fill="#1212A4"/><ellipse cx="123.9" cy="901.8" rx="3.9" ry="3.1" fill="#1818C0"/><ellipse cx="94.9" cy="869.8" rx="3.7" ry="3.1" fill="#1E1EB8"/><ellipse cx="157.9" cy="900.2" rx="3.6" ry="3.5" fill="#1E1EB8"/><ellipse cx="121.9" cy="881.7" rx="3.3" ry="2.9" fill="#1E1EB8"/><ellipse cx="123.4" cy="891.8" rx="2.6" ry="2.7" fill="#2020D0"/><ellipse cx="92.6" cy="889.0" rx="3.5" ry="3.1" fill="#2020D0"/><ellipse cx="74.4" cy="894.7" rx="3.5" ry="3.7" fill="#1E1EB8"/><ellipse cx="149.3" cy="882.2" rx="2.9" ry="2.2" fill="#1E1EB8"/><ellipse cx="71.2" cy="882.5" rx="3.7" ry="3.3" fill="#2A2AEE"/><ellipse cx="141.8" cy="895.0" rx="2.9" ry="2.4" fill="#1212A4"/><ellipse cx="81.5" cy="885.8" rx="3.2" ry="3.0" fill="#1818C0"/><ellipse cx="78.6" cy="902.6" rx="2.8" ry="2.3" fill="#1818C0"/><ellipse cx="141.7" cy="876.7" rx="3.4" ry="2.8" fill="#1212A4"/><ellipse cx="112.8" cy="891.5" rx="2.7" ry="2.2" fill="#2424EC"/><ellipse cx="114.8" cy="883.7" rx="3.2" ry="3.0" fill="#1C1CD6"/><ellipse cx="119.2" cy="875.0" rx="2.8" ry="3.0" fill="#2020D0"/><ellipse cx="113.9" cy="899.4" rx="3.8" ry="3.2" fill="#2A2AEE"/><ellipse cx="83.0" cy="892.1" rx="2.9" ry="2.5" fill="#1212A4"/><ellipse cx="109.7" cy="875.2" rx="3.6" ry="3.2" fill="#2424EC"/><ellipse cx="100.7" cy="876.0" rx="2.5" ry="2.4" fill="#1C1CD6"/><ellipse cx="179.4" cy="889.2" rx="2.5" ry="2.5" fill="#2A2AEE"/><ellipse cx="120.6" cy="868.1" rx="3.4" ry="2.8" fill="#2A2AEE"/><ellipse cx="90.2" cy="902.5" rx="2.8" ry="2.5" fill="#1E1EB8"/><ellipse cx="64.2" cy="890.0" rx="3.9" ry="3.2" fill="#2020D0"/><ellipse cx="106.3" cy="898.3" rx="3.0" ry="3.0" fill="#2020D0"/><ellipse cx="177.0" cy="901.5" rx="3.3" ry="2.6" fill="#2424EC"/><ellipse cx="83.9" cy="876.4" rx="3.8" ry="3.3" fill="#1212A4"/><ellipse cx="102.1" cy="890.3" rx="2.8" ry="2.1" fill="#1E1EB8"/><ellipse cx="179.0" cy="879.1" rx="3.4" ry="3.4" fill="#1818C0"/><ellipse cx="134.9" cy="901.9" rx="3.6" ry="3.6" fill="#2424EC"/><ellipse cx="153.1" cy="871.6" rx="2.7" ry="2.5" fill="#2A2AEE"/><ellipse cx="133.8" cy="893.5" rx="3.6" ry="3.0" fill="#2020D0"/><ellipse cx="160.6" cy="887.3" rx="3.3" ry="3.1" fill="#2A2AEE"/><ellipse cx="81.3" cy="869.7" rx="2.8" ry="2.1" fill="#2020D0"/><ellipse cx="170.3" cy="894.3" rx="3.3" ry="3.3" fill="#1E1EB8"/><ellipse cx="136.4" cy="881.2" rx="3.3" ry="2.8" fill="#1818C0"/><ellipse cx="144.6" cy="902.7" rx="3.4" ry="3.3" fill="#2A2AEE"/><ellipse cx="89.6" cy="881.8" rx="3.7" ry="3.4" fill="#1E1EB8"/><ellipse cx="166.7" cy="880.6" rx="3.8" ry="3.0" fill="#2424EC"/><ellipse cx="171.6" cy="886.1" rx="2.9" ry="2.6" fill="#1818C0"/><ellipse cx="97.3" cy="894.5" rx="3.5" ry="3.5" fill="#1818C0"/><ellipse cx="77.0" cy="877.0" rx="2.5" ry="2.6" fill="#2A2AEE"/><ellipse cx="147.3" cy="869.4" rx="3.6" ry="3.7" fill="#1E1EB8"/><ellipse cx="129.6" cy="898.5" rx="3.5" ry="2.8" fill="#2020D0"/><ellipse cx="68.0" cy="902.2" rx="2.9" ry="2.9" fill="#1C1CD6"/><ellipse cx="97.2" cy="881.7" rx="3.2" ry="2.7" fill="#2424EC"/><ellipse cx="100.5" cy="901.2" rx="2.8" ry="2.2" fill="#1818C0"/><ellipse cx="148.6" cy="896.0" rx="2.9" ry="2.9" fill="#1212A4"/><ellipse cx="152.1" cy="902.6" rx="3.5" ry="2.9" fill="#2A2AEE"/><ellipse cx="137.8" cy="888.2" rx="3.9" ry="3.5" fill="#1818C0"/><ellipse cx="104.8" cy="883.5" rx="2.7" ry="2.8" fill="#1818C0"/><ellipse cx="145.3" cy="888.8" rx="2.8" ry="2.6" fill="#1C1CD6"/><ellipse cx="128.2" cy="884.1" rx="3.6" ry="3.3" fill="#1212A4"/><ellipse cx="140.3" cy="870.1" rx="3.7" ry="3.6" fill="#1212A4"/><ellipse cx="88.5" cy="872.0" rx="2.9" ry="2.9" fill="#2A2AEE"/><ellipse cx="166.9" cy="900.0" rx="2.8" ry="2.9" fill="#1E1EB8"/><ellipse cx="160.2" cy="880.5" rx="2.8" ry="2.1" fill="#1212A4"/><ellipse cx="154.3" cy="890.4" rx="3.4" ry="3.0" fill="#2020D0"/><ellipse cx="110.2" cy="868.1" rx="3.9" ry="3.2" fill="#2A2AEE"/><ellipse cx="161.8" cy="895.2" rx="2.7" ry="2.1" fill="#1212A4"/><ellipse cx="90.8" cy="895.0" rx="3.7" ry="3.0" fill="#2020D0"/><ellipse cx="179.2" cy="868.8" rx="3.4" ry="2.8" fill="#2020D0"/><ellipse cx="125.3" cy="872.2" rx="3.4" ry="2.8" fill="#1C1CD6"/><ellipse cx="83.8" cy="898.7" rx="3.7" ry="3.5" fill="#1212A4"/><ellipse cx="148.0" cy="875.8" rx="2.9" ry="3.0" fill="#2020D0"/></g><g filter="url(#kb)"><path d="M177.3 836.1h0M156.4 794.2h0M160.9 821.8h0M125.1 788.7h0M156.7 846.0h0M120.6 780.1h0M160.3 823.9h0M158.6 801.7h0M177.6 806.9h0M173.7 773.5h0M176.1 770.5h0M172.7 823.6h0M128.3 807.8h0M137.3 774.3h0M137.1 770.7h0M128.3 804.8h0M173.3 840.6h0M143.0 788.5h0M134.9 797.1h0M155.2 767.1h0M159.3 782.9h0" stroke="#1A5A1A" stroke-width="0.80" stroke-linecap="round" fill="none" /><path d="M154.0 845.7h0M122.1 776.3h0M156.4 794.5h0M150.6 789.4h0M156.4 828.9h0" stroke="#1E6A1E" stroke-width="1.20" stroke-linecap="round" fill="none" /><path d="M121.8 819.6h0M126.2 799.4h0M173.7 813.4h0M139.0 808.4h0M127.2 800.4h0M136.8 820.5h0M156.4 844.2h0M164.8 820.6h0M160.9 793.1h0M135.4 839.2h0M134.3 821.5h0M122.1 805.6h0M120.6 782.8h0M157.0 827.4h0M139.4 809.2h0M152.2 809.2h0M150.3 827.3h0M144.5 775.7h0" stroke="#1E6A1E" stroke-width="0.80" stroke-linecap="round" fill="none" /><path d="M164.4 769.1h0M145.9 808.2h0M156.2 808.2h0M127.0 766.2h0M122.7 799.1h0M118.2 825.7h0M169.6 817.1h0M166.9 813.4h0M159.7 796.7h0M132.8 788.9h0M159.1 824.6h0M152.1 812.2h0M137.9 820.1h0M158.8 812.6h0M163.3 769.8h0M130.9 786.0h0M130.0 815.8h0" stroke="#2A8A2A" stroke-width="0.80" stroke-linecap="round" fill="none" /><path d="M124.0 799.2h0M172.1 764.7h0M119.9 764.2h0M135.2 822.2h0M153.1 820.5h0M145.5 795.4h0M176.6 822.1h0M120.3 807.3h0M144.2 803.6h0M152.4 845.6h0M141.7 793.0h0M136.1 832.3h0M146.4 768.4h0M161.7 817.0h0M133.3 843.9h0M148.6 827.1h0M167.7 802.0h0M158.9 761.3h0M160.8 832.5h0" stroke="#2F9F2F" stroke-width="0.80" stroke-linecap="round" fill="none" /><path d="M137.9 823.9h0M155.0 766.9h0M127.4 798.4h0M159.5 814.3h0M171.2 790.2h0M162.7 788.5h0M168.4 837.7h0M169.8 839.3h0M164.3 767.1h0" stroke="#2A8A2A" stroke-width="0.40" stroke-linecap="round" fill="none" /><path d="M171.2 816.6h0M173.1 839.4h0M155.4 777.9h0M150.7 789.5h0M126.4 777.8h0M119.6 765.9h0M163.0 768.0h0M128.9 841.2h0M144.8 815.1h0M149.0 805.1h0M141.6 803.1h0M127.6 799.0h0M170.7 761.0h0M141.3 839.3h0M169.8 787.4h0M157.1 773.0h0M154.8 802.4h0M146.1 766.8h0" stroke="#3C9A3C" stroke-width="0.80" stroke-linecap="round" fill="none" /><path d="M161.2 831.4h0M162.4 847.8h0M132.9 793.3h0M142.0 820.0h0M140.6 818.1h0M155.4 786.6h0M167.6 786.7h0M143.0 848.9h0" stroke="#3AAA3A" stroke-width="1.20" stroke-linecap="round" fill="none" /><path d="M167.7 772.4h0M175.5 830.0h0M150.0 781.2h0M129.4 791.6h0M175.4 823.3h0" stroke="#1A5A1A" stroke-width="1.20" stroke-linecap="round" fill="none" /><path d="M147.2 790.9h0M171.9 812.6h0M137.4 802.0h0M133.2 811.5h0M147.0 809.7h0M143.8 811.8h0M172.5 782.1h0M136.5 830.0h0M145.6 823.9h0M136.0 801.8h0M150.0 830.8h0" stroke="#3AAA3A" stroke-width="0.80" stroke-linecap="round" fill="none" /><path d="M130.6 843.4h0M162.6 779.5h0M152.8 778.4h0M119.9 780.7h0M157.9 827.8h0" stroke="#2F9F2F" stroke-width="1.20" stroke-linecap="round" fill="none" /><path d="M175.9 824.0h0M128.4 790.2h0M125.8 822.3h0M176.3 786.2h0M127.2 813.2h0" stroke="#3AAA3A" stroke-width="0.40" stroke-linecap="round" fill="none" /><path d="M135.8 796.8h0M153.4 766.3h0M160.4 792.1h0M140.1 783.6h0M169.9 813.6h0M147.7 769.8h0" stroke="#1E6A1E" stroke-width="0.40" stroke-linecap="round" fill="none" /><path d="M138.8 762.8h0M154.0 825.2h0M158.8 832.9h0M152.5 789.3h0M172.5 806.2h0M149.3 762.3h0" stroke="#1A5A1A" stroke-width="0.40" stroke-linecap="round" fill="none" /><path d="M139.2 845.3h0" stroke="#2A8A2A" stroke-width="1.20" stroke-linecap="round" fill="none" /><path d="M161.1 813.3h0M161.4 821.0h0" stroke="#2F9F2F" stroke-width="0.40" stroke-linecap="round" fill="none" /><path d="M162.6 768.9h0M130.8 781.5h0" stroke="#3C9A3C" stroke-width="0.40" stroke-linecap="round" fill="none" /><path d="M162.9 765.8h0M169.8 787.2h0" stroke="#3C9A3C" stroke-width="1.20" stroke-linecap="round" fill="none" /></g><g filter="url(#kb)"><path d="M136.2 862.1h0M114.7 866.5h0" stroke="#2F9F2F" stroke-width="0.40" stroke-linecap="round" fill="none" /><path d="M167.6 870.5h0M66.8 892.8h0M150.2 876.9h0M160.7 887.6h0M90.3 871.3h0M176.6 886.8h0M91.2 892.4h0M84.2 900.3h0M83.9 902.6h0M83.7 877.5h0M140.9 866.7h0M167.8 869.5h0" stroke="#1E6A1E" stroke-width="0.80" stroke-linecap="round" fill="none" /><path d="M103.4 874.7h0M80.6 894.6h0M124.9 866.1h0M76.9 897.5h0M114.0 893.2h0M115.9 895.5h0M68.7 890.2h0M97.6 893.0h0M107.5 890.9h0M73.5 884.7h0M92.2 878.6h0M141.5 867.3h0" stroke="#2F9F2F" stroke-width="0.80" stroke-linecap="round" fill="none" /><path d="M82.9 888.1h0M150.5 899.7h0M137.7 893.2h0M122.8 871.5h0" stroke="#1A5A1A" stroke-width="0.40" stroke-linecap="round" fill="none" /><path d="M137.1 882.5h0M123.3 901.4h0M101.2 875.7h0M108.6 869.3h0M125.2 865.3h0M108.7 875.6h0M101.8 895.7h0M133.3 874.1h0" stroke="#3AAA3A" stroke-width="0.80" stroke-linecap="round" fill="none" /><path d="M176.4 888.5h0M161.2 892.5h0M171.0 877.7h0M133.4 889.8h0" stroke="#1E6A1E" stroke-width="0.40" stroke-linecap="round" fill="none" /><path d="M90.2 876.4h0M81.6 887.0h0M130.1 881.1h0M67.3 902.1h0" stroke="#2A8A2A" stroke-width="0.40" stroke-linecap="round" fill="none" /><path d="M135.2 892.6h0" stroke="#6A9A30" stroke-width="1.20" stroke-linecap="round" fill="none" /><path d="M149.0 880.8h0M69.5 901.0h0" stroke="#3AAA3A" stroke-width="1.20" stroke-linecap="round" fill="none" /><path d="M125.8 887.0h0" stroke="#2F9F2F" stroke-width="1.20" stroke-linecap="round" fill="none" /><path d="M130.4 874.7h0M111.3 901.9h0" stroke="#3AAA3A" stroke-width="0.40" stroke-linecap="round" fill="none" /><path d="M166.1 869.3h0M95.6 880.5h0M83.4 902.4h0M103.3 890.2h0M133.6 895.3h0M100.1 871.3h0M144.8 868.3h0" stroke="#2A8A2A" stroke-width="0.80" stroke-linecap="round" fill="none" /><path d="M159.0 879.6h0M146.6 880.1h0M125.8 884.7h0" stroke="#6A9A30" stroke-width="0.40" stroke-linecap="round" fill="none" /><path d="M127.0 895.4h0M120.4 901.1h0" stroke="#1A5A1A" stroke-width="1.20" stroke-linecap="round" fill="none" /><path d="M151.6 897.5h0M108.4 900.4h0M102.7 867.8h0M96.4 879.7h0M137.4 894.8h0M129.5 894.4h0M106.3 901.3h0M142.8 882.1h0M151.6 879.9h0M107.5 874.6h0" stroke="#1A5A1A" stroke-width="0.80" stroke-linecap="round" fill="none" /><path d="M136.9 871.2h0" stroke="#1E6A1E" stroke-width="1.20" stroke-linecap="round" fill="none" /><path d="M106.6 870.3h0M110.5 898.5h0M153.1 869.0h0M141.5 864.6h0M106.4 872.2h0M123.7 870.4h0M112.7 887.7h0M112.0 896.2h0M138.3 888.9h0M156.8 896.8h0M97.4 891.5h0M90.3 893.1h0M145.6 902.4h0" stroke="#6A9A30" stroke-width="0.80" stroke-linecap="round" fill="none" /><path d="M105.8 890.6h0M168.1 889.3h0" stroke="#2A8A2A" stroke-width="1.20" stroke-linecap="round" fill="none" /></g><path d="M157.9 770.2h0M172.2 819.2h0M113.7 797.7h0M91.5 772.6h0M164.8 809.0h0M176.8 787.3h0M112.0 819.2h0M108.2 796.8h0M164.9 806.7h0M167.3 813.8h0M98.7 781.1h0" stroke="#E03030" stroke-width="0.80" stroke-linecap="round" fill="none" /><path d="M147.6 777.7h0M168.5 774.0h0" stroke="#E03030" stroke-width="1.20" stroke-linecap="round" fill="none" /><path d="M159.3 846.8h0M120.6 789.1h0M103.9 797.4h0M162.2 789.8h0M136.8 771.0h0M144.1 822.8h0M140.5 828.4h0" stroke="#C02020" stroke-width="1.20" stroke-linecap="round" fill="none" /><path d="M136.7 762.0h0M136.9 794.2h0M177.7 804.8h0M145.8 809.1h0M125.0 796.2h0" stroke="#C02020" stroke-width="0.80" stroke-linecap="round" fill="none" /><path d="M129.5 892.9h0M145.5 900.6h0M117.2 890.5h0M126.8 886.1h0M90.3 863.4h0M97.4 890.5h0M127.4 891.8h0M123.7 880.8h0M155.0 889.9h0M130.6 861.7h0" stroke="#E03030" stroke-width="0.80" stroke-linecap="round" fill="none" /><path d="M134.0 877.0h0M84.9 877.8h0M119.6 892.4h0" stroke="#C02020" stroke-width="1.20" stroke-linecap="round" fill="none" /><path d="M92.6 864.6h0M78.9 879.7h0M168.3 885.6h0M111.2 868.7h0M79.9 882.2h0M169.1 868.8h0M104.1 891.5h0M134.3 871.3h0M106.9 880.7h0" stroke="#C02020" stroke-width="0.80" stroke-linecap="round" fill="none" /><path d="M86.2 901.3h0M126.0 863.7h0M88.6 874.5h0" stroke="#E03030" stroke-width="1.20" stroke-linecap="round" fill="none" /><path d="M81.9,761.0 C83.3,763.0 87.2,767.5 90.1,773.2 C93.0,778.9 96.0,787.5 99.2,795.1 C102.4,802.7 105.8,812.5 109.3,818.9 C112.8,825.3 116.9,829.0 120.2,833.5 C123.5,838.0 126.6,843.4 129.3,846.2 C132.0,849.0 133.8,849.9 136.6,850.3 C139.3,850.7 143.4,848.8 145.8,848.4 C148.2,848.0 145.5,847.6 151.2,847.7 C156.9,847.8 175.2,848.8 180.0,849.0" fill="none" stroke="#e8e8e8" stroke-width="0.8" stroke-dasharray="2.2,1.6"/><path d="M64.0,887.0 C64.5,886.6 65.2,887.1 67.3,884.6 C69.4,882.1 73.1,875.4 76.4,871.8 C79.8,868.2 83.5,864.2 87.4,863.0 C91.4,861.8 94.6,864.4 100.1,864.5 C105.6,864.6 113.8,864.4 120.2,863.6 C126.6,862.9 134.2,860.8 138.5,860.0 C142.8,859.2 143.1,858.5 145.8,859.0 C148.5,859.5 149.2,862.2 154.9,863.0 C160.6,863.8 175.8,863.5 180.0,863.6" fill="none" stroke="#e8e8e8" stroke-width="0.8" stroke-dasharray="2.2,1.6"/><circle cx="76.50" cy="794.50" r="0.70" fill="#3c3" /></g>
<text x="139.40" y="806.10" font-size="11.4" font-weight="bold" text-anchor="middle" fill="#fff">BM</text>
<text x="91.00" y="837.90" font-size="11.4" font-weight="bold" text-anchor="middle" fill="#fff">TB</text>
<g clip-path="url(#cm1b)"><path d="M64.0,943.0 C66.7,942.0 74.0,938.8 80.0,936.8 C86.0,934.8 92.5,932.7 100.0,930.8 C107.5,928.9 116.7,927.0 125.0,925.3 C133.3,923.6 140.8,921.9 150.0,920.5 C159.2,919.1 175.0,917.4 180.0,916.8" stroke="#1E7A1E" stroke-width="1.8" fill="none" opacity="0.8" filter="url(#kb)"/><g filter="url(#kb)"><path d="M172.1 918.2h0M101.3 931.3h0M175.4 917.3h0M74.2 938.5h0M108.2 929.3h0M90.7 933.0h0M179.7 917.0h0M164.2 916.4h0M166.8 917.5h0M84.4 934.5h0M157.0 919.9h0M95.5 932.4h0M114.6 927.6h0M125.7 923.0h0M89.3 933.7h0M65.0 944.8h0M126.7 923.7h0M100.9 932.4h0M130.3 924.1h0M64.8 943.7h0M83.5 935.1h0M100.0 930.8h0M113.9 928.0h0M98.4 930.2h0M177.1 917.0h0M143.3 921.4h0M74.1 939.3h0M132.1 924.1h0M101.0 930.6h0M154.8 917.9h0M165.9 918.7h0M132.6 923.9h0M84.0 933.4h0M139.7 923.4h0M172.8 916.7h0M160.6 918.5h0M102.2 931.5h0" stroke="#48B848" stroke-width="1.20" stroke-linecap="round" fill="none" /><path d="M156.1 920.5h0M64.3 944.0h0M166.6 919.8h0M84.7 936.7h0M170.3 917.5h0M115.7 928.2h0M113.3 928.8h0M134.4 922.7h0M77.1 936.6h0M83.0 934.0h0M71.1 939.4h0M162.8 918.6h0M89.1 932.9h0M163.4 917.9h0M101.4 931.5h0M173.3 916.7h0M167.7 918.0h0M137.6 922.2h0M109.4 930.3h0M125.3 925.3h0M130.0 923.7h0M65.0 944.3h0M149.7 920.5h0M161.3 919.7h0M150.2 919.9h0M133.7 924.6h0M95.1 931.8h0M165.9 918.0h0M167.4 918.3h0M143.6 920.4h0M97.3 932.2h0M106.4 930.3h0M147.3 920.5h0M94.5 933.0h0M131.3 925.3h0M75.1 939.8h0M106.4 930.2h0M137.5 923.8h0M65.2 942.6h0M138.8 921.4h0M146.2 921.9h0M90.7 935.4h0M134.3 923.1h0M131.2 924.2h0M173.5 918.5h0M121.6 924.6h0M115.0 927.6h0M100.1 930.3h0" stroke="#228A22" stroke-width="0.80" stroke-linecap="round" fill="none" /><path d="M80.0 936.9h0M175.7 917.1h0M162.6 918.2h0M91.4 932.0h0M157.0 919.4h0M90.5 936.0h0M77.9 937.7h0M165.6 919.4h0M147.2 920.4h0M133.0 923.9h0M73.0 939.8h0M124.1 924.3h0M164.9 920.2h0M79.8 937.4h0M81.1 937.1h0M156.1 919.0h0M126.0 927.0h0M161.5 920.4h0M129.6 922.9h0M155.6 918.6h0M176.4 917.7h0M141.9 919.1h0M167.8 918.8h0M93.2 932.7h0M103.3 929.8h0M152.3 921.0h0M108.0 930.6h0M73.9 941.2h0M106.1 929.2h0M113.4 927.8h0M161.7 919.0h0M177.1 916.2h0M140.9 921.9h0M146.1 921.8h0M174.4 917.5h0M121.0 926.2h0M180.0 916.7h0" stroke="#5AD05A" stroke-width="1.20" stroke-linecap="round" fill="none" /><path d="M111.4 928.6h0M109.1 929.3h0M82.1 936.3h0M138.2 922.6h0M140.5 924.0h0M148.2 920.3h0M177.9 916.9h0M147.6 921.5h0M117.5 926.7h0M136.3 922.3h0M144.4 921.4h0M125.3 926.6h0M164.6 918.4h0M178.7 917.4h0M175.3 916.7h0M121.3 925.5h0M148.3 920.0h0M158.0 919.4h0M107.8 927.7h0M120.4 926.7h0M104.4 930.2h0M88.5 934.4h0M153.4 921.1h0M124.5 925.5h0M102.2 931.6h0" stroke="#2EA02E" stroke-width="1.20" stroke-linecap="round" fill="none" /><path d="M66.5 943.4h0M145.1 921.5h0M116.2 927.2h0M137.7 925.2h0M153.9 919.6h0M176.6 919.1h0M83.4 935.7h0M173.3 917.6h0M178.7 916.9h0M144.3 921.9h0M161.3 919.8h0M99.2 930.6h0M107.9 929.6h0M164.3 919.0h0M103.8 930.5h0M157.1 919.4h0M150.1 919.7h0M161.2 919.6h0M92.0 933.9h0M79.9 936.6h0M99.9 931.1h0M113.4 927.8h0M76.9 938.4h0M136.5 923.8h0" stroke="#228A22" stroke-width="1.20" stroke-linecap="round" fill="none" /><path d="M82.9 936.2h0M77.1 938.2h0M160.7 920.5h0M102.3 930.4h0M156.7 921.5h0M123.0 924.7h0M102.6 929.9h0M118.1 926.3h0M96.9 932.2h0M87.5 933.7h0M154.3 919.0h0M122.4 927.0h0M130.2 924.4h0M173.1 916.5h0M173.9 917.0h0M138.6 921.9h0M166.0 917.6h0M143.9 921.1h0M68.8 940.9h0M79.1 937.6h0M164.8 918.0h0M65.9 944.1h0M96.4 931.8h0M90.4 933.8h0M64.6 941.7h0M138.3 922.9h0M93.5 934.6h0M103.9 930.0h0M84.5 934.6h0M106.6 930.8h0M177.5 919.7h0M142.2 921.7h0M150.3 919.3h0M106.4 929.7h0M112.7 930.3h0M89.9 934.2h0M138.4 922.2h0M151.5 921.2h0M163.4 919.8h0" stroke="#2EA02E" stroke-width="0.80" stroke-linecap="round" fill="none" /><path d="M139.0 921.9h0M66.0 943.4h0M109.9 928.1h0M75.1 938.0h0M118.3 926.0h0M161.0 919.3h0M159.3 919.2h0M74.5 939.7h0M92.6 933.2h0M166.1 918.0h0M136.8 922.4h0M154.9 920.5h0M152.8 920.2h0M99.5 931.8h0M174.7 917.5h0M153.3 918.9h0M169.1 918.5h0M126.5 923.4h0M73.4 939.5h0M171.5 917.3h0M129.5 925.8h0M175.1 915.7h0M115.2 928.1h0M65.6 944.3h0M144.0 923.0h0M143.8 920.1h0M172.3 918.7h0M155.3 920.6h0M76.3 937.1h0M113.3 928.6h0M168.1 917.9h0M123.0 925.5h0M119.3 927.2h0M109.0 929.9h0M134.6 924.9h0M120.1 927.9h0M70.3 941.5h0M127.5 925.1h0M146.9 921.7h0M130.9 924.6h0M107.3 927.8h0M177.7 917.7h0M109.8 929.2h0M142.0 920.7h0M136.3 921.1h0M109.4 928.2h0M114.2 927.1h0M155.4 921.0h0" stroke="#48B848" stroke-width="0.80" stroke-linecap="round" fill="none" /><path d="M82.6 936.7h0M77.2 938.9h0M83.9 935.2h0M118.3 926.3h0M141.8 922.4h0M67.5 941.1h0M110.5 928.1h0M85.5 936.8h0M134.8 921.4h0M103.9 930.1h0M178.1 917.6h0M133.5 922.7h0M86.7 935.2h0M97.9 931.0h0M118.0 925.8h0M179.3 917.5h0M68.1 942.5h0M103.2 931.0h0M146.9 921.4h0M153.1 919.9h0M99.3 931.5h0M177.5 917.1h0M155.2 920.8h0M87.3 934.8h0M126.1 925.4h0M79.1 938.0h0M153.6 920.1h0M103.5 931.3h0M141.4 921.4h0M149.5 920.2h0M97.2 931.9h0M94.7 932.5h0M177.6 918.0h0M144.0 923.2h0M121.7 927.1h0M66.9 943.4h0M171.7 917.8h0M150.7 919.5h0M154.0 920.2h0M69.7 942.1h0M80.4 937.7h0M159.4 917.7h0M134.4 923.3h0M96.2 932.0h0M140.0 921.8h0M90.8 934.2h0M164.1 918.9h0M103.4 928.0h0M83.6 935.8h0M106.7 929.0h0M77.8 937.6h0" stroke="#5AD05A" stroke-width="0.80" stroke-linecap="round" fill="none" /><path d="M79.0 935.3h0M151.6 918.8h0M107.3 930.0h0M162.0 920.2h0M127.8 924.4h0M156.0 919.6h0M120.4 927.8h0M113.1 928.9h0M161.2 920.1h0M147.0 922.1h0M120.7 927.3h0M161.2 919.8h0M155.8 920.3h0M125.2 925.8h0M121.8 925.9h0M162.9 918.9h0M88.9 933.8h0M115.0 927.4h0M65.9 940.2h0M94.2 933.2h0M137.2 923.6h0M146.6 922.2h0M139.6 922.4h0M148.9 920.4h0M161.0 917.1h0M175.7 918.0h0M120.7 925.7h0M104.9 929.9h0M164.5 917.8h0M160.6 919.2h0M64.4 943.4h0M69.5 941.3h0M120.5 926.5h0M73.8 940.2h0M165.6 918.6h0M142.5 920.4h0M165.8 916.9h0M133.5 925.5h0M155.8 919.7h0M134.6 924.2h0" stroke="#3CC03C" stroke-width="0.80" stroke-linecap="round" fill="none" /><path d="M106.7 928.0h0M149.9 920.5h0M130.8 925.1h0M126.0 925.0h0M73.5 939.2h0M75.7 937.9h0M133.8 922.9h0M160.4 920.0h0M155.3 919.5h0M166.6 918.5h0M143.3 921.6h0M137.4 924.3h0M100.8 929.1h0M169.3 919.0h0M150.4 919.9h0M111.4 927.9h0M171.4 918.9h0M137.9 923.7h0M145.3 920.3h0M154.9 920.6h0M111.9 926.9h0M103.4 930.2h0M176.1 916.9h0M99.0 930.7h0M131.0 924.4h0M151.6 920.0h0M175.9 916.3h0M83.1 935.8h0M163.6 920.0h0M71.0 940.3h0M117.1 926.9h0" stroke="#3CC03C" stroke-width="1.20" stroke-linecap="round" fill="none" /></g><g filter="url(#kb)"><path d="M74.7 939.6h0M171.9 934.5h0M158.6 926.4h0M80.4 941.7h0M131.5 906.5h0M161.5 920.5h0M99.7 932.1h0" stroke="#3DB83D" stroke-width="1.60" stroke-linecap="round" fill="none" /><path d="M75.6 908.7h0M175.1 935.4h0M73.9 925.1h0M69.9 939.4h0M131.3 931.8h0M127.7 932.9h0M105.8 936.9h0M104.1 932.9h0M126.9 915.9h0M142.8 924.1h0M161.8 927.5h0M124.8 927.4h0" stroke="#2A7F2A" stroke-width="0.80" stroke-linecap="round" fill="none" /><path d="M174.2 913.4h0M88.4 934.1h0M95.7 908.1h0M64.1 942.4h0M82.9 937.6h0M138.3 929.6h0M178.6 916.6h0" stroke="#3DB83D" stroke-width="1.20" stroke-linecap="round" fill="none" /><path d="M175.2 914.3h0M125.5 924.9h0M150.3 926.8h0M124.2 932.1h0M76.3 943.7h0M136.2 930.8h0M124.3 933.3h0M104.5 934.5h0" stroke="#5AD05A" stroke-width="0.80" stroke-linecap="round" fill="none" /><path d="M106.3 929.2h0M146.7 922.5h0M148.9 919.1h0M104.0 933.9h0" stroke="#5AD05A" stroke-width="1.20" stroke-linecap="round" fill="none" /><path d="M176.7 915.6h0M136.3 925.2h0" stroke="#2E9A2E" stroke-width="1.60" stroke-linecap="round" fill="none" /><path d="M70.2 944.3h0M106.1 939.9h0M99.2 920.0h0M133.1 915.2h0" stroke="#2A7F2A" stroke-width="1.20" stroke-linecap="round" fill="none" /><path d="M136.8 929.0h0M134.2 933.8h0M80.1 939.3h0M143.5 925.1h0M71.2 939.6h0M91.3 940.3h0M110.8 913.9h0M110.4 928.9h0M65.9 907.8h0M120.9 929.3h0M127.1 932.9h0" stroke="#48C848" stroke-width="0.80" stroke-linecap="round" fill="none" /><path d="M131.0 932.5h0M121.0 931.9h0M156.4 923.4h0M162.6 937.0h0M177.6 941.7h0M156.8 920.4h0M96.9 918.0h0" stroke="#2E9A2E" stroke-width="1.20" stroke-linecap="round" fill="none" /><path d="M149.4 927.0h0M142.4 921.1h0M116.5 927.7h0M146.7 907.0h0M169.6 923.3h0M73.9 940.9h0M112.5 940.5h0" stroke="#5AD05A" stroke-width="1.60" stroke-linecap="round" fill="none" /><path d="M114.8 927.5h0M118.4 917.4h0M139.0 924.4h0M86.8 941.2h0M64.4 912.8h0M107.8 941.6h0M141.5 926.9h0M73.8 922.0h0" stroke="#2E9A2E" stroke-width="0.80" stroke-linecap="round" fill="none" /><path d="M80.6 920.8h0M128.5 926.4h0M150.3 919.7h0M153.3 921.1h0" stroke="#2A7F2A" stroke-width="1.60" stroke-linecap="round" fill="none" /><path d="M161.2 924.5h0M173.9 916.1h0M172.7 915.0h0" stroke="#48C848" stroke-width="1.20" stroke-linecap="round" fill="none" /><path d="M85.1 921.2h0M106.0 937.3h0M85.4 940.3h0M165.4 922.7h0" stroke="#3DB83D" stroke-width="0.80" stroke-linecap="round" fill="none" /><path d="M100.9 936.9h0M82.4 911.0h0" stroke="#48C848" stroke-width="1.60" stroke-linecap="round" fill="none" /></g><g filter="url(#kb)"><path d="M68.6 919.5h0M70.2 918.2h0M72.1 915.1h0" stroke="#48C848" stroke-width="2.40" stroke-linecap="round" fill="none" /><path d="M75.9 915.6h0M69.0 906.3h0" stroke="#3DB83D" stroke-width="2.00" stroke-linecap="round" fill="none" /><path d="M68.4 922.0h0M67.3 906.4h0M77.4 907.8h0M67.4 913.8h0" stroke="#5AD05A" stroke-width="2.00" stroke-linecap="round" fill="none" /><path d="M67.9 914.5h0M77.2 909.9h0M77.7 905.4h0M75.3 918.4h0" stroke="#3DB83D" stroke-width="2.40" stroke-linecap="round" fill="none" /><path d="M65.9 907.7h0M64.6 917.6h0" stroke="#2E9A2E" stroke-width="2.00" stroke-linecap="round" fill="none" /><path d="M79.3 921.3h0" stroke="#48C848" stroke-width="2.00" stroke-linecap="round" fill="none" /><path d="M72.6 918.9h0M79.3 912.1h0M82.0 908.1h0" stroke="#2A7F2A" stroke-width="2.00" stroke-linecap="round" fill="none" /><path d="M80.6 918.2h0" stroke="#9AD040" stroke-width="1.60" stroke-linecap="round" fill="none" /><path d="M65.1 921.7h0" stroke="#2E9A2E" stroke-width="1.60" stroke-linecap="round" fill="none" /><path d="M76.5 916.7h0M80.5 910.0h0" stroke="#9AD040" stroke-width="2.00" stroke-linecap="round" fill="none" /><path d="M73.6 913.2h0M67.0 916.0h0" stroke="#2A7F2A" stroke-width="1.60" stroke-linecap="round" fill="none" /><path d="M64.6 911.6h0" stroke="#2E9A2E" stroke-width="2.40" stroke-linecap="round" fill="none" /><path d="M71.9 906.5h0" stroke="#9AD040" stroke-width="1.20" stroke-linecap="round" fill="none" /><path d="M72.3 916.7h0" stroke="#3DB83D" stroke-width="1.20" stroke-linecap="round" fill="none" /><path d="M75.8 919.2h0" stroke="#2A7F2A" stroke-width="2.40" stroke-linecap="round" fill="none" /><path d="M64.2 920.7h0" stroke="#5AD05A" stroke-width="1.20" stroke-linecap="round" fill="none" /></g><g filter="url(#kb)"><ellipse cx="74.5" cy="910.2" rx="1.5" ry="1.1" fill="#12126A"/><ellipse cx="118.9" cy="916.2" rx="1.6" ry="1.5" fill="#181880"/><ellipse cx="141.6" cy="907.7" rx="2.0" ry="1.5" fill="#0E0E5A"/><ellipse cx="179.8" cy="908.8" rx="2.4" ry="1.7" fill="#12126A"/><ellipse cx="81.6" cy="917.7" rx="2.1" ry="1.9" fill="#0E0E5A"/><ellipse cx="110.7" cy="923.1" rx="2.3" ry="2.4" fill="#181880"/><ellipse cx="169.3" cy="910.3" rx="1.8" ry="1.4" fill="#181880"/><ellipse cx="179.9" cy="906.4" rx="1.5" ry="1.4" fill="#12126A"/><ellipse cx="70.9" cy="922.5" rx="1.8" ry="1.6" fill="#0E0E5A"/><ellipse cx="135.3" cy="910.6" rx="1.6" ry="1.6" fill="#0E0E5A"/></g><path d="M64.0,946.5 C66.7,945.4 74.0,942.1 80.0,940.0 C86.0,937.9 92.5,935.9 100.0,934.0 C107.5,932.1 116.7,930.2 125.0,928.5 C133.3,926.8 140.8,925.0 150.0,923.5 C159.2,922.0 175.0,920.2 180.0,919.6" fill="none" stroke="#e8e8e8" stroke-width="0.8" stroke-dasharray="2.2,1.6"/><circle cx="141.50" cy="944.50" r="1.20" fill="#3c3" filter="url(#kb)"/></g>
<text x="82.90" y="920.90" font-size="11.4" font-weight="bold" text-anchor="middle" fill="#fff">BM</text>
<text x="112.60" y="952.70" font-size="11.4" font-weight="bold" text-anchor="middle" fill="#fff">CB</text>
<g clip-path="url(#cm2)"><g filter="url(#kb)"><path d="M275.7 803.0h0M283.5 888.0h0M267.4 763.4h0M248.2 769.0h0M292.0 809.3h0M293.9 792.7h0M284.9 861.4h0M281.3 843.8h0M266.6 794.4h0M281.8 899.1h0M280.1 841.1h0M270.6 882.9h0" stroke="#5A2A10" stroke-width="1.60" stroke-linecap="round" fill="none" /><path d="M293.2 820.5h0M280.7 763.8h0M285.8 886.4h0M253.3 772.9h0M271.3 792.4h0M277.9 797.8h0M284.1 774.5h0M291.1 855.7h0M269.3 808.6h0M263.9 806.0h0M270.5 808.5h0M261.5 781.3h0" stroke="#501410" stroke-width="1.60" stroke-linecap="round" fill="none" /><path d="M259.8 828.2h0M284.3 801.0h0M269.8 845.7h0M264.7 817.5h0M279.6 900.7h0M257.9 767.5h0M284.0 848.0h0M276.5 816.8h0M299.7 810.4h0M290.9 774.8h0M263.3 771.1h0M287.5 828.6h0M300.8 785.8h0M276.3 808.7h0M282.3 895.2h0" stroke="#4A2008" stroke-width="1.20" stroke-linecap="round" fill="none" /><path d="M249.8 794.9h0M248.8 791.6h0M284.1 828.5h0M268.7 874.5h0M284.4 792.0h0M284.1 838.5h0M290.4 896.7h0M263.3 769.9h0M278.0 835.9h0M273.8 852.5h0M284.9 844.4h0M291.2 852.5h0M261.1 797.4h0M297.6 868.0h0M262.2 763.6h0" stroke="#6A1A14" stroke-width="0.80" stroke-linecap="round" fill="none" /><path d="M295.1 860.5h0M275.6 763.8h0M286.5 801.9h0M263.8 857.5h0M287.0 897.3h0M281.7 877.6h0M279.1 827.9h0M287.8 790.8h0M287.5 831.0h0" stroke="#501410" stroke-width="1.20" stroke-linecap="round" fill="none" /><path d="M286.0 789.4h0M282.4 805.1h0M252.2 814.3h0M284.1 800.7h0M301.8 776.9h0M277.6 853.0h0M296.9 802.3h0M259.0 818.0h0M280.5 819.0h0M300.2 814.2h0M299.8 894.6h0M286.7 768.1h0" stroke="#6A1A14" stroke-width="1.20" stroke-linecap="round" fill="none" /><path d="M256.8 806.6h0M275.0 830.6h0M288.6 785.1h0M281.3 848.1h0M264.7 775.5h0M299.9 802.7h0M267.0 858.9h0M302.8 764.0h0M297.5 893.3h0M290.4 860.3h0M265.2 764.5h0M255.7 827.2h0M285.8 879.5h0M275.6 830.3h0M296.0 836.1h0" stroke="#3A3A0C" stroke-width="0.80" stroke-linecap="round" fill="none" /><path d="M282.4 879.3h0M291.0 871.1h0M273.5 843.5h0M253.2 763.9h0M301.9 761.9h0M257.9 805.6h0M277.4 811.9h0M260.9 777.3h0M295.3 894.5h0M294.4 787.9h0M269.7 856.4h0M284.8 842.7h0M291.4 839.1h0M291.9 801.4h0M265.8 831.5h0M296.1 791.0h0" stroke="#4A2008" stroke-width="0.80" stroke-linecap="round" fill="none" /><path d="M266.8 843.4h0M283.0 789.6h0M271.9 766.3h0M251.4 782.0h0M261.2 764.2h0M261.4 796.2h0M249.4 801.2h0M274.1 814.3h0M294.1 778.2h0M257.5 815.8h0M283.9 791.6h0M254.3 828.5h0M267.8 849.9h0M263.2 834.8h0M286.1 858.6h0" stroke="#5A2A10" stroke-width="1.20" stroke-linecap="round" fill="none" /><path d="M289.3 885.8h0M263.3 853.6h0M248.3 784.4h0M277.9 794.9h0M266.1 859.3h0M298.0 780.4h0M293.9 819.0h0M303.3 774.8h0M302.1 776.5h0M271.6 824.2h0M262.1 808.0h0M266.0 855.6h0M290.0 883.4h0M278.1 827.6h0M299.4 792.6h0M262.1 768.2h0M242.3 761.7h0M291.8 869.1h0M294.9 772.7h0" stroke="#2A4A14" stroke-width="0.80" stroke-linecap="round" fill="none" /><path d="M300.9 801.4h0M264.8 827.0h0M293.5 897.3h0M266.2 819.0h0M293.9 809.8h0M274.1 888.9h0M270.3 778.2h0M267.6 830.2h0M273.2 846.2h0M280.7 879.3h0M302.8 781.3h0M292.5 852.6h0M293.2 763.0h0M251.0 799.6h0M250.7 777.6h0M277.0 772.9h0M265.6 767.7h0" stroke="#501410" stroke-width="0.80" stroke-linecap="round" fill="none" /><path d="M286.7 822.3h0M299.9 777.1h0M300.0 899.4h0M286.5 865.6h0M281.1 849.3h0M256.9 824.3h0M292.1 825.9h0M279.6 797.7h0M288.4 778.9h0M303.8 782.8h0M267.8 863.1h0" stroke="#5A2A10" stroke-width="0.80" stroke-linecap="round" fill="none" /><path d="M268.2 811.2h0M262.3 803.6h0M292.0 767.0h0M293.6 814.2h0M275.5 771.3h0M279.4 859.1h0M283.4 856.1h0M278.8 842.8h0M291.9 774.4h0M278.2 781.8h0" stroke="#2A4A14" stroke-width="1.60" stroke-linecap="round" fill="none" /><path d="M280.0 862.1h0M244.8 763.6h0M297.3 851.3h0M291.9 813.7h0M290.7 849.5h0M265.9 766.5h0M280.5 897.0h0M261.7 784.6h0M262.2 820.4h0M301.5 801.3h0M274.4 891.3h0" stroke="#2A4A14" stroke-width="1.20" stroke-linecap="round" fill="none" /><path d="M264.3 860.3h0M297.9 888.1h0M292.4 840.4h0M285.5 901.9h0M282.4 800.5h0M251.2 783.3h0M267.6 865.8h0M277.4 856.0h0M298.1 826.3h0M251.8 793.4h0M295.6 808.4h0" stroke="#3A3A0C" stroke-width="1.20" stroke-linecap="round" fill="none" /><path d="M262.0 807.2h0M295.1 761.9h0M294.0 787.4h0M250.4 779.7h0M250.9 784.6h0" stroke="#3A3A0C" stroke-width="1.60" stroke-linecap="round" fill="none" /><path d="M286.0 795.2h0M259.3 786.9h0M283.2 765.1h0M257.6 799.8h0M288.6 872.0h0M260.5 819.6h0M273.2 890.7h0M266.4 799.5h0" stroke="#4A2008" stroke-width="1.60" stroke-linecap="round" fill="none" /><path d="M263.6 768.6h0M269.5 791.4h0M287.6 805.8h0M277.3 815.5h0M265.8 764.9h0M260.8 833.0h0M295.9 874.5h0" stroke="#6A1A14" stroke-width="1.60" stroke-linecap="round" fill="none" /></g><g filter="url(#kb)"><ellipse cx="268.2" cy="767.0" rx="2.6" ry="2.1" fill="#2A2AEE"/><ellipse cx="274.5" cy="775.4" rx="2.6" ry="2.0" fill="#1E1EB8"/><ellipse cx="285.2" cy="799.4" rx="3.2" ry="3.4" fill="#1818C0"/><ellipse cx="269.1" cy="803.8" rx="2.3" ry="2.3" fill="#1818C0"/><ellipse cx="269.1" cy="775.5" rx="2.7" ry="2.2" fill="#2A2AEE"/><ellipse cx="273.1" cy="783.3" rx="3.0" ry="2.2" fill="#1818C0"/><ellipse cx="268.9" cy="795.0" rx="3.0" ry="2.8" fill="#1212A4"/><ellipse cx="288.0" cy="769.6" rx="3.0" ry="2.6" fill="#1818C0"/><ellipse cx="282.2" cy="791.3" rx="3.3" ry="2.6" fill="#1212A4"/><ellipse cx="284.1" cy="779.7" rx="2.6" ry="2.1" fill="#1C1CD6"/><ellipse cx="263.1" cy="767.4" rx="2.2" ry="1.7" fill="#1212A4"/><ellipse cx="277.1" cy="802.1" rx="3.0" ry="2.9" fill="#2020D0"/><ellipse cx="277.4" cy="766.6" rx="2.9" ry="2.7" fill="#1818C0"/><ellipse cx="264.1" cy="779.9" rx="2.6" ry="2.6" fill="#1818C0"/><ellipse cx="277.6" cy="790.2" rx="3.0" ry="3.0" fill="#1E1EB8"/><ellipse cx="288.6" cy="793.5" rx="2.5" ry="2.1" fill="#1C1CD6"/><ellipse cx="288.9" cy="788.0" rx="3.0" ry="2.3" fill="#1E1EB8"/><ellipse cx="273.3" cy="791.8" rx="3.0" ry="2.3" fill="#2A2AEE"/><ellipse cx="276.3" cy="760.8" rx="2.4" ry="2.1" fill="#2424EC"/><ellipse cx="266.0" cy="771.1" rx="2.4" ry="2.0" fill="#2424EC"/><ellipse cx="281.5" cy="796.2" rx="3.0" ry="2.9" fill="#2424EC"/><ellipse cx="268.0" cy="789.0" rx="2.6" ry="2.4" fill="#1212A4"/><ellipse cx="287.0" cy="764.1" rx="2.4" ry="2.4" fill="#1C1CD6"/><ellipse cx="289.9" cy="776.5" rx="2.6" ry="2.1" fill="#1E1EB8"/><ellipse cx="283.1" cy="805.9" rx="2.7" ry="2.6" fill="#1212A4"/><ellipse cx="279.0" cy="777.9" rx="3.1" ry="3.2" fill="#2424EC"/><ellipse cx="287.6" cy="782.9" rx="2.3" ry="2.2" fill="#2A2AEE"/><ellipse cx="273.7" cy="797.3" rx="3.2" ry="2.4" fill="#2A2AEE"/><ellipse cx="271.4" cy="760.0" rx="2.6" ry="2.2" fill="#1212A4"/><ellipse cx="279.8" cy="784.3" rx="2.3" ry="2.3" fill="#2424EC"/><ellipse cx="282.8" cy="770.5" rx="3.1" ry="3.2" fill="#2424EC"/><ellipse cx="265.9" cy="760.3" rx="2.3" ry="2.3" fill="#1212A4"/><ellipse cx="282.0" cy="764.4" rx="2.8" ry="2.4" fill="#1212A4"/><ellipse cx="265.8" cy="800.0" rx="2.4" ry="2.4" fill="#2A2AEE"/><ellipse cx="284.1" cy="786.4" rx="3.2" ry="3.2" fill="#1212A4"/><ellipse cx="272.3" cy="770.9" rx="2.3" ry="1.8" fill="#1C1CD6"/><ellipse cx="267.5" cy="784.4" rx="3.0" ry="2.6" fill="#2020D0"/><ellipse cx="290.6" cy="760.6" rx="3.2" ry="3.3" fill="#2020D0"/><ellipse cx="278.0" cy="772.2" rx="2.3" ry="1.8" fill="#2424EC"/><ellipse cx="273.5" cy="805.7" rx="2.4" ry="2.3" fill="#1212A4"/><ellipse cx="281.4" cy="817.8" rx="2.4" ry="2.4" fill="#1C1CD6"/><ellipse cx="277.4" cy="833.2" rx="2.7" ry="2.3" fill="#1C1CD6"/><ellipse cx="268.5" cy="808.7" rx="2.0" ry="1.6" fill="#2020D0"/><ellipse cx="272.6" cy="819.8" rx="2.0" ry="1.7" fill="#2A2AEE"/><ellipse cx="286.7" cy="832.9" rx="2.3" ry="1.8" fill="#1212A4"/><ellipse cx="282.7" cy="822.5" rx="2.5" ry="2.4" fill="#1E1EB8"/><ellipse cx="278.0" cy="809.8" rx="2.1" ry="2.1" fill="#1212A4"/><ellipse cx="276.3" cy="825.8" rx="1.8" ry="1.4" fill="#1212A4"/><ellipse cx="281.5" cy="830.5" rx="2.4" ry="2.3" fill="#2424EC"/><ellipse cx="287.3" cy="820.8" rx="2.5" ry="2.4" fill="#1C1CD6"/><ellipse cx="271.1" cy="869.5" rx="2.1" ry="1.6" fill="#1E1EB8"/><ellipse cx="278.8" cy="856.9" rx="2.4" ry="2.5" fill="#1E1EB8"/><ellipse cx="273.9" cy="858.8" rx="2.9" ry="3.0" fill="#2020D0"/><ellipse cx="283.8" cy="864.8" rx="2.6" ry="2.5" fill="#1818C0"/><ellipse cx="279.0" cy="869.8" rx="3.0" ry="2.7" fill="#1818C0"/><ellipse cx="270.7" cy="852.9" rx="2.2" ry="2.1" fill="#1C1CD6"/><ellipse cx="281.6" cy="860.7" rx="3.0" ry="2.4" fill="#2A2AEE"/><ellipse cx="276.9" cy="848.8" rx="1.9" ry="1.4" fill="#2020D0"/><ellipse cx="282.5" cy="851.4" rx="2.3" ry="2.2" fill="#2424EC"/><ellipse cx="275.7" cy="863.5" rx="2.0" ry="1.6" fill="#2A2AEE"/><ellipse cx="291.6" cy="863.8" rx="1.8" ry="1.6" fill="#2020B0"/><ellipse cx="264.2" cy="837.2" rx="1.8" ry="1.9" fill="#2020B0"/><ellipse cx="297.3" cy="885.5" rx="1.7" ry="1.2" fill="#1818A0"/><ellipse cx="279.7" cy="836.0" rx="2.2" ry="1.8" fill="#2020B0"/><ellipse cx="292.0" cy="865.1" rx="1.7" ry="1.8" fill="#1818A0"/><ellipse cx="296.0" cy="794.7" rx="2.1" ry="1.5" fill="#1818A0"/><ellipse cx="234.6" cy="860" rx="1.3" ry="3" fill="#2222BB"/><ellipse cx="253.4" cy="865.5" rx="1.2" ry="2.8" fill="#2222BB"/><ellipse cx="237.0" cy="891" rx="1.2" ry="2.6" fill="#1A1A90"/></g><path d="M236.4,760.0 C237.6,765.2 241.3,780.8 243.7,791.5 C246.1,802.2 248.3,814.0 251.0,824.3 C253.7,834.6 257.4,844.4 260.1,853.5 C262.8,862.6 265.0,870.9 267.4,879.1 C269.8,887.4 273.1,899.0 274.3,903.0" stroke="#7A2A10" stroke-width="2.6" fill="none" opacity="0.9" filter="url(#kb)"/><path d="M236.4,760.0 C237.6,765.2 241.3,780.8 243.7,791.5 C246.1,802.2 248.3,814.0 251.0,824.3 C253.7,834.6 257.4,844.4 260.1,853.5 C262.8,862.6 265.0,870.9 267.4,879.1 C269.8,887.4 273.1,899.0 274.3,903.0" stroke="#B89A28" stroke-width="1.0" fill="none" filter="url(#kb)"/><g filter="url(#kb)"><path d="M236.9 765.8h0M241.2 783.2h0M243.0 789.9h0M238.3 766.6h0M243.7 789.4h0M239.8 778.9h0M249.9 813.1h0M250.6 821.6h0M244.4 793.8h0M249.9 824.0h0M251.5 823.6h0M244.0 797.8h0M244.3 794.3h0M257.9 845.4h0M252.2 828.6h0M254.5 837.0h0M258.1 845.9h0M258.6 847.7h0M258.6 851.2h0M255.5 840.2h0M263.2 865.8h0M266.6 876.5h0M263.1 862.7h0M262.8 862.9h0M263.8 865.7h0M262.2 860.8h0M267.9 881.9h0M273.9 900.1h0M269.1 887.1h0M273.0 895.6h0M274.2 900.9h0" stroke="#D8C030" stroke-width="0.80" stroke-linecap="round" fill="none" /><path d="M236.7 762.1h0M241.1 784.9h0M239.3 770.6h0M242.8 783.4h0M245.1 795.4h0M250.5 818.2h0M247.3 807.2h0M249.3 818.6h0M249.8 820.1h0M245.9 800.5h0M249.4 817.0h0M244.2 792.1h0M245.7 798.4h0M257.0 844.0h0M259.3 849.6h0M258.1 844.1h0M258.4 848.8h0M258.4 850.7h0M255.9 839.9h0M256.6 842.3h0M256.5 841.7h0M252.8 832.5h0M258.0 845.1h0M257.6 842.5h0M251.9 829.1h0M263.4 862.6h0M266.9 877.8h0M261.5 860.7h0M264.0 867.6h0M264.5 873.7h0M262.0 858.2h0M264.9 868.8h0M273.5 898.1h0M267.9 885.7h0M271.3 891.9h0M271.0 891.4h0M268.1 879.1h0M267.5 881.8h0M271.6 891.9h0M269.9 889.6h0M272.0 893.9h0" stroke="#C06020" stroke-width="1.20" stroke-linecap="round" fill="none" /><path d="M239.4 766.5h0M241.7 779.1h0M238.5 769.0h0M247.2 810.5h0M265.0 871.0h0M272.7 897.8h0" stroke="#C06020" stroke-width="1.60" stroke-linecap="round" fill="none" /><path d="M238.4 772.1h0M237.1 760.8h0M239.0 771.3h0M241.7 779.1h0M243.6 791.2h0M236.9 761.7h0M248.0 818.1h0M249.4 814.2h0M250.2 819.0h0M244.1 791.5h0M252.4 827.7h0M259.3 851.1h0M257.2 847.3h0M254.2 837.0h0M256.3 840.5h0M257.8 848.7h0M263.4 862.8h0M265.3 875.7h0M265.5 875.3h0M263.2 867.9h0M264.0 865.7h0M266.0 874.8h0M264.6 867.6h0M261.9 862.9h0M268.3 882.1h0M274.1 902.2h0M270.6 890.8h0M271.9 888.9h0M273.5 900.0h0M270.6 890.7h0" stroke="#C8A028" stroke-width="0.80" stroke-linecap="round" fill="none" /><path d="M239.7 769.6h0M239.8 773.3h0M241.4 783.7h0M239.5 774.3h0M238.2 766.7h0M237.1 766.9h0M239.4 776.1h0M243.0 789.3h0M239.7 772.6h0M249.3 817.3h0M248.2 810.1h0M247.7 807.4h0M247.2 806.5h0M246.9 801.4h0M245.4 799.3h0M249.1 823.0h0M245.8 799.2h0M245.1 796.5h0M252.9 831.3h0M257.8 848.2h0M254.3 827.0h0M260.4 851.2h0M259.4 850.3h0M258.3 851.8h0M253.9 832.7h0M265.4 872.3h0M265.8 873.1h0M264.0 868.3h0M263.1 864.2h0M261.4 858.2h0M267.1 877.9h0M261.1 857.5h0M266.7 876.1h0M271.3 890.9h0M268.7 882.7h0M271.2 891.4h0" stroke="#D8C030" stroke-width="1.20" stroke-linecap="round" fill="none" /><path d="M241.8 784.3h0M243.6 789.9h0M242.3 780.7h0M242.2 780.1h0M237.9 764.3h0M239.3 770.1h0M246.4 800.8h0M245.0 793.7h0M246.1 799.2h0M245.7 801.1h0M246.1 801.6h0M247.0 800.7h0M247.1 808.5h0M250.3 824.1h0M245.9 802.4h0M248.0 813.1h0M251.7 828.6h0M253.5 835.4h0M254.2 831.8h0M257.9 844.1h0M257.2 847.3h0M267.0 877.1h0M265.9 876.1h0M268.1 879.0h0M270.0 888.5h0M270.4 889.8h0M272.3 896.8h0M271.1 892.5h0" stroke="#C06020" stroke-width="0.80" stroke-linecap="round" fill="none" /><path d="M243.6 790.5h0M240.5 782.9h0M241.5 774.0h0M237.0 762.8h0M240.7 784.1h0M243.7 789.8h0M239.3 776.6h0M241.2 779.9h0M240.2 777.3h0M239.3 772.4h0M235.7 760.2h0M239.5 780.4h0M243.2 785.7h0M241.8 786.2h0M243.3 789.5h0M246.5 803.2h0M245.6 801.3h0M249.4 815.7h0M249.4 817.1h0M245.8 800.2h0M247.0 805.7h0M247.4 808.0h0M243.9 791.6h0M251.6 820.3h0M246.9 805.4h0M246.2 803.3h0M258.0 845.3h0M259.1 852.6h0M253.0 829.5h0M252.9 825.8h0M252.4 827.9h0M257.4 838.8h0M266.5 877.2h0M263.4 865.2h0M260.0 855.4h0M266.5 875.2h0M262.4 859.4h0M273.2 897.2h0M268.8 881.9h0M271.3 896.0h0M270.0 889.5h0M268.7 888.4h0M270.6 888.9h0M269.3 886.4h0M269.5 889.2h0M268.1 881.7h0M273.1 897.8h0" stroke="#E0D040" stroke-width="1.20" stroke-linecap="round" fill="none" /><path d="M240.3 774.6h0M241.1 783.0h0M237.4 765.6h0M238.4 769.5h0M238.7 771.7h0M239.1 766.8h0M242.0 784.6h0M237.2 760.4h0M239.3 776.1h0M251.1 815.8h0M245.8 798.3h0M244.8 799.1h0M247.0 805.6h0M246.5 809.9h0M243.9 794.5h0M246.3 802.3h0M246.6 805.7h0M251.2 827.8h0M259.6 852.7h0M260.0 850.7h0M259.5 851.7h0M253.9 836.1h0M257.0 840.5h0M256.8 843.4h0M251.6 826.7h0M257.9 848.4h0M265.6 870.1h0M265.8 877.3h0M264.6 874.2h0M264.0 864.3h0M260.5 858.7h0M267.1 878.2h0M267.5 877.9h0M268.1 880.1h0M267.8 879.8h0M272.3 897.3h0" stroke="#A84018" stroke-width="0.80" stroke-linecap="round" fill="none" /><path d="M236.2 761.7h0M243.6 790.5h0M240.8 779.0h0M240.0 775.9h0M239.2 771.5h0M240.3 779.6h0M241.6 779.3h0M240.5 778.9h0M243.6 789.1h0M246.4 807.3h0M248.2 813.5h0M246.4 807.1h0M249.5 818.3h0M250.9 820.4h0M251.0 821.8h0M258.2 850.3h0M252.5 829.6h0M257.5 844.9h0M258.1 848.0h0M257.8 847.2h0M251.1 824.8h0M259.0 851.8h0M254.2 832.5h0M264.3 871.3h0M263.1 866.4h0M264.8 865.7h0M265.8 872.3h0M262.0 860.1h0M262.5 859.6h0M271.9 894.6h0M268.8 883.5h0M267.5 881.2h0M268.2 879.7h0M271.8 898.0h0M268.1 883.4h0M272.1 894.0h0" stroke="#B0B030" stroke-width="1.20" stroke-linecap="round" fill="none" /><path d="M238.9 771.8h0M242.9 790.8h0M242.2 780.1h0M240.8 773.1h0M242.9 787.8h0M238.0 766.1h0M236.3 760.6h0M243.6 790.1h0M236.6 760.9h0M240.0 772.7h0M249.0 812.3h0M251.5 824.2h0M251.9 823.8h0M245.0 803.5h0M245.3 805.4h0M246.0 806.0h0M246.7 806.9h0M244.2 791.6h0M246.3 801.7h0M249.3 820.5h0M249.3 818.5h0M256.0 841.1h0M259.4 850.0h0M259.0 847.3h0M254.3 834.2h0M255.8 840.9h0M256.0 843.5h0M257.8 846.1h0M259.1 846.8h0M256.0 842.4h0M261.7 856.4h0M263.1 865.7h0M263.9 866.9h0M264.4 869.1h0M262.0 860.1h0M268.3 880.2h0M267.8 881.5h0M270.5 887.5h0M273.3 892.4h0M270.9 889.8h0M272.9 899.0h0" stroke="#C8A028" stroke-width="1.20" stroke-linecap="round" fill="none" /><path d="M238.2 762.0h0M240.1 776.0h0M249.2 818.1h0M258.7 850.7h0M260.2 855.2h0M267.2 878.1h0M261.8 859.6h0M260.6 858.9h0M271.5 901.0h0M270.3 888.1h0" stroke="#D8C030" stroke-width="1.60" stroke-linecap="round" fill="none" /><path d="M240.7 784.1h0M242.7 789.5h0M243.8 791.0h0M237.3 769.5h0M247.2 810.0h0M243.9 792.2h0M248.6 814.8h0M244.8 803.9h0M248.3 814.4h0M244.9 799.8h0M247.9 814.1h0M253.5 831.6h0M254.4 836.5h0M252.5 826.8h0M255.0 837.0h0M259.3 851.7h0M260.6 853.5h0M257.1 844.3h0M259.3 853.6h0M260.1 853.8h0M260.9 858.9h0M261.8 858.2h0M265.2 873.4h0M272.3 894.7h0M273.3 898.1h0" stroke="#A84018" stroke-width="1.20" stroke-linecap="round" fill="none" /><path d="M241.6 779.6h0M236.1 766.5h0M245.6 801.7h0M271.3 893.4h0" stroke="#A84018" stroke-width="1.60" stroke-linecap="round" fill="none" /><path d="M239.7 775.4h0M241.2 780.9h0M238.5 770.4h0M243.4 793.2h0M249.0 819.8h0M244.8 802.4h0M269.1 885.1h0M267.2 880.6h0M269.7 884.0h0M274.0 899.8h0" stroke="#E0D040" stroke-width="1.60" stroke-linecap="round" fill="none" /><path d="M236.9 761.4h0M236.3 761.0h0M235.3 761.0h0M242.1 790.4h0M245.1 792.7h0M242.7 791.9h0M254.5 833.4h0M255.6 839.4h0M257.7 843.3h0M253.6 836.3h0M265.9 874.3h0M265.7 873.6h0M262.8 864.6h0M273.5 900.4h0" stroke="#C8A028" stroke-width="1.60" stroke-linecap="round" fill="none" /><path d="M238.7 766.3h0M242.4 788.5h0M244.2 790.9h0M237.8 763.2h0M244.3 794.2h0M249.5 817.7h0M248.2 816.4h0M245.0 794.1h0M248.4 814.0h0M258.2 847.6h0M252.5 828.6h0M255.6 839.0h0M255.3 840.6h0M259.9 851.7h0M262.8 864.9h0M266.1 870.4h0M259.4 855.6h0M265.6 877.9h0M262.1 861.0h0M262.6 863.2h0M267.7 879.7h0M274.7 900.9h0M273.2 897.2h0M271.0 889.2h0M268.7 883.1h0M271.8 896.5h0M275.0 902.8h0M273.5 901.4h0M268.6 883.8h0M273.4 898.6h0" stroke="#B0B030" stroke-width="0.80" stroke-linecap="round" fill="none" /><path d="M239.8 769.8h0M241.5 780.8h0M244.0 799.5h0M251.0 823.9h0M251.0 819.7h0M245.1 798.0h0M247.3 810.4h0M243.5 793.9h0M244.7 793.2h0M253.1 829.0h0M252.0 831.1h0M255.6 842.9h0M263.7 866.1h0M262.6 861.9h0M261.5 858.6h0M263.9 866.2h0M265.9 873.6h0M261.2 859.2h0M273.2 901.4h0M267.6 879.4h0" stroke="#E0D040" stroke-width="0.80" stroke-linecap="round" fill="none" /><path d="M237.7 760.9h0M239.3 768.6h0M245.2 798.3h0M249.7 817.6h0M252.1 829.5h0M253.3 833.1h0M258.0 848.8h0M251.0 827.0h0M260.4 857.2h0" stroke="#B0B030" stroke-width="1.60" stroke-linecap="round" fill="none" /></g><path d="M305.8,760.0 C305.6,766.8 305.7,790.8 304.9,800.6 C304.1,810.4 302.3,813.7 301.2,818.9 C300.1,824.1 298.8,825.5 298.5,831.6 C298.2,837.7 298.8,846.9 299.4,855.4 C300.0,863.9 301.3,874.8 302.1,882.7 C302.9,890.6 303.9,899.6 304.3,903.0" stroke="#7A2A10" stroke-width="2.6" fill="none" opacity="0.9" filter="url(#kb)"/><path d="M305.8,760.0 C305.6,766.8 305.7,790.8 304.9,800.6 C304.1,810.4 302.3,813.7 301.2,818.9 C300.1,824.1 298.8,825.5 298.5,831.6 C298.2,837.7 298.8,846.9 299.4,855.4 C300.0,863.9 301.3,874.8 302.1,882.7 C302.9,890.6 303.9,899.6 304.3,903.0" stroke="#B89A28" stroke-width="1.0" fill="none" filter="url(#kb)"/><g filter="url(#kb)"><path d="M306.3 770.7h0M304.0 787.6h0M304.3 781.5h0M305.5 763.9h0M304.0 783.4h0M304.1 800.1h0M305.0 777.1h0M306.7 791.8h0M306.3 764.7h0M304.6 792.5h0M304.3 802.1h0M303.3 816.4h0M303.4 807.5h0M303.2 814.5h0M302.1 812.8h0M303.7 810.9h0M300.4 820.5h0M300.0 850.5h0M297.8 842.0h0M299.7 843.3h0M298.2 849.0h0M300.0 841.2h0M300.9 871.5h0M300.9 865.4h0M301.2 875.5h0M300.9 861.6h0M300.9 869.4h0M300.0 867.0h0M298.9 857.3h0M300.4 865.8h0M302.5 892.5h0M301.4 898.0h0M302.8 885.1h0M302.3 886.1h0M302.6 889.9h0M303.6 891.6h0M303.1 897.2h0" stroke="#E0D040" stroke-width="1.20" stroke-linecap="round" fill="none" /><path d="M304.9 785.1h0M305.1 785.2h0M305.3 786.1h0M305.2 782.4h0M305.6 780.7h0M305.3 774.1h0M302.9 811.6h0M305.1 802.0h0M298.0 829.1h0M298.5 841.5h0M297.9 839.4h0M299.6 835.4h0M298.5 839.9h0M298.8 843.5h0M300.1 860.8h0M304.4 900.2h0M302.6 891.6h0M304.0 899.0h0M302.3 886.5h0M303.5 895.8h0M303.7 894.2h0M301.9 889.7h0M302.7 888.9h0M302.8 888.7h0" stroke="#C8A028" stroke-width="0.80" stroke-linecap="round" fill="none" /><path d="M304.8 764.9h0M305.8 781.6h0M306.0 770.7h0M305.6 791.6h0M306.3 762.3h0M304.5 779.6h0M304.4 797.9h0M304.7 793.4h0M305.6 767.1h0M304.8 798.0h0M306.1 779.9h0M306.5 789.5h0M303.4 811.9h0M302.3 812.8h0M303.2 813.1h0M301.7 810.5h0M303.6 811.5h0M303.6 809.7h0M301.6 813.5h0M298.1 828.9h0M298.8 828.3h0M300.7 821.6h0M301.9 819.6h0M301.6 820.3h0M300.2 842.0h0M298.5 855.2h0M298.5 836.4h0M298.5 843.1h0M298.6 844.9h0M298.1 836.6h0M301.3 869.3h0M303.5 876.6h0M299.6 868.3h0M301.3 879.4h0M299.2 860.3h0M299.8 859.1h0M299.5 859.5h0M302.5 883.5h0M302.0 886.5h0M303.5 902.4h0M302.3 883.2h0" stroke="#B0B030" stroke-width="1.20" stroke-linecap="round" fill="none" /><path d="M306.1 786.6h0M305.8 779.1h0M307.2 791.5h0M306.0 785.0h0M305.4 786.4h0M305.5 775.2h0M306.5 763.3h0M301.5 816.6h0M301.6 814.2h0M300.9 817.9h0M301.1 817.2h0M301.8 818.2h0M302.5 808.8h0M303.6 812.9h0M298.9 826.5h0M298.6 829.3h0M300.4 828.8h0M298.6 833.9h0M299.7 832.5h0M299.6 850.0h0M299.6 850.6h0M298.0 835.4h0M299.6 851.2h0M298.9 840.7h0M299.6 856.3h0M302.3 875.6h0M302.0 882.5h0M302.4 888.6h0M304.4 899.1h0M303.0 885.7h0M303.8 884.9h0" stroke="#D8C030" stroke-width="1.20" stroke-linecap="round" fill="none" /><path d="M303.3 797.9h0M306.2 776.3h0M305.6 762.5h0M306.9 781.2h0M304.9 782.9h0M305.0 789.9h0M304.9 795.8h0M306.3 768.7h0M304.8 796.2h0M301.7 811.1h0M302.0 813.1h0M302.3 816.7h0M303.5 810.4h0M298.4 829.1h0M300.3 820.7h0M299.9 830.0h0M298.0 831.3h0M298.9 853.2h0M300.4 855.1h0M299.9 855.0h0M299.9 853.4h0M299.4 839.5h0M302.3 880.8h0M298.3 863.6h0M302.0 876.7h0M301.2 873.6h0M303.4 898.5h0M303.4 891.1h0M303.5 895.2h0M304.8 897.9h0M303.2 896.8h0" stroke="#B0B030" stroke-width="0.80" stroke-linecap="round" fill="none" /><path d="M306.5 772.5h0M304.5 791.2h0M305.3 760.6h0M305.5 794.4h0M306.2 769.0h0M305.6 783.4h0M305.8 768.3h0M306.8 765.5h0M304.7 794.3h0M305.3 790.1h0M304.7 766.3h0M303.9 806.7h0M301.2 813.2h0M304.6 808.0h0M304.3 805.7h0M300.3 824.9h0M298.9 828.3h0M299.6 830.3h0M300.4 825.6h0M298.1 830.1h0M297.9 837.8h0M300.6 850.2h0M299.4 836.1h0M298.8 850.0h0M299.1 852.6h0M298.2 841.9h0M298.4 852.8h0M298.3 833.5h0M300.9 870.8h0M300.9 869.0h0M303.3 875.0h0M300.1 868.8h0M300.1 865.6h0M301.4 874.6h0M302.2 882.0h0M301.5 874.5h0M300.5 859.8h0M305.1 900.2h0M302.7 890.8h0M303.4 896.5h0M304.5 892.5h0M303.1 888.9h0M303.4 894.1h0M303.2 886.8h0M304.2 897.2h0M305.4 898.5h0" stroke="#C06020" stroke-width="1.20" stroke-linecap="round" fill="none" /><path d="M305.0 771.1h0M305.4 791.0h0M306.0 802.8h0M302.0 811.9h0M304.1 808.0h0M299.4 827.1h0M298.8 833.2h0M300.8 858.9h0M300.8 873.5h0M299.4 872.8h0M304.5 900.4h0M301.2 885.4h0" stroke="#A84018" stroke-width="1.60" stroke-linecap="round" fill="none" /><path d="M305.5 766.7h0M305.7 775.2h0M303.6 792.4h0M305.6 787.7h0M304.7 761.8h0M305.9 798.6h0M305.5 764.7h0M305.8 769.6h0M304.2 779.4h0M306.1 774.8h0M306.0 773.7h0M305.5 780.5h0M305.5 768.5h0M305.6 785.9h0M304.8 796.8h0M303.7 809.2h0M299.9 827.9h0M299.6 820.5h0M300.7 819.6h0M300.7 828.7h0M298.5 833.1h0M299.3 840.3h0M298.1 853.8h0M299.4 852.1h0M298.8 843.5h0M299.7 854.0h0M298.3 854.8h0M300.0 854.3h0M298.4 840.4h0M300.4 866.7h0M299.2 856.0h0M301.0 877.2h0M300.7 870.1h0M300.4 867.4h0M300.7 863.8h0M301.6 880.6h0M299.7 867.0h0M303.4 893.4h0M302.1 883.6h0M302.9 890.8h0M304.1 902.4h0" stroke="#A84018" stroke-width="1.20" stroke-linecap="round" fill="none" /><path d="M306.2 795.8h0M305.1 778.4h0M305.6 763.2h0M306.8 769.7h0M305.0 788.4h0M304.4 788.5h0M304.1 795.8h0M304.5 784.1h0M300.8 818.8h0M300.3 818.8h0M302.0 810.2h0M301.6 814.5h0M301.1 817.3h0M299.7 830.4h0M299.0 826.7h0M299.1 824.5h0M299.5 831.5h0M297.5 837.0h0M298.3 846.1h0M300.2 843.0h0M298.2 836.4h0M298.9 843.9h0M299.2 858.8h0M302.0 878.7h0M301.2 860.3h0M303.4 878.2h0M301.3 866.2h0M302.4 889.4h0M302.2 891.4h0M304.0 892.3h0" stroke="#A84018" stroke-width="0.80" stroke-linecap="round" fill="none" /><path d="M305.1 788.0h0M306.3 765.6h0M306.2 763.0h0M303.9 797.4h0M307.0 764.6h0M299.3 823.4h0M300.1 826.5h0M302.7 878.5h0M299.8 859.2h0M302.6 879.6h0M300.0 866.0h0" stroke="#B0B030" stroke-width="1.60" stroke-linecap="round" fill="none" /><path d="M305.0 784.9h0M305.2 799.8h0M305.1 783.6h0M305.2 792.3h0M306.2 798.9h0M305.8 765.2h0M306.1 775.8h0M302.2 816.8h0M298.9 830.7h0M300.8 823.0h0M300.1 847.1h0M299.4 833.1h0M299.4 849.2h0M298.7 839.9h0M300.2 862.9h0M300.4 865.0h0M300.5 879.0h0M301.1 872.8h0M301.0 878.5h0M299.2 856.8h0M300.6 869.9h0M301.1 868.8h0M303.2 885.7h0M301.2 887.6h0M303.4 889.4h0" stroke="#E0D040" stroke-width="0.80" stroke-linecap="round" fill="none" /><path d="M306.0 799.3h0M305.6 768.7h0M305.5 765.2h0M299.3 843.0h0M301.0 872.8h0M301.2 872.9h0M304.5 900.5h0M304.2 897.9h0" stroke="#C06020" stroke-width="1.60" stroke-linecap="round" fill="none" /><path d="M305.8 790.0h0M305.7 760.8h0M306.1 761.4h0M304.5 799.2h0M305.3 780.0h0M306.1 784.0h0M306.6 779.7h0M303.5 807.8h0M301.6 815.3h0M304.8 804.5h0M305.4 804.3h0M302.2 814.1h0M302.2 815.0h0M304.1 810.4h0M301.4 815.4h0M299.0 844.8h0M299.4 849.0h0M297.8 832.0h0M298.6 841.4h0M299.9 833.7h0M299.4 854.2h0M302.8 882.6h0M301.6 879.4h0M299.4 872.5h0M300.8 861.8h0M303.2 897.2h0M302.6 892.7h0M305.0 898.8h0M304.5 896.3h0" stroke="#C06020" stroke-width="0.80" stroke-linecap="round" fill="none" /><path d="M304.2 799.3h0M305.8 784.9h0M304.8 764.3h0M302.3 810.3h0M299.7 852.9h0" stroke="#D8C030" stroke-width="1.60" stroke-linecap="round" fill="none" /><path d="M306.2 765.9h0M301.9 811.1h0M298.5 845.2h0M299.0 854.2h0M300.8 855.1h0M298.0 834.4h0M300.6 873.7h0M303.4 888.5h0M302.4 886.8h0M303.6 886.9h0M303.5 891.6h0" stroke="#E0D040" stroke-width="1.60" stroke-linecap="round" fill="none" /><path d="M306.7 774.8h0M305.5 763.8h0M304.4 795.1h0M304.8 773.2h0M305.2 786.9h0M305.8 790.4h0M306.5 784.1h0M305.3 778.8h0M305.5 760.0h0M304.8 781.7h0M305.0 780.3h0M305.3 801.5h0M303.4 811.5h0M304.0 811.1h0M298.7 829.2h0M300.4 819.5h0M299.4 822.9h0M300.0 854.1h0M298.6 848.3h0M299.0 851.5h0M300.6 869.1h0M302.0 875.4h0M302.0 875.1h0M301.1 875.9h0M300.5 857.3h0M300.4 862.3h0M299.4 863.7h0M299.6 869.4h0M302.6 879.2h0M299.6 868.3h0M299.1 860.4h0M300.4 872.1h0" stroke="#C8A028" stroke-width="1.20" stroke-linecap="round" fill="none" /><path d="M306.7 761.1h0M305.7 795.0h0M305.2 793.7h0M305.1 784.0h0M304.8 791.4h0M306.0 764.2h0M306.2 782.0h0M305.8 765.9h0M302.4 816.0h0M301.9 817.8h0M300.3 818.5h0M304.7 803.1h0M300.1 823.4h0M298.3 827.3h0M300.2 822.0h0M298.9 828.9h0M299.8 824.6h0M299.3 843.3h0M299.4 839.9h0M297.9 852.4h0M299.5 853.5h0M299.1 832.3h0M301.2 875.5h0M303.0 881.2h0M300.2 865.5h0M299.9 876.3h0M303.1 881.9h0M300.5 860.7h0M301.6 891.3h0M303.9 887.4h0" stroke="#D8C030" stroke-width="0.80" stroke-linecap="round" fill="none" /><path d="M305.6 766.7h0M306.0 786.9h0M304.5 768.2h0M305.4 761.0h0M303.7 809.9h0M298.5 834.5h0M300.2 866.8h0M301.3 869.7h0M303.6 893.3h0M303.4 885.9h0" stroke="#C8A028" stroke-width="1.60" stroke-linecap="round" fill="none" /></g><circle cx="294.80" cy="794.20" r="2.20" fill="#D8D030" filter="url(#kb)"/><path d="M279.4 774.6h0M293.0 785.9h0M281.0 843.3h0M289.9 800.5h0M268.1 788.1h0M302.4 770.2h0M266.1 812.7h0M252.5 767.0h0M263.0 849.3h0M256.5 784.7h0M296.3 782.9h0M267.8 793.3h0M262.8 764.9h0" stroke="#E02020" stroke-width="0.80" stroke-linecap="round" fill="none" /><path d="M291.5 831.9h0M275.5 764.7h0M274.8 823.8h0M289.9 825.4h0M295.0 847.6h0M289.9 786.3h0M262.1 811.4h0M277.1 799.2h0" stroke="#FF3030" stroke-width="1.20" stroke-linecap="round" fill="none" /><path d="M253.4 820.5h0M302.9 802.4h0M254.8 767.6h0M274.4 807.5h0M287.8 800.5h0M272.2 868.1h0M245.7 773.5h0M278.1 860.0h0M267.0 813.4h0M269.3 826.0h0M278.6 817.5h0M274.4 810.3h0M267.0 831.6h0M291.9 769.7h0M294.0 790.4h0" stroke="#FF3030" stroke-width="0.80" stroke-linecap="round" fill="none" /><path d="M281.2 893.0h0M287.4 820.4h0M289.9 763.6h0M245.2 780.7h0" stroke="#E02020" stroke-width="1.20" stroke-linecap="round" fill="none" /><path d="M233.4,760.0 C234.6,765.2 238.3,780.8 240.7,791.5 C243.1,802.2 245.3,814.0 248.0,824.3 C250.7,834.6 254.4,844.4 257.1,853.5 C259.8,862.6 262.0,870.9 264.4,879.1 C266.8,887.4 270.1,899.0 271.3,903.0" fill="none" stroke="#e8e8e8" stroke-width="0.8" stroke-dasharray="2.2,1.6"/><path d="M308.8,760.0 C308.6,766.8 308.7,790.8 307.9,800.6 C307.1,810.4 305.3,813.7 304.2,818.9 C303.1,824.1 301.8,825.5 301.5,831.6 C301.2,837.7 301.8,846.9 302.4,855.4 C303.0,863.9 304.3,874.8 305.1,882.7 C305.9,890.6 306.9,899.6 307.3,903.0" fill="none" stroke="#e8e8e8" stroke-width="0.8" stroke-dasharray="2.2,1.6"/></g>
<text x="280.80" y="829.40" font-size="11.4" font-weight="bold" text-anchor="middle" fill="#fff">BM</text>
<text x="243.70" y="879.50" font-size="11.4" font-weight="bold" text-anchor="middle" fill="#fff">TB</text>
<text x="326.00" y="892.60" font-size="5.2" font-weight="bold" text-anchor="middle" fill="#fff">50μm</text>
<rect x="316.70" y="896.00" width="18.60" height="2.20" fill="#fff" />
<g clip-path="url(#cm2b)"><ellipse cx="235.1" cy="912.3" rx="3.6" ry="2.6" fill="#2020D0" filter="url(#kb)"/><ellipse cx="242.1" cy="915.8" rx="3.0" ry="2.4" fill="#1A1AB0" filter="url(#kb)"/><ellipse cx="258.8" cy="908.6" rx="5.0" ry="3.0" fill="#2424E0" filter="url(#kb)"/><ellipse cx="272.8" cy="909" rx="3.6" ry="2.8" fill="#2020D8" filter="url(#kb)"/><ellipse cx="264" cy="906.5" rx="3.0" ry="2.0" fill="#2A2AF0" filter="url(#kb)"/><ellipse cx="295.6" cy="906" rx="3.4" ry="2.2" fill="#2020D0" filter="url(#kb)"/><ellipse cx="321.9" cy="912.3" rx="3.6" ry="3.4" fill="#2626E8" filter="url(#kb)"/><ellipse cx="290" cy="910" rx="2.2" ry="1.8" fill="#1818A0" filter="url(#kb)"/><ellipse cx="229" cy="906" rx="2.4" ry="1.6" fill="#1A1AB0" filter="url(#kb)"/><ellipse cx="253.5" cy="916.6" rx="6.0" ry="4.2" fill="#5A6A18" filter="url(#kb)"/><ellipse cx="272.8" cy="914.9" rx="5.0" ry="4.0" fill="#5A6A18" filter="url(#kb)"/><ellipse cx="300" cy="921.9" rx="5.2" ry="4.2" fill="#5A6A18" filter="url(#kb)"/><ellipse cx="313.1" cy="914.9" rx="4.6" ry="4.0" fill="#5A6A18" filter="url(#kb)"/><ellipse cx="327.1" cy="915.8" rx="5.2" ry="4.4" fill="#5A6A18" filter="url(#kb)"/><g filter="url(#kb)"><path d="M248.7 917.7h0M258.5 918.7h0M275.7 917.6h0M295.8 924.1h0M304.4 922.9h0M296.9 922.2h0M317.2 915.6h0M328.5 913.3h0" stroke="#B8C03A" stroke-width="0.80" stroke-linecap="round" fill="none" /><path d="M256.9 917.8h0M257.9 918.7h0M255.7 915.9h0M269.5 913.3h0M327.4 917.6h0" stroke="#C8A830" stroke-width="1.60" stroke-linecap="round" fill="none" /><path d="M252.0 916.0h0M254.4 912.7h0" stroke="#D0C848" stroke-width="0.80" stroke-linecap="round" fill="none" /><path d="M253.9 915.7h0M274.0 915.6h0M301.7 922.6h0M301.5 920.0h0M298.4 925.5h0M296.8 923.4h0M312.6 914.9h0M309.0 913.0h0M314.7 911.5h0M312.8 913.4h0M328.7 916.3h0M327.5 914.1h0M323.4 913.7h0" stroke="#B8C03A" stroke-width="1.20" stroke-linecap="round" fill="none" /><path d="M253.7 914.9h0M253.2 916.7h0M271.5 913.1h0M269.3 917.1h0M304.3 921.4h0M301.4 923.7h0M312.0 917.7h0M316.3 912.1h0M313.1 916.6h0M326.0 915.9h0M324.4 915.6h0M322.8 917.0h0" stroke="#7AA028" stroke-width="1.60" stroke-linecap="round" fill="none" /><path d="M253.9 913.1h0M251.9 916.5h0M253.4 913.3h0M255.1 918.1h0M269.8 913.4h0M275.0 912.4h0M275.2 915.9h0M275.9 913.4h0M299.1 922.3h0M299.7 919.9h0M313.1 914.8h0M327.0 919.8h0M328.4 917.1h0" stroke="#C8A830" stroke-width="1.20" stroke-linecap="round" fill="none" /><path d="M254.3 912.4h0M273.3 913.9h0M298.2 921.1h0M298.6 925.3h0M310.8 913.9h0M326.5 916.5h0M324.2 912.5h0M323.7 916.4h0M325.1 917.7h0" stroke="#98B030" stroke-width="1.20" stroke-linecap="round" fill="none" /><path d="M248.1 918.0h0M255.2 918.8h0M272.0 913.9h0M270.4 913.4h0M273.6 912.9h0M276.4 917.5h0M301.5 923.2h0M299.1 924.1h0M309.8 912.9h0M316.0 912.1h0M316.9 914.5h0M330.5 913.9h0M331.3 914.5h0" stroke="#7AA028" stroke-width="1.20" stroke-linecap="round" fill="none" /><path d="M256.0 919.3h0M271.2 912.2h0M271.9 915.9h0M273.6 913.2h0M298.3 919.2h0M326.1 915.0h0" stroke="#D0C848" stroke-width="1.60" stroke-linecap="round" fill="none" /><path d="M258.0 914.9h0M258.9 915.8h0M269.1 913.6h0M312.9 917.4h0M327.3 911.6h0M324.8 912.9h0" stroke="#C8A830" stroke-width="0.80" stroke-linecap="round" fill="none" /><path d="M258.0 916.7h0M304.9 922.7h0M313.0 914.6h0M314.0 913.1h0" stroke="#7AA028" stroke-width="0.80" stroke-linecap="round" fill="none" /><path d="M256.0 915.0h0M268.7 914.2h0M295.4 920.6h0M297.2 919.6h0M298.6 921.1h0M315.4 916.2h0M309.3 916.8h0M311.7 917.7h0" stroke="#98B030" stroke-width="1.60" stroke-linecap="round" fill="none" /><path d="M251.6 920.4h0M250.0 918.7h0M268.8 916.1h0M275.9 913.7h0M312.5 914.0h0M313.3 914.2h0M317.0 914.6h0M311.8 912.4h0M324.8 912.5h0M330.1 914.1h0M324.1 915.0h0" stroke="#B8C03A" stroke-width="1.60" stroke-linecap="round" fill="none" /><path d="M256.7 918.9h0M273.4 914.6h0M274.3 916.8h0M303.1 923.4h0M300.3 925.1h0M298.0 919.1h0M314.2 916.7h0M328.6 914.9h0M329.2 915.6h0" stroke="#98B030" stroke-width="0.80" stroke-linecap="round" fill="none" /><path d="M258.5 918.5h0M274.6 918.3h0M272.3 912.1h0M272.0 913.1h0M297.8 923.2h0M300.2 920.0h0M300.7 917.9h0M309.1 914.5h0M312.2 918.0h0M329.8 914.1h0M329.0 917.9h0" stroke="#D0C848" stroke-width="1.20" stroke-linecap="round" fill="none" /></g><path d="M224,938.6 C260,939.6 300,941.4 340,942.6" stroke="#6A3A10" stroke-width="4.6" fill="none" filter="url(#kb2)"/><g filter="url(#kb)"><path d="M283.3 941.9h0M265.7 941.4h0M242.8 938.7h0M250.9 941.2h0M329.5 943.0h0M287.8 941.4h0M274.4 940.9h0M316.2 943.1h0M226.9 940.9h0M272.6 941.6h0M296.5 942.2h0M331.4 943.6h0M264.3 939.7h0M300.7 942.5h0M319.0 939.8h0M265.1 941.6h0M249.1 936.5h0M227.4 938.8h0M330.7 941.7h0M306.0 941.0h0M298.6 941.2h0M329.4 943.0h0M299.5 941.7h0M255.0 939.4h0M288.3 943.4h0M278.7 939.7h0M330.1 944.4h0M315.4 943.9h0M250.4 940.4h0M257.8 939.1h0M291.9 942.0h0M308.2 942.1h0M296.3 942.0h0M224.4 937.4h0M291.5 942.3h0M241.3 940.7h0" stroke="#C05020" stroke-width="1.20" stroke-linecap="round" fill="none" /><path d="M298.8 943.5h0M315.8 941.1h0M313.0 944.2h0M251.7 938.4h0M254.5 940.7h0M237.1 938.4h0M233.5 939.7h0M284.3 941.0h0M293.6 941.9h0M257.9 939.2h0M321.1 942.6h0M225.1 938.4h0M334.4 943.3h0M285.9 939.5h0M320.5 942.7h0M265.6 939.0h0M257.6 941.3h0M294.9 939.2h0M330.8 941.0h0M295.6 940.2h0M238.2 939.5h0M307.6 942.2h0M252.2 939.3h0M318.9 942.0h0M231.6 938.9h0M333.4 940.7h0" stroke="#C8B030" stroke-width="1.60" stroke-linecap="round" fill="none" /><path d="M281.4 943.4h0M230.0 938.0h0M251.8 940.3h0M339.0 943.3h0M247.7 939.2h0M331.0 941.4h0M285.0 940.8h0M226.1 937.9h0M324.6 943.2h0M328.6 942.6h0M250.7 939.3h0M298.1 939.6h0M321.5 939.2h0M250.0 940.6h0M265.7 941.2h0M305.1 940.3h0M268.1 940.5h0M272.3 940.7h0M331.9 943.9h0M271.2 941.5h0M232.3 938.8h0M315.1 941.3h0M285.9 940.2h0M293.8 940.8h0M339.2 944.2h0M267.7 940.0h0M282.7 939.4h0M244.7 939.5h0M306.9 942.3h0M279.6 939.2h0M236.9 937.2h0M334.7 941.1h0M285.4 940.5h0M231.7 937.6h0M271.9 940.7h0M338.3 942.9h0M304.7 942.1h0" stroke="#A8B030" stroke-width="1.60" stroke-linecap="round" fill="none" /><path d="M291.0 941.4h0M265.0 941.9h0M331.1 944.4h0M278.8 939.0h0M247.7 939.2h0M258.5 936.7h0M248.2 939.5h0M329.3 945.6h0M254.8 939.6h0M243.9 938.6h0M252.9 940.0h0M290.8 942.0h0M277.7 940.6h0M278.7 939.2h0M330.6 941.7h0M311.9 941.7h0M249.0 937.4h0M260.4 942.0h0M268.8 940.5h0M311.9 943.6h0M319.3 940.6h0M255.6 939.1h0M255.6 938.6h0M330.3 942.3h0M297.5 939.7h0M238.0 939.3h0M327.5 942.0h0M285.8 942.0h0M246.9 939.0h0M320.5 942.9h0M233.0 938.9h0M274.2 938.7h0" stroke="#D8C040" stroke-width="1.20" stroke-linecap="round" fill="none" /><path d="M289.6 941.5h0M337.1 942.6h0M316.4 943.7h0M339.9 941.8h0M307.9 939.4h0M249.3 937.6h0M297.8 940.2h0M240.8 936.5h0M284.0 939.8h0M226.6 939.6h0M227.2 940.4h0M305.8 940.5h0M316.9 941.6h0M333.1 941.9h0M299.8 941.0h0M305.2 942.4h0M268.1 940.4h0M337.5 944.3h0M244.9 938.8h0M261.4 940.7h0M242.3 942.6h0M283.3 939.9h0M298.3 939.7h0M278.9 939.3h0M240.7 939.9h0M285.2 940.8h0M278.0 941.0h0M334.5 940.1h0M333.3 942.3h0M258.3 939.3h0" stroke="#D0A028" stroke-width="1.60" stroke-linecap="round" fill="none" /><path d="M295.3 941.0h0M288.1 942.9h0M319.8 942.7h0M234.9 938.3h0M237.7 939.2h0M331.9 943.6h0M225.3 939.5h0M274.9 943.1h0M285.9 941.8h0M282.2 939.3h0M280.6 941.6h0M254.7 939.0h0M269.0 941.5h0M337.8 941.1h0M335.6 940.6h0" stroke="#A8B030" stroke-width="0.80" stroke-linecap="round" fill="none" /><path d="M310.9 939.3h0M231.6 940.3h0M330.8 942.2h0M240.5 939.9h0M293.5 942.7h0M232.4 937.7h0M252.4 938.6h0M332.9 942.9h0M268.5 941.5h0M320.7 943.0h0M299.0 941.0h0M259.9 941.4h0M244.0 937.9h0M311.0 943.7h0" stroke="#D0A028" stroke-width="0.80" stroke-linecap="round" fill="none" /><path d="M276.3 940.8h0M249.7 938.7h0M329.3 944.0h0M332.2 941.0h0M338.4 944.8h0M322.9 941.9h0M301.1 941.0h0M229.4 939.2h0M332.5 945.6h0M285.6 941.0h0M339.9 942.2h0M302.9 940.8h0M287.2 940.4h0M312.0 939.9h0M313.8 944.9h0M229.8 939.8h0M317.7 943.3h0M296.1 941.4h0M297.5 942.8h0M256.4 939.9h0M309.1 943.7h0M332.3 943.3h0M229.1 938.9h0M311.4 940.7h0M278.3 939.9h0M327.4 941.7h0M304.7 940.2h0M307.7 940.1h0M332.0 942.2h0M279.7 941.0h0M327.1 942.3h0M225.0 939.5h0M327.9 942.6h0M269.7 941.1h0" stroke="#A8B030" stroke-width="1.20" stroke-linecap="round" fill="none" /><path d="M249.8 940.8h0M262.8 937.8h0M307.7 941.5h0M330.5 943.8h0M245.2 939.4h0M264.3 938.0h0M274.9 939.3h0M277.3 940.8h0M234.2 937.7h0M252.0 939.0h0M310.7 940.5h0M242.1 939.4h0M309.6 940.3h0M312.5 943.1h0M337.3 942.9h0M334.2 940.7h0M250.0 941.2h0M334.2 941.5h0M228.4 937.2h0M268.6 940.8h0M277.0 938.6h0M233.5 939.2h0M316.2 940.2h0M286.7 938.5h0M260.7 939.1h0M275.2 939.3h0M262.9 940.2h0M247.8 940.8h0M240.4 940.9h0M263.2 939.7h0M323.2 942.5h0M274.1 939.1h0M319.6 940.9h0M253.1 940.1h0M327.7 940.7h0M293.0 939.9h0M327.0 942.3h0M332.7 943.1h0M277.7 941.0h0M294.5 941.5h0" stroke="#C8B030" stroke-width="1.20" stroke-linecap="round" fill="none" /><path d="M261.6 941.5h0M312.9 940.5h0M314.4 941.6h0M255.0 941.6h0M226.7 936.9h0M247.1 940.7h0M238.5 939.0h0M292.4 940.4h0M293.8 942.8h0M250.8 939.5h0M318.6 942.5h0M278.2 940.3h0M306.0 940.6h0M305.6 940.4h0M236.6 939.8h0M296.7 940.4h0M275.2 940.0h0M319.4 942.2h0M284.3 941.2h0M261.1 939.5h0M305.7 939.3h0M224.2 939.4h0M257.2 940.7h0M236.9 937.4h0M278.1 939.2h0M320.3 941.2h0M279.7 939.6h0M233.1 937.2h0M316.0 944.2h0M337.9 943.5h0M253.0 940.5h0M231.5 938.8h0M249.3 941.4h0M279.2 939.8h0M278.7 939.0h0M289.7 938.3h0M239.0 940.1h0M328.3 944.1h0M331.2 942.7h0M247.2 938.7h0M287.9 940.7h0M307.1 943.6h0" stroke="#C05020" stroke-width="1.60" stroke-linecap="round" fill="none" /><path d="M317.4 944.9h0M287.6 940.6h0M238.9 939.7h0M248.5 939.4h0M300.6 941.1h0M321.7 941.9h0M327.1 942.2h0M297.9 941.0h0M266.3 939.9h0M281.4 940.3h0M279.1 940.8h0M260.7 939.3h0M316.6 940.9h0M315.5 943.5h0M290.6 941.8h0M274.5 941.3h0M322.5 940.4h0M319.5 941.5h0M247.4 939.3h0M294.7 938.4h0M224.6 938.5h0M235.7 940.5h0M327.7 941.0h0M294.9 941.6h0M283.0 939.7h0" stroke="#B87020" stroke-width="1.60" stroke-linecap="round" fill="none" /><path d="M282.1 937.8h0M225.9 939.8h0M268.1 941.0h0M271.2 942.7h0M285.1 943.9h0M300.4 944.2h0M320.1 939.7h0M248.2 938.8h0M304.5 941.6h0M286.8 940.7h0M231.3 936.8h0M255.0 938.3h0M286.4 943.2h0M287.2 941.6h0M303.7 939.0h0M292.9 940.8h0M267.3 940.6h0M296.8 938.4h0M259.0 941.2h0" stroke="#C8B030" stroke-width="0.80" stroke-linecap="round" fill="none" /><path d="M280.3 941.7h0M333.2 944.1h0M256.4 941.6h0M316.3 941.9h0M265.9 940.4h0M266.3 940.3h0M280.7 938.8h0M247.4 937.0h0M230.9 939.5h0M279.9 941.3h0M242.8 937.1h0M264.5 940.9h0M281.6 942.2h0M296.5 940.7h0M252.5 939.2h0M236.8 939.5h0M311.4 943.1h0M234.8 940.0h0M270.6 940.6h0M306.6 940.7h0M242.3 940.0h0M334.8 939.9h0M259.8 939.9h0M225.0 937.8h0M241.2 938.9h0M232.7 939.3h0M231.3 938.4h0M280.9 939.3h0M240.8 938.5h0M224.6 939.6h0M289.9 940.4h0M332.1 943.2h0M248.6 940.7h0M246.6 940.5h0M254.4 939.2h0M255.6 940.9h0M328.4 945.8h0M325.2 940.3h0M332.0 941.8h0M234.0 939.7h0M264.6 941.9h0M304.4 940.2h0M279.5 937.6h0M243.4 938.0h0M260.8 940.3h0M267.0 940.3h0M315.2 940.2h0M270.0 939.2h0" stroke="#D0A028" stroke-width="1.20" stroke-linecap="round" fill="none" /><path d="M240.1 939.2h0M262.8 939.2h0M282.0 941.8h0M301.5 941.3h0M279.3 940.9h0M251.7 938.8h0M312.9 944.8h0M313.0 941.2h0M272.1 941.6h0M257.0 940.5h0M339.1 942.7h0M249.7 937.8h0M243.7 939.9h0M245.2 940.3h0M330.7 943.9h0M307.4 941.7h0M233.5 941.1h0M305.5 939.9h0M240.5 936.8h0M240.6 941.2h0M326.2 942.8h0M338.3 941.9h0M229.2 939.3h0M285.2 938.1h0M244.6 940.2h0M319.5 940.8h0M322.6 941.2h0M228.9 939.0h0M324.0 942.8h0M272.1 940.3h0M271.7 942.0h0M313.7 938.6h0M259.8 941.8h0M237.7 938.0h0M331.7 940.9h0M233.1 938.9h0M262.5 939.2h0M324.9 940.3h0M286.4 942.0h0M269.6 940.9h0" stroke="#B87020" stroke-width="1.20" stroke-linecap="round" fill="none" /><path d="M259.6 939.0h0M249.6 938.4h0M239.5 940.8h0M301.1 941.9h0M334.3 942.9h0M317.2 940.6h0M264.2 940.3h0M262.7 939.6h0M248.7 940.2h0M234.3 937.0h0M293.8 940.3h0M249.6 939.0h0M272.0 940.8h0M240.7 939.2h0M248.2 939.5h0M312.8 941.3h0M292.6 940.6h0M313.8 941.0h0M267.3 941.2h0M283.1 940.4h0M326.8 943.4h0M239.6 937.3h0M286.4 943.1h0M325.9 943.0h0M229.3 940.0h0M228.5 938.8h0M233.5 940.8h0M321.8 941.9h0M261.5 940.2h0M277.0 941.9h0M262.0 941.7h0M298.1 940.8h0M318.9 942.1h0M338.5 942.9h0" stroke="#D8C040" stroke-width="1.60" stroke-linecap="round" fill="none" /><path d="M337.9 943.3h0M289.6 941.2h0M265.1 941.0h0M316.4 944.9h0M311.4 944.2h0M258.3 938.8h0M331.5 943.4h0M247.6 936.4h0M337.4 944.3h0M231.5 939.3h0M309.4 940.9h0M294.1 941.0h0M233.8 939.7h0M289.1 941.8h0M230.2 938.4h0M246.1 939.0h0M236.8 938.1h0" stroke="#C05020" stroke-width="0.80" stroke-linecap="round" fill="none" /><path d="M303.5 941.0h0M237.2 937.4h0M269.3 938.1h0M308.4 940.4h0M244.6 939.5h0M315.8 941.7h0M306.6 939.6h0M250.0 939.5h0M297.9 943.2h0M264.8 941.2h0M306.8 939.9h0M234.3 937.7h0M334.2 943.3h0M325.2 943.7h0M333.6 942.4h0M324.8 942.6h0M294.1 943.2h0" stroke="#D8C040" stroke-width="0.80" stroke-linecap="round" fill="none" /><path d="M283.9 941.0h0M292.0 938.7h0M339.9 943.4h0M289.6 942.4h0M253.8 937.0h0M308.4 941.2h0M281.3 940.4h0M263.5 940.5h0M325.1 942.2h0M247.4 938.4h0M254.0 939.7h0M307.2 942.4h0M257.5 939.8h0M329.1 942.4h0" stroke="#B87020" stroke-width="0.80" stroke-linecap="round" fill="none" /></g><path d="M224,942.6 C260,943.4 300,945.2 340,946.4" fill="none" stroke="#e8e8e8" stroke-width="0.8" stroke-dasharray="2.2,1.6"/><path d="M304.7 929.4h0M324.8 923.2h0M300.7 927.6h0M299.7 932.8h0M325.3 928.4h0M311.7 934.4h0M290.6 922.2h0" stroke="#E03030" stroke-width="0.80" stroke-linecap="round" fill="none" /><path d="M289.7 927.2h0M300.6 934.6h0M324.8 923.7h0M238.4 924.7h0" stroke="#E03030" stroke-width="1.20" stroke-linecap="round" fill="none" /><path d="M337.8 925.8h0M250.2 922.0h0M279.5 928.5h0M260.6 927.7h0M273.1 920.3h0" stroke="#C02020" stroke-width="0.80" stroke-linecap="round" fill="none" /><path d="M320.4 918.6h0M265.6 923.2h0M312.9 925.2h0M334.7 922.8h0" stroke="#C02020" stroke-width="1.20" stroke-linecap="round" fill="none" /></g>
<text x="277.70" y="924.80" font-size="11.4" font-weight="bold" text-anchor="middle" fill="#fff">BM</text>
<text x="266.70" y="958.40" font-size="11.4" font-weight="bold" text-anchor="middle" fill="#fff">CB</text>
<text x="325.60" y="953.40" font-size="5.2" font-weight="bold" text-anchor="middle" fill="#fff">50μm</text>
<rect x="317.50" y="956.00" width="17.60" height="2.20" fill="#fff" />
<g clip-path="url(#cs1)"><g filter="url(#kb)"><ellipse cx="211.5" cy="766.7" rx="1.3" ry="1.3" fill="#1C1CD6"/><ellipse cx="211.4" cy="777.8" rx="1.3" ry="1.3" fill="#1212A4"/><ellipse cx="206.5" cy="769.5" rx="1.2" ry="1.0" fill="#2020D0"/><ellipse cx="210.4" cy="772.4" rx="1.3" ry="1.0" fill="#1E1EB8"/><ellipse cx="203.4" cy="787.1" rx="1.3" ry="1.1" fill="#2A2AEE"/><ellipse cx="209.7" cy="788.4" rx="1.1" ry="0.9" fill="#1E1EB8"/><ellipse cx="205.6" cy="782.2" rx="1.1" ry="0.8" fill="#1C1CD6"/><ellipse cx="212.4" cy="774.1" rx="1.1" ry="1.0" fill="#2A2AEE"/><ellipse cx="200.1" cy="765.7" rx="1.3" ry="1.3" fill="#1818C0"/><ellipse cx="206.3" cy="763.6" rx="1.0" ry="1.0" fill="#1212A4"/><ellipse cx="203.0" cy="761.2" rx="1.3" ry="1.0" fill="#1E1EB8"/><ellipse cx="209.0" cy="775.6" rx="1.2" ry="1.0" fill="#2A2AEE"/><ellipse cx="208.6" cy="779.1" rx="1.2" ry="1.1" fill="#1E1EB8"/><ellipse cx="202.8" cy="774.3" rx="0.9" ry="0.7" fill="#1E1EB8"/><ellipse cx="216.9" cy="775.7" rx="1.3" ry="1.1" fill="#2A2AEE"/><ellipse cx="200.4" cy="770.1" rx="1.1" ry="0.8" fill="#2424EC"/><ellipse cx="205.2" cy="766.2" rx="1.0" ry="0.9" fill="#2424EC"/><ellipse cx="207.9" cy="761.0" rx="1.0" ry="0.7" fill="#2424EC"/><ellipse cx="201.0" cy="780.7" rx="1.2" ry="0.9" fill="#2020D0"/><ellipse cx="215.2" cy="772.2" rx="1.1" ry="0.9" fill="#1C1CD6"/><ellipse cx="211.9" cy="762.4" rx="1.1" ry="0.8" fill="#2020D0"/><ellipse cx="217.5" cy="760.9" rx="1.2" ry="1.0" fill="#1212A4"/><ellipse cx="200.5" cy="772.8" rx="1.2" ry="1.0" fill="#1818C0"/><ellipse cx="205.7" cy="777.7" rx="1.0" ry="0.9" fill="#1C1CD6"/><ellipse cx="218.4" cy="772.2" rx="1.2" ry="1.0" fill="#2A2AEE"/><ellipse cx="213.4" cy="781.3" rx="1.2" ry="1.0" fill="#2424EC"/><ellipse cx="201.8" cy="767.4" rx="1.3" ry="1.0" fill="#2424EC"/><ellipse cx="209.7" cy="781.7" rx="1.3" ry="1.1" fill="#1212A4"/><ellipse cx="202.5" cy="782.9" rx="1.2" ry="1.0" fill="#2020D0"/><ellipse cx="210.7" cy="786.3" rx="1.1" ry="0.9" fill="#1818C0"/><ellipse cx="207.6" cy="771.1" rx="1.1" ry="0.9" fill="#1E1EB8"/><ellipse cx="206.0" cy="775.4" rx="0.9" ry="0.7" fill="#2424EC"/><ellipse cx="192.2" cy="770.3" rx="1.0" ry="0.8" fill="#1212A4"/><ellipse cx="208.7" cy="783.6" rx="0.9" ry="0.8" fill="#2A2AEE"/><ellipse cx="219.0" cy="768.8" rx="1.0" ry="0.9" fill="#1818C0"/><ellipse cx="207.7" cy="781.8" rx="1.0" ry="0.8" fill="#1C1CD6"/><ellipse cx="214.4" cy="764.2" rx="1.1" ry="1.1" fill="#2020D0"/><ellipse cx="212.5" cy="789.6" rx="0.9" ry="0.9" fill="#2020D0"/><ellipse cx="216.1" cy="789.1" rx="1.0" ry="0.9" fill="#2424EC"/><ellipse cx="204.1" cy="779.9" rx="1.1" ry="1.0" fill="#1818C0"/><ellipse cx="214.5" cy="774.3" rx="1.3" ry="1.3" fill="#1212A4"/><ellipse cx="218.7" cy="765.1" rx="1.1" ry="0.8" fill="#1818C0"/><ellipse cx="218.6" cy="782.9" rx="0.9" ry="0.8" fill="#1C1CD6"/><ellipse cx="207.7" cy="777.1" rx="1.0" ry="1.0" fill="#2020D0"/><ellipse cx="214.4" cy="776.8" rx="1.3" ry="1.0" fill="#2A2AEE"/><ellipse cx="201.1" cy="787.7" rx="1.3" ry="1.2" fill="#1818C0"/><ellipse cx="200.7" cy="761.5" rx="1.1" ry="1.1" fill="#1E1EB8"/><ellipse cx="206.3" cy="786.2" rx="1.0" ry="1.0" fill="#1C1CD6"/><ellipse cx="218.0" cy="790.6" rx="1.2" ry="0.9" fill="#1E1EB8"/><ellipse cx="213.0" cy="784.5" rx="1.1" ry="0.9" fill="#1C1CD6"/><ellipse cx="203.3" cy="776.8" rx="1.3" ry="1.3" fill="#1212A4"/><ellipse cx="216.1" cy="765.2" rx="1.1" ry="1.1" fill="#1E1EB8"/><ellipse cx="200.6" cy="777.4" rx="1.1" ry="1.0" fill="#1212A4"/><ellipse cx="204.9" cy="768.2" rx="1.1" ry="1.0" fill="#1E1EB8"/><ellipse cx="209.4" cy="768.4" rx="1.0" ry="0.9" fill="#1818C0"/><ellipse cx="204.2" cy="771.6" rx="0.9" ry="0.7" fill="#1E1EB8"/><ellipse cx="209.9" cy="764.6" rx="1.1" ry="0.9" fill="#1E1EB8"/><ellipse cx="211.8" cy="770.0" rx="1.3" ry="1.1" fill="#2A2AEE"/><ellipse cx="215.6" cy="786.0" rx="1.0" ry="0.8" fill="#2424EC"/><ellipse cx="202.4" cy="785.4" rx="1.3" ry="1.1" fill="#2020D0"/><ellipse cx="209.8" cy="770.3" rx="0.9" ry="0.9" fill="#2A2AEE"/><ellipse cx="217.7" cy="779.1" rx="1.3" ry="1.1" fill="#1C1CD6"/><ellipse cx="213.8" cy="779.1" rx="1.2" ry="0.9" fill="#1818C0"/><ellipse cx="205.6" cy="788.9" rx="1.2" ry="1.1" fill="#1E1EB8"/><ellipse cx="212.0" cy="764.6" rx="1.0" ry="0.9" fill="#2424EC"/><ellipse cx="201.6" cy="763.2" rx="1.2" ry="1.1" fill="#1818C0"/><ellipse cx="213.0" cy="787.7" rx="1.1" ry="1.1" fill="#1C1CD6"/><ellipse cx="217.3" cy="767.2" rx="1.2" ry="0.9" fill="#1E1EB8"/><ellipse cx="216.4" cy="782.8" rx="1.2" ry="1.0" fill="#1E1EB8"/><ellipse cx="214.8" cy="761.7" rx="1.2" ry="1.0" fill="#2424EC"/><ellipse cx="203.1" cy="769.4" rx="1.2" ry="1.1" fill="#1818C0"/><ellipse cx="215.4" cy="769.5" rx="1.3" ry="1.2" fill="#1818C0"/><ellipse cx="204.4" cy="762.9" rx="1.3" ry="1.0" fill="#2A2AEE"/><ellipse cx="203.3" cy="764.9" rx="0.9" ry="0.8" fill="#2A2AEE"/><ellipse cx="203.7" cy="789.2" rx="1.2" ry="1.2" fill="#2424EC"/><ellipse cx="209.8" cy="762.0" rx="1.2" ry="1.0" fill="#1C1CD6"/><ellipse cx="214.3" cy="767.1" rx="1.2" ry="1.1" fill="#1C1CD6"/><ellipse cx="208.4" cy="785.8" rx="1.2" ry="0.9" fill="#1818C0"/><ellipse cx="207.2" cy="766.1" rx="1.2" ry="1.2" fill="#1C1CD6"/><ellipse cx="218.0" cy="786.9" rx="1.3" ry="1.1" fill="#1C1CD6"/><ellipse cx="208.6" cy="790.0" rx="0.9" ry="0.7" fill="#1818C0"/><ellipse cx="195.9" cy="773.3" rx="1.2" ry="1.0" fill="#1818C0"/><ellipse cx="194.8" cy="761.5" rx="0.9" ry="0.8" fill="#2A2AEE"/><ellipse cx="215.5" cy="780.6" rx="1.1" ry="0.9" fill="#2A2AEE"/><ellipse cx="213.7" cy="770.8" rx="1.1" ry="1.0" fill="#2020D0"/><ellipse cx="204.3" cy="784.0" rx="0.9" ry="0.8" fill="#1C1CD6"/><ellipse cx="188.3" cy="761.7" rx="1.0" ry="1.0" fill="#1212A4"/><ellipse cx="194.4" cy="770.1" rx="1.1" ry="1.1" fill="#1E1EB8"/><ellipse cx="211.2" cy="783.8" rx="1.3" ry="1.0" fill="#2A2AEE"/><ellipse cx="194.3" cy="777.6" rx="1.1" ry="1.1" fill="#2424EC"/><ellipse cx="207.8" cy="773.4" rx="1.2" ry="1.2" fill="#2A2AEE"/><ellipse cx="200.4" cy="783.3" rx="1.2" ry="1.2" fill="#1C1CD6"/><ellipse cx="218.6" cy="777.3" rx="1.0" ry="1.0" fill="#2020D0"/><ellipse cx="205.3" cy="790.8" rx="1.0" ry="1.0" fill="#1818C0"/><ellipse cx="190.6" cy="765.5" rx="0.9" ry="0.7" fill="#2424EC"/><ellipse cx="214.7" cy="790.4" rx="0.9" ry="0.7" fill="#2020D0"/><ellipse cx="197.5" cy="763.3" rx="1.0" ry="0.9" fill="#2020D0"/><ellipse cx="193.1" cy="772.6" rx="1.1" ry="1.0" fill="#1E1EB8"/><ellipse cx="202.2" cy="778.5" rx="1.3" ry="1.2" fill="#2020D0"/><ellipse cx="196.6" cy="768.1" rx="1.1" ry="1.1" fill="#2020D0"/><ellipse cx="217.5" cy="763.2" rx="1.1" ry="1.1" fill="#1212A4"/><ellipse cx="196.2" cy="777.0" rx="1.0" ry="1.0" fill="#1C1CD6"/><ellipse cx="200.2" cy="775.5" rx="1.0" ry="0.8" fill="#1212A4"/><ellipse cx="216.0" cy="777.8" rx="1.2" ry="1.0" fill="#1818C0"/><ellipse cx="206.4" cy="780.0" rx="1.1" ry="0.9" fill="#2424EC"/><ellipse cx="190.3" cy="807.5" rx="0.9" ry="0.8" fill="#1212A4"/><ellipse cx="215.7" cy="801.4" rx="0.9" ry="0.7" fill="#1C1CD6"/><ellipse cx="211.2" cy="797.5" rx="1.0" ry="1.0" fill="#1212A4"/><ellipse cx="184.6" cy="798.2" rx="0.9" ry="0.7" fill="#2020D0"/><ellipse cx="217.0" cy="803.4" rx="1.1" ry="0.9" fill="#1C1CD6"/><ellipse cx="211.5" cy="803.2" rx="1.0" ry="0.8" fill="#2020D0"/><ellipse cx="187.1" cy="799.5" rx="1.1" ry="1.1" fill="#1E1EB8"/><ellipse cx="203.2" cy="800.6" rx="1.0" ry="1.0" fill="#1C1CD6"/><ellipse cx="203.0" cy="795.0" rx="1.3" ry="1.4" fill="#1212A4"/><ellipse cx="199.8" cy="805.6" rx="1.2" ry="1.3" fill="#2A2AEE"/><ellipse cx="206.9" cy="800.7" rx="0.9" ry="0.9" fill="#1C1CD6"/><ellipse cx="200.8" cy="800.7" rx="1.0" ry="0.8" fill="#1212A4"/><ellipse cx="183.3" cy="802.2" rx="1.2" ry="1.2" fill="#1C1CD6"/><ellipse cx="216.7" cy="796.7" rx="1.0" ry="1.0" fill="#2424EC"/><ellipse cx="204.4" cy="806.4" rx="1.0" ry="0.8" fill="#2424EC"/><ellipse cx="215.0" cy="805.0" rx="1.0" ry="1.1" fill="#1212A4"/><ellipse cx="185.6" cy="804.1" rx="1.0" ry="0.9" fill="#1212A4"/><ellipse cx="209.8" cy="795.9" rx="1.3" ry="1.0" fill="#1E1EB8"/><ellipse cx="180.8" cy="804.5" rx="0.9" ry="0.8" fill="#1E1EB8"/><ellipse cx="192.7" cy="805.8" rx="0.9" ry="0.9" fill="#1E1EB8"/><ellipse cx="194.5" cy="807.3" rx="1.2" ry="0.9" fill="#2020D0"/><ellipse cx="208.5" cy="798.8" rx="1.2" ry="1.2" fill="#1E1EB8"/><ellipse cx="204.6" cy="796.3" rx="1.0" ry="0.8" fill="#2020D0"/><ellipse cx="190.0" cy="796.3" rx="1.0" ry="0.9" fill="#2424EC"/><ellipse cx="187.5" cy="802.2" rx="1.3" ry="1.2" fill="#2424EC"/><ellipse cx="212.5" cy="809.2" rx="1.2" ry="1.1" fill="#1212A4"/><ellipse cx="215.2" cy="795.4" rx="1.3" ry="1.4" fill="#1C1CD6"/><ellipse cx="197.6" cy="804.8" rx="1.2" ry="1.0" fill="#2424EC"/><ellipse cx="195.6" cy="805.3" rx="1.3" ry="1.3" fill="#2A2AEE"/><ellipse cx="202.8" cy="797.9" rx="1.0" ry="1.0" fill="#1C1CD6"/><ellipse cx="191.1" cy="802.6" rx="0.9" ry="0.7" fill="#2A2AEE"/><ellipse cx="193.4" cy="799.6" rx="1.0" ry="0.8" fill="#1212A4"/><ellipse cx="193.0" cy="808.9" rx="1.3" ry="1.0" fill="#1E1EB8"/><ellipse cx="199.9" cy="796.8" rx="1.0" ry="1.1" fill="#2020D0"/><ellipse cx="201.4" cy="808.0" rx="1.3" ry="1.3" fill="#1E1EB8"/><ellipse cx="187.7" cy="804.6" rx="1.2" ry="1.1" fill="#1E1EB8"/><ellipse cx="194.3" cy="795.9" rx="1.3" ry="1.2" fill="#2A2AEE"/><ellipse cx="188.4" cy="807.1" rx="1.2" ry="1.1" fill="#2424EC"/><ellipse cx="208.6" cy="806.6" rx="1.0" ry="0.9" fill="#1212A4"/><ellipse cx="183.6" cy="806.5" rx="1.2" ry="1.3" fill="#1818C0"/><ellipse cx="183.3" cy="804.6" rx="1.2" ry="1.2" fill="#2A2AEE"/><ellipse cx="204.8" cy="809.2" rx="1.1" ry="0.9" fill="#1C1CD6"/><ellipse cx="213.2" cy="798.8" rx="1.3" ry="1.2" fill="#2424EC"/><ellipse cx="204.2" cy="802.7" rx="1.0" ry="0.8" fill="#1818C0"/><ellipse cx="191.2" cy="798.3" rx="1.1" ry="1.0" fill="#2424EC"/><ellipse cx="209.1" cy="801.8" rx="1.2" ry="1.2" fill="#1212A4"/><ellipse cx="193.9" cy="802.6" rx="1.3" ry="1.2" fill="#2020D0"/><ellipse cx="211.7" cy="800.8" rx="1.1" ry="0.9" fill="#1212A4"/><ellipse cx="190.0" cy="800.7" rx="1.1" ry="1.1" fill="#2020D0"/><ellipse cx="214.0" cy="797.0" rx="1.3" ry="1.3" fill="#1E1EB8"/><ellipse cx="203.9" cy="804.6" rx="1.0" ry="1.1" fill="#1212A4"/><ellipse cx="195.8" cy="798.8" rx="1.3" ry="1.1" fill="#1E1EB8"/><ellipse cx="216.4" cy="806.4" rx="1.2" ry="1.0" fill="#2424EC"/><ellipse cx="206.3" cy="794.9" rx="1.1" ry="1.0" fill="#1818C0"/><ellipse cx="184.2" cy="808.7" rx="1.2" ry="1.2" fill="#2A2AEE"/><ellipse cx="198.5" cy="808.9" rx="0.9" ry="0.9" fill="#2424EC"/><ellipse cx="206.4" cy="803.0" rx="1.2" ry="1.1" fill="#2020D0"/><ellipse cx="214.4" cy="807.0" rx="1.3" ry="1.2" fill="#2A2AEE"/><ellipse cx="187.3" cy="796.5" rx="1.3" ry="1.0" fill="#2424EC"/><ellipse cx="209.2" cy="804.1" rx="1.0" ry="0.9" fill="#2A2AEE"/><ellipse cx="198.3" cy="803.0" rx="1.1" ry="1.1" fill="#2A2AEE"/><ellipse cx="180.8" cy="808.4" rx="1.1" ry="0.9" fill="#2424EC"/><ellipse cx="195.5" cy="809.0" rx="1.3" ry="1.3" fill="#1818C0"/><ellipse cx="215.4" cy="798.5" rx="1.2" ry="1.1" fill="#2424EC"/><ellipse cx="198.0" cy="795.5" rx="0.9" ry="0.8" fill="#1E1EB8"/><ellipse cx="198.8" cy="800.4" rx="1.1" ry="1.1" fill="#2424EC"/><ellipse cx="211.0" cy="807.2" rx="1.2" ry="1.2" fill="#1212A4"/><ellipse cx="201.8" cy="804.4" rx="1.0" ry="0.8" fill="#2A2AEE"/><ellipse cx="218.5" cy="806.3" rx="1.3" ry="1.0" fill="#2A2AEE"/><ellipse cx="195.4" cy="800.8" rx="0.9" ry="0.9" fill="#2A2AEE"/></g><path d="M186.4,761.5 C186.8,762.1 188.1,763.6 189.1,765.5 C190.0,767.4 191.0,770.2 192.1,772.8 C193.1,775.3 194.2,778.5 195.4,780.6 C196.5,782.8 197.8,784.0 198.9,785.5 C200.0,787.0 201.0,788.7 201.9,789.7 C202.8,790.6 203.4,790.9 204.3,791.0 C205.2,791.1 206.5,790.5 207.3,790.4 C208.1,790.3 207.2,790.1 209.1,790.2 C211.0,790.2 217.0,790.5 218.6,790.6" fill="none" stroke="#8a8a8a" stroke-width="0.4" stroke-dasharray="0.8,0.8"/><path d="M180.5,803.2 C180.7,803.0 180.9,803.2 181.6,802.4 C182.3,801.5 183.5,799.3 184.6,798.1 C185.7,797.0 186.9,795.6 188.2,795.2 C189.5,794.8 190.6,795.7 192.4,795.7 C194.1,795.8 196.8,795.7 198.9,795.4 C201.0,795.2 203.5,794.5 204.9,794.2 C206.3,794.0 206.4,793.7 207.3,793.9 C208.2,794.1 208.5,795.0 210.3,795.2 C212.2,795.5 217.2,795.4 218.6,795.4" fill="none" stroke="#8a8a8a" stroke-width="0.4" stroke-dasharray="0.8,0.8"/><g filter="url(#kb)"><path d="M211.4 827.5h0M200.4 829.8h0M212.9 833.8h0M216.5 837.8h0M217.1 812.8h0M205.0 836.8h0M194.9 810.6h0M204.5 838.2h0" stroke="#3CB43C" stroke-width="1.20" stroke-linecap="round" fill="none" /><path d="M203.7 836.3h0M209.7 837.2h0M201.2 820.5h0M191.5 810.7h0M202.4 821.8h0M207.2 830.9h0M202.4 831.8h0M209.8 824.2h0M206.3 829.7h0M194.3 815.9h0M195.0 822.8h0M202.5 814.9h0M208.2 822.2h0M201.0 835.9h0M191.7 814.5h0M206.9 813.3h0M212.0 824.3h0M202.0 832.8h0M206.6 834.2h0M214.3 836.5h0M208.2 822.9h0M209.8 824.5h0" stroke="#2F9F2F" stroke-width="0.80" stroke-linecap="round" fill="none" /><path d="M203.0 831.8h0M202.0 831.2h0M202.1 830.7h0M194.6 825.4h0M188.7 812.5h0M213.9 814.8h0M216.8 832.9h0M218.8 816.0h0M211.0 835.6h0M204.6 832.7h0M214.5 832.2h0M205.0 834.9h0M218.9 820.0h0M189.4 811.9h0M196.9 823.6h0M194.7 823.2h0M209.5 825.9h0M199.5 832.7h0M214.9 826.7h0M191.7 810.7h0M211.3 823.1h0M201.1 834.8h0M198.6 813.9h0M191.9 811.9h0M213.4 821.1h0M196.4 820.9h0M203.9 834.3h0M193.2 820.4h0M214.5 825.0h0M203.3 837.4h0M207.7 813.8h0M214.4 813.3h0M213.4 822.7h0M192.5 814.4h0M215.7 836.3h0M194.9 819.6h0M217.3 824.4h0M211.7 813.3h0M215.3 821.7h0M207.3 834.4h0" stroke="#3CB43C" stroke-width="0.80" stroke-linecap="round" fill="none" /><path d="M215.0 838.2h0M196.5 818.9h0M199.8 820.2h0M217.2 826.8h0" stroke="#2A8A2A" stroke-width="1.20" stroke-linecap="round" fill="none" /><path d="M218.6 817.5h0M203.1 835.7h0M203.3 814.8h0M199.7 818.0h0M198.1 823.3h0M213.5 823.7h0M203.0 819.9h0" stroke="#2F9F2F" stroke-width="1.20" stroke-linecap="round" fill="none" /><path d="M204.3 837.4h0M205.6 811.8h0M211.1 834.9h0M198.1 828.2h0M203.3 820.6h0M195.8 817.7h0M207.1 836.7h0M212.5 824.6h0M210.1 835.7h0M210.8 817.8h0M208.7 818.9h0M215.5 808.7h0M215.9 830.2h0M215.5 830.7h0M214.7 827.9h0M191.4 810.4h0M207.8 835.4h0M197.7 823.3h0M210.9 818.7h0M198.4 829.3h0M194.0 818.1h0M205.7 813.2h0M198.5 823.8h0M193.5 811.7h0M196.1 819.3h0M216.7 820.4h0M194.7 813.9h0M203.6 838.1h0M212.5 827.8h0" stroke="#2A8A2A" stroke-width="0.80" stroke-linecap="round" fill="none" /><path d="M203.4 833.6h0M205.9 834.3h0M195.1 815.6h0M211.8 826.5h0M217.0 822.9h0M208.5 822.6h0M195.6 826.5h0M191.9 815.9h0M217.1 827.4h0M195.2 826.9h0M205.0 824.6h0" stroke="#1A5A1A" stroke-width="1.20" stroke-linecap="round" fill="none" /><path d="M209.9 832.2h0M202.0 818.7h0M197.8 809.5h0M201.8 822.8h0M216.4 821.8h0M202.0 834.3h0M215.5 816.4h0M208.3 837.4h0M197.4 812.0h0M217.9 834.7h0M211.6 821.4h0M200.8 809.8h0M216.8 811.7h0M191.6 817.8h0M197.1 822.0h0M189.1 812.9h0M199.1 832.0h0M190.2 811.5h0M195.7 818.5h0M218.0 828.0h0M201.8 812.3h0M213.9 824.0h0M203.1 820.0h0M209.2 809.1h0" stroke="#1A5A1A" stroke-width="0.80" stroke-linecap="round" fill="none" /><path d="M200.6 832.3h0M197.4 824.9h0M218.5 820.4h0M214.4 809.6h0M192.5 818.7h0M199.1 822.4h0M204.2 837.9h0M195.8 819.2h0M193.5 814.9h0M199.8 828.8h0M204.8 834.4h0M214.4 833.8h0M198.3 812.4h0M189.2 809.8h0M208.2 835.1h0M210.2 836.6h0M209.9 826.9h0M211.8 821.9h0M198.0 824.9h0M204.5 809.6h0M194.3 824.3h0M195.0 816.7h0M196.7 823.9h0M207.9 828.1h0M199.9 811.5h0M213.5 813.3h0M206.2 824.2h0M207.7 811.1h0M195.8 818.1h0M215.4 816.8h0M212.0 813.8h0M205.3 816.0h0M210.5 825.7h0M216.3 825.1h0M218.6 836.0h0M214.6 837.7h0" stroke="#48C048" stroke-width="0.80" stroke-linecap="round" fill="none" /><path d="M218.7 818.0h0M216.3 829.5h0M213.7 822.6h0M200.3 831.6h0M200.5 830.6h0M200.4 832.7h0" stroke="#48C048" stroke-width="1.20" stroke-linecap="round" fill="none" /><path d="M191.1 815.5h0M217.6 832.8h0M196.7 823.4h0M210.5 821.2h0M214.5 824.5h0M193.7 816.3h0M198.3 830.0h0M215.1 812.4h0M206.6 820.7h0M211.6 824.2h0M202.9 834.8h0" stroke="#3AAA3A" stroke-width="0.40" stroke-linecap="round" fill="none" /><path d="M209.4 820.1h0M206.7 835.0h0M205.1 833.2h0M205.1 823.1h0M203.8 822.1h0M216.2 813.7h0M216.9 821.3h0M196.7 819.3h0M198.5 820.3h0" stroke="#1A5A1A" stroke-width="0.40" stroke-linecap="round" fill="none" /><path d="M199.6 830.7h0M196.4 821.5h0M205.5 834.5h0M196.4 818.2h0M213.2 815.9h0M193.3 821.8h0M194.5 812.4h0M197.6 821.1h0M210.4 836.1h0M203.7 835.0h0M199.9 825.5h0M200.5 809.5h0M214.6 813.7h0M199.5 830.1h0M207.3 832.5h0M217.9 835.5h0M213.1 827.7h0M199.9 829.5h0M198.5 822.9h0M204.7 817.8h0M208.9 826.1h0M207.8 812.6h0M196.1 826.6h0M216.2 834.2h0M209.9 832.3h0M213.4 834.3h0M210.7 832.5h0M194.2 819.4h0M211.7 818.2h0M212.9 836.6h0M217.3 832.9h0M199.3 810.3h0M200.4 832.2h0M202.8 826.2h0M209.9 815.0h0M211.6 825.0h0M213.2 830.3h0M215.1 824.8h0M201.5 822.4h0M199.6 825.5h0M191.5 813.9h0M196.2 827.4h0M202.7 826.8h0M208.8 835.3h0M206.0 837.1h0M213.3 816.2h0M212.6 810.2h0" stroke="#3AAA3A" stroke-width="0.80" stroke-linecap="round" fill="none" /><path d="M205.3 811.1h0M202.7 816.0h0M211.0 828.3h0M213.5 822.0h0M198.0 824.8h0M206.5 818.3h0" stroke="#3AAA3A" stroke-width="1.20" stroke-linecap="round" fill="none" /><path d="M215.0 835.1h0M218.5 836.5h0M217.2 837.8h0M209.2 836.4h0M214.4 832.6h0M199.3 828.9h0M205.2 834.7h0" stroke="#2A8A2A" stroke-width="0.40" stroke-linecap="round" fill="none" /><path d="M210.1 834.9h0M209.8 808.9h0M194.4 822.8h0M209.1 832.8h0M212.1 830.8h0M200.8 833.0h0M215.1 824.8h0" stroke="#1E6A1E" stroke-width="1.20" stroke-linecap="round" fill="none" /><path d="M214.0 818.6h0M191.6 815.7h0M194.8 821.6h0M210.7 817.0h0M216.1 817.0h0M207.1 835.6h0" stroke="#1E6A1E" stroke-width="0.40" stroke-linecap="round" fill="none" /><path d="M209.5 830.6h0M194.2 812.8h0M210.3 823.4h0M218.0 809.2h0M204.0 811.3h0M208.9 825.2h0M212.4 809.2h0M214.2 809.6h0M188.6 809.9h0M205.3 819.6h0M200.6 829.7h0M216.6 828.6h0M207.1 832.4h0M203.1 817.3h0M203.6 822.5h0M206.0 838.0h0M195.6 817.0h0M205.5 833.5h0M216.3 834.4h0M203.2 837.2h0M217.5 829.6h0" stroke="#1E6A1E" stroke-width="0.80" stroke-linecap="round" fill="none" /><path d="M199.0 810.9h0M218.3 834.5h0M197.9 826.5h0M197.7 825.6h0M210.7 830.8h0M200.9 825.2h0" stroke="#2F9F2F" stroke-width="0.40" stroke-linecap="round" fill="none" /><path d="M197.1 814.5h0M205.3 813.3h0M213.4 833.6h0M217.2 825.0h0M216.4 833.5h0M207.5 827.5h0" stroke="#48C048" stroke-width="0.40" stroke-linecap="round" fill="none" /><path d="M213.0 834.0h0M214.9 819.2h0M215.6 816.9h0M209.3 816.6h0M216.9 830.7h0M193.3 819.4h0M192.0 816.4h0" stroke="#3CB43C" stroke-width="0.40" stroke-linecap="round" fill="none" /></g><g filter="url(#kb)"><path d="M210.0 851.6h0M199.1 846.1h0M205.8 851.9h0M194.7 847.9h0M196.3 855.2h0M215.2 844.9h0M186.0 844.9h0M200.8 845.1h0M205.2 845.5h0M200.3 843.7h0M196.7 846.3h0M198.9 845.7h0M180.5 853.0h0M213.8 847.3h0M215.8 844.2h0M216.0 843.6h0M213.8 845.8h0M189.0 854.9h0M205.1 848.0h0M211.6 844.0h0M214.1 852.1h0M184.5 847.1h0M203.8 845.2h0" stroke="#1A5A1A" stroke-width="0.80" stroke-linecap="round" fill="none" /><path d="M195.9 847.4h0M209.4 849.2h0M211.3 847.5h0M209.0 845.0h0M188.8 845.1h0M205.7 847.5h0M200.0 852.2h0" stroke="#5AC85A" stroke-width="1.20" stroke-linecap="round" fill="none" /><path d="M217.0 846.6h0M200.8 843.6h0M218.6 847.9h0M182.1 851.2h0M207.8 843.0h0M209.7 848.6h0M201.9 855.8h0M185.8 852.4h0M204.8 843.7h0M196.2 846.2h0M218.6 851.5h0M206.7 845.0h0M204.5 848.1h0M196.6 849.7h0M188.7 843.7h0M183.7 850.5h0M210.3 846.4h0M188.9 853.8h0" stroke="#3AAA3A" stroke-width="0.80" stroke-linecap="round" fill="none" /><path d="M208.9 848.1h0M199.8 852.3h0M197.4 843.5h0M203.3 846.5h0M200.8 843.3h0M186.1 853.9h0M199.5 845.3h0M194.4 849.2h0M198.6 851.4h0M208.5 848.6h0" stroke="#1A5A1A" stroke-width="1.20" stroke-linecap="round" fill="none" /><path d="M184.8 848.7h0M191.1 844.4h0M199.3 846.0h0M214.3 853.5h0M210.1 843.3h0M200.6 851.5h0M202.4 847.8h0M215.5 844.9h0M207.1 843.6h0M192.4 845.9h0M197.9 847.6h0M211.1 844.8h0M205.1 846.7h0M196.8 849.3h0" stroke="#3AAA3A" stroke-width="1.20" stroke-linecap="round" fill="none" /><path d="M202.9 843.5h0M189.4 845.0h0M198.0 845.9h0M211.7 843.5h0M217.5 855.6h0M200.2 844.7h0M201.2 846.2h0" stroke="#2F9F2F" stroke-width="1.20" stroke-linecap="round" fill="none" /><path d="M205.2 844.4h0M203.9 848.7h0M188.1 847.2h0M184.8 848.7h0M210.1 843.7h0M208.9 851.6h0M206.8 846.2h0M193.9 844.2h0M203.0 847.9h0M203.1 855.9h0M207.9 842.8h0M214.6 850.4h0M184.5 851.5h0M190.9 847.4h0M202.7 844.5h0M205.8 845.8h0M200.0 853.6h0" stroke="#3CB43C" stroke-width="0.80" stroke-linecap="round" fill="none" /><path d="M193.5 847.9h0M209.7 850.0h0M199.7 854.0h0M209.7 846.1h0M184.6 849.1h0M191.4 843.5h0M186.4 851.7h0M201.8 842.8h0M183.2 852.1h0M212.3 846.9h0M191.6 844.9h0M195.1 855.6h0" stroke="#2A8A2A" stroke-width="1.20" stroke-linecap="round" fill="none" /><path d="M201.4 855.3h0M204.7 843.4h0M201.2 856.6h0M204.1 850.8h0M194.4 843.9h0M210.0 845.8h0M216.6 846.3h0M189.7 852.9h0M198.5 843.2h0M188.2 848.4h0M204.9 850.9h0M195.1 849.9h0" stroke="#1E6A1E" stroke-width="0.80" stroke-linecap="round" fill="none" /><path d="M211.6 854.4h0M198.8 850.4h0M198.5 845.2h0" stroke="#1A5A1A" stroke-width="0.40" stroke-linecap="round" fill="none" /><path d="M186.0 845.2h0M218.3 847.7h0M183.7 855.2h0M203.6 843.3h0M209.2 847.4h0M214.0 844.6h0M218.4 850.0h0M190.8 845.3h0M189.4 851.8h0M184.9 848.5h0M207.9 843.6h0M216.3 846.3h0M207.0 843.4h0M216.9 850.8h0" stroke="#5AC85A" stroke-width="0.80" stroke-linecap="round" fill="none" /><path d="M214.7 847.7h0M202.7 852.5h0M212.1 847.4h0M212.9 846.0h0M182.5 848.9h0M205.0 842.4h0M211.2 846.8h0M187.9 847.0h0M192.9 843.7h0M191.3 851.4h0M209.6 854.5h0M215.6 854.7h0" stroke="#2A8A2A" stroke-width="0.80" stroke-linecap="round" fill="none" /><path d="M202.9 852.2h0M196.2 846.8h0M202.3 846.7h0M192.6 846.9h0M183.0 853.1h0M204.1 845.5h0M204.2 842.5h0" stroke="#2A8A2A" stroke-width="0.40" stroke-linecap="round" fill="none" /><path d="M193.1 845.5h0M194.7 845.2h0" stroke="#3AAA3A" stroke-width="0.40" stroke-linecap="round" fill="none" /><path d="M193.2 852.7h0M210.8 847.2h0M189.9 847.2h0M194.5 855.7h0M205.3 844.6h0M188.3 856.3h0" stroke="#1E6A1E" stroke-width="1.20" stroke-linecap="round" fill="none" /><path d="M208.9 847.8h0M191.2 846.4h0M213.9 856.0h0" stroke="#1E6A1E" stroke-width="0.40" stroke-linecap="round" fill="none" /><path d="M206.6 844.3h0M214.3 847.6h0M189.0 848.0h0M211.4 844.5h0M187.9 851.0h0M186.0 849.0h0M189.0 846.8h0" stroke="#3CB43C" stroke-width="1.20" stroke-linecap="round" fill="none" /><path d="M188.3 843.9h0M191.8 843.6h0M197.5 845.5h0M206.8 850.2h0M205.5 853.3h0M192.5 846.0h0M198.7 848.0h0M207.1 843.5h0M201.3 845.7h0M207.0 845.0h0M200.7 854.8h0M190.8 852.8h0M203.0 844.2h0M196.0 852.9h0M192.1 846.2h0M208.3 843.4h0M192.4 845.5h0M194.7 844.7h0" stroke="#2F9F2F" stroke-width="0.80" stroke-linecap="round" fill="none" /><path d="M200.3 854.9h0M189.6 852.1h0" stroke="#2F9F2F" stroke-width="0.40" stroke-linecap="round" fill="none" /><path d="M192.8 846.3h0M212.5 845.9h0M190.9 843.4h0M182.3 854.2h0M195.2 849.1h0M218.9 852.2h0" stroke="#3CB43C" stroke-width="0.40" stroke-linecap="round" fill="none" /></g><path d="M186.4,809.3 C186.8,809.9 188.1,811.4 189.1,813.3 C190.0,815.2 191.0,818.0 192.1,820.6 C193.1,823.1 194.2,826.3 195.4,828.4 C196.5,830.6 197.8,831.8 198.9,833.3 C200.0,834.8 201.0,836.5 201.9,837.5 C202.8,838.4 203.4,838.7 204.3,838.8 C205.2,838.9 206.5,838.3 207.3,838.2 C208.1,838.1 207.2,837.9 209.1,838.0 C211.0,838.0 217.0,838.3 218.6,838.4" fill="none" stroke="#8a8a8a" stroke-width="0.4" stroke-dasharray="0.8,0.8"/><path d="M180.5,851.0 C180.7,850.8 180.9,851.0 181.6,850.2 C182.3,849.3 183.5,847.1 184.6,845.9 C185.7,844.8 186.9,843.4 188.2,843.0 C189.5,842.6 190.6,843.5 192.4,843.5 C194.1,843.6 196.8,843.5 198.9,843.2 C201.0,843.0 203.5,842.3 204.9,842.0 C206.3,841.8 206.4,841.5 207.3,841.7 C208.2,841.9 208.5,842.8 210.3,843.0 C212.2,843.3 217.2,843.2 218.6,843.2" fill="none" stroke="#8a8a8a" stroke-width="0.4" stroke-dasharray="0.8,0.8"/><g filter="url(#kb)"><path d="M202.0 882.5h0M205.3 872.7h0M209.9 873.9h0M215.3 857.3h0M210.8 869.9h0M211.0 859.1h0M199.0 873.7h0M208.8 879.9h0M208.3 865.6h0M201.6 876.8h0M188.6 859.5h0M201.5 858.9h0M200.2 873.2h0" stroke="#5A1010" stroke-width="1.20" stroke-linecap="round" fill="none" /><path d="M198.4 878.3h0M198.4 862.6h0M214.4 861.1h0M208.1 865.4h0M191.3 862.3h0M204.4 864.8h0M218.7 865.2h0M203.6 870.0h0M212.9 880.5h0M207.6 878.2h0M199.8 872.7h0M199.5 866.4h0M217.1 858.5h0M210.5 857.9h0" stroke="#3A0A0A" stroke-width="0.80" stroke-linecap="round" fill="none" /><path d="M194.9 865.6h0M208.8 864.9h0M215.7 867.3h0M217.2 860.9h0M213.9 885.3h0M201.4 873.9h0M193.8 859.1h0M204.8 879.4h0M196.5 871.3h0M207.2 874.1h0M200.0 874.7h0M217.8 875.3h0M219.0 859.0h0M202.8 858.5h0M202.2 878.7h0M214.3 882.3h0M207.1 869.1h0M216.9 865.1h0M206.4 875.9h0M197.2 874.0h0M195.1 871.6h0M217.0 870.1h0M217.1 859.9h0M201.8 862.0h0M207.8 884.6h0M198.8 867.9h0" stroke="#4A0C0C" stroke-width="0.80" stroke-linecap="round" fill="none" /><path d="M213.1 865.0h0M204.7 881.3h0M211.4 856.5h0M217.4 884.6h0M206.6 881.9h0M202.9 858.4h0M187.1 857.7h0M211.4 876.9h0M196.2 867.9h0M192.5 864.4h0M196.2 864.5h0M217.8 881.1h0M202.3 880.7h0M213.0 883.1h0M198.9 879.3h0M199.6 868.6h0M203.8 865.2h0M206.2 879.5h0M192.3 866.6h0M197.4 866.4h0M213.2 869.0h0M202.6 864.9h0M198.1 875.0h0" stroke="#5A1010" stroke-width="0.80" stroke-linecap="round" fill="none" /><path d="M210.8 860.3h0M214.3 877.2h0M217.6 872.5h0M218.6 859.7h0M200.8 864.8h0M213.4 881.2h0M198.1 858.0h0M194.7 870.4h0M201.3 875.5h0M200.5 860.5h0M207.0 871.7h0M203.6 865.2h0M202.4 874.1h0M198.6 863.9h0M216.5 876.3h0M193.3 867.8h0M202.5 876.9h0M202.1 867.1h0M196.1 860.0h0M196.2 876.1h0M218.1 869.4h0M206.8 882.2h0M198.3 862.9h0" stroke="#6A1414" stroke-width="0.80" stroke-linecap="round" fill="none" /><path d="M216.4 859.1h0M194.4 873.4h0M199.0 869.6h0M216.2 880.0h0M217.4 872.1h0M195.2 866.2h0M194.6 873.1h0M194.8 857.2h0M193.5 867.0h0M205.7 863.6h0M194.0 868.5h0M195.2 867.0h0" stroke="#6A1414" stroke-width="1.20" stroke-linecap="round" fill="none" /><path d="M195.2 863.8h0M212.4 859.4h0M218.1 864.8h0M212.6 881.7h0M200.6 871.3h0M215.7 857.1h0M212.5 866.1h0M215.9 885.4h0M210.9 860.2h0M199.7 879.2h0M211.7 866.4h0M204.8 858.3h0M216.6 866.6h0M216.9 871.7h0M215.9 868.9h0M213.4 863.8h0M217.7 884.8h0M210.9 874.3h0M209.8 874.8h0M210.6 880.4h0" stroke="#4A0C0C" stroke-width="1.20" stroke-linecap="round" fill="none" /><path d="M197.5 871.6h0M210.5 883.8h0M199.3 867.3h0M197.4 877.1h0M193.4 856.8h0M190.0 860.8h0M204.1 874.5h0M210.6 872.7h0M193.4 867.0h0" stroke="#3A0A0A" stroke-width="1.20" stroke-linecap="round" fill="none" /></g><g filter="url(#kb)"><path d="M215.4 890.8h0M193.2 900.5h0M199.8 894.2h0M189.7 891.9h0M218.4 893.8h0M215.2 899.3h0M218.7 898.8h0M211.2 902.3h0M199.5 892.1h0M201.6 893.6h0M184.1 902.1h0M210.5 897.0h0M211.2 898.3h0M189.8 903.3h0M197.9 892.0h0M209.8 902.3h0M211.8 900.9h0" stroke="#7A1616" stroke-width="1.20" stroke-linecap="round" fill="none" /><path d="M192.7 893.4h0M185.8 903.1h0M207.3 898.6h0M189.3 898.1h0M197.0 891.7h0M201.0 900.4h0M218.4 895.9h0M205.7 895.4h0M200.1 902.3h0M193.8 897.8h0M183.2 896.6h0M194.9 893.7h0M215.1 900.5h0M183.4 899.5h0M208.3 901.7h0M193.6 894.5h0M197.3 894.8h0M200.4 892.9h0M209.3 902.1h0M207.5 900.7h0M195.4 891.5h0M200.8 894.7h0" stroke="#7A1616" stroke-width="0.80" stroke-linecap="round" fill="none" /><path d="M203.0 899.6h0M186.5 895.2h0M211.6 897.4h0M208.0 900.2h0M195.7 892.9h0M182.6 898.9h0M215.8 899.7h0M203.8 890.1h0M206.7 902.5h0M198.6 893.9h0M200.2 901.5h0M197.9 901.7h0M212.9 900.2h0M183.5 899.4h0M213.8 895.4h0M217.6 895.5h0M199.4 902.0h0M206.4 902.2h0M198.2 900.5h0M190.6 898.9h0M209.4 903.0h0" stroke="#8A1A1A" stroke-width="0.80" stroke-linecap="round" fill="none" /><path d="M198.3 900.8h0M185.5 901.1h0M184.8 901.9h0M216.4 901.4h0M207.4 889.7h0M191.3 899.0h0M197.5 897.2h0M207.7 898.8h0M189.6 891.1h0M206.7 898.4h0M194.8 901.3h0M186.4 902.6h0M190.3 902.9h0" stroke="#8A1A1A" stroke-width="1.20" stroke-linecap="round" fill="none" /><path d="M217.0 901.6h0M191.2 894.1h0M211.9 899.6h0M213.5 892.3h0M180.7 899.8h0M217.4 897.6h0M214.8 894.5h0M201.6 897.9h0" stroke="#5A1010" stroke-width="1.20" stroke-linecap="round" fill="none" /><path d="M199.6 900.3h0M210.8 900.9h0M211.2 901.8h0M211.4 899.6h0M208.5 900.6h0M217.7 897.5h0M201.3 895.6h0M213.0 894.0h0M206.8 897.9h0M202.1 901.5h0M193.4 899.6h0M195.3 894.9h0M216.5 897.7h0M205.8 893.5h0M200.7 896.8h0M205.8 894.3h0M191.2 893.7h0" stroke="#4A0C0C" stroke-width="0.80" stroke-linecap="round" fill="none" /><path d="M191.2 894.4h0M212.9 891.4h0M199.5 898.4h0M213.7 900.1h0M217.8 901.2h0M206.0 891.4h0M187.6 896.1h0M192.5 891.6h0M206.3 895.7h0M186.7 898.5h0M214.1 892.1h0M189.6 896.5h0M180.3 901.9h0" stroke="#5A1010" stroke-width="0.80" stroke-linecap="round" fill="none" /><path d="M193.0 892.4h0M212.9 892.0h0M198.0 892.0h0M217.7 896.6h0M214.4 899.5h0M197.8 897.7h0M184.7 896.3h0M187.1 897.3h0M216.0 903.0h0" stroke="#4A0C0C" stroke-width="1.20" stroke-linecap="round" fill="none" /></g><path d="M186.4,856.6 C186.8,857.2 188.1,858.7 189.1,860.6 C190.0,862.5 191.0,865.3 192.1,867.9 C193.1,870.4 194.2,873.6 195.4,875.7 C196.5,877.9 197.8,879.1 198.9,880.6 C200.0,882.1 201.0,883.8 201.9,884.8 C202.8,885.7 203.4,886.0 204.3,886.1 C205.2,886.2 206.5,885.6 207.3,885.5 C208.1,885.4 207.2,885.2 209.1,885.3 C211.0,885.3 217.0,885.6 218.6,885.7" fill="none" stroke="#8a8a8a" stroke-width="0.4" stroke-dasharray="0.8,0.8"/><path d="M180.5,898.3 C180.7,898.1 180.9,898.3 181.6,897.5 C182.3,896.6 183.5,894.4 184.6,893.2 C185.7,892.1 186.9,890.7 188.2,890.3 C189.5,889.9 190.6,890.8 192.4,890.8 C194.1,890.9 196.8,890.8 198.9,890.5 C201.0,890.3 203.5,889.6 204.9,889.3 C206.3,889.1 206.4,888.8 207.3,889.0 C208.2,889.2 208.5,890.1 210.3,890.3 C212.2,890.6 217.2,890.5 218.6,890.5" fill="none" stroke="#8a8a8a" stroke-width="0.4" stroke-dasharray="0.8,0.8"/><rect x="181.10" y="808.30" width="37.10" height="1.20" fill="#9a9a9a" /><rect x="181.10" y="855.60" width="37.10" height="1.20" fill="#9a9a9a" /></g>
<g clip-path="url(#cs2)"><g filter="url(#kb)"><ellipse cx="359.8" cy="770.1" rx="0.7" ry="0.7" fill="#1E1EB8"/><ellipse cx="355.1" cy="775.1" rx="1.0" ry="1.0" fill="#1212A4"/><ellipse cx="356.0" cy="773.5" rx="0.8" ry="0.8" fill="#1818C0"/><ellipse cx="354.9" cy="770.6" rx="0.8" ry="0.8" fill="#1212A4"/><ellipse cx="359.1" cy="761.2" rx="0.7" ry="0.7" fill="#2020D0"/><ellipse cx="356.7" cy="761.5" rx="0.9" ry="0.8" fill="#1C1CD6"/><ellipse cx="357.6" cy="764.6" rx="1.0" ry="0.9" fill="#1818C0"/><ellipse cx="362.2" cy="767.9" rx="0.8" ry="0.8" fill="#2424EC"/><ellipse cx="356.5" cy="767.4" rx="1.1" ry="1.1" fill="#2020D0"/><ellipse cx="358.6" cy="775.1" rx="0.8" ry="0.7" fill="#1C1CD6"/><ellipse cx="355.4" cy="765.8" rx="1.0" ry="0.9" fill="#2A2AEE"/><ellipse cx="360.9" cy="763.4" rx="1.0" ry="0.8" fill="#2020D0"/><ellipse cx="356.9" cy="771.4" rx="0.7" ry="0.7" fill="#2A2AEE"/><ellipse cx="353.5" cy="762.4" rx="0.7" ry="0.7" fill="#1C1CD6"/><ellipse cx="355.0" cy="761.2" rx="0.8" ry="0.7" fill="#1E1EB8"/><ellipse cx="357.0" cy="774.8" rx="1.0" ry="1.0" fill="#2424EC"/><ellipse cx="360.6" cy="773.0" rx="0.9" ry="0.8" fill="#2020D0"/><ellipse cx="354.5" cy="763.9" rx="0.9" ry="0.9" fill="#2A2AEE"/><ellipse cx="359.8" cy="776.1" rx="0.8" ry="0.7" fill="#2424EC"/><ellipse cx="361.2" cy="761.2" rx="0.8" ry="0.6" fill="#2424EC"/><ellipse cx="354.2" cy="766.9" rx="0.7" ry="0.6" fill="#1818C0"/><ellipse cx="358.9" cy="771.9" rx="0.9" ry="0.7" fill="#1E1EB8"/><ellipse cx="359.3" cy="763.4" rx="1.1" ry="1.0" fill="#1212A4"/><ellipse cx="360.8" cy="765.7" rx="1.1" ry="1.1" fill="#1212A4"/><ellipse cx="361.7" cy="770.1" rx="1.1" ry="1.1" fill="#1212A4"/><ellipse cx="356.5" cy="784.8" rx="0.9" ry="0.8" fill="#2424EC"/><ellipse cx="355.4" cy="780.6" rx="0.7" ry="0.7" fill="#2020D0"/><ellipse cx="359.4" cy="785.8" rx="0.7" ry="0.7" fill="#2A2AEE"/><ellipse cx="360.9" cy="783.5" rx="0.8" ry="0.8" fill="#1E1EB8"/><ellipse cx="355.8" cy="782.4" rx="0.7" ry="0.7" fill="#2424EC"/><ellipse cx="355.9" cy="779.0" rx="0.8" ry="0.8" fill="#1212A4"/><ellipse cx="359.0" cy="782.1" rx="0.7" ry="0.6" fill="#1E1EB8"/><ellipse cx="356.7" cy="796.5" rx="1.0" ry="0.8" fill="#1212A4"/><ellipse cx="356.2" cy="794.8" rx="0.7" ry="0.7" fill="#2020D0"/><ellipse cx="359.6" cy="792.9" rx="1.0" ry="0.7" fill="#1818C0"/><ellipse cx="359.1" cy="795.4" rx="0.6" ry="0.6" fill="#2424EC"/><ellipse cx="358.3" cy="791.2" rx="1.0" ry="0.9" fill="#2020D0"/></g><path d="M343.6,761.1 C344.0,762.9 345.2,768.0 346.0,771.6 C346.8,775.1 347.5,779.0 348.4,782.4 C349.3,785.8 350.5,789.1 351.3,792.1 C352.2,795.1 353.0,797.8 353.7,800.6 C354.5,803.3 355.6,807.2 356.0,808.5" fill="none" stroke="#8a8a8a" stroke-width="0.4" stroke-dasharray="0.8,0.8"/><path d="M368.3,761.1 C368.3,763.4 368.3,771.3 368.0,774.6 C367.8,777.8 367.2,778.9 366.8,780.6 C366.5,782.3 366.0,782.8 365.9,784.8 C365.8,786.9 366.0,789.9 366.2,792.7 C366.4,795.5 366.9,799.1 367.1,801.8 C367.4,804.4 367.7,807.4 367.8,808.5" fill="none" stroke="#8a8a8a" stroke-width="0.4" stroke-dasharray="0.8,0.8"/><g filter="url(#kb)"><path d="M351.1 835.6h0M353.3 844.8h0M344.9 812.6h0M351.6 839.5h0M352.6 842.2h0M354.3 847.0h0M347.1 819.2h0M347.1 821.7h0M349.9 834.7h0M348.9 827.1h0M357.0 856.4h0M354.3 843.9h0M346.5 816.0h0M347.7 822.7h0M357.3 854.7h0M346.9 820.9h0M350.3 833.3h0" stroke="#2FA02F" stroke-width="0.80" stroke-linecap="round" fill="none" /><path d="M349.7 832.7h0M346.0 818.0h0M345.1 814.0h0M347.0 820.3h0M351.5 834.6h0M352.8 843.2h0M353.6 844.5h0M344.9 813.4h0M353.2 841.9h0M349.3 826.5h0M355.9 850.9h0M353.2 845.5h0M351.9 838.9h0M353.5 843.6h0M347.7 820.7h0" stroke="#228A22" stroke-width="0.80" stroke-linecap="round" fill="none" /><path d="M353.3 845.1h0M354.0 845.1h0M348.9 829.7h0M350.9 833.9h0M350.5 835.4h0" stroke="#2FA02F" stroke-width="1.20" stroke-linecap="round" fill="none" /><path d="M355.1 849.5h0M350.7 835.5h0M345.7 815.1h0M345.8 816.9h0M354.0 848.6h0M353.0 840.9h0M353.6 842.1h0M355.0 851.3h0M353.2 843.7h0M352.6 843.7h0M348.0 820.8h0M354.7 847.4h0M346.8 820.2h0M350.6 836.9h0M347.6 824.0h0M349.8 832.9h0M347.4 823.4h0M348.4 826.2h0" stroke="#3CC03C" stroke-width="0.80" stroke-linecap="round" fill="none" /><path d="M353.3 842.9h0M346.7 816.8h0" stroke="#3CC03C" stroke-width="1.20" stroke-linecap="round" fill="none" /><path d="M347.8 822.3h0M349.0 829.2h0M347.6 822.5h0" stroke="#228A22" stroke-width="1.20" stroke-linecap="round" fill="none" /></g><g filter="url(#kb)"><path d="M365.0 830.4h0M366.3 846.0h0M364.6 840.2h0M367.9 817.1h0M365.7 832.0h0M366.5 816.1h0M367.6 815.7h0M366.7 828.0h0M365.6 841.4h0M365.2 840.1h0M365.9 840.8h0M366.4 844.8h0" stroke="#2FA02F" stroke-width="0.80" stroke-linecap="round" fill="none" /><path d="M366.2 827.7h0M365.7 829.9h0M366.0 845.8h0M365.4 826.7h0M364.8 834.0h0M366.3 850.5h0M366.9 811.8h0M366.3 827.9h0M366.7 826.6h0M365.8 828.4h0M367.3 821.4h0M366.6 846.7h0M365.1 843.7h0M367.7 820.7h0M364.6 839.0h0M366.7 820.6h0M367.8 822.6h0M365.8 825.0h0M366.5 817.9h0M367.3 855.2h0" stroke="#3CC03C" stroke-width="0.80" stroke-linecap="round" fill="none" /><path d="M366.2 824.9h0M365.7 840.0h0M365.0 846.6h0M366.7 821.0h0M366.6 813.3h0" stroke="#228A22" stroke-width="1.20" stroke-linecap="round" fill="none" /><path d="M364.3 836.1h0M366.9 818.1h0M366.5 828.3h0M365.9 854.3h0M365.2 839.1h0M367.1 808.5h0M365.5 848.3h0M367.8 817.3h0M366.4 855.2h0M367.3 821.3h0M366.5 854.7h0M367.0 853.0h0M366.7 810.7h0M367.2 855.6h0M365.4 848.6h0" stroke="#228A22" stroke-width="0.80" stroke-linecap="round" fill="none" /><path d="M366.1 854.5h0M366.0 852.2h0M366.9 819.4h0M367.3 809.6h0" stroke="#2FA02F" stroke-width="1.20" stroke-linecap="round" fill="none" /><path d="M367.3 813.1h0M365.7 850.7h0M365.0 830.6h0M367.4 816.3h0" stroke="#3CC03C" stroke-width="1.20" stroke-linecap="round" fill="none" /></g><g filter="url(#kb)"><path d="M355.9 831.3h0M353.7 832.9h0M359.4 828.8h0M359.1 824.0h0" stroke="#2F9F2F" stroke-width="1.20" stroke-linecap="round" fill="none" /><path d="M360.1 812.9h0M356.9 843.5h0M363.2 850.9h0" stroke="#2A8A2A" stroke-width="1.20" stroke-linecap="round" fill="none" /><path d="M354.3 841.1h0M354.1 827.2h0M347.1 809.8h0" stroke="#3AAA3A" stroke-width="0.80" stroke-linecap="round" fill="none" /><path d="M361.6 810.8h0M362.7 816.8h0M356.4 842.5h0" stroke="#2A8A2A" stroke-width="0.80" stroke-linecap="round" fill="none" /><path d="M362.7 815.4h0" stroke="#2F9F2F" stroke-width="0.80" stroke-linecap="round" fill="none" /><path d="M352.5 816.4h0M366.0 820.9h0M354.8 843.3h0M360.8 819.1h0" stroke="#1E6A1E" stroke-width="0.80" stroke-linecap="round" fill="none" /><path d="M361.8 816.9h0M355.7 831.6h0" stroke="#1A5A1A" stroke-width="1.20" stroke-linecap="round" fill="none" /><path d="M360.8 814.1h0" stroke="#1A5A1A" stroke-width="0.80" stroke-linecap="round" fill="none" /><path d="M361.7 848.5h0M357.5 820.8h0M364.0 810.5h0" stroke="#1E6A1E" stroke-width="1.20" stroke-linecap="round" fill="none" /><path d="M358.3 834.3h0" stroke="#3AAA3A" stroke-width="1.20" stroke-linecap="round" fill="none" /></g><path d="M343.6,808.9 C344.0,810.7 345.2,815.8 346.0,819.4 C346.8,822.9 347.5,826.8 348.4,830.2 C349.3,833.6 350.5,836.9 351.3,839.9 C352.2,842.9 353.0,845.6 353.7,848.4 C354.5,851.1 355.6,855.0 356.0,856.3" fill="none" stroke="#8a8a8a" stroke-width="0.4" stroke-dasharray="0.8,0.8"/><path d="M368.3,808.9 C368.3,811.2 368.3,819.1 368.0,822.4 C367.8,825.6 367.2,826.7 366.8,828.4 C366.5,830.1 366.0,830.6 365.9,832.6 C365.8,834.7 366.0,837.7 366.2,840.5 C366.4,843.3 366.9,846.9 367.1,849.6 C367.4,852.2 367.7,855.2 367.8,856.3" fill="none" stroke="#8a8a8a" stroke-width="0.4" stroke-dasharray="0.8,0.8"/><g filter="url(#kb)"><path d="M345.0 860.0h0M357.1 901.3h0M344.8 856.4h0M347.7 871.7h0M346.4 867.2h0M356.1 902.3h0M356.4 902.6h0M352.8 887.6h0M348.7 874.7h0M350.6 879.7h0M346.1 865.5h0M351.3 884.5h0M346.7 866.2h0M356.3 899.1h0" stroke="#D82828" stroke-width="0.80" stroke-linecap="round" fill="none" /><path d="M350.4 879.2h0M348.3 870.1h0M351.6 884.7h0M352.4 889.6h0M354.9 897.9h0M351.7 883.4h0M349.2 875.4h0M355.8 899.1h0M350.4 881.1h0M344.3 857.1h0M347.6 872.6h0M346.5 867.6h0M353.2 891.1h0M346.5 867.0h0" stroke="#A01818" stroke-width="0.80" stroke-linecap="round" fill="none" /><path d="M349.1 875.2h0M347.6 872.6h0M347.6 871.6h0M354.7 894.8h0M345.3 856.0h0M345.0 861.5h0M356.3 899.2h0M348.9 878.5h0M354.5 895.2h0M345.0 857.6h0M348.5 870.6h0M345.2 857.5h0M349.7 875.4h0M347.9 869.9h0M356.2 900.1h0M353.7 894.0h0M344.1 857.1h0M351.8 888.0h0M351.4 884.7h0M352.8 889.0h0" stroke="#C02020" stroke-width="0.80" stroke-linecap="round" fill="none" /><path d="M345.5 862.6h0M347.8 870.2h0" stroke="#C02020" stroke-width="1.20" stroke-linecap="round" fill="none" /><path d="M345.6 859.3h0M344.9 855.8h0M355.9 900.1h0M347.6 868.5h0" stroke="#D82828" stroke-width="1.20" stroke-linecap="round" fill="none" /><path d="M355.7 900.7h0M350.2 881.6h0M348.1 869.1h0M349.1 875.8h0M345.3 861.0h0M353.6 893.9h0" stroke="#A01818" stroke-width="1.20" stroke-linecap="round" fill="none" /></g><g filter="url(#kb)"><path d="M365.4 882.8h0M367.1 900.0h0M364.5 878.9h0M366.5 862.7h0M366.9 863.9h0M365.7 879.5h0M367.4 867.4h0M366.0 887.6h0M364.9 879.4h0M366.8 864.2h0M365.2 890.8h0M366.1 892.9h0M365.4 879.4h0M367.5 868.8h0M367.1 856.7h0" stroke="#D82828" stroke-width="0.80" stroke-linecap="round" fill="none" /><path d="M366.0 886.2h0M365.4 890.1h0M365.3 885.1h0M365.0 887.9h0M366.5 863.7h0M365.7 884.6h0M366.9 860.6h0M367.0 859.5h0M365.7 893.3h0M365.2 889.9h0M365.3 896.4h0M367.0 868.5h0M365.6 894.3h0M367.6 868.3h0M365.2 892.7h0M366.7 873.1h0M367.3 857.7h0" stroke="#A01818" stroke-width="0.80" stroke-linecap="round" fill="none" /><path d="M365.3 891.5h0M365.1 883.9h0M364.9 887.5h0M365.5 898.1h0M365.7 875.5h0M365.1 892.0h0M367.6 865.1h0M365.0 885.1h0M364.8 881.0h0M366.2 903.3h0M367.2 861.6h0M367.9 862.2h0M366.5 867.3h0M367.0 869.3h0" stroke="#C02020" stroke-width="0.80" stroke-linecap="round" fill="none" /><path d="M366.9 862.6h0M365.9 899.2h0M365.2 884.8h0M365.9 896.9h0M367.9 864.5h0" stroke="#C02020" stroke-width="1.20" stroke-linecap="round" fill="none" /><path d="M365.8 886.3h0M364.2 880.1h0M367.4 861.7h0M365.9 876.9h0M365.0 879.5h0M367.5 902.7h0" stroke="#D82828" stroke-width="1.20" stroke-linecap="round" fill="none" /><path d="M367.0 856.1h0M364.6 883.8h0M365.4 895.9h0" stroke="#A01818" stroke-width="1.20" stroke-linecap="round" fill="none" /></g><g filter="url(#kb)"><path d="M358.7 892.5h0M360.7 902.4h0M359.1 879.8h0M351.9 878.4h0M355.4 869.2h0M364.9 870.6h0M366.7 861.7h0M357.8 884.2h0M363.9 898.3h0M363.2 865.6h0" stroke="#6A1010" stroke-width="0.80" stroke-linecap="round" fill="none" /><path d="M354.8 882.6h0M357.8 895.7h0M350.9 858.3h0" stroke="#8A1616" stroke-width="1.20" stroke-linecap="round" fill="none" /><path d="M356.4 864.0h0M358.1 896.7h0M352.6 866.5h0M365.8 898.5h0M359.6 889.9h0M353.4 886.9h0M358.3 866.4h0M354.6 882.3h0M351.7 869.3h0M356.0 898.0h0M349.1 859.0h0M354.4 860.8h0M358.1 892.3h0M354.0 873.5h0" stroke="#A01A1A" stroke-width="0.80" stroke-linecap="round" fill="none" /><path d="M356.0 876.5h0M362.0 867.2h0M359.0 871.2h0M362.0 872.5h0M357.3 871.0h0M348.1 857.0h0" stroke="#8A1616" stroke-width="0.80" stroke-linecap="round" fill="none" /><path d="M358.2 858.3h0M350.8 862.5h0M354.2 879.5h0M358.7 863.7h0" stroke="#6A1010" stroke-width="1.20" stroke-linecap="round" fill="none" /><path d="M353.3 858.3h0M358.9 864.8h0M357.9 869.8h0" stroke="#A01A1A" stroke-width="1.20" stroke-linecap="round" fill="none" /></g><path d="M343.6,856.2 C344.0,858.0 345.2,863.1 346.0,866.7 C346.8,870.2 347.5,874.1 348.4,877.5 C349.3,880.9 350.5,884.2 351.3,887.2 C352.2,890.2 353.0,892.9 353.7,895.7 C354.5,898.4 355.6,902.3 356.0,903.6" fill="none" stroke="#8a8a8a" stroke-width="0.4" stroke-dasharray="0.8,0.8"/><path d="M368.3,856.2 C368.3,858.5 368.3,866.4 368.0,869.7 C367.8,872.9 367.2,874.0 366.8,875.7 C366.5,877.4 366.0,877.9 365.9,879.9 C365.8,882.0 366.0,885.0 366.2,887.8 C366.4,890.6 366.9,894.2 367.1,896.9 C367.4,899.5 367.7,902.5 367.8,903.6" fill="none" stroke="#8a8a8a" stroke-width="0.4" stroke-dasharray="0.8,0.8"/><rect x="341.00" y="808.30" width="36.90" height="1.20" fill="#9a9a9a" /><rect x="341.00" y="855.60" width="36.90" height="1.20" fill="#9a9a9a" /></g>
<g clip-path="url(#cs1b)"><path d="M181.1,916.7 C193.1,912.7 206.1,909.7 218.2,907.7" fill="none" stroke="#9a9a9a" stroke-width="0.5" stroke-dasharray="1,1"/><path d="M181.1,936.6 C193.1,932.6 206.1,929.6 218.2,927.6" fill="none" stroke="#9a9a9a" stroke-width="0.5" stroke-dasharray="1,1"/><path d="M181.1,937.6 C193.1,933.6 206.1,930.6 218.2,928.6" stroke="#3DBA3D" stroke-width="1.4" fill="none" filter="url(#kb)"/><path d="M181.1,955.7 C193.1,951.7 206.1,948.7 218.2,946.7" fill="none" stroke="#9a9a9a" stroke-width="0.5" stroke-dasharray="1,1"/><rect x="181.10" y="923.20" width="37.10" height="0.60" fill="#888" /><rect x="181.10" y="942.30" width="37.10" height="0.60" fill="#888" /></g>
<g clip-path="url(#cs2b)"><g filter="url(#kb)"><ellipse cx="367.4" cy="905.3" rx="1.9" ry="1.7" fill="#3434F0"/><ellipse cx="349.4" cy="906.9" rx="1.4" ry="1.5" fill="#1E1EC8"/><ellipse cx="356.4" cy="908.0" rx="1.4" ry="1.3" fill="#1616A8"/><ellipse cx="366.6" cy="904.4" rx="1.3" ry="1.0" fill="#1616A8"/><ellipse cx="343.3" cy="904.3" rx="1.9" ry="1.5" fill="#1E1EC8"/><ellipse cx="376.1" cy="908.6" rx="1.3" ry="1.2" fill="#2626E6"/><ellipse cx="349.2" cy="907.9" rx="1.0" ry="0.9" fill="#3434F0"/><ellipse cx="363.5" cy="907.0" rx="1.1" ry="0.9" fill="#1616A8"/><ellipse cx="367.2" cy="905.9" rx="1.4" ry="1.4" fill="#3434F0"/></g><path d="M341.0,917.5 L377.9,918.0" fill="none" stroke="#7a7a7a" stroke-width="0.45" stroke-dasharray="1,1"/><path d="M341.0,924.3 L377.9,924.8" fill="none" stroke="#7a7a7a" stroke-width="0.45" stroke-dasharray="1,1"/><path d="M341.0,941.2 L377.9,941.7" fill="none" stroke="#7a7a7a" stroke-width="0.45" stroke-dasharray="1,1"/><path d="M341.0,948.0 L377.9,948.5" fill="none" stroke="#7a7a7a" stroke-width="0.45" stroke-dasharray="1,1"/><ellipse cx="350.0" cy="928.5" rx="2.6" ry="1.4" fill="#2E9A2E" filter="url(#kb)"/><ellipse cx="350.0" cy="946.8" rx="2.4" ry="1.3" fill="#8A1818" filter="url(#kb)"/><ellipse cx="355.0" cy="928.5" rx="2.6" ry="1.4" fill="#2E9A2E" filter="url(#kb)"/><ellipse cx="355.0" cy="946.8" rx="2.4" ry="1.3" fill="#8A1818" filter="url(#kb)"/><ellipse cx="366.0" cy="928.5" rx="2.6" ry="1.4" fill="#2E9A2E" filter="url(#kb)"/><ellipse cx="366.0" cy="946.8" rx="2.4" ry="1.3" fill="#8A1818" filter="url(#kb)"/><ellipse cx="374.0" cy="928.5" rx="2.6" ry="1.4" fill="#2E9A2E" filter="url(#kb)"/><ellipse cx="374.0" cy="946.8" rx="2.4" ry="1.3" fill="#8A1818" filter="url(#kb)"/><path d="M341.0,935.6 L377.9,936.8" stroke="#38B038" stroke-width="1.3" fill="none" filter="url(#kb)"/><path d="M341.0,954.2 L377.9,955.2" stroke="#C82020" stroke-width="1.3" fill="none" filter="url(#kb)"/></g>
<path d="M472.20,887.20 L472.20,872.80 L491.80,872.80 L491.80,887.20" fill="#fff" stroke="#000" stroke-width="1.0" />
<path d="M500.20,887.20 L500.20,824.70 L519.90,824.70 L519.90,887.20" fill="#fff" stroke="#EE2F3A" stroke-width="1.0" />
<line x1="482.00" y1="872.80" x2="482.00" y2="871.17" stroke="#000" stroke-width="0.8" /><line x1="480.00" y1="871.17" x2="484.00" y2="871.17" stroke="#000" stroke-width="0.8" />
<line x1="510.05" y1="824.70" x2="510.05" y2="818.16" stroke="#EE2F3A" stroke-width="0.8" /><line x1="508.05" y1="818.16" x2="512.05" y2="818.16" stroke="#EE2F3A" stroke-width="0.8" />
<circle cx="476.00" cy="871.17" r="1.75" fill="none" stroke="#000" stroke-width="0.75" />
<circle cx="479.50" cy="871.82" r="1.75" fill="none" stroke="#000" stroke-width="0.75" />
<circle cx="483.50" cy="871.49" r="1.75" fill="none" stroke="#000" stroke-width="0.75" />
<circle cx="487.50" cy="872.15" r="1.75" fill="none" stroke="#000" stroke-width="0.75" />
<circle cx="480.00" cy="875.42" r="1.75" fill="none" stroke="#000" stroke-width="0.75" />
<circle cx="484.00" cy="873.46" r="1.75" fill="none" stroke="#000" stroke-width="0.75" />
<circle cx="512.55" cy="813.58" r="1.75" fill="none" stroke="#EE2F3A" stroke-width="0.75" />
<circle cx="507.55" cy="816.52" r="1.75" fill="none" stroke="#EE2F3A" stroke-width="0.75" />
<circle cx="506.55" cy="823.07" r="1.75" fill="none" stroke="#EE2F3A" stroke-width="0.75" />
<circle cx="513.55" cy="824.70" r="1.75" fill="none" stroke="#EE2F3A" stroke-width="0.75" />
<circle cx="507.55" cy="830.92" r="1.75" fill="none" stroke="#EE2F3A" stroke-width="0.75" />
<circle cx="512.55" cy="832.23" r="1.75" fill="none" stroke="#EE2F3A" stroke-width="0.75" />
<text x="510.05" y="808.80" font-size="8.6" font-weight="bold" text-anchor="middle" fill="#222">**</text>
<line x1="467.30" y1="805.00" x2="467.30" y2="887.70" stroke="#000" stroke-width="1.1" />
<line x1="466.80" y1="887.20" x2="524.80" y2="887.20" stroke="#000" stroke-width="1.1" />
<line x1="464.70" y1="805.40" x2="467.30" y2="805.40" stroke="#000" stroke-width="1.0" />
<text x="463.90" y="808.50" font-size="8.8" font-weight="bold" text-anchor="end">25</text>
<line x1="464.70" y1="821.76" x2="467.30" y2="821.76" stroke="#000" stroke-width="1.0" />
<text x="463.90" y="824.86" font-size="8.8" font-weight="bold" text-anchor="end">20</text>
<line x1="464.70" y1="838.12" x2="467.30" y2="838.12" stroke="#000" stroke-width="1.0" />
<text x="463.90" y="841.22" font-size="8.8" font-weight="bold" text-anchor="end">15</text>
<line x1="464.70" y1="854.48" x2="467.30" y2="854.48" stroke="#000" stroke-width="1.0" />
<text x="463.90" y="857.58" font-size="8.8" font-weight="bold" text-anchor="end">10</text>
<line x1="464.70" y1="870.84" x2="467.30" y2="870.84" stroke="#000" stroke-width="1.0" />
<text x="463.90" y="873.94" font-size="8.8" font-weight="bold" text-anchor="end">5</text>
<line x1="464.70" y1="887.20" x2="467.30" y2="887.20" stroke="#000" stroke-width="1.0" />
<text x="463.90" y="890.30" font-size="8.8" font-weight="bold" text-anchor="end">0</text>
<line x1="482.00" y1="887.20" x2="482.00" y2="889.80" stroke="#000" stroke-width="1.0" />
<line x1="510.05" y1="887.20" x2="510.05" y2="889.80" stroke="#000" stroke-width="1.0" />
<text x="436.20" y="844.50" font-size="9.0" font-weight="bold" text-anchor="middle" transform="rotate(-90 436.20 844.50)">N.CD31<tspan font-size="6" dy="-3.6">hi</tspan><tspan dy="3.6"> Emcn</tspan><tspan font-size="6" dy="-3.6">hi</tspan><tspan dy="3.6">/TB.Ar</tspan></text>
<text x="447.80" y="845.20" font-size="9.0" font-weight="bold" text-anchor="middle" transform="rotate(-90 447.80 845.20)">(N/mm<tspan font-size="6" dy="-3.4">2</tspan><tspan dy="3.4">)</tspan></text>
<text x="483.60" y="896.80" font-size="9.3" font-weight="bold" text-anchor="end" transform="rotate(-45 483.60 896.80)">RKIP<tspan font-size="6.4" dy="-3.5" font-style="italic">f/f</tspan></text>
<text x="511.65" y="896.80" font-size="9.3" font-weight="bold" text-anchor="end" transform="rotate(-45 511.65 896.80)">RKIP<tspan font-size="6.4" dy="-3.5">LysM</tspan></text>
<path d="M593.40,887.20 L593.40,867.02 L612.70,867.02 L612.70,887.20" fill="#fff" stroke="#000" stroke-width="1.0" />
<path d="M620.90,887.20 L620.90,820.12 L639.90,820.12 L639.90,887.20" fill="#fff" stroke="#EE2F3A" stroke-width="1.0" />
<line x1="603.05" y1="867.02" x2="603.05" y2="862.66" stroke="#000" stroke-width="0.8" /><line x1="601.05" y1="862.66" x2="605.05" y2="862.66" stroke="#000" stroke-width="0.8" />
<line x1="630.40" y1="820.12" x2="630.40" y2="814.67" stroke="#EE2F3A" stroke-width="0.8" /><line x1="628.40" y1="814.67" x2="632.40" y2="814.67" stroke="#EE2F3A" stroke-width="0.8" />
<circle cx="603.05" cy="860.48" r="1.75" fill="none" stroke="#000" stroke-width="0.75" />
<circle cx="599.05" cy="864.30" r="1.75" fill="none" stroke="#000" stroke-width="0.75" />
<circle cx="607.05" cy="864.30" r="1.75" fill="none" stroke="#000" stroke-width="0.75" />
<circle cx="602.05" cy="868.11" r="1.75" fill="none" stroke="#000" stroke-width="0.75" />
<circle cx="600.05" cy="873.57" r="1.75" fill="none" stroke="#000" stroke-width="0.75" />
<circle cx="604.55" cy="871.93" r="1.75" fill="none" stroke="#000" stroke-width="0.75" />
<circle cx="630.90" cy="811.40" r="1.75" fill="none" stroke="#EE2F3A" stroke-width="0.75" />
<circle cx="628.40" cy="814.13" r="1.75" fill="none" stroke="#EE2F3A" stroke-width="0.75" />
<circle cx="633.40" cy="817.94" r="1.75" fill="none" stroke="#EE2F3A" stroke-width="0.75" />
<circle cx="625.40" cy="824.49" r="1.75" fill="none" stroke="#EE2F3A" stroke-width="0.75" />
<circle cx="635.40" cy="824.49" r="1.75" fill="none" stroke="#EE2F3A" stroke-width="0.75" />
<circle cx="630.40" cy="827.21" r="1.75" fill="none" stroke="#EE2F3A" stroke-width="0.75" />
<text x="630.40" y="806.60" font-size="8.6" font-weight="bold" text-anchor="middle" fill="#222">**</text>
<line x1="589.00" y1="805.00" x2="589.00" y2="887.70" stroke="#000" stroke-width="1.1" />
<line x1="588.50" y1="887.20" x2="644.80" y2="887.20" stroke="#000" stroke-width="1.1" />
<line x1="586.40" y1="805.40" x2="589.00" y2="805.40" stroke="#000" stroke-width="1.0" />
<text x="585.60" y="808.50" font-size="8.8" font-weight="bold" text-anchor="end">15</text>
<line x1="586.40" y1="832.67" x2="589.00" y2="832.67" stroke="#000" stroke-width="1.0" />
<text x="585.60" y="835.77" font-size="8.8" font-weight="bold" text-anchor="end">10</text>
<line x1="586.40" y1="859.93" x2="589.00" y2="859.93" stroke="#000" stroke-width="1.0" />
<text x="585.60" y="863.03" font-size="8.8" font-weight="bold" text-anchor="end">5</text>
<line x1="586.40" y1="887.20" x2="589.00" y2="887.20" stroke="#000" stroke-width="1.0" />
<text x="585.60" y="890.30" font-size="8.8" font-weight="bold" text-anchor="end">0</text>
<line x1="603.05" y1="887.20" x2="603.05" y2="889.80" stroke="#000" stroke-width="1.0" />
<line x1="630.40" y1="887.20" x2="630.40" y2="889.80" stroke="#000" stroke-width="1.0" />
<text x="558.60" y="844.50" font-size="9.0" font-weight="bold" text-anchor="middle" transform="rotate(-90 558.60 844.50)">N.CD31<tspan font-size="6" dy="-3.6">hi</tspan><tspan dy="3.6"> Emcn</tspan><tspan font-size="6" dy="-3.6">hi</tspan><tspan dy="3.6">/P.BS</tspan></text>
<text x="569.80" y="845.20" font-size="9.0" font-weight="bold" text-anchor="middle" transform="rotate(-90 569.80 845.20)">(N/mm<tspan font-size="6" dy="-3.4">2</tspan><tspan dy="3.4">)</tspan></text>
<text x="604.65" y="896.80" font-size="9.3" font-weight="bold" text-anchor="end" transform="rotate(-45 604.65 896.80)">RKIP<tspan font-size="6.4" dy="-3.5" font-style="italic">f/f</tspan></text>
<text x="632.00" y="896.80" font-size="9.3" font-weight="bold" text-anchor="end" transform="rotate(-45 632.00 896.80)">RKIP<tspan font-size="6.4" dy="-3.5">LysM</tspan></text>
</svg></body></html>
